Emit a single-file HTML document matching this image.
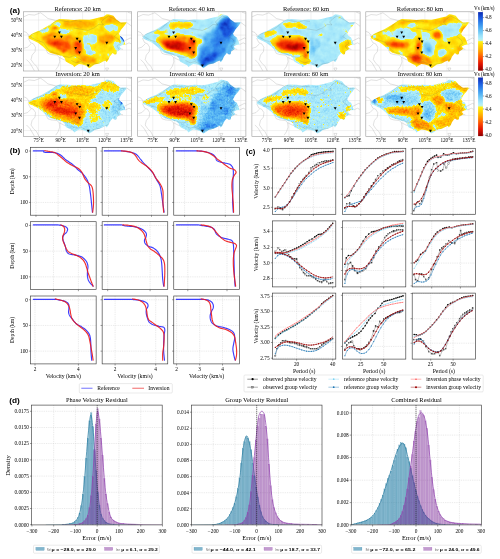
<!DOCTYPE html>
<html><head><meta charset="utf-8"><title>figure</title>
<style>html,body{margin:0;padding:0;background:#fff;}body{width:500px;height:559px;overflow:hidden;font-family:"Liberation Serif",serif;}svg{display:block;will-change:transform;transform:translateZ(0);filter:blur(0.32px)}</style>
</head><body>
<svg width="500" height="559" viewBox="0 0 500 559">
<rect width="500" height="559" fill="#fff"/>
<defs>
<clipPath id="chinaclip"><path d="M4.90,25.00 L8.50,22.00 L13.30,19.60 L18.10,17.80 L24.10,14.20 L28.90,11.20 L32.50,8.80 L36.10,7.20 L44.50,7.60 L50.50,8.20 L56.50,7.60 L65.90,8.00 L70.70,7.00 L75.50,5.80 L80.30,4.60 L83.30,2.40 L85.70,2.80 L89.90,4.00 L92.90,7.60 L97.10,10.60 L101.90,10.40 L103.30,10.80 L100.70,14.20 L97.70,17.80 L95.30,22.00 L96.50,24.00 L99.10,25.60 L100.50,28.60 L101.90,32.80 L98.90,33.10 L95.90,34.60 L97.70,37.00 L93.50,39.40 L92.90,42.40 L91.10,42.60 L89.10,41.20 L87.90,42.60 L86.10,45.00 L84.90,48.00 L83.10,50.40 L81.90,48.60 L79.50,49.80 L75.90,51.60 L71.10,52.80 L67.50,55.20 L65.70,56.40 L62.70,54.00 L59.10,52.80 L55.50,52.20 L52.50,54.00 L50.70,55.20 L49.50,53.40 L45.90,51.60 L42.30,49.80 L41.10,46.20 L38.50,44.00 L36.30,43.80 L32.50,42.60 L26.50,40.90 L22.90,38.20 L19.30,34.60 L14.50,31.00 L9.70,28.60 L5.50,26.80 Z"/></clipPath>
<clipPath id="mapclip"><rect x="0" y="0" width="108.2" height="59.2"/></clipPath>
<filter id="fm00" x="-6" y="-6" width="120.2" height="71.2" filterUnits="userSpaceOnUse" color-interpolation-filters="sRGB"><feGaussianBlur in="SourceGraphic" stdDeviation="1.25" result="h"/><feTurbulence type="fractalNoise" baseFrequency="0.13" numOctaves="3" seed="3" result="t"/><feColorMatrix in="t" type="matrix" values="1 0 0 0 0  1 0 0 0 0  1 0 0 0 0  0 0 0 0 1" result="n"/><feComposite in="h" in2="n" operator="arithmetic" k1="0" k2="1" k3="0.17" k4="-0.085" result="hn"/><feComponentTransfer in="hn"><feFuncR type="table" tableValues="0.549 0.579 0.609 0.639 0.669 0.699 0.729 0.759 0.789 0.819 0.848 0.878 0.889 0.901 0.912 0.923 0.934 0.945 0.956 0.967 0.978 0.989 1.000 1.000 1.000 1.000 1.000 1.000 1.000 1.000 1.000 1.000 1.000 1.000 1.000 1.000 1.000 1.000 1.000 1.000 1.000 1.000 1.000 1.000 1.000 1.000 1.000 1.000 1.000 1.000 0.861 0.722 0.708 0.695 0.681 0.668 0.654 0.641 0.627 0.602 0.577 0.552 0.527 0.502 0.477 0.452 0.427 0.402 0.376 0.360 0.343 0.326 0.309 0.292 0.275 0.258 0.242 0.225 0.208 0.198 0.189 0.179 0.169 0.160 0.150 0.140 0.131 0.121 0.112 0.102 0.096 0.091 0.085 0.079 0.073 0.068 0.062 0.056 0.051 0.045 0.039"/><feFuncG type="table" tableValues="0.000 0.006 0.011 0.017 0.023 0.029 0.034 0.040 0.046 0.051 0.057 0.063 0.086 0.108 0.131 0.154 0.177 0.200 0.222 0.245 0.268 0.291 0.314 0.342 0.371 0.399 0.428 0.456 0.485 0.513 0.542 0.570 0.599 0.627 0.650 0.673 0.695 0.718 0.741 0.763 0.786 0.809 0.831 0.848 0.865 0.882 0.899 0.915 0.932 0.949 0.949 0.949 0.941 0.933 0.925 0.918 0.910 0.902 0.894 0.879 0.864 0.849 0.835 0.820 0.805 0.790 0.775 0.760 0.745 0.727 0.709 0.691 0.673 0.655 0.637 0.619 0.601 0.583 0.565 0.545 0.525 0.505 0.485 0.465 0.445 0.425 0.405 0.385 0.365 0.345 0.325 0.305 0.285 0.265 0.245 0.225 0.205 0.185 0.165 0.145 0.125"/><feFuncB type="table" tableValues="0.000 0.000 0.000 0.000 0.000 0.000 0.000 0.000 0.000 0.000 0.000 0.000 0.000 0.000 0.000 0.000 0.000 0.000 0.000 0.000 0.000 0.000 0.000 0.000 0.000 0.000 0.000 0.000 0.000 0.000 0.000 0.000 0.000 0.000 0.000 0.000 0.000 0.000 0.000 0.000 0.000 0.000 0.000 0.013 0.027 0.040 0.054 0.067 0.081 0.094 0.539 0.984 0.984 0.983 0.983 0.982 0.982 0.981 0.980 0.978 0.976 0.975 0.973 0.971 0.969 0.967 0.965 0.963 0.961 0.958 0.955 0.953 0.950 0.947 0.944 0.942 0.939 0.936 0.933 0.928 0.922 0.916 0.911 0.905 0.899 0.893 0.888 0.882 0.876 0.871 0.852 0.834 0.815 0.796 0.778 0.759 0.741 0.722 0.704 0.685 0.667"/></feComponentTransfer></filter>
<filter id="fm01" x="-6" y="-6" width="120.2" height="71.2" filterUnits="userSpaceOnUse" color-interpolation-filters="sRGB"><feGaussianBlur in="SourceGraphic" stdDeviation="1.25" result="h"/><feTurbulence type="fractalNoise" baseFrequency="0.13" numOctaves="3" seed="4" result="t"/><feColorMatrix in="t" type="matrix" values="1 0 0 0 0  1 0 0 0 0  1 0 0 0 0  0 0 0 0 1" result="n"/><feComposite in="h" in2="n" operator="arithmetic" k1="0" k2="1" k3="0.17" k4="-0.085" result="hn"/><feComponentTransfer in="hn"><feFuncR type="table" tableValues="0.549 0.579 0.609 0.639 0.669 0.699 0.729 0.759 0.789 0.819 0.848 0.878 0.889 0.901 0.912 0.923 0.934 0.945 0.956 0.967 0.978 0.989 1.000 1.000 1.000 1.000 1.000 1.000 1.000 1.000 1.000 1.000 1.000 1.000 1.000 1.000 1.000 1.000 1.000 1.000 1.000 1.000 1.000 1.000 1.000 1.000 1.000 1.000 1.000 1.000 0.861 0.722 0.708 0.695 0.681 0.668 0.654 0.641 0.627 0.602 0.577 0.552 0.527 0.502 0.477 0.452 0.427 0.402 0.376 0.360 0.343 0.326 0.309 0.292 0.275 0.258 0.242 0.225 0.208 0.198 0.189 0.179 0.169 0.160 0.150 0.140 0.131 0.121 0.112 0.102 0.096 0.091 0.085 0.079 0.073 0.068 0.062 0.056 0.051 0.045 0.039"/><feFuncG type="table" tableValues="0.000 0.006 0.011 0.017 0.023 0.029 0.034 0.040 0.046 0.051 0.057 0.063 0.086 0.108 0.131 0.154 0.177 0.200 0.222 0.245 0.268 0.291 0.314 0.342 0.371 0.399 0.428 0.456 0.485 0.513 0.542 0.570 0.599 0.627 0.650 0.673 0.695 0.718 0.741 0.763 0.786 0.809 0.831 0.848 0.865 0.882 0.899 0.915 0.932 0.949 0.949 0.949 0.941 0.933 0.925 0.918 0.910 0.902 0.894 0.879 0.864 0.849 0.835 0.820 0.805 0.790 0.775 0.760 0.745 0.727 0.709 0.691 0.673 0.655 0.637 0.619 0.601 0.583 0.565 0.545 0.525 0.505 0.485 0.465 0.445 0.425 0.405 0.385 0.365 0.345 0.325 0.305 0.285 0.265 0.245 0.225 0.205 0.185 0.165 0.145 0.125"/><feFuncB type="table" tableValues="0.000 0.000 0.000 0.000 0.000 0.000 0.000 0.000 0.000 0.000 0.000 0.000 0.000 0.000 0.000 0.000 0.000 0.000 0.000 0.000 0.000 0.000 0.000 0.000 0.000 0.000 0.000 0.000 0.000 0.000 0.000 0.000 0.000 0.000 0.000 0.000 0.000 0.000 0.000 0.000 0.000 0.000 0.000 0.013 0.027 0.040 0.054 0.067 0.081 0.094 0.539 0.984 0.984 0.983 0.983 0.982 0.982 0.981 0.980 0.978 0.976 0.975 0.973 0.971 0.969 0.967 0.965 0.963 0.961 0.958 0.955 0.953 0.950 0.947 0.944 0.942 0.939 0.936 0.933 0.928 0.922 0.916 0.911 0.905 0.899 0.893 0.888 0.882 0.876 0.871 0.852 0.834 0.815 0.796 0.778 0.759 0.741 0.722 0.704 0.685 0.667"/></feComponentTransfer></filter>
<filter id="fm02" x="-6" y="-6" width="120.2" height="71.2" filterUnits="userSpaceOnUse" color-interpolation-filters="sRGB"><feGaussianBlur in="SourceGraphic" stdDeviation="1.25" result="h"/><feTurbulence type="fractalNoise" baseFrequency="0.13" numOctaves="3" seed="5" result="t"/><feColorMatrix in="t" type="matrix" values="1 0 0 0 0  1 0 0 0 0  1 0 0 0 0  0 0 0 0 1" result="n"/><feComposite in="h" in2="n" operator="arithmetic" k1="0" k2="1" k3="0.17" k4="-0.085" result="hn"/><feComponentTransfer in="hn"><feFuncR type="table" tableValues="0.549 0.579 0.609 0.639 0.669 0.699 0.729 0.759 0.789 0.819 0.848 0.878 0.889 0.901 0.912 0.923 0.934 0.945 0.956 0.967 0.978 0.989 1.000 1.000 1.000 1.000 1.000 1.000 1.000 1.000 1.000 1.000 1.000 1.000 1.000 1.000 1.000 1.000 1.000 1.000 1.000 1.000 1.000 1.000 1.000 1.000 1.000 1.000 1.000 1.000 0.861 0.722 0.708 0.695 0.681 0.668 0.654 0.641 0.627 0.602 0.577 0.552 0.527 0.502 0.477 0.452 0.427 0.402 0.376 0.360 0.343 0.326 0.309 0.292 0.275 0.258 0.242 0.225 0.208 0.198 0.189 0.179 0.169 0.160 0.150 0.140 0.131 0.121 0.112 0.102 0.096 0.091 0.085 0.079 0.073 0.068 0.062 0.056 0.051 0.045 0.039"/><feFuncG type="table" tableValues="0.000 0.006 0.011 0.017 0.023 0.029 0.034 0.040 0.046 0.051 0.057 0.063 0.086 0.108 0.131 0.154 0.177 0.200 0.222 0.245 0.268 0.291 0.314 0.342 0.371 0.399 0.428 0.456 0.485 0.513 0.542 0.570 0.599 0.627 0.650 0.673 0.695 0.718 0.741 0.763 0.786 0.809 0.831 0.848 0.865 0.882 0.899 0.915 0.932 0.949 0.949 0.949 0.941 0.933 0.925 0.918 0.910 0.902 0.894 0.879 0.864 0.849 0.835 0.820 0.805 0.790 0.775 0.760 0.745 0.727 0.709 0.691 0.673 0.655 0.637 0.619 0.601 0.583 0.565 0.545 0.525 0.505 0.485 0.465 0.445 0.425 0.405 0.385 0.365 0.345 0.325 0.305 0.285 0.265 0.245 0.225 0.205 0.185 0.165 0.145 0.125"/><feFuncB type="table" tableValues="0.000 0.000 0.000 0.000 0.000 0.000 0.000 0.000 0.000 0.000 0.000 0.000 0.000 0.000 0.000 0.000 0.000 0.000 0.000 0.000 0.000 0.000 0.000 0.000 0.000 0.000 0.000 0.000 0.000 0.000 0.000 0.000 0.000 0.000 0.000 0.000 0.000 0.000 0.000 0.000 0.000 0.000 0.000 0.013 0.027 0.040 0.054 0.067 0.081 0.094 0.539 0.984 0.984 0.983 0.983 0.982 0.982 0.981 0.980 0.978 0.976 0.975 0.973 0.971 0.969 0.967 0.965 0.963 0.961 0.958 0.955 0.953 0.950 0.947 0.944 0.942 0.939 0.936 0.933 0.928 0.922 0.916 0.911 0.905 0.899 0.893 0.888 0.882 0.876 0.871 0.852 0.834 0.815 0.796 0.778 0.759 0.741 0.722 0.704 0.685 0.667"/></feComponentTransfer></filter>
<filter id="fm03" x="-6" y="-6" width="120.2" height="71.2" filterUnits="userSpaceOnUse" color-interpolation-filters="sRGB"><feGaussianBlur in="SourceGraphic" stdDeviation="1.25" result="h"/><feTurbulence type="fractalNoise" baseFrequency="0.13" numOctaves="3" seed="6" result="t"/><feColorMatrix in="t" type="matrix" values="1 0 0 0 0  1 0 0 0 0  1 0 0 0 0  0 0 0 0 1" result="n"/><feComposite in="h" in2="n" operator="arithmetic" k1="0" k2="1" k3="0.17" k4="-0.085" result="hn"/><feComponentTransfer in="hn"><feFuncR type="table" tableValues="0.549 0.579 0.609 0.639 0.669 0.699 0.729 0.759 0.789 0.819 0.848 0.878 0.889 0.901 0.912 0.923 0.934 0.945 0.956 0.967 0.978 0.989 1.000 1.000 1.000 1.000 1.000 1.000 1.000 1.000 1.000 1.000 1.000 1.000 1.000 1.000 1.000 1.000 1.000 1.000 1.000 1.000 1.000 1.000 1.000 1.000 1.000 1.000 1.000 1.000 0.861 0.722 0.708 0.695 0.681 0.668 0.654 0.641 0.627 0.602 0.577 0.552 0.527 0.502 0.477 0.452 0.427 0.402 0.376 0.360 0.343 0.326 0.309 0.292 0.275 0.258 0.242 0.225 0.208 0.198 0.189 0.179 0.169 0.160 0.150 0.140 0.131 0.121 0.112 0.102 0.096 0.091 0.085 0.079 0.073 0.068 0.062 0.056 0.051 0.045 0.039"/><feFuncG type="table" tableValues="0.000 0.006 0.011 0.017 0.023 0.029 0.034 0.040 0.046 0.051 0.057 0.063 0.086 0.108 0.131 0.154 0.177 0.200 0.222 0.245 0.268 0.291 0.314 0.342 0.371 0.399 0.428 0.456 0.485 0.513 0.542 0.570 0.599 0.627 0.650 0.673 0.695 0.718 0.741 0.763 0.786 0.809 0.831 0.848 0.865 0.882 0.899 0.915 0.932 0.949 0.949 0.949 0.941 0.933 0.925 0.918 0.910 0.902 0.894 0.879 0.864 0.849 0.835 0.820 0.805 0.790 0.775 0.760 0.745 0.727 0.709 0.691 0.673 0.655 0.637 0.619 0.601 0.583 0.565 0.545 0.525 0.505 0.485 0.465 0.445 0.425 0.405 0.385 0.365 0.345 0.325 0.305 0.285 0.265 0.245 0.225 0.205 0.185 0.165 0.145 0.125"/><feFuncB type="table" tableValues="0.000 0.000 0.000 0.000 0.000 0.000 0.000 0.000 0.000 0.000 0.000 0.000 0.000 0.000 0.000 0.000 0.000 0.000 0.000 0.000 0.000 0.000 0.000 0.000 0.000 0.000 0.000 0.000 0.000 0.000 0.000 0.000 0.000 0.000 0.000 0.000 0.000 0.000 0.000 0.000 0.000 0.000 0.000 0.013 0.027 0.040 0.054 0.067 0.081 0.094 0.539 0.984 0.984 0.983 0.983 0.982 0.982 0.981 0.980 0.978 0.976 0.975 0.973 0.971 0.969 0.967 0.965 0.963 0.961 0.958 0.955 0.953 0.950 0.947 0.944 0.942 0.939 0.936 0.933 0.928 0.922 0.916 0.911 0.905 0.899 0.893 0.888 0.882 0.876 0.871 0.852 0.834 0.815 0.796 0.778 0.759 0.741 0.722 0.704 0.685 0.667"/></feComponentTransfer></filter>
<filter id="fm10" x="-6" y="-6" width="120.2" height="71.2" filterUnits="userSpaceOnUse" color-interpolation-filters="sRGB"><feGaussianBlur in="SourceGraphic" stdDeviation="1.0" result="h"/><feTurbulence type="fractalNoise" baseFrequency="0.55" numOctaves="3" seed="7" result="t"/><feColorMatrix in="t" type="matrix" values="1 0 0 0 0  1 0 0 0 0  1 0 0 0 0  0 0 0 0 1" result="n"/><feComposite in="h" in2="n" operator="arithmetic" k1="0" k2="1" k3="0.18" k4="-0.09" result="hn"/><feTurbulence type="fractalNoise" baseFrequency="0.14 0.224" numOctaves="2" seed="35" result="t2"/><feColorMatrix in="t2" type="matrix" values="1 0 0 0 0  1 0 0 0 0  1 0 0 0 0  0 0 0 0 1" result="n2"/><feComposite in="hn" in2="n2" operator="arithmetic" k1="0" k2="1" k3="0.11" k4="-0.055" result="hn"/><feComponentTransfer in="hn"><feFuncR type="table" tableValues="0.549 0.579 0.609 0.639 0.669 0.699 0.729 0.759 0.789 0.819 0.848 0.878 0.889 0.901 0.912 0.923 0.934 0.945 0.956 0.967 0.978 0.989 1.000 1.000 1.000 1.000 1.000 1.000 1.000 1.000 1.000 1.000 1.000 1.000 1.000 1.000 1.000 1.000 1.000 1.000 1.000 1.000 1.000 1.000 1.000 1.000 1.000 1.000 1.000 1.000 0.861 0.722 0.708 0.695 0.681 0.668 0.654 0.641 0.627 0.602 0.577 0.552 0.527 0.502 0.477 0.452 0.427 0.402 0.376 0.360 0.343 0.326 0.309 0.292 0.275 0.258 0.242 0.225 0.208 0.198 0.189 0.179 0.169 0.160 0.150 0.140 0.131 0.121 0.112 0.102 0.096 0.091 0.085 0.079 0.073 0.068 0.062 0.056 0.051 0.045 0.039"/><feFuncG type="table" tableValues="0.000 0.006 0.011 0.017 0.023 0.029 0.034 0.040 0.046 0.051 0.057 0.063 0.086 0.108 0.131 0.154 0.177 0.200 0.222 0.245 0.268 0.291 0.314 0.342 0.371 0.399 0.428 0.456 0.485 0.513 0.542 0.570 0.599 0.627 0.650 0.673 0.695 0.718 0.741 0.763 0.786 0.809 0.831 0.848 0.865 0.882 0.899 0.915 0.932 0.949 0.949 0.949 0.941 0.933 0.925 0.918 0.910 0.902 0.894 0.879 0.864 0.849 0.835 0.820 0.805 0.790 0.775 0.760 0.745 0.727 0.709 0.691 0.673 0.655 0.637 0.619 0.601 0.583 0.565 0.545 0.525 0.505 0.485 0.465 0.445 0.425 0.405 0.385 0.365 0.345 0.325 0.305 0.285 0.265 0.245 0.225 0.205 0.185 0.165 0.145 0.125"/><feFuncB type="table" tableValues="0.000 0.000 0.000 0.000 0.000 0.000 0.000 0.000 0.000 0.000 0.000 0.000 0.000 0.000 0.000 0.000 0.000 0.000 0.000 0.000 0.000 0.000 0.000 0.000 0.000 0.000 0.000 0.000 0.000 0.000 0.000 0.000 0.000 0.000 0.000 0.000 0.000 0.000 0.000 0.000 0.000 0.000 0.000 0.013 0.027 0.040 0.054 0.067 0.081 0.094 0.539 0.984 0.984 0.983 0.983 0.982 0.982 0.981 0.980 0.978 0.976 0.975 0.973 0.971 0.969 0.967 0.965 0.963 0.961 0.958 0.955 0.953 0.950 0.947 0.944 0.942 0.939 0.936 0.933 0.928 0.922 0.916 0.911 0.905 0.899 0.893 0.888 0.882 0.876 0.871 0.852 0.834 0.815 0.796 0.778 0.759 0.741 0.722 0.704 0.685 0.667"/></feComponentTransfer></filter>
<filter id="fm11" x="-6" y="-6" width="120.2" height="71.2" filterUnits="userSpaceOnUse" color-interpolation-filters="sRGB"><feGaussianBlur in="SourceGraphic" stdDeviation="1.0" result="h"/><feTurbulence type="fractalNoise" baseFrequency="0.55" numOctaves="3" seed="8" result="t"/><feColorMatrix in="t" type="matrix" values="1 0 0 0 0  1 0 0 0 0  1 0 0 0 0  0 0 0 0 1" result="n"/><feComposite in="h" in2="n" operator="arithmetic" k1="0" k2="1" k3="0.18" k4="-0.09" result="hn"/><feTurbulence type="fractalNoise" baseFrequency="0.14 0.224" numOctaves="2" seed="36" result="t2"/><feColorMatrix in="t2" type="matrix" values="1 0 0 0 0  1 0 0 0 0  1 0 0 0 0  0 0 0 0 1" result="n2"/><feComposite in="hn" in2="n2" operator="arithmetic" k1="0" k2="1" k3="0.11" k4="-0.055" result="hn"/><feComponentTransfer in="hn"><feFuncR type="table" tableValues="0.549 0.579 0.609 0.639 0.669 0.699 0.729 0.759 0.789 0.819 0.848 0.878 0.889 0.901 0.912 0.923 0.934 0.945 0.956 0.967 0.978 0.989 1.000 1.000 1.000 1.000 1.000 1.000 1.000 1.000 1.000 1.000 1.000 1.000 1.000 1.000 1.000 1.000 1.000 1.000 1.000 1.000 1.000 1.000 1.000 1.000 1.000 1.000 1.000 1.000 0.861 0.722 0.708 0.695 0.681 0.668 0.654 0.641 0.627 0.602 0.577 0.552 0.527 0.502 0.477 0.452 0.427 0.402 0.376 0.360 0.343 0.326 0.309 0.292 0.275 0.258 0.242 0.225 0.208 0.198 0.189 0.179 0.169 0.160 0.150 0.140 0.131 0.121 0.112 0.102 0.096 0.091 0.085 0.079 0.073 0.068 0.062 0.056 0.051 0.045 0.039"/><feFuncG type="table" tableValues="0.000 0.006 0.011 0.017 0.023 0.029 0.034 0.040 0.046 0.051 0.057 0.063 0.086 0.108 0.131 0.154 0.177 0.200 0.222 0.245 0.268 0.291 0.314 0.342 0.371 0.399 0.428 0.456 0.485 0.513 0.542 0.570 0.599 0.627 0.650 0.673 0.695 0.718 0.741 0.763 0.786 0.809 0.831 0.848 0.865 0.882 0.899 0.915 0.932 0.949 0.949 0.949 0.941 0.933 0.925 0.918 0.910 0.902 0.894 0.879 0.864 0.849 0.835 0.820 0.805 0.790 0.775 0.760 0.745 0.727 0.709 0.691 0.673 0.655 0.637 0.619 0.601 0.583 0.565 0.545 0.525 0.505 0.485 0.465 0.445 0.425 0.405 0.385 0.365 0.345 0.325 0.305 0.285 0.265 0.245 0.225 0.205 0.185 0.165 0.145 0.125"/><feFuncB type="table" tableValues="0.000 0.000 0.000 0.000 0.000 0.000 0.000 0.000 0.000 0.000 0.000 0.000 0.000 0.000 0.000 0.000 0.000 0.000 0.000 0.000 0.000 0.000 0.000 0.000 0.000 0.000 0.000 0.000 0.000 0.000 0.000 0.000 0.000 0.000 0.000 0.000 0.000 0.000 0.000 0.000 0.000 0.000 0.000 0.013 0.027 0.040 0.054 0.067 0.081 0.094 0.539 0.984 0.984 0.983 0.983 0.982 0.982 0.981 0.980 0.978 0.976 0.975 0.973 0.971 0.969 0.967 0.965 0.963 0.961 0.958 0.955 0.953 0.950 0.947 0.944 0.942 0.939 0.936 0.933 0.928 0.922 0.916 0.911 0.905 0.899 0.893 0.888 0.882 0.876 0.871 0.852 0.834 0.815 0.796 0.778 0.759 0.741 0.722 0.704 0.685 0.667"/></feComponentTransfer></filter>
<filter id="fm12" x="-6" y="-6" width="120.2" height="71.2" filterUnits="userSpaceOnUse" color-interpolation-filters="sRGB"><feGaussianBlur in="SourceGraphic" stdDeviation="1.0" result="h"/><feTurbulence type="fractalNoise" baseFrequency="0.55" numOctaves="3" seed="9" result="t"/><feColorMatrix in="t" type="matrix" values="1 0 0 0 0  1 0 0 0 0  1 0 0 0 0  0 0 0 0 1" result="n"/><feComposite in="h" in2="n" operator="arithmetic" k1="0" k2="1" k3="0.18" k4="-0.09" result="hn"/><feTurbulence type="fractalNoise" baseFrequency="0.14 0.224" numOctaves="2" seed="37" result="t2"/><feColorMatrix in="t2" type="matrix" values="1 0 0 0 0  1 0 0 0 0  1 0 0 0 0  0 0 0 0 1" result="n2"/><feComposite in="hn" in2="n2" operator="arithmetic" k1="0" k2="1" k3="0.11" k4="-0.055" result="hn"/><feComponentTransfer in="hn"><feFuncR type="table" tableValues="0.549 0.579 0.609 0.639 0.669 0.699 0.729 0.759 0.789 0.819 0.848 0.878 0.889 0.901 0.912 0.923 0.934 0.945 0.956 0.967 0.978 0.989 1.000 1.000 1.000 1.000 1.000 1.000 1.000 1.000 1.000 1.000 1.000 1.000 1.000 1.000 1.000 1.000 1.000 1.000 1.000 1.000 1.000 1.000 1.000 1.000 1.000 1.000 1.000 1.000 0.861 0.722 0.708 0.695 0.681 0.668 0.654 0.641 0.627 0.602 0.577 0.552 0.527 0.502 0.477 0.452 0.427 0.402 0.376 0.360 0.343 0.326 0.309 0.292 0.275 0.258 0.242 0.225 0.208 0.198 0.189 0.179 0.169 0.160 0.150 0.140 0.131 0.121 0.112 0.102 0.096 0.091 0.085 0.079 0.073 0.068 0.062 0.056 0.051 0.045 0.039"/><feFuncG type="table" tableValues="0.000 0.006 0.011 0.017 0.023 0.029 0.034 0.040 0.046 0.051 0.057 0.063 0.086 0.108 0.131 0.154 0.177 0.200 0.222 0.245 0.268 0.291 0.314 0.342 0.371 0.399 0.428 0.456 0.485 0.513 0.542 0.570 0.599 0.627 0.650 0.673 0.695 0.718 0.741 0.763 0.786 0.809 0.831 0.848 0.865 0.882 0.899 0.915 0.932 0.949 0.949 0.949 0.941 0.933 0.925 0.918 0.910 0.902 0.894 0.879 0.864 0.849 0.835 0.820 0.805 0.790 0.775 0.760 0.745 0.727 0.709 0.691 0.673 0.655 0.637 0.619 0.601 0.583 0.565 0.545 0.525 0.505 0.485 0.465 0.445 0.425 0.405 0.385 0.365 0.345 0.325 0.305 0.285 0.265 0.245 0.225 0.205 0.185 0.165 0.145 0.125"/><feFuncB type="table" tableValues="0.000 0.000 0.000 0.000 0.000 0.000 0.000 0.000 0.000 0.000 0.000 0.000 0.000 0.000 0.000 0.000 0.000 0.000 0.000 0.000 0.000 0.000 0.000 0.000 0.000 0.000 0.000 0.000 0.000 0.000 0.000 0.000 0.000 0.000 0.000 0.000 0.000 0.000 0.000 0.000 0.000 0.000 0.000 0.013 0.027 0.040 0.054 0.067 0.081 0.094 0.539 0.984 0.984 0.983 0.983 0.982 0.982 0.981 0.980 0.978 0.976 0.975 0.973 0.971 0.969 0.967 0.965 0.963 0.961 0.958 0.955 0.953 0.950 0.947 0.944 0.942 0.939 0.936 0.933 0.928 0.922 0.916 0.911 0.905 0.899 0.893 0.888 0.882 0.876 0.871 0.852 0.834 0.815 0.796 0.778 0.759 0.741 0.722 0.704 0.685 0.667"/></feComponentTransfer></filter>
<filter id="fm13" x="-6" y="-6" width="120.2" height="71.2" filterUnits="userSpaceOnUse" color-interpolation-filters="sRGB"><feGaussianBlur in="SourceGraphic" stdDeviation="1.0" result="h"/><feTurbulence type="fractalNoise" baseFrequency="0.55" numOctaves="3" seed="10" result="t"/><feColorMatrix in="t" type="matrix" values="1 0 0 0 0  1 0 0 0 0  1 0 0 0 0  0 0 0 0 1" result="n"/><feComposite in="h" in2="n" operator="arithmetic" k1="0" k2="1" k3="0.18" k4="-0.09" result="hn"/><feTurbulence type="fractalNoise" baseFrequency="0.14 0.224" numOctaves="2" seed="38" result="t2"/><feColorMatrix in="t2" type="matrix" values="1 0 0 0 0  1 0 0 0 0  1 0 0 0 0  0 0 0 0 1" result="n2"/><feComposite in="hn" in2="n2" operator="arithmetic" k1="0" k2="1" k3="0.11" k4="-0.055" result="hn"/><feComponentTransfer in="hn"><feFuncR type="table" tableValues="0.549 0.579 0.609 0.639 0.669 0.699 0.729 0.759 0.789 0.819 0.848 0.878 0.889 0.901 0.912 0.923 0.934 0.945 0.956 0.967 0.978 0.989 1.000 1.000 1.000 1.000 1.000 1.000 1.000 1.000 1.000 1.000 1.000 1.000 1.000 1.000 1.000 1.000 1.000 1.000 1.000 1.000 1.000 1.000 1.000 1.000 1.000 1.000 1.000 1.000 0.861 0.722 0.708 0.695 0.681 0.668 0.654 0.641 0.627 0.602 0.577 0.552 0.527 0.502 0.477 0.452 0.427 0.402 0.376 0.360 0.343 0.326 0.309 0.292 0.275 0.258 0.242 0.225 0.208 0.198 0.189 0.179 0.169 0.160 0.150 0.140 0.131 0.121 0.112 0.102 0.096 0.091 0.085 0.079 0.073 0.068 0.062 0.056 0.051 0.045 0.039"/><feFuncG type="table" tableValues="0.000 0.006 0.011 0.017 0.023 0.029 0.034 0.040 0.046 0.051 0.057 0.063 0.086 0.108 0.131 0.154 0.177 0.200 0.222 0.245 0.268 0.291 0.314 0.342 0.371 0.399 0.428 0.456 0.485 0.513 0.542 0.570 0.599 0.627 0.650 0.673 0.695 0.718 0.741 0.763 0.786 0.809 0.831 0.848 0.865 0.882 0.899 0.915 0.932 0.949 0.949 0.949 0.941 0.933 0.925 0.918 0.910 0.902 0.894 0.879 0.864 0.849 0.835 0.820 0.805 0.790 0.775 0.760 0.745 0.727 0.709 0.691 0.673 0.655 0.637 0.619 0.601 0.583 0.565 0.545 0.525 0.505 0.485 0.465 0.445 0.425 0.405 0.385 0.365 0.345 0.325 0.305 0.285 0.265 0.245 0.225 0.205 0.185 0.165 0.145 0.125"/><feFuncB type="table" tableValues="0.000 0.000 0.000 0.000 0.000 0.000 0.000 0.000 0.000 0.000 0.000 0.000 0.000 0.000 0.000 0.000 0.000 0.000 0.000 0.000 0.000 0.000 0.000 0.000 0.000 0.000 0.000 0.000 0.000 0.000 0.000 0.000 0.000 0.000 0.000 0.000 0.000 0.000 0.000 0.000 0.000 0.000 0.000 0.013 0.027 0.040 0.054 0.067 0.081 0.094 0.539 0.984 0.984 0.983 0.983 0.982 0.982 0.981 0.980 0.978 0.976 0.975 0.973 0.971 0.969 0.967 0.965 0.963 0.961 0.958 0.955 0.953 0.950 0.947 0.944 0.942 0.939 0.936 0.933 0.928 0.922 0.916 0.911 0.905 0.899 0.893 0.888 0.882 0.876 0.871 0.852 0.834 0.815 0.796 0.778 0.759 0.741 0.722 0.704 0.685 0.667"/></feComponentTransfer></filter>
<linearGradient id="cbar" x1="0" y1="1" x2="0" y2="0">
<stop offset="0" stop-color="#8c0000"/>
<stop offset="0.05" stop-color="#b20700"/>
<stop offset="0.11" stop-color="#df1000"/>
<stop offset="0.16" stop-color="#ed2c00"/>
<stop offset="0.22" stop-color="#fe4e00"/>
<stop offset="0.27" stop-color="#ff7100"/>
<stop offset="0.33" stop-color="#ff9c00"/>
<stop offset="0.38" stop-color="#ffba00"/>
<stop offset="0.42" stop-color="#ffd000"/>
<stop offset="0.46" stop-color="#ffe20b"/>
<stop offset="0.495" stop-color="#fff117"/>
<stop offset="0.515" stop-color="#c2f2dc"/>
<stop offset="0.55" stop-color="#adecfb"/>
<stop offset="0.6" stop-color="#99e0f9"/>
<stop offset="0.68" stop-color="#67c2f6"/>
<stop offset="0.73" stop-color="#4facf2"/>
<stop offset="0.78" stop-color="#3a95ef"/>
<stop offset="0.84" stop-color="#2978e7"/>
<stop offset="0.9" stop-color="#1b5adf"/>
<stop offset="0.95" stop-color="#1341c8"/>
<stop offset="1.0" stop-color="#0c28b1"/>
</linearGradient>
</defs>
<g transform="translate(23.5,11.8)">
<rect x="0.00" y="0.00" width="108.20" height="59.20" fill="#fff" stroke="none" stroke-width="0.5" rx="0"/>
<line x1="15.10" y1="0.00" x2="15.10" y2="59.20" stroke="#dcdcdc" stroke-width="0.4"/>
<line x1="37.10" y1="0.00" x2="37.10" y2="59.20" stroke="#dcdcdc" stroke-width="0.4"/>
<line x1="59.10" y1="0.00" x2="59.10" y2="59.20" stroke="#dcdcdc" stroke-width="0.4"/>
<line x1="81.10" y1="0.00" x2="81.10" y2="59.20" stroke="#dcdcdc" stroke-width="0.4"/>
<line x1="103.10" y1="0.00" x2="103.10" y2="59.20" stroke="#dcdcdc" stroke-width="0.4"/>
<line x1="0.00" y1="8.20" x2="108.20" y2="8.20" stroke="#dcdcdc" stroke-width="0.4"/>
<line x1="0.00" y1="23.30" x2="108.20" y2="23.30" stroke="#dcdcdc" stroke-width="0.4"/>
<line x1="0.00" y1="38.30" x2="108.20" y2="38.30" stroke="#dcdcdc" stroke-width="0.4"/>
<line x1="0.00" y1="53.40" x2="108.20" y2="53.40" stroke="#dcdcdc" stroke-width="0.4"/>
<g clip-path="url(#mapclip)" fill="none" stroke="#a8a8a8" stroke-width="0.35">
<polyline points="17.1,1.0 21.0,3.8 24.4,6.7 28.9,7.8 32.3,8.9"/>
<polyline points="0.2,19.6 3.0,20.7 5.3,23.6 4.7,25.2"/>
<polyline points="4.7,26.4 7.0,30.9 9.8,32.0 12.0,35.4 11.5,39.9 8.6,43.3 7.5,47.8 9.8,51.2 13.1,54.5 15.4,59.0"/>
<polyline points="0.2,36.5 4.1,35.4 7.5,32.0"/>
<polyline points="22.7,38.2 24.4,41.6 27.8,42.7 33.4,43.3 35.7,45.5 36.2,50.0 34.6,54.5 32.3,57.9"/>
<polyline points="35.7,45.5 40.2,47.8 43.6,48.9 47.0,51.2"/>
<polyline points="3.0,47.8 6.4,51.2 10.9,59.0"/>
<polyline points="0.2,5.0 5.3,2.7 10.9,3.3 17.1,1.0"/>
<polyline points="103.3,10.8 107.9,14.2 111.1,13.0"/>
<polyline points="97.7,31.0 101.9,28.6 106.7,26.2 111.1,28.0"/>
<polyline points="101.9,32.8 105.5,31.0 107.9,32.2"/>
<polyline points="104.3,0.4 107.9,1.6"/>
<polyline points="82.1,56.2 82.9,58.6 83.9,58.8 85.1,56.2 82.1,56.2"/>
<polyline points="93.5,39.4 97.1,37.0 99.5,37.6"/>
</g>
<g clip-path="url(#chinaclip)">
<g filter="url(#fm00)">
<rect x="-6.00" y="-6.00" width="120.20" height="71.20" fill="rgb(117,117,117)" stroke="none" stroke-width="0.5" rx="0"/>
<path d="M41.1,9.8 L45.2,9.0 L51.1,8.3 L56.7,8.1 L61.8,8.2 L66.5,8.6 L70.2,9.4 L72.5,10.6 L73.8,12.1 L73.5,13.4 L71.3,14.7 L67.6,15.8 L63.5,16.6 L58.7,16.8 L53.5,16.5 L48.9,16.1 L45.3,15.6 L42.5,14.8 L40.6,13.9 L39.6,12.6 L39.5,11.1 Z" fill="rgb(97,97,97)"/>
<path d="M75.8,7.2 L77.9,5.5 L81.3,3.9 L84.7,3.1 L87.8,3.5 L90.9,4.7 L93.7,6.0 L96.2,7.5 L98.5,9.2 L100.4,10.5 L102.0,11.2 L103.2,11.6 L103.3,12.1 L102.1,13.0 L99.8,13.9 L97.1,14.3 L93.9,13.8 L90.4,12.9 L87.0,12.1 L83.7,12.0 L80.5,12.0 L78.0,11.6 L76.4,10.4 L75.4,8.8 Z" fill="rgb(97,97,97)"/>
<path d="M74.7,24.6 L77.4,23.5 L81.3,22.7 L84.7,22.4 L87.4,23.0 L89.5,24.1 L90.8,25.5 L90.9,27.3 L90.0,29.3 L88.5,30.9 L86.1,31.8 L83.0,32.3 L80.3,32.2 L78.1,31.6 L76.4,30.4 L75.1,29.1 L74.2,27.6 L73.9,26.0 Z" fill="rgb(82,82,82)"/>
<path d="M18.2,26.2 L19.4,24.7 L21.7,23.4 L24.3,22.4 L26.7,21.5 L29.3,20.9 L32.1,20.6 L35.0,20.7 L37.9,21.1 L41.1,21.7 L44.5,22.6 L48.0,23.7 L51.1,24.6 L53.6,25.1 L55.6,25.4 L57.2,26.2 L58.3,27.7 L59.1,29.6 L59.4,31.8 L59.4,34.4 L59.1,37.2 L58.5,39.6 L57.8,41.5 L56.8,43.1 L55.6,44.1 L54.1,44.6 L52.4,44.5 L50.5,44.1 L48.3,43.2 L45.8,41.9 L43.3,40.8 L40.7,39.9 L38.0,39.3 L35.5,38.5 L33.1,37.7 L30.9,36.8 L28.7,35.8 L26.6,34.6 L24.6,33.3 L22.7,31.8 L20.7,30.0 L18.9,28.0 Z" fill="rgb(82,82,82)"/>
<path d="M24.3,29.1 L25.2,28.2 L26.9,27.4 L28.7,26.9 L30.8,26.8 L33.1,26.9 L35.5,27.3 L37.8,27.9 L40.2,28.7 L42.2,29.6 L43.8,30.4 L45.1,31.2 L46.0,32.2 L46.3,33.5 L46.1,34.9 L45.5,36.3 L44.7,37.6 L43.6,38.9 L42.2,39.6 L40.5,39.5 L38.5,38.9 L36.6,38.1 L34.7,37.2 L32.8,36.2 L31.0,35.2 L29.1,34.2 L27.3,33.2 L25.8,32.2 L24.8,31.2 L24.2,30.1 Z" fill="rgb(61,61,61)"/>
<path d="M38.6,31.8 L38.5,32.2 L38.1,32.5 L37.6,32.9 L36.8,33.1 L35.9,33.4 L34.9,33.5 L33.8,33.6 L32.6,33.6 L31.6,33.5 L30.6,33.4 L29.6,33.1 L28.9,32.9 L28.3,32.5 L28.0,32.2 L27.8,31.8 L28.0,31.4 L28.3,31.1 L28.9,30.7 L29.6,30.5 L30.6,30.2 L31.6,30.1 L32.6,30.0 L33.8,30.0 L34.9,30.1 L35.9,30.2 L36.8,30.5 L37.6,30.7 L38.1,31.1 L38.5,31.4 Z" fill="rgb(43,43,43)"/>
<path d="M34.3,31.8 L34.3,32.0 L34.1,32.2 L33.9,32.3 L33.6,32.5 L33.2,32.6 L32.8,32.7 L32.3,32.7 L31.9,32.7 L31.4,32.7 L31.0,32.6 L30.6,32.5 L30.3,32.3 L30.1,32.2 L29.9,32.0 L29.9,31.8 L29.9,31.6 L30.1,31.4 L30.3,31.3 L30.6,31.1 L31.0,31.0 L31.4,30.9 L31.9,30.9 L32.3,30.9 L32.8,30.9 L33.2,31.0 L33.6,31.1 L33.9,31.3 L34.1,31.4 L34.3,31.6 Z" fill="rgb(26,26,26)"/>
<path d="M41.5,39.6 L41.5,40.0 L41.4,40.3 L41.2,40.6 L41.0,40.8 L40.7,41.0 L40.4,41.1 L40.1,41.2 L39.8,41.2 L39.5,41.1 L39.2,41.0 L38.9,40.8 L38.7,40.6 L38.5,40.3 L38.4,40.0 L38.4,39.6 L38.4,39.3 L38.5,39.0 L38.7,38.7 L38.9,38.5 L39.2,38.3 L39.5,38.1 L39.8,38.1 L40.1,38.1 L40.4,38.1 L40.7,38.3 L41.0,38.5 L41.2,38.7 L41.4,39.0 L41.5,39.3 Z" fill="rgb(43,43,43)"/>
<path d="M51.4,29.6 L53.1,29.3 L55.5,29.9 L57.2,30.9 L57.7,32.4 L57.5,34.3 L57.2,36.3 L56.8,38.3 L56.3,40.4 L55.6,41.9 L54.6,42.7 L53.3,43.0 L52.3,42.6 L51.5,41.0 L51.0,38.7 L50.7,36.3 L50.6,33.8 L50.7,31.2 Z" fill="rgb(61,61,61)"/>
<path d="M55.4,31.8 L55.4,32.0 L55.3,32.3 L55.1,32.5 L55.0,32.6 L54.7,32.8 L54.5,32.9 L54.2,32.9 L53.9,32.9 L53.6,32.9 L53.4,32.8 L53.2,32.6 L53.0,32.5 L52.8,32.3 L52.7,32.0 L52.7,31.8 L52.7,31.6 L52.8,31.3 L53.0,31.1 L53.2,31.0 L53.4,30.8 L53.6,30.7 L53.9,30.7 L54.2,30.7 L54.5,30.7 L54.7,30.8 L55.0,31.0 L55.1,31.1 L55.3,31.3 L55.4,31.6 Z" fill="rgb(43,43,43)"/>
<path d="M54.9,38.5 L54.9,38.8 L54.8,39.1 L54.7,39.3 L54.5,39.5 L54.3,39.7 L54.0,39.8 L53.7,39.9 L53.5,39.9 L53.2,39.8 L52.9,39.7 L52.7,39.5 L52.5,39.3 L52.4,39.1 L52.3,38.8 L52.3,38.5 L52.3,38.2 L52.4,38.0 L52.5,37.7 L52.7,37.5 L52.9,37.4 L53.2,37.2 L53.5,37.2 L53.7,37.2 L54.0,37.2 L54.3,37.4 L54.5,37.5 L54.7,37.7 L54.8,38.0 L54.9,38.2 Z" fill="rgb(43,43,43)"/>
<path d="M34.3,16.1 L34.3,16.4 L34.1,16.7 L33.8,16.9 L33.5,17.1 L33.0,17.3 L32.5,17.4 L31.9,17.5 L31.4,17.5 L30.8,17.4 L30.3,17.3 L29.9,17.1 L29.5,16.9 L29.2,16.7 L29.0,16.4 L29.0,16.1 L29.0,15.8 L29.2,15.6 L29.5,15.3 L29.9,15.1 L30.3,15.0 L30.8,14.8 L31.4,14.8 L31.9,14.8 L32.5,14.8 L33.0,15.0 L33.5,15.1 L33.8,15.3 L34.1,15.6 L34.3,15.8 Z" fill="rgb(61,61,61)"/>
<path d="M16.4,19.5 L17.5,18.8 L19.2,18.0 L20.9,17.2 L22.4,16.7 L23.9,16.2 L24.9,16.1 L25.5,16.5 L25.7,17.2 L25.4,17.9 L24.2,18.6 L22.5,19.4 L20.9,19.9 L19.5,20.2 L18.1,20.2 L17.1,20.2 L16.4,20.1 L16.1,19.9 Z" fill="rgb(139,139,139)"/>
<path d="M31.7,11.6 L32.8,11.1 L34.7,10.8 L36.1,11.0 L36.9,11.8 L37.4,12.9 L37.3,13.9 L36.2,14.4 L34.6,14.7 L33.2,14.6 L32.3,13.8 L31.6,12.6 Z" fill="rgb(139,139,139)"/>
<path d="M36.1,17.9 L37.3,17.2 L39.0,16.8 L40.6,16.8 L42.1,17.0 L43.5,17.6 L44.4,18.4 L44.7,19.6 L44.5,21.1 L44.0,22.4 L43.1,23.2 L41.9,23.8 L40.6,24.0 L39.3,23.8 L38.0,23.2 L37.0,22.4 L36.3,21.0 L35.9,19.3 Z" fill="rgb(139,139,139)"/>
<path d="M59.0,25.5 L60.7,23.9 L63.2,22.9 L65.7,22.4 L68.3,22.2 L70.9,22.5 L72.9,23.3 L73.9,24.7 L74.3,26.6 L74.2,28.4 L73.4,30.0 L72.1,31.5 L70.6,32.9 L69.1,34.3 L67.3,35.7 L65.7,36.7 L64.2,37.6 L62.9,38.1 L61.7,38.1 L60.6,37.3 L59.6,35.9 L59.0,34.0 L58.5,31.3 L58.4,28.1 Z" fill="rgb(139,139,139)"/>
<path d="M62.3,39.6 L64.2,38.9 L66.8,38.5 L69.1,38.5 L70.7,39.3 L72.0,40.7 L72.4,41.9 L71.5,42.8 L69.8,43.7 L67.9,44.1 L66.2,44.1 L64.4,43.7 L63.0,43.0 L62.2,42.0 L61.9,40.7 Z" fill="rgb(139,139,139)"/>
<path d="M80.9,13.9 L82.9,12.8 L85.5,11.9 L88.1,11.6 L90.6,12.3 L92.9,13.6 L94.4,15.0 L94.4,16.5 L93.6,18.2 L92.1,19.5 L89.9,20.2 L87.2,20.6 L84.7,20.6 L82.9,20.0 L81.4,19.0 L80.5,17.9 L80.0,16.6 L80.1,15.1 Z" fill="rgb(139,139,139)"/>
<path d="M90.8,29.1 L93.0,29.2 L96.0,30.4 L98.4,31.8 L99.5,33.3 L100.0,35.1 L99.7,36.7 L98.5,38.2 L96.6,39.4 L94.8,39.9 L93.3,39.3 L92.0,38.0 L91.0,36.3 L90.4,33.8 L90.1,30.9 Z" fill="rgb(139,139,139)"/>
<path d="M78.7,43.0 L78.6,43.4 L78.5,43.7 L78.3,44.1 L78.1,44.3 L77.8,44.6 L77.5,44.7 L77.1,44.8 L76.7,44.8 L76.3,44.7 L76.0,44.6 L75.7,44.3 L75.5,44.1 L75.3,43.7 L75.2,43.4 L75.1,43.0 L75.2,42.6 L75.3,42.3 L75.5,41.9 L75.7,41.7 L76.0,41.4 L76.3,41.3 L76.7,41.2 L77.1,41.2 L77.5,41.3 L77.8,41.4 L78.1,41.7 L78.3,41.9 L78.5,42.3 L78.6,42.6 Z" fill="rgb(139,139,139)"/>
<path d="M53.8,45.7 L53.8,46.0 L53.7,46.3 L53.5,46.6 L53.3,46.8 L53.0,47.0 L52.7,47.2 L52.4,47.2 L52.1,47.2 L51.8,47.2 L51.5,47.0 L51.2,46.8 L51.0,46.6 L50.8,46.3 L50.7,46.0 L50.7,45.7 L50.7,45.4 L50.8,45.0 L51.0,44.8 L51.2,44.5 L51.5,44.3 L51.8,44.2 L52.1,44.1 L52.4,44.1 L52.7,44.2 L53.0,44.3 L53.3,44.5 L53.5,44.8 L53.7,45.0 L53.8,45.4 Z" fill="rgb(139,139,139)"/>
<path d="M57.9,44.1 L60.0,43.9 L62.9,44.3 L65.7,44.8 L68.3,45.4 L70.8,46.1 L72.4,47.0 L72.9,48.3 L72.5,49.7 L71.3,50.8 L69.1,51.4 L66.2,51.7 L63.5,51.5 L61.0,50.9 L58.7,49.8 L57.2,48.6 L56.6,47.0 L56.8,45.3 Z" fill="rgb(82,82,82)"/>
<path d="M97.1,24.6 L97.5,24.8 L98.2,25.4 L98.9,26.2 L99.6,27.3 L100.3,28.6 L100.6,29.6 L100.4,30.0 L99.9,30.2 L99.3,30.0 L98.7,29.3 L98.0,28.3 L97.5,27.3 L97.2,26.3 L97.0,25.2 Z" fill="rgb(224,224,224)"/>
<path d="M55.8,50.2 L55.8,50.4 L55.7,50.7 L55.6,51.0 L55.4,51.2 L55.2,51.3 L54.9,51.4 L54.6,51.5 L54.4,51.5 L54.1,51.4 L53.8,51.3 L53.6,51.2 L53.4,51.0 L53.3,50.7 L53.2,50.4 L53.2,50.2 L53.2,49.9 L53.3,49.6 L53.4,49.4 L53.6,49.2 L53.8,49.0 L54.1,48.9 L54.4,48.8 L54.6,48.8 L54.9,48.9 L55.2,49.0 L55.4,49.2 L55.6,49.4 L55.7,49.6 L55.8,49.9 Z" fill="rgb(61,61,61)"/>
</g>
<polyline points="97.3,24.8 98.6,26.6 100.0,28.0 100.6,29.4" fill="none" stroke="#1a44dc" stroke-width="1.3" stroke-linecap="round" stroke-linejoin="round"/>
<g fill="none" stroke="#555" stroke-width="0.3" stroke-opacity="0.55">
<polyline points="5.3,24.0 10.1,21.6 16.1,19.6 22.1,17.4 26.9,13.8 30.5,10.2 34.1,8.0 38.9,9.0 46.1,10.2 52.1,8.8 58.1,9.6"/>
<polyline points="5.3,24.0 12.5,28.2 19.7,30.6 23.9,36.6 28.1,40.2 34.1,42.0 38.9,44.4 46.1,45.6 50.9,43.8 54.5,46.2 58.1,48.6"/>
<polyline points="50.1,16.2 57.3,17.4 64.5,18.6 70.5,16.2 75.3,12.6 80.1,13.2 77.7,10.2 81.3,6.6 84.9,4.2"/>
<polyline points="84.9,4.2 90.9,7.2 98.1,11.4 102.9,10.8"/>
<polyline points="94.5,21.0 90.9,24.6 95.7,28.2 96.9,31.8 93.3,34.2 95.7,37.8 90.9,43.8 86.1,46.2 82.5,48.6 77.7,51.0 70.5,52.2 65.7,54.6"/>
<polyline points="47.7,48.6 52.5,51.0 57.3,49.8 62.1,52.2 65.7,54.6"/>
</g>
</g>
<path d="M34.45,19.65 L37.35,19.65 L35.90,22.25 Z" fill="#000"/>
<path d="M29.85,23.85 L32.75,23.85 L31.30,26.45 Z" fill="#000"/>
<path d="M36.45,23.85 L39.35,23.85 L37.90,26.45 Z" fill="#000"/>
<path d="M52.15,26.05 L55.05,26.05 L53.60,28.65 Z" fill="#000"/>
<path d="M54.85,28.75 L57.75,28.75 L56.30,31.35 Z" fill="#000"/>
<path d="M50.75,35.25 L53.65,35.25 L52.20,37.85 Z" fill="#000"/>
<path d="M54.55,39.65 L57.45,39.65 L56.00,42.25 Z" fill="#000"/>
<path d="M81.85,30.05 L84.75,30.05 L83.30,32.65 Z" fill="#000"/>
<path d="M63.25,52.65 L66.15,52.65 L64.70,55.25 Z" fill="#000"/>
<rect x="0.00" y="0.00" width="108.20" height="59.20" fill="none" stroke="#9a9a9a" stroke-width="0.6" rx="0"/>
</g>
<text x="77.60" y="10.50" font-size="6.5" text-anchor="middle" font-family="Liberation Serif" font-weight="normal" fill="#000">Reference: 20 km</text>
<text x="21.90" y="21.90" font-size="5.2" text-anchor="end" font-family="Liberation Serif" font-weight="normal" fill="#000">50°N</text>
<text x="21.90" y="37.00" font-size="5.2" text-anchor="end" font-family="Liberation Serif" font-weight="normal" fill="#000">40°N</text>
<text x="21.90" y="52.00" font-size="5.2" text-anchor="end" font-family="Liberation Serif" font-weight="normal" fill="#000">30°N</text>
<text x="21.90" y="67.10" font-size="5.2" text-anchor="end" font-family="Liberation Serif" font-weight="normal" fill="#000">20°N</text>
<g transform="translate(137.7,11.8)">
<rect x="0.00" y="0.00" width="108.20" height="59.20" fill="#fff" stroke="none" stroke-width="0.5" rx="0"/>
<line x1="15.10" y1="0.00" x2="15.10" y2="59.20" stroke="#dcdcdc" stroke-width="0.4"/>
<line x1="37.10" y1="0.00" x2="37.10" y2="59.20" stroke="#dcdcdc" stroke-width="0.4"/>
<line x1="59.10" y1="0.00" x2="59.10" y2="59.20" stroke="#dcdcdc" stroke-width="0.4"/>
<line x1="81.10" y1="0.00" x2="81.10" y2="59.20" stroke="#dcdcdc" stroke-width="0.4"/>
<line x1="103.10" y1="0.00" x2="103.10" y2="59.20" stroke="#dcdcdc" stroke-width="0.4"/>
<line x1="0.00" y1="8.20" x2="108.20" y2="8.20" stroke="#dcdcdc" stroke-width="0.4"/>
<line x1="0.00" y1="23.30" x2="108.20" y2="23.30" stroke="#dcdcdc" stroke-width="0.4"/>
<line x1="0.00" y1="38.30" x2="108.20" y2="38.30" stroke="#dcdcdc" stroke-width="0.4"/>
<line x1="0.00" y1="53.40" x2="108.20" y2="53.40" stroke="#dcdcdc" stroke-width="0.4"/>
<g clip-path="url(#mapclip)" fill="none" stroke="#a8a8a8" stroke-width="0.35">
<polyline points="17.1,1.0 21.0,3.8 24.4,6.7 28.9,7.8 32.3,8.9"/>
<polyline points="0.2,19.6 3.0,20.7 5.3,23.6 4.7,25.2"/>
<polyline points="4.7,26.4 7.0,30.9 9.8,32.0 12.0,35.4 11.5,39.9 8.6,43.3 7.5,47.8 9.8,51.2 13.1,54.5 15.4,59.0"/>
<polyline points="0.2,36.5 4.1,35.4 7.5,32.0"/>
<polyline points="22.7,38.2 24.4,41.6 27.8,42.7 33.4,43.3 35.7,45.5 36.2,50.0 34.6,54.5 32.3,57.9"/>
<polyline points="35.7,45.5 40.2,47.8 43.6,48.9 47.0,51.2"/>
<polyline points="3.0,47.8 6.4,51.2 10.9,59.0"/>
<polyline points="0.2,5.0 5.3,2.7 10.9,3.3 17.1,1.0"/>
<polyline points="103.3,10.8 107.9,14.2 111.1,13.0"/>
<polyline points="97.7,31.0 101.9,28.6 106.7,26.2 111.1,28.0"/>
<polyline points="101.9,32.8 105.5,31.0 107.9,32.2"/>
<polyline points="104.3,0.4 107.9,1.6"/>
<polyline points="82.1,56.2 82.9,58.6 83.9,58.8 85.1,56.2 82.1,56.2"/>
<polyline points="93.5,39.4 97.1,37.0 99.5,37.6"/>
</g>
<g clip-path="url(#chinaclip)">
<g filter="url(#fm01)">
<rect x="-6.00" y="-6.00" width="120.20" height="71.20" fill="rgb(139,139,139)" stroke="none" stroke-width="0.5" rx="0"/>
<path d="M58.8,25.1 L60.6,23.0 L63.0,21.6 L65.5,20.6 L67.8,20.1 L70.1,20.1 L72.2,19.5 L73.9,17.9 L75.3,15.8 L76.7,13.9 L78.2,12.1 L79.8,10.4 L81.2,9.4 L82.7,9.4 L84.1,10.1 L84.5,11.6 L83.4,14.2 L81.2,17.5 L78.9,20.6 L76.8,23.0 L74.5,25.2 L72.2,27.3 L69.9,29.6 L67.6,31.8 L65.5,34.0 L63.8,36.7 L62.3,39.3 L61.0,40.8 L59.9,40.3 L58.9,38.7 L58.3,36.3 L58.0,32.8 L58.0,28.6 Z" fill="rgb(158,158,158)"/>
<path d="M65.5,25.1 L67.3,23.3 L69.8,22.0 L72.2,20.6 L74.5,18.9 L76.9,17.0 L78.9,15.0 L80.6,12.8 L82.0,10.4 L83.4,8.3 L84.7,6.4 L86.1,4.8 L87.9,3.8 L90.6,3.6 L93.9,3.9 L96.9,4.9 L99.6,6.7 L102.2,9.0 L103.6,11.6 L103.2,14.5 L101.6,17.5 L100.2,20.6 L99.4,23.5 L98.8,26.4 L98.0,29.6 L97.1,33.3 L96.0,37.3 L94.6,40.8 L92.7,43.4 L90.4,45.6 L87.9,47.5 L85.1,49.2 L82.0,50.7 L78.9,52.0 L75.9,53.0 L72.8,53.8 L70.0,54.2 L67.5,54.2 L65.2,53.8 L63.3,53.1 L61.5,52.0 L60.0,50.5 L59.2,48.6 L59.3,46.2 L60.1,43.4 L61.0,40.8 L62.1,38.5 L63.4,36.4 L64.4,34.0 L64.7,31.1 L64.8,27.8 Z" fill="rgb(178,178,178)"/>
<path d="M82.3,8.3 L85.3,6.8 L89.0,6.0 L92.4,6.0 L95.2,7.3 L97.7,9.5 L99.1,12.1 L98.8,15.0 L97.4,18.3 L95.7,21.7 L94.1,25.1 L92.3,28.5 L90.6,31.8 L89.3,34.8 L88.1,37.7 L86.8,40.3 L85.1,42.6 L83.3,44.6 L81.2,46.4 L78.7,48.1 L76.0,49.6 L73.3,50.8 L70.6,51.8 L67.9,52.4 L65.5,52.4 L63.5,51.5 L61.8,49.9 L61.0,47.9 L61.5,45.4 L62.8,42.5 L64.4,39.6 L66.1,37.0 L68.0,34.4 L70.0,31.8 L71.9,29.2 L73.9,26.6 L75.6,24.0 L76.9,21.3 L77.9,18.7 L78.9,16.1 L79.8,13.3 L80.7,10.5 Z" fill="rgb(201,201,201)"/>
<path d="M82.3,11.6 L84.4,9.9 L87.4,8.6 L90.1,8.3 L92.5,9.4 L94.5,11.4 L95.7,13.9 L95.7,16.9 L94.8,20.2 L93.5,22.8 L91.9,24.4 L89.8,25.2 L87.9,25.1 L86.0,23.9 L84.3,21.8 L83.0,19.5 L82.1,16.9 L81.7,14.0 Z" fill="rgb(224,224,224)"/>
<path d="M63.3,50.2 L64.5,48.2 L66.6,46.1 L68.9,44.1 L71.4,42.3 L74.2,40.6 L76.7,39.6 L79.1,39.8 L81.3,40.6 L82.3,41.9 L81.3,43.5 L79.1,45.6 L76.7,47.5 L74.5,49.1 L72.1,50.7 L70.0,52.0 L68.1,53.1 L66.4,54.0 L65.1,54.2 L63.9,53.4 L63.2,51.9 Z" fill="rgb(224,224,224)"/>
<path d="M90.1,12.5 L90.1,12.9 L89.9,13.2 L89.6,13.5 L89.3,13.7 L88.8,13.9 L88.3,14.0 L87.7,14.1 L87.2,14.1 L86.6,14.0 L86.1,13.9 L85.7,13.7 L85.3,13.5 L85.0,13.2 L84.8,12.9 L84.8,12.5 L84.8,12.2 L85.0,11.9 L85.3,11.6 L85.7,11.4 L86.1,11.2 L86.6,11.0 L87.2,11.0 L87.7,11.0 L88.3,11.0 L88.8,11.2 L89.3,11.4 L89.6,11.6 L89.9,11.9 L90.1,12.2 Z" fill="rgb(247,247,247)"/>
<path d="M85.7,16.1 L85.6,16.4 L85.5,16.7 L85.3,16.9 L85.1,17.1 L84.8,17.3 L84.4,17.4 L84.1,17.5 L83.7,17.5 L83.3,17.4 L83.0,17.3 L82.7,17.1 L82.4,16.9 L82.2,16.7 L82.1,16.4 L82.1,16.1 L82.1,15.8 L82.2,15.6 L82.4,15.3 L82.7,15.1 L83.0,15.0 L83.3,14.8 L83.7,14.8 L84.1,14.8 L84.4,14.8 L84.8,15.0 L85.1,15.1 L85.3,15.3 L85.5,15.6 L85.6,15.8 Z" fill="rgb(247,247,247)"/>
<path d="M79.4,43.0 L79.3,43.3 L79.2,43.6 L79.0,43.9 L78.6,44.2 L78.3,44.4 L77.8,44.5 L77.4,44.6 L76.9,44.6 L76.5,44.5 L76.0,44.4 L75.6,44.2 L75.3,43.9 L75.1,43.6 L75.0,43.3 L74.9,43.0 L75.0,42.7 L75.1,42.4 L75.3,42.1 L75.6,41.8 L76.0,41.6 L76.5,41.5 L76.9,41.4 L77.4,41.4 L77.8,41.5 L78.3,41.6 L78.6,41.8 L79.0,42.1 L79.2,42.4 L79.3,42.7 Z" fill="rgb(247,247,247)"/>
<path d="M72.2,47.0 L72.2,47.4 L72.0,47.7 L71.8,48.0 L71.5,48.2 L71.1,48.4 L70.7,48.5 L70.2,48.6 L69.7,48.6 L69.3,48.5 L68.9,48.4 L68.5,48.2 L68.2,48.0 L67.9,47.7 L67.8,47.4 L67.7,47.0 L67.8,46.7 L67.9,46.4 L68.2,46.1 L68.5,45.9 L68.9,45.7 L69.3,45.5 L69.7,45.5 L70.2,45.5 L70.7,45.5 L71.1,45.7 L71.5,45.9 L71.8,46.1 L72.0,46.4 L72.2,46.7 Z" fill="rgb(247,247,247)"/>
<path d="M67.1,53.8 L67.0,54.0 L66.9,54.2 L66.7,54.4 L66.4,54.6 L66.1,54.7 L65.7,54.8 L65.3,54.9 L64.8,54.9 L64.4,54.8 L64.1,54.7 L63.7,54.6 L63.4,54.4 L63.2,54.2 L63.1,54.0 L63.0,53.8 L63.1,53.5 L63.2,53.3 L63.4,53.1 L63.7,52.9 L64.1,52.8 L64.4,52.7 L64.8,52.6 L65.3,52.6 L65.7,52.7 L66.1,52.8 L66.4,52.9 L66.7,53.1 L66.9,53.3 L67.0,53.5 Z" fill="rgb(247,247,247)"/>
<path d="M92.8,7.6 L92.8,7.8 L92.7,8.0 L92.6,8.1 L92.5,8.3 L92.3,8.4 L92.1,8.5 L91.8,8.5 L91.6,8.5 L91.4,8.5 L91.2,8.4 L91.0,8.3 L90.8,8.1 L90.7,8.0 L90.6,7.8 L90.6,7.6 L90.6,7.4 L90.7,7.2 L90.8,7.1 L91.0,6.9 L91.2,6.8 L91.4,6.8 L91.6,6.7 L91.8,6.7 L92.1,6.8 L92.3,6.8 L92.5,6.9 L92.6,7.1 L92.7,7.2 L92.8,7.4 Z" fill="rgb(247,247,247)"/>
<path d="M31.9,12.8 L34.0,11.8 L37.4,11.1 L40.9,10.5 L44.3,10.2 L48.0,10.2 L50.9,10.5 L53.2,11.3 L54.8,12.4 L55.4,13.4 L54.8,14.5 L53.1,15.5 L50.9,16.1 L48.2,16.2 L45.0,15.9 L42.0,15.7 L39.1,15.9 L36.3,16.2 L34.1,16.1 L32.6,15.2 L31.6,13.9 Z" fill="rgb(112,112,112)"/>
<path d="M36.4,13.0 L38.0,12.4 L40.5,11.9 L43.1,11.6 L45.7,11.6 L48.3,11.8 L50.3,12.1 L51.6,12.6 L52.3,13.3 L52.1,13.9 L50.5,14.3 L48.0,14.6 L45.3,14.8 L42.6,14.9 L39.7,14.9 L37.5,14.8 L36.3,14.3 L35.9,13.6 Z" fill="rgb(97,97,97)"/>
<path d="M14.0,20.6 L15.4,19.9 L18.0,19.2 L20.7,18.8 L23.3,18.8 L25.8,19.0 L27.4,19.5 L27.5,20.4 L26.6,21.5 L25.2,22.4 L23.2,22.8 L20.7,23.0 L18.5,22.8 L16.4,22.3 L14.6,21.4 Z" fill="rgb(112,112,112)"/>
<path d="M18.5,28.4 L19.3,27.1 L20.9,25.8 L22.9,24.6 L25.5,23.8 L28.6,23.3 L31.9,22.8 L35.6,22.5 L39.4,22.4 L43.1,22.4 L46.3,22.6 L49.2,22.9 L52.1,23.3 L54.8,23.8 L57.5,24.3 L59.9,25.1 L62.2,26.1 L64.2,27.3 L65.5,28.4 L65.7,29.6 L65.3,30.8 L64.4,31.8 L63.0,32.5 L61.2,33.1 L59.9,34.0 L59.4,35.7 L59.3,37.6 L59.2,39.6 L59.1,41.7 L59.0,43.7 L58.3,45.2 L56.9,46.1 L55.0,46.5 L53.2,46.4 L51.8,45.5 L50.4,44.2 L48.7,43.0 L46.4,42.3 L43.7,41.7 L40.9,41.2 L37.9,40.7 L34.8,40.3 L31.9,39.6 L29.4,38.7 L27.2,37.5 L25.2,36.3 L23.4,35.0 L21.9,33.6 L20.7,32.2 L19.5,31.0 L18.6,29.7 Z" fill="rgb(112,112,112)"/>
<path d="M21.8,29.1 L22.9,27.8 L25.0,26.9 L27.4,26.2 L30.2,25.7 L33.3,25.3 L36.4,25.1 L39.4,24.8 L42.4,24.7 L45.3,24.6 L48.2,24.8 L50.9,25.0 L53.2,25.5 L55.1,26.2 L56.6,27.2 L57.7,28.4 L58.2,30.0 L58.4,31.9 L58.3,34.0 L58.1,36.7 L57.7,39.6 L57.0,41.9 L55.9,43.2 L54.6,44.0 L53.2,44.1 L51.9,43.5 L50.5,42.3 L48.7,41.2 L46.4,40.6 L43.7,40.1 L40.9,39.6 L37.9,39.3 L34.7,39.0 L31.9,38.5 L29.5,37.7 L27.4,36.6 L25.6,35.2 L23.8,33.2 L22.3,31.0 Z" fill="rgb(82,82,82)"/>
<path d="M24.7,30.0 L26.1,29.0 L28.3,28.2 L30.8,27.8 L33.3,27.8 L36.0,28.1 L38.6,28.4 L41.0,28.7 L43.3,29.1 L45.3,29.6 L47.2,30.2 L48.8,30.9 L50.3,31.8 L51.5,32.8 L52.6,34.0 L53.2,35.2 L53.3,36.5 L52.9,37.9 L52.1,39.0 L50.6,39.5 L48.6,39.6 L46.5,39.6 L44.3,39.5 L42.1,39.3 L39.7,39.0 L37.1,38.6 L34.3,38.1 L31.9,37.4 L29.9,36.4 L28.3,35.3 L27.0,34.0 L25.7,32.7 L24.8,31.2 Z" fill="rgb(43,43,43)"/>
<path d="M28.5,31.8 L29.8,30.8 L31.9,30.0 L34.1,29.6 L36.7,29.6 L39.4,30.1 L42.0,30.7 L44.2,31.3 L46.1,32.0 L47.6,32.9 L48.5,34.0 L49.0,35.2 L48.7,36.3 L47.4,37.1 L45.4,37.7 L43.1,38.1 L40.6,38.1 L37.8,37.8 L35.3,37.4 L33.1,36.8 L31.1,36.0 L29.7,35.2 L28.7,34.1 L28.2,32.9 Z" fill="rgb(26,26,26)"/>
<path d="M51.6,26.2 L53.2,26.0 L55.4,26.5 L57.0,27.3 L57.7,28.6 L57.9,30.3 L57.7,31.8 L56.8,32.9 L55.6,33.8 L54.3,34.0 L53.1,33.4 L51.9,32.1 L51.2,30.7 L50.9,29.1 L51.0,27.3 Z" fill="rgb(43,43,43)"/>
<path d="M53.2,38.1 L54.3,37.9 L55.8,38.6 L57.0,39.6 L57.4,41.1 L57.4,42.8 L57.0,44.1 L56.1,44.9 L54.8,45.3 L53.9,44.8 L53.3,42.8 L53.0,40.0 Z" fill="rgb(61,61,61)"/>
<path d="M34.6,21.7 L34.5,22.0 L34.3,22.3 L34.1,22.5 L33.7,22.7 L33.2,22.9 L32.7,23.0 L32.2,23.1 L31.6,23.1 L31.1,23.0 L30.6,22.9 L30.1,22.7 L29.7,22.5 L29.5,22.3 L29.3,22.0 L29.2,21.7 L29.3,21.4 L29.5,21.2 L29.7,20.9 L30.1,20.7 L30.6,20.6 L31.1,20.4 L31.6,20.4 L32.2,20.4 L32.7,20.4 L33.2,20.6 L33.7,20.7 L34.1,20.9 L34.3,21.2 L34.5,21.4 Z" fill="rgb(139,139,139)"/>
</g>
<g fill="none" stroke="#555" stroke-width="0.3" stroke-opacity="0.55">
<polyline points="5.3,24.0 10.1,21.6 16.1,19.6 22.1,17.4 26.9,13.8 30.5,10.2 34.1,8.0 38.9,9.0 46.1,10.2 52.1,8.8 58.1,9.6"/>
<polyline points="5.3,24.0 12.5,28.2 19.7,30.6 23.9,36.6 28.1,40.2 34.1,42.0 38.9,44.4 46.1,45.6 50.9,43.8 54.5,46.2 58.1,48.6"/>
<polyline points="50.1,16.2 57.3,17.4 64.5,18.6 70.5,16.2 75.3,12.6 80.1,13.2 77.7,10.2 81.3,6.6 84.9,4.2"/>
<polyline points="84.9,4.2 90.9,7.2 98.1,11.4 102.9,10.8"/>
<polyline points="94.5,21.0 90.9,24.6 95.7,28.2 96.9,31.8 93.3,34.2 95.7,37.8 90.9,43.8 86.1,46.2 82.5,48.6 77.7,51.0 70.5,52.2 65.7,54.6"/>
<polyline points="47.7,48.6 52.5,51.0 57.3,49.8 62.1,52.2 65.7,54.6"/>
</g>
</g>
<path d="M34.45,19.65 L37.35,19.65 L35.90,22.25 Z" fill="#000"/>
<path d="M29.85,23.85 L32.75,23.85 L31.30,26.45 Z" fill="#000"/>
<path d="M36.45,23.85 L39.35,23.85 L37.90,26.45 Z" fill="#000"/>
<path d="M52.15,26.05 L55.05,26.05 L53.60,28.65 Z" fill="#000"/>
<path d="M54.85,28.75 L57.75,28.75 L56.30,31.35 Z" fill="#000"/>
<path d="M50.75,35.25 L53.65,35.25 L52.20,37.85 Z" fill="#000"/>
<path d="M54.55,39.65 L57.45,39.65 L56.00,42.25 Z" fill="#000"/>
<path d="M81.85,30.05 L84.75,30.05 L83.30,32.65 Z" fill="#000"/>
<path d="M63.25,52.65 L66.15,52.65 L64.70,55.25 Z" fill="#000"/>
<rect x="0.00" y="0.00" width="108.20" height="59.20" fill="none" stroke="#9a9a9a" stroke-width="0.6" rx="0"/>
</g>
<text x="191.80" y="10.50" font-size="6.5" text-anchor="middle" font-family="Liberation Serif" font-weight="normal" fill="#000">Reference: 40 km</text>
<g transform="translate(251.9,11.8)">
<rect x="0.00" y="0.00" width="108.20" height="59.20" fill="#fff" stroke="none" stroke-width="0.5" rx="0"/>
<line x1="15.10" y1="0.00" x2="15.10" y2="59.20" stroke="#dcdcdc" stroke-width="0.4"/>
<line x1="37.10" y1="0.00" x2="37.10" y2="59.20" stroke="#dcdcdc" stroke-width="0.4"/>
<line x1="59.10" y1="0.00" x2="59.10" y2="59.20" stroke="#dcdcdc" stroke-width="0.4"/>
<line x1="81.10" y1="0.00" x2="81.10" y2="59.20" stroke="#dcdcdc" stroke-width="0.4"/>
<line x1="103.10" y1="0.00" x2="103.10" y2="59.20" stroke="#dcdcdc" stroke-width="0.4"/>
<line x1="0.00" y1="8.20" x2="108.20" y2="8.20" stroke="#dcdcdc" stroke-width="0.4"/>
<line x1="0.00" y1="23.30" x2="108.20" y2="23.30" stroke="#dcdcdc" stroke-width="0.4"/>
<line x1="0.00" y1="38.30" x2="108.20" y2="38.30" stroke="#dcdcdc" stroke-width="0.4"/>
<line x1="0.00" y1="53.40" x2="108.20" y2="53.40" stroke="#dcdcdc" stroke-width="0.4"/>
<g clip-path="url(#mapclip)" fill="none" stroke="#a8a8a8" stroke-width="0.35">
<polyline points="17.1,1.0 21.0,3.8 24.4,6.7 28.9,7.8 32.3,8.9"/>
<polyline points="0.2,19.6 3.0,20.7 5.3,23.6 4.7,25.2"/>
<polyline points="4.7,26.4 7.0,30.9 9.8,32.0 12.0,35.4 11.5,39.9 8.6,43.3 7.5,47.8 9.8,51.2 13.1,54.5 15.4,59.0"/>
<polyline points="0.2,36.5 4.1,35.4 7.5,32.0"/>
<polyline points="22.7,38.2 24.4,41.6 27.8,42.7 33.4,43.3 35.7,45.5 36.2,50.0 34.6,54.5 32.3,57.9"/>
<polyline points="35.7,45.5 40.2,47.8 43.6,48.9 47.0,51.2"/>
<polyline points="3.0,47.8 6.4,51.2 10.9,59.0"/>
<polyline points="0.2,5.0 5.3,2.7 10.9,3.3 17.1,1.0"/>
<polyline points="103.3,10.8 107.9,14.2 111.1,13.0"/>
<polyline points="97.7,31.0 101.9,28.6 106.7,26.2 111.1,28.0"/>
<polyline points="101.9,32.8 105.5,31.0 107.9,32.2"/>
<polyline points="104.3,0.4 107.9,1.6"/>
<polyline points="82.1,56.2 82.9,58.6 83.9,58.8 85.1,56.2 82.1,56.2"/>
<polyline points="93.5,39.4 97.1,37.0 99.5,37.6"/>
</g>
<g clip-path="url(#chinaclip)">
<g filter="url(#fm02)">
<rect x="-6.00" y="-6.00" width="120.20" height="71.20" fill="rgb(142,142,142)" stroke="none" stroke-width="0.5" rx="0"/>
<path d="M57.5,25.1 L59.1,24.0 L61.1,23.6 L63.1,24.0 L64.8,25.2 L66.5,27.2 L67.5,29.6 L67.7,32.5 L67.2,35.7 L66.4,38.5 L65.2,40.6 L63.6,42.2 L61.9,43.0 L60.1,43.0 L58.2,42.3 L56.8,40.8 L56.1,38.2 L55.9,34.9 L55.9,31.8 L56.1,29.2 L56.5,26.8 Z" fill="rgb(158,158,158)"/>
<path d="M63.7,37.4 L63.7,37.8 L63.6,38.1 L63.4,38.5 L63.1,38.7 L62.8,39.0 L62.5,39.1 L62.1,39.2 L61.7,39.2 L61.4,39.1 L61.1,39.0 L60.7,38.7 L60.5,38.5 L60.3,38.1 L60.2,37.8 L60.1,37.4 L60.2,37.0 L60.3,36.7 L60.5,36.3 L60.7,36.1 L61.1,35.8 L61.4,35.7 L61.7,35.6 L62.1,35.6 L62.5,35.7 L62.8,35.8 L63.1,36.1 L63.4,36.3 L63.6,36.7 L63.7,37.0 Z" fill="rgb(178,178,178)"/>
<path d="M76.5,11.6 L79.6,10.1 L83.8,8.8 L87.7,8.3 L91.3,8.8 L94.6,10.0 L96.7,11.6 L97.1,13.8 L96.2,16.4 L94.4,18.4 L91.2,19.3 L87.0,19.6 L83.2,19.5 L80.0,19.1 L77.2,18.4 L75.4,17.2 L74.7,15.5 L75.0,13.5 Z" fill="rgb(139,139,139)"/>
<path d="M11.5,21.7 L12.8,20.7 L14.9,19.6 L17.1,18.8 L19.5,18.2 L21.9,17.9 L23.9,17.9 L25.2,18.5 L26.1,19.6 L26.1,20.6 L24.9,21.5 L22.7,22.5 L20.5,23.3 L18.2,24.0 L15.7,24.5 L13.8,24.6 L12.4,24.0 L11.5,22.8 Z" fill="rgb(112,112,112)"/>
<path d="M19.2,21.0 L19.1,21.3 L18.9,21.5 L18.6,21.7 L18.3,21.9 L17.8,22.0 L17.3,22.1 L16.8,22.2 L16.2,22.2 L15.6,22.1 L15.1,22.0 L14.7,21.9 L14.3,21.7 L14.0,21.5 L13.8,21.3 L13.8,21.0 L13.8,20.8 L14.0,20.6 L14.3,20.4 L14.7,20.2 L15.1,20.1 L15.6,20.0 L16.2,19.9 L16.8,19.9 L17.3,20.0 L17.8,20.1 L18.3,20.2 L18.6,20.4 L18.9,20.6 L19.1,20.8 Z" fill="rgb(97,97,97)"/>
<path d="M86.6,31.8 L87.9,30.5 L90.0,30.0 L92.2,29.6 L94.2,28.9 L96.2,28.4 L97.8,28.4 L99.0,29.4 L99.8,31.1 L100.0,32.9 L99.3,35.1 L98.0,37.6 L96.7,39.6 L95.6,41.2 L94.5,42.4 L93.3,43.0 L91.8,42.9 L90.2,42.2 L88.8,40.8 L87.6,38.0 L86.7,34.5 Z" fill="rgb(112,112,112)"/>
<path d="M33.9,12.1 L36.2,11.3 L39.6,10.7 L42.9,10.5 L45.7,10.8 L48.4,11.3 L50.7,12.1 L52.8,13.0 L54.5,14.0 L55.2,15.0 L54.5,15.9 L52.8,16.8 L50.7,17.2 L48.4,17.1 L45.6,16.6 L42.9,16.1 L40.0,16.0 L37.2,16.0 L35.1,15.7 L33.8,14.6 L33.3,13.2 Z" fill="rgb(112,112,112)"/>
<path d="M72.0,22.4 L72.0,22.7 L71.8,23.0 L71.6,23.3 L71.3,23.6 L70.9,23.7 L70.5,23.9 L70.0,23.9 L69.5,23.9 L69.1,23.9 L68.7,23.7 L68.3,23.6 L68.0,23.3 L67.7,23.0 L67.6,22.7 L67.5,22.4 L67.6,22.1 L67.7,21.8 L68.0,21.5 L68.3,21.2 L68.7,21.0 L69.1,20.9 L69.5,20.8 L70.0,20.8 L70.5,20.9 L70.9,21.0 L71.3,21.2 L71.6,21.5 L71.8,21.8 L72.0,22.1 Z" fill="rgb(112,112,112)"/>
<path d="M53.7,9.4 L53.6,9.6 L53.5,9.8 L53.3,9.9 L53.1,10.1 L52.7,10.2 L52.4,10.3 L52.1,10.3 L51.7,10.3 L51.3,10.3 L51.0,10.2 L50.7,10.1 L50.4,9.9 L50.2,9.8 L50.1,9.6 L50.1,9.4 L50.1,9.2 L50.2,9.0 L50.4,8.9 L50.7,8.7 L51.0,8.6 L51.3,8.5 L51.7,8.5 L52.1,8.5 L52.4,8.5 L52.7,8.6 L53.1,8.7 L53.3,8.9 L53.5,9.0 L53.6,9.2 Z" fill="rgb(112,112,112)"/>
<path d="M92.2,31.8 L93.9,30.3 L96.0,29.6 L97.8,29.6 L99.0,30.5 L99.8,32.2 L100.0,34.0 L99.3,35.9 L98.0,37.9 L96.7,39.6 L95.5,41.1 L94.4,42.4 L93.3,43.0 L92.1,42.9 L91.0,42.2 L90.4,40.8 L90.5,38.0 L91.1,34.5 Z" fill="rgb(112,112,112)"/>
<path d="M102.0,13.9 L102.0,14.1 L101.8,14.3 L101.5,14.5 L101.1,14.7 L100.7,14.8 L100.2,14.9 L99.6,15.0 L99.1,15.0 L98.5,14.9 L98.0,14.8 L97.5,14.7 L97.2,14.5 L96.9,14.3 L96.7,14.1 L96.7,13.9 L96.7,13.7 L96.9,13.4 L97.2,13.2 L97.5,13.1 L98.0,12.9 L98.5,12.8 L99.1,12.8 L99.6,12.8 L100.2,12.8 L100.7,12.9 L101.1,13.1 L101.5,13.2 L101.8,13.4 L102.0,13.7 Z" fill="rgb(112,112,112)"/>
<path d="M44.0,46.4 L45.9,45.4 L49.0,44.9 L51.9,44.8 L53.9,45.0 L55.5,45.5 L56.8,46.4 L57.7,47.7 L58.2,49.4 L58.1,50.8 L57.3,51.9 L55.8,52.7 L54.1,53.1 L51.9,53.1 L49.5,52.8 L47.4,52.0 L45.6,50.3 L44.2,48.1 Z" fill="rgb(112,112,112)"/>
<path d="M18.7,29.6 L19.5,28.2 L20.8,26.7 L22.7,25.5 L25.3,24.8 L28.4,24.3 L31.7,24.0 L35.4,23.6 L39.2,23.3 L42.9,23.3 L46.2,23.5 L49.3,24.0 L51.9,24.6 L53.9,25.4 L55.6,26.2 L56.8,27.3 L57.6,28.6 L58.0,30.1 L58.1,31.8 L57.9,33.9 L57.3,36.3 L56.8,38.5 L56.6,40.6 L56.4,42.6 L55.9,44.1 L54.8,45.1 L53.4,45.6 L51.9,45.7 L50.2,45.1 L48.4,44.0 L46.3,43.0 L43.8,42.3 L41.1,41.7 L38.4,41.2 L35.8,40.9 L33.1,40.8 L30.6,40.3 L28.1,39.3 L25.8,38.0 L23.9,36.7 L22.3,35.5 L21.0,34.2 L20.1,32.9 L19.2,31.8 L18.7,30.7 Z" fill="rgb(112,112,112)"/>
<path d="M22.3,30.7 L23.3,29.4 L25.1,28.2 L27.2,27.3 L29.6,26.8 L32.3,26.5 L35.1,26.2 L38.0,25.9 L41.1,25.6 L44.0,25.5 L46.7,25.8 L49.3,26.2 L51.4,26.9 L53.1,27.6 L54.3,28.4 L55.2,29.6 L55.8,31.2 L56.0,33.1 L55.9,35.2 L55.5,37.5 L54.9,40.0 L54.1,41.9 L53.2,42.8 L52.1,43.1 L50.7,43.0 L49.1,42.5 L47.3,41.5 L45.1,40.8 L42.7,40.3 L40.0,40.0 L37.3,39.6 L34.6,39.3 L31.9,39.1 L29.5,38.5 L27.5,37.6 L25.9,36.4 L24.5,35.2 L23.3,33.7 L22.4,32.1 Z" fill="rgb(82,82,82)"/>
<path d="M25.0,31.8 L26.3,30.8 L28.3,29.8 L30.6,29.1 L33.0,28.9 L35.7,29.0 L38.4,29.1 L41.1,29.2 L43.8,29.3 L46.3,29.6 L48.4,30.1 L50.4,30.9 L51.9,31.8 L52.9,33.0 L53.5,34.4 L53.7,35.8 L53.4,37.3 L52.6,38.7 L51.4,39.6 L49.7,39.9 L47.5,39.8 L45.1,39.6 L42.6,39.5 L39.9,39.3 L37.3,39.0 L34.9,38.5 L32.6,38.0 L30.6,37.4 L28.8,36.7 L27.3,36.0 L26.1,35.2 L25.2,34.1 L24.7,32.9 Z" fill="rgb(43,43,43)"/>
<path d="M28.3,32.9 L29.5,32.2 L31.6,31.7 L33.9,31.4 L36.4,31.2 L39.2,31.2 L41.8,31.4 L44.3,31.7 L46.6,32.2 L48.5,32.9 L49.8,33.8 L50.7,34.9 L50.7,35.8 L49.9,36.7 L48.3,37.5 L46.3,38.1 L43.9,38.3 L41.1,38.3 L38.4,38.1 L36.0,37.8 L33.6,37.4 L31.7,36.7 L30.0,35.6 L28.7,34.1 Z" fill="rgb(26,26,26)"/>
<path d="M47.4,34.5 L47.2,34.9 L46.8,35.3 L46.1,35.7 L45.2,36.0 L44.0,36.2 L42.7,36.4 L41.4,36.5 L39.9,36.5 L38.6,36.4 L37.3,36.2 L36.2,36.0 L35.2,35.7 L34.5,35.3 L34.1,34.9 L33.9,34.5 L34.1,34.1 L34.5,33.7 L35.2,33.3 L36.2,33.0 L37.3,32.7 L38.6,32.6 L39.9,32.5 L41.4,32.5 L42.7,32.6 L44.0,32.7 L45.2,33.0 L46.1,33.3 L46.8,33.7 L47.2,34.1 Z" fill="rgb(8,8,8)"/>
<path d="M51.9,40.8 L53.0,40.3 L54.6,40.5 L55.9,41.2 L56.4,42.5 L56.6,44.3 L56.3,45.7 L55.4,46.4 L54.1,46.7 L53.0,46.4 L52.2,44.7 L51.8,42.4 Z" fill="rgb(61,61,61)"/>
</g>
<g fill="none" stroke="#555" stroke-width="0.3" stroke-opacity="0.55">
<polyline points="5.3,24.0 10.1,21.6 16.1,19.6 22.1,17.4 26.9,13.8 30.5,10.2 34.1,8.0 38.9,9.0 46.1,10.2 52.1,8.8 58.1,9.6"/>
<polyline points="5.3,24.0 12.5,28.2 19.7,30.6 23.9,36.6 28.1,40.2 34.1,42.0 38.9,44.4 46.1,45.6 50.9,43.8 54.5,46.2 58.1,48.6"/>
<polyline points="50.1,16.2 57.3,17.4 64.5,18.6 70.5,16.2 75.3,12.6 80.1,13.2 77.7,10.2 81.3,6.6 84.9,4.2"/>
<polyline points="84.9,4.2 90.9,7.2 98.1,11.4 102.9,10.8"/>
<polyline points="94.5,21.0 90.9,24.6 95.7,28.2 96.9,31.8 93.3,34.2 95.7,37.8 90.9,43.8 86.1,46.2 82.5,48.6 77.7,51.0 70.5,52.2 65.7,54.6"/>
<polyline points="47.7,48.6 52.5,51.0 57.3,49.8 62.1,52.2 65.7,54.6"/>
</g>
</g>
<path d="M34.45,19.65 L37.35,19.65 L35.90,22.25 Z" fill="#000"/>
<path d="M29.85,23.85 L32.75,23.85 L31.30,26.45 Z" fill="#000"/>
<path d="M36.45,23.85 L39.35,23.85 L37.90,26.45 Z" fill="#000"/>
<path d="M52.15,26.05 L55.05,26.05 L53.60,28.65 Z" fill="#000"/>
<path d="M54.85,28.75 L57.75,28.75 L56.30,31.35 Z" fill="#000"/>
<path d="M50.75,35.25 L53.65,35.25 L52.20,37.85 Z" fill="#000"/>
<path d="M54.55,39.65 L57.45,39.65 L56.00,42.25 Z" fill="#000"/>
<path d="M81.85,30.05 L84.75,30.05 L83.30,32.65 Z" fill="#000"/>
<path d="M63.25,52.65 L66.15,52.65 L64.70,55.25 Z" fill="#000"/>
<rect x="0.00" y="0.00" width="108.20" height="59.20" fill="none" stroke="#9a9a9a" stroke-width="0.6" rx="0"/>
</g>
<text x="306.00" y="10.50" font-size="6.5" text-anchor="middle" font-family="Liberation Serif" font-weight="normal" fill="#000">Reference: 60 km</text>
<g transform="translate(365.8,11.8)">
<rect x="0.00" y="0.00" width="108.20" height="59.20" fill="#fff" stroke="none" stroke-width="0.5" rx="0"/>
<line x1="15.10" y1="0.00" x2="15.10" y2="59.20" stroke="#dcdcdc" stroke-width="0.4"/>
<line x1="37.10" y1="0.00" x2="37.10" y2="59.20" stroke="#dcdcdc" stroke-width="0.4"/>
<line x1="59.10" y1="0.00" x2="59.10" y2="59.20" stroke="#dcdcdc" stroke-width="0.4"/>
<line x1="81.10" y1="0.00" x2="81.10" y2="59.20" stroke="#dcdcdc" stroke-width="0.4"/>
<line x1="103.10" y1="0.00" x2="103.10" y2="59.20" stroke="#dcdcdc" stroke-width="0.4"/>
<line x1="0.00" y1="8.20" x2="108.20" y2="8.20" stroke="#dcdcdc" stroke-width="0.4"/>
<line x1="0.00" y1="23.30" x2="108.20" y2="23.30" stroke="#dcdcdc" stroke-width="0.4"/>
<line x1="0.00" y1="38.30" x2="108.20" y2="38.30" stroke="#dcdcdc" stroke-width="0.4"/>
<line x1="0.00" y1="53.40" x2="108.20" y2="53.40" stroke="#dcdcdc" stroke-width="0.4"/>
<g clip-path="url(#mapclip)" fill="none" stroke="#a8a8a8" stroke-width="0.35">
<polyline points="17.1,1.0 21.0,3.8 24.4,6.7 28.9,7.8 32.3,8.9"/>
<polyline points="0.2,19.6 3.0,20.7 5.3,23.6 4.7,25.2"/>
<polyline points="4.7,26.4 7.0,30.9 9.8,32.0 12.0,35.4 11.5,39.9 8.6,43.3 7.5,47.8 9.8,51.2 13.1,54.5 15.4,59.0"/>
<polyline points="0.2,36.5 4.1,35.4 7.5,32.0"/>
<polyline points="22.7,38.2 24.4,41.6 27.8,42.7 33.4,43.3 35.7,45.5 36.2,50.0 34.6,54.5 32.3,57.9"/>
<polyline points="35.7,45.5 40.2,47.8 43.6,48.9 47.0,51.2"/>
<polyline points="3.0,47.8 6.4,51.2 10.9,59.0"/>
<polyline points="0.2,5.0 5.3,2.7 10.9,3.3 17.1,1.0"/>
<polyline points="103.3,10.8 107.9,14.2 111.1,13.0"/>
<polyline points="97.7,31.0 101.9,28.6 106.7,26.2 111.1,28.0"/>
<polyline points="101.9,32.8 105.5,31.0 107.9,32.2"/>
<polyline points="104.3,0.4 107.9,1.6"/>
<polyline points="82.1,56.2 82.9,58.6 83.9,58.8 85.1,56.2 82.1,56.2"/>
<polyline points="93.5,39.4 97.1,37.0 99.5,37.6"/>
</g>
<g clip-path="url(#chinaclip)">
<g filter="url(#fm03)">
<rect x="-6.00" y="-6.00" width="120.20" height="71.20" fill="rgb(117,117,117)" stroke="none" stroke-width="0.5" rx="0"/>
<path d="M34.0,9.4 L37.3,8.6 L42.1,8.0 L47.5,7.6 L53.3,7.8 L59.6,8.2 L65.4,8.3 L70.4,7.7 L74.9,6.8 L78.8,6.0 L82.7,5.3 L86.0,4.8 L87.8,4.9 L87.6,6.4 L86.0,8.7 L83.3,10.5 L79.5,11.4 L74.7,11.9 L69.9,12.1 L65.4,12.1 L60.9,11.9 L56.4,11.6 L51.8,11.4 L47.1,11.2 L43.0,11.2 L39.7,11.7 L37.1,12.5 L35.2,12.8 L33.7,11.9 L33.1,10.6 Z" fill="rgb(97,97,97)"/>
<path d="M20.6,20.6 L22.6,19.3 L26.0,18.1 L29.6,17.2 L32.9,16.7 L36.3,16.5 L39.6,16.6 L42.9,17.0 L46.1,17.8 L48.6,18.8 L50.4,20.0 L51.5,21.5 L52.0,22.8 L51.5,24.1 L50.3,25.3 L48.6,26.2 L46.4,26.8 L43.6,27.2 L40.8,27.3 L37.8,27.1 L34.7,26.7 L31.8,26.2 L28.9,26.0 L26.2,25.7 L24.0,25.1 L22.1,23.8 L20.6,22.1 Z" fill="rgb(139,139,139)"/>
<path d="M55.3,22.8 L57.5,21.8 L60.5,21.5 L63.2,21.7 L65.4,22.7 L67.3,24.3 L68.8,26.2 L69.6,28.6 L70.0,31.3 L69.9,34.0 L69.2,36.8 L68.0,39.5 L66.5,41.9 L64.8,43.9 L62.9,45.5 L60.9,46.4 L58.9,46.3 L56.9,45.4 L55.3,44.1 L54.2,42.3 L53.5,39.9 L53.1,37.4 L53.2,34.8 L53.7,32.1 L54.2,29.6 L54.3,27.0 L54.4,24.6 Z" fill="rgb(139,139,139)"/>
<path d="M57.6,31.8 L59.5,30.6 L62.1,30.2 L64.3,30.7 L65.6,32.4 L66.4,35.0 L66.5,37.4 L65.5,39.3 L63.8,41.0 L62.0,41.9 L60.4,41.8 L58.7,41.1 L57.6,39.6 L57.0,37.2 L56.9,34.1 Z" fill="rgb(158,158,158)"/>
<path d="M64.3,37.4 L64.2,37.8 L64.1,38.1 L63.9,38.5 L63.5,38.7 L63.2,39.0 L62.7,39.1 L62.3,39.2 L61.8,39.2 L61.3,39.1 L60.9,39.0 L60.5,38.7 L60.2,38.5 L60.0,38.1 L59.9,37.8 L59.8,37.4 L59.9,37.0 L60.0,36.7 L60.2,36.3 L60.5,36.1 L60.9,35.8 L61.3,35.7 L61.8,35.6 L62.3,35.6 L62.7,35.7 L63.2,35.8 L63.5,36.1 L63.9,36.3 L64.1,36.7 L64.2,37.0 Z" fill="rgb(178,178,178)"/>
<path d="M41.9,11.6 L44.0,10.9 L47.1,10.5 L49.7,10.5 L51.5,11.3 L52.7,12.6 L53.1,13.9 L52.2,15.0 L50.5,16.0 L48.6,16.6 L46.7,16.7 L44.6,16.3 L43.0,15.7 L42.0,14.5 L41.4,12.9 Z" fill="rgb(139,139,139)"/>
<path d="M73.2,15.0 L74.8,13.5 L77.3,12.5 L80.0,11.6 L82.5,10.9 L85.1,10.5 L87.8,10.5 L90.7,11.2 L93.7,12.3 L95.6,13.9 L96.1,16.0 L95.6,18.4 L94.5,20.6 L93.0,22.4 L91.0,23.9 L88.9,25.1 L86.8,25.9 L84.5,26.4 L82.2,26.2 L79.8,25.2 L77.4,23.6 L75.5,21.7 L74.1,19.5 L73.2,17.1 Z" fill="rgb(139,139,139)"/>
<path d="M72.1,38.5 L74.0,37.3 L76.6,36.4 L78.8,36.3 L80.5,37.3 L81.8,39.0 L82.2,40.8 L81.3,42.5 L79.6,44.2 L77.7,45.2 L75.9,45.4 L74.0,45.0 L72.6,44.1 L71.8,42.5 L71.6,40.3 Z" fill="rgb(139,139,139)"/>
<path d="M67.6,20.6 L69.2,19.7 L71.4,19.3 L73.2,19.5 L74.4,20.6 L75.3,22.3 L75.5,24.0 L74.8,25.4 L73.5,26.6 L72.1,27.3 L70.7,27.2 L69.2,26.5 L68.1,25.5 L67.4,24.0 L67.2,22.1 Z" fill="rgb(61,61,61)"/>
<path d="M94.5,17.2 L96.4,15.9 L99.1,14.6 L101.2,13.9 L102.5,14.1 L103.1,14.9 L103.0,16.1 L101.7,18.0 L99.7,20.2 L97.9,21.7 L96.7,21.9 L95.7,21.4 L95.0,20.6 L94.4,19.6 L94.0,18.4 Z" fill="rgb(82,82,82)"/>
<path d="M19.5,29.6 L21.4,28.9 L24.3,28.5 L27.3,28.4 L30.3,28.6 L33.4,29.0 L36.3,29.6 L39.0,30.1 L41.4,30.8 L43.0,31.8 L43.4,33.3 L43.0,35.0 L41.9,36.3 L40.1,37.0 L37.7,37.3 L35.2,37.4 L32.6,37.2 L29.9,36.8 L27.3,36.3 L24.8,35.7 L22.4,35.0 L20.6,34.0 L19.5,32.6 L19.0,30.9 Z" fill="rgb(82,82,82)"/>
<path d="M25.1,31.8 L26.7,31.3 L29.3,30.8 L31.8,30.7 L34.3,30.8 L36.9,31.2 L38.5,31.8 L38.9,32.7 L38.4,33.7 L37.4,34.5 L35.9,34.9 L33.8,35.1 L31.8,35.2 L29.8,35.0 L27.7,34.6 L26.2,34.0 L25.2,33.3 L24.7,32.5 Z" fill="rgb(43,43,43)"/>
<path d="M50.2,27.3 L51.7,26.7 L53.8,27.3 L55.3,28.4 L56.0,30.3 L56.1,32.7 L56.0,35.2 L55.6,37.6 L55.0,40.1 L54.2,41.9 L53.2,43.0 L52.1,43.4 L51.1,43.0 L50.3,41.4 L49.6,39.0 L49.3,36.3 L49.2,33.1 L49.5,29.6 Z" fill="rgb(82,82,82)"/>
<path d="M54.0,34.0 L53.9,34.7 L53.9,35.3 L53.7,35.9 L53.5,36.4 L53.3,36.8 L53.0,37.0 L52.8,37.1 L52.5,37.1 L52.2,37.0 L52.0,36.8 L51.7,36.4 L51.5,35.9 L51.4,35.3 L51.3,34.7 L51.3,34.0 L51.3,33.4 L51.4,32.8 L51.5,32.2 L51.7,31.7 L52.0,31.3 L52.2,31.1 L52.5,30.9 L52.8,30.9 L53.0,31.1 L53.3,31.3 L53.5,31.7 L53.7,32.2 L53.9,32.8 L53.9,33.4 Z" fill="rgb(43,43,43)"/>
<path d="M43.0,41.9 L46.7,41.3 L52.0,41.3 L56.4,41.9 L59.3,43.0 L61.5,44.6 L63.2,46.4 L64.7,48.3 L65.6,50.4 L65.4,52.0 L63.2,52.7 L59.8,53.0 L56.4,53.1 L53.7,53.0 L51.0,52.7 L48.6,52.0 L46.4,50.8 L44.4,49.2 L43.0,47.5 L42.1,45.5 L41.8,43.4 Z" fill="rgb(82,82,82)"/>
<path d="M46.4,44.1 L47.9,43.4 L50.1,43.0 L52.0,43.0 L53.4,43.7 L54.6,45.0 L55.3,46.4 L55.4,48.0 L55.0,49.7 L54.2,50.8 L52.8,51.1 L50.9,50.7 L49.3,50.2 L48.0,49.4 L46.9,48.5 L46.1,47.5 L45.8,46.3 L45.8,45.1 Z" fill="rgb(43,43,43)"/>
<path d="M52.4,47.0 L52.4,47.4 L52.2,47.8 L52.0,48.1 L51.7,48.4 L51.3,48.6 L50.9,48.7 L50.4,48.8 L49.9,48.8 L49.5,48.7 L49.1,48.6 L48.7,48.4 L48.4,48.1 L48.1,47.8 L48.0,47.4 L47.9,47.0 L48.0,46.7 L48.1,46.3 L48.4,46.0 L48.7,45.7 L49.1,45.5 L49.5,45.3 L49.9,45.3 L50.4,45.3 L50.9,45.3 L51.3,45.5 L51.7,45.7 L52.0,46.0 L52.2,46.3 L52.4,46.7 Z" fill="rgb(26,26,26)"/>
<path d="M74.4,46.4 L76.6,45.2 L80.2,44.2 L83.3,43.0 L85.1,41.5 L86.5,40.0 L87.8,38.5 L89.3,37.1 L90.9,35.8 L92.3,35.2 L93.7,35.4 L95.1,36.2 L95.6,37.4 L95.1,39.0 L93.9,41.0 L92.3,43.0 L90.3,45.0 L88.0,47.0 L85.6,48.6 L82.9,49.8 L80.0,50.7 L77.7,50.8 L75.8,49.8 L74.4,48.0 Z" fill="rgb(97,97,97)"/>
<path d="M22.6,36.3 L22.6,36.5 L22.5,36.6 L22.4,36.8 L22.3,36.9 L22.2,37.1 L22.0,37.1 L21.8,37.2 L21.6,37.2 L21.4,37.1 L21.3,37.1 L21.1,36.9 L21.0,36.8 L20.9,36.6 L20.8,36.5 L20.8,36.3 L20.8,36.1 L20.9,35.9 L21.0,35.8 L21.1,35.6 L21.3,35.5 L21.4,35.4 L21.6,35.4 L21.8,35.4 L22.0,35.4 L22.2,35.5 L22.3,35.6 L22.4,35.8 L22.5,35.9 L22.6,36.1 Z" fill="rgb(224,224,224)"/>
<path d="M9.2,25.1 L9.2,25.3 L9.1,25.4 L9.0,25.6 L8.9,25.7 L8.7,25.9 L8.6,25.9 L8.4,26.0 L8.2,26.0 L8.0,25.9 L7.8,25.9 L7.7,25.7 L7.6,25.6 L7.5,25.4 L7.4,25.3 L7.4,25.1 L7.4,24.9 L7.5,24.7 L7.6,24.6 L7.7,24.4 L7.8,24.3 L8.0,24.2 L8.2,24.2 L8.4,24.2 L8.6,24.2 L8.7,24.3 L8.9,24.4 L9.0,24.6 L9.1,24.7 L9.2,24.9 Z" fill="rgb(201,201,201)"/>
</g>
<g fill="none" stroke="#555" stroke-width="0.3" stroke-opacity="0.55">
<polyline points="5.3,24.0 10.1,21.6 16.1,19.6 22.1,17.4 26.9,13.8 30.5,10.2 34.1,8.0 38.9,9.0 46.1,10.2 52.1,8.8 58.1,9.6"/>
<polyline points="5.3,24.0 12.5,28.2 19.7,30.6 23.9,36.6 28.1,40.2 34.1,42.0 38.9,44.4 46.1,45.6 50.9,43.8 54.5,46.2 58.1,48.6"/>
<polyline points="50.1,16.2 57.3,17.4 64.5,18.6 70.5,16.2 75.3,12.6 80.1,13.2 77.7,10.2 81.3,6.6 84.9,4.2"/>
<polyline points="84.9,4.2 90.9,7.2 98.1,11.4 102.9,10.8"/>
<polyline points="94.5,21.0 90.9,24.6 95.7,28.2 96.9,31.8 93.3,34.2 95.7,37.8 90.9,43.8 86.1,46.2 82.5,48.6 77.7,51.0 70.5,52.2 65.7,54.6"/>
<polyline points="47.7,48.6 52.5,51.0 57.3,49.8 62.1,52.2 65.7,54.6"/>
</g>
</g>
<path d="M34.45,19.65 L37.35,19.65 L35.90,22.25 Z" fill="#000"/>
<path d="M29.85,23.85 L32.75,23.85 L31.30,26.45 Z" fill="#000"/>
<path d="M36.45,23.85 L39.35,23.85 L37.90,26.45 Z" fill="#000"/>
<path d="M52.15,26.05 L55.05,26.05 L53.60,28.65 Z" fill="#000"/>
<path d="M54.85,28.75 L57.75,28.75 L56.30,31.35 Z" fill="#000"/>
<path d="M50.75,35.25 L53.65,35.25 L52.20,37.85 Z" fill="#000"/>
<path d="M54.55,39.65 L57.45,39.65 L56.00,42.25 Z" fill="#000"/>
<path d="M81.85,30.05 L84.75,30.05 L83.30,32.65 Z" fill="#000"/>
<path d="M63.25,52.65 L66.15,52.65 L64.70,55.25 Z" fill="#000"/>
<rect x="0.00" y="0.00" width="108.20" height="59.20" fill="none" stroke="#9a9a9a" stroke-width="0.6" rx="0"/>
</g>
<text x="419.90" y="10.50" font-size="6.5" text-anchor="middle" font-family="Liberation Serif" font-weight="normal" fill="#000">Reference: 80 km</text>
<rect x="478.10" y="12.10" width="4.80" height="58.60" fill="url(#cbar)" stroke="none" stroke-width="0.5" rx="0"/>
<line x1="482.90" y1="17.60" x2="484.20" y2="17.60" stroke="#222" stroke-width="0.4"/>
<text x="485.20" y="19.40" font-size="5.2" text-anchor="start" font-family="Liberation Serif" font-weight="normal" fill="#000">4.8</text>
<line x1="482.90" y1="30.60" x2="484.20" y2="30.60" stroke="#222" stroke-width="0.4"/>
<text x="485.20" y="32.40" font-size="5.2" text-anchor="start" font-family="Liberation Serif" font-weight="normal" fill="#000">4.6</text>
<line x1="482.90" y1="43.60" x2="484.20" y2="43.60" stroke="#222" stroke-width="0.4"/>
<text x="485.20" y="45.40" font-size="5.2" text-anchor="start" font-family="Liberation Serif" font-weight="normal" fill="#000">4.4</text>
<line x1="482.90" y1="56.60" x2="484.20" y2="56.60" stroke="#222" stroke-width="0.4"/>
<text x="485.20" y="58.40" font-size="5.2" text-anchor="start" font-family="Liberation Serif" font-weight="normal" fill="#000">4.2</text>
<line x1="482.90" y1="69.60" x2="484.20" y2="69.60" stroke="#222" stroke-width="0.4"/>
<text x="485.20" y="71.40" font-size="5.2" text-anchor="start" font-family="Liberation Serif" font-weight="normal" fill="#000">4.0</text>
<text x="484.30" y="10.10" font-size="5.2" text-anchor="middle" font-family="Liberation Serif" font-weight="normal" fill="#000">Vs (km/s)</text>
<g transform="translate(23.5,77.2)">
<rect x="0.00" y="0.00" width="108.20" height="59.20" fill="#fff" stroke="none" stroke-width="0.5" rx="0"/>
<line x1="15.10" y1="0.00" x2="15.10" y2="59.20" stroke="#dcdcdc" stroke-width="0.4"/>
<line x1="37.10" y1="0.00" x2="37.10" y2="59.20" stroke="#dcdcdc" stroke-width="0.4"/>
<line x1="59.10" y1="0.00" x2="59.10" y2="59.20" stroke="#dcdcdc" stroke-width="0.4"/>
<line x1="81.10" y1="0.00" x2="81.10" y2="59.20" stroke="#dcdcdc" stroke-width="0.4"/>
<line x1="103.10" y1="0.00" x2="103.10" y2="59.20" stroke="#dcdcdc" stroke-width="0.4"/>
<line x1="0.00" y1="8.20" x2="108.20" y2="8.20" stroke="#dcdcdc" stroke-width="0.4"/>
<line x1="0.00" y1="23.30" x2="108.20" y2="23.30" stroke="#dcdcdc" stroke-width="0.4"/>
<line x1="0.00" y1="38.30" x2="108.20" y2="38.30" stroke="#dcdcdc" stroke-width="0.4"/>
<line x1="0.00" y1="53.40" x2="108.20" y2="53.40" stroke="#dcdcdc" stroke-width="0.4"/>
<g clip-path="url(#mapclip)" fill="none" stroke="#a8a8a8" stroke-width="0.35">
<polyline points="17.1,1.0 21.0,3.8 24.4,6.7 28.9,7.8 32.3,8.9"/>
<polyline points="0.2,19.6 3.0,20.7 5.3,23.6 4.7,25.2"/>
<polyline points="4.7,26.4 7.0,30.9 9.8,32.0 12.0,35.4 11.5,39.9 8.6,43.3 7.5,47.8 9.8,51.2 13.1,54.5 15.4,59.0"/>
<polyline points="0.2,36.5 4.1,35.4 7.5,32.0"/>
<polyline points="22.7,38.2 24.4,41.6 27.8,42.7 33.4,43.3 35.7,45.5 36.2,50.0 34.6,54.5 32.3,57.9"/>
<polyline points="35.7,45.5 40.2,47.8 43.6,48.9 47.0,51.2"/>
<polyline points="3.0,47.8 6.4,51.2 10.9,59.0"/>
<polyline points="0.2,5.0 5.3,2.7 10.9,3.3 17.1,1.0"/>
<polyline points="103.3,10.8 107.9,14.2 111.1,13.0"/>
<polyline points="97.7,31.0 101.9,28.6 106.7,26.2 111.1,28.0"/>
<polyline points="101.9,32.8 105.5,31.0 107.9,32.2"/>
<polyline points="104.3,0.4 107.9,1.6"/>
<polyline points="82.1,56.2 82.9,58.6 83.9,58.8 85.1,56.2 82.1,56.2"/>
<polyline points="93.5,39.4 97.1,37.0 99.5,37.6"/>
</g>
<g clip-path="url(#chinaclip)">
<g filter="url(#fm10)">
<rect x="-6.00" y="-6.00" width="120.20" height="71.20" fill="rgb(145,145,145)" stroke="none" stroke-width="0.5" rx="0"/>
<path d="M3.0,25.8 L4.9,24.9 L7.9,23.9 L10.8,22.9 L13.4,21.9 L16.0,20.9 L18.7,19.8 L21.6,18.5 L24.7,17.1 L27.6,15.7 L30.3,14.2 L32.9,12.6 L35.5,11.2 L37.9,10.1 L40.3,9.2 L43.3,8.6 L47.4,8.1 L52.1,7.9 L56.7,7.9 L61.5,8.1 L66.2,8.5 L70.2,9.0 L73.2,9.5 L75.6,10.2 L76.9,11.2 L76.9,12.9 L75.9,15.0 L74.7,16.8 L73.3,18.1 L71.8,19.1 L70.2,20.2 L68.6,21.5 L67.0,23.0 L65.7,24.7 L64.7,26.8 L64.0,29.1 L63.5,31.4 L63.0,33.6 L62.8,35.9 L62.3,38.1 L61.7,40.4 L61.0,42.8 L60.1,44.8 L59.1,46.7 L58.0,48.3 L56.7,49.3 L55.4,49.4 L53.9,48.9 L52.3,48.2 L50.6,47.5 L48.7,46.7 L46.7,46.0 L44.2,45.2 L41.4,44.5 L38.8,43.7 L36.5,43.0 L34.3,42.3 L32.1,41.5 L29.8,40.5 L27.5,39.4 L25.4,38.1 L23.5,36.7 L21.8,35.1 L19.8,33.6 L17.3,32.2 L14.6,30.8 L11.9,29.6 L9.1,28.7 L6.2,28.0 L4.1,27.4 L2.9,26.8 L2.4,26.4 Z" fill="rgb(112,112,112)"/>
<path d="M43.3,11.2 L46.1,10.3 L50.3,9.7 L54.5,9.4 L58.5,9.6 L62.5,10.0 L65.7,10.8 L68.1,11.9 L69.8,13.3 L70.2,14.6 L68.9,15.9 L66.4,17.1 L63.5,18.0 L59.9,18.4 L55.9,18.6 L52.3,18.4 L49.1,18.0 L46.4,17.2 L44.4,16.2 L43.1,14.6 L42.5,12.7 Z" fill="rgb(97,97,97)"/>
<path d="M74.7,6.8 L76.8,5.5 L80.2,4.5 L83.6,4.1 L86.8,4.5 L89.9,5.5 L92.6,6.8 L94.7,8.2 L96.4,9.8 L97.1,11.2 L96.4,12.6 L94.7,13.9 L92.6,14.6 L89.8,14.6 L86.6,14.1 L83.6,13.5 L81.0,13.0 L78.7,12.5 L76.9,11.7 L75.4,10.2 L74.4,8.4 Z" fill="rgb(112,112,112)"/>
<path d="M64.6,26.9 L66.7,25.6 L69.7,24.8 L72.4,24.7 L74.4,25.3 L75.9,26.5 L76.9,28.0 L77.1,29.8 L76.7,31.9 L75.8,33.6 L74.2,35.1 L72.2,36.4 L70.2,37.0 L68.3,36.9 L66.6,36.1 L65.3,34.8 L64.4,32.4 L64.0,29.3 Z" fill="rgb(112,112,112)"/>
<path d="M65.7,38.1 L68.1,37.2 L71.7,36.8 L74.7,37.0 L76.5,38.1 L77.7,39.9 L78.0,41.5 L77.2,42.8 L75.5,44.1 L73.5,44.8 L71.3,45.0 L68.7,44.6 L66.8,43.7 L65.7,42.0 L65.1,39.8 Z" fill="rgb(120,120,120)"/>
<path d="M80.3,24.7 L82.1,23.5 L84.8,22.8 L87.0,22.9 L88.3,24.1 L89.1,26.1 L89.2,28.0 L88.6,29.8 L87.3,31.5 L85.9,32.5 L84.2,32.6 L82.3,32.0 L80.9,31.0 L80.1,29.0 L79.8,26.6 Z" fill="rgb(120,120,120)"/>
<path d="M16.4,25.8 L17.7,24.1 L20.3,22.7 L23.1,21.5 L26.0,20.7 L29.1,20.1 L32.1,19.8 L34.8,19.5 L37.4,19.5 L39.9,19.8 L42.6,20.3 L45.2,21.1 L47.8,22.0 L50.5,22.9 L53.3,23.9 L55.6,25.1 L57.6,26.6 L59.1,28.3 L60.1,30.3 L60.3,32.8 L59.9,35.6 L59.4,38.1 L59.0,40.3 L58.4,42.2 L57.6,43.7 L56.6,45.0 L55.4,46.0 L54.1,46.4 L52.5,46.0 L50.8,45.1 L48.9,44.2 L46.8,43.4 L44.6,42.7 L42.2,41.9 L39.6,41.2 L36.9,40.5 L34.3,39.7 L31.9,38.8 L29.5,37.9 L27.2,36.8 L24.9,35.5 L22.8,34.2 L20.9,32.5 L18.9,30.4 L17.0,27.9 Z" fill="rgb(82,82,82)"/>
<path d="M20.5,26.9 L21.9,25.6 L24.1,24.2 L26.5,23.1 L28.7,22.4 L31.0,22.1 L33.2,22.0 L35.5,22.3 L37.7,22.9 L39.9,23.8 L42.2,24.8 L44.4,26.1 L46.7,27.4 L49.2,28.5 L51.8,29.7 L53.8,31.0 L55.2,32.5 L56.0,34.3 L56.3,35.9 L56.0,37.4 L55.1,38.7 L53.8,39.7 L52.1,40.0 L50.0,39.9 L47.8,39.7 L45.6,39.3 L43.3,38.7 L41.1,38.1 L38.8,37.6 L36.6,37.0 L34.3,36.3 L32.1,35.5 L29.8,34.6 L27.6,33.6 L25.6,32.6 L23.7,31.6 L22.2,30.5 L21.1,29.4 L20.3,28.1 Z" fill="rgb(61,61,61)"/>
<path d="M23.1,26.5 L24.8,25.5 L27.4,24.4 L29.9,23.8 L32.1,23.6 L34.1,23.8 L35.5,24.2 L35.8,25.1 L35.3,26.3 L34.3,27.4 L32.8,28.1 L30.7,28.7 L28.7,29.2 L27.0,29.4 L25.5,29.4 L24.3,29.2 L23.3,28.5 L22.8,27.5 Z" fill="rgb(43,43,43)"/>
<path d="M27.6,31.4 L29.4,30.6 L32.4,29.9 L35.5,29.6 L38.1,29.8 L40.7,30.3 L43.3,31.0 L46.2,31.6 L49.0,32.3 L51.1,33.2 L52.3,34.2 L52.6,35.4 L52.3,36.3 L51.0,37.0 L48.9,37.5 L46.7,37.7 L44.2,37.4 L41.5,36.9 L38.8,36.3 L36.0,35.9 L33.3,35.4 L31.0,34.8 L29.1,33.7 L27.7,32.5 Z" fill="rgb(43,43,43)"/>
<path d="M29.9,26.5 L29.8,26.7 L29.6,27.0 L29.3,27.3 L29.0,27.5 L28.5,27.6 L28.0,27.8 L27.5,27.8 L26.9,27.8 L26.3,27.8 L25.8,27.6 L25.4,27.5 L25.0,27.3 L24.7,27.0 L24.5,26.7 L24.5,26.5 L24.5,26.2 L24.7,25.9 L25.0,25.7 L25.4,25.5 L25.8,25.3 L26.3,25.2 L26.9,25.1 L27.5,25.1 L28.0,25.2 L28.5,25.3 L29.0,25.5 L29.3,25.7 L29.6,25.9 L29.8,26.2 Z" fill="rgb(26,26,26)"/>
<path d="M37.9,31.4 L37.8,31.6 L37.6,31.9 L37.2,32.1 L36.7,32.2 L36.1,32.4 L35.4,32.5 L34.7,32.5 L34.0,32.5 L33.2,32.5 L32.6,32.4 L31.9,32.2 L31.4,32.1 L31.1,31.9 L30.8,31.6 L30.8,31.4 L30.8,31.2 L31.1,30.9 L31.4,30.7 L31.9,30.6 L32.6,30.4 L33.2,30.3 L34.0,30.3 L34.7,30.3 L35.4,30.3 L36.1,30.4 L36.7,30.6 L37.2,30.7 L37.6,30.9 L37.8,31.2 Z" fill="rgb(26,26,26)"/>
<path d="M46.4,34.1 L46.4,34.4 L46.2,34.6 L45.8,34.9 L45.4,35.1 L44.9,35.3 L44.3,35.4 L43.6,35.4 L43.0,35.4 L42.3,35.4 L41.7,35.3 L41.2,35.1 L40.8,34.9 L40.4,34.6 L40.2,34.4 L40.2,34.1 L40.2,33.8 L40.4,33.5 L40.8,33.3 L41.2,33.1 L41.7,32.9 L42.3,32.8 L43.0,32.8 L43.6,32.8 L44.3,32.8 L44.9,32.9 L45.4,33.1 L45.8,33.3 L46.2,33.5 L46.4,33.8 Z" fill="rgb(26,26,26)"/>
<path d="M51.8,34.8 L51.8,35.1 L51.7,35.4 L51.5,35.7 L51.2,35.9 L50.9,36.1 L50.6,36.3 L50.2,36.3 L49.8,36.3 L49.5,36.3 L49.1,36.1 L48.8,35.9 L48.6,35.7 L48.4,35.4 L48.3,35.1 L48.2,34.8 L48.3,34.4 L48.4,34.1 L48.6,33.8 L48.8,33.6 L49.1,33.4 L49.5,33.3 L49.8,33.2 L50.2,33.2 L50.6,33.3 L50.9,33.4 L51.2,33.6 L51.5,33.8 L51.7,34.1 L51.8,34.4 Z" fill="rgb(26,26,26)"/>
<path d="M33.9,28.0 L33.8,28.2 L33.7,28.4 L33.5,28.6 L33.3,28.7 L33.0,28.8 L32.7,28.9 L32.3,28.9 L31.9,28.9 L31.5,28.9 L31.2,28.8 L30.9,28.7 L30.7,28.6 L30.5,28.4 L30.4,28.2 L30.3,28.0 L30.4,27.9 L30.5,27.7 L30.7,27.5 L30.9,27.4 L31.2,27.3 L31.5,27.2 L31.9,27.2 L32.3,27.2 L32.7,27.2 L33.0,27.3 L33.3,27.4 L33.5,27.5 L33.7,27.7 L33.8,27.9 Z" fill="rgb(26,26,26)"/>
<path d="M33.7,16.8 L33.6,17.1 L33.4,17.4 L33.2,17.6 L32.8,17.8 L32.3,18.0 L31.8,18.1 L31.3,18.2 L30.7,18.2 L30.1,18.1 L29.6,18.0 L29.2,17.8 L28.8,17.6 L28.5,17.4 L28.4,17.1 L28.3,16.8 L28.4,16.6 L28.5,16.3 L28.8,16.1 L29.2,15.8 L29.6,15.7 L30.1,15.6 L30.7,15.5 L31.3,15.5 L31.8,15.6 L32.3,15.7 L32.8,15.8 L33.2,16.1 L33.4,16.3 L33.6,16.6 Z" fill="rgb(43,43,43)"/>
<path d="M57.4,41.5 L57.4,42.0 L57.3,42.6 L57.1,43.1 L56.8,43.5 L56.5,43.8 L56.2,44.0 L55.8,44.1 L55.4,44.1 L55.1,44.0 L54.7,43.8 L54.4,43.5 L54.2,43.1 L54.0,42.6 L53.9,42.0 L53.8,41.5 L53.9,40.9 L54.0,40.4 L54.2,39.9 L54.4,39.5 L54.7,39.2 L55.1,38.9 L55.4,38.8 L55.8,38.8 L56.2,38.9 L56.5,39.2 L56.8,39.5 L57.1,39.9 L57.3,40.4 L57.4,40.9 Z" fill="rgb(61,61,61)"/>
<path d="M88.1,29.2 L89.9,27.8 L92.5,27.0 L94.8,26.9 L96.4,27.9 L97.7,29.6 L98.2,31.4 L97.6,33.4 L96.4,35.6 L94.8,37.0 L93.0,37.3 L90.8,36.9 L89.2,35.9 L88.2,33.9 L87.7,31.3 Z" fill="rgb(158,158,158)"/>
<path d="M95.3,21.3 L95.6,21.2 L96.4,22.0 L97.1,22.9 L97.6,24.0 L98.2,25.4 L98.4,26.5 L98.2,27.1 L97.6,27.3 L97.1,26.9 L96.4,25.2 L95.6,22.9 Z" fill="rgb(224,224,224)"/>
<path d="M34.3,18.0 L35.7,17.2 L37.9,16.9 L39.9,16.8 L41.4,17.3 L42.6,18.2 L43.3,19.1 L43.4,20.1 L43.1,21.2 L42.2,22.0 L40.5,22.4 L38.4,22.4 L36.6,22.0 L35.3,20.8 L34.4,19.2 Z" fill="rgb(139,139,139)"/>
</g>
<polyline points="95.6,21.6 96.8,23.4 97.8,25.0 98.2,26.4" fill="none" stroke="#2a5ae0" stroke-width="1.1" stroke-linecap="round" stroke-linejoin="round"/>
<polyline points="100.5,30.0 102.0,31.5" fill="none" stroke="#3a78e8" stroke-width="0.9" stroke-linecap="round" stroke-linejoin="round"/>
<g fill="none" stroke="#555" stroke-width="0.3" stroke-opacity="0.55">
<polyline points="5.3,24.0 10.1,21.6 16.1,19.6 22.1,17.4 26.9,13.8 30.5,10.2 34.1,8.0 38.9,9.0 46.1,10.2 52.1,8.8 58.1,9.6"/>
<polyline points="5.3,24.0 12.5,28.2 19.7,30.6 23.9,36.6 28.1,40.2 34.1,42.0 38.9,44.4 46.1,45.6 50.9,43.8 54.5,46.2 58.1,48.6"/>
<polyline points="50.1,16.2 57.3,17.4 64.5,18.6 70.5,16.2 75.3,12.6 80.1,13.2 77.7,10.2 81.3,6.6 84.9,4.2"/>
<polyline points="84.9,4.2 90.9,7.2 98.1,11.4 102.9,10.8"/>
<polyline points="94.5,21.0 90.9,24.6 95.7,28.2 96.9,31.8 93.3,34.2 95.7,37.8 90.9,43.8 86.1,46.2 82.5,48.6 77.7,51.0 70.5,52.2 65.7,54.6"/>
<polyline points="47.7,48.6 52.5,51.0 57.3,49.8 62.1,52.2 65.7,54.6"/>
</g>
</g>
<path d="M34.45,19.65 L37.35,19.65 L35.90,22.25 Z" fill="#000"/>
<path d="M29.85,23.85 L32.75,23.85 L31.30,26.45 Z" fill="#000"/>
<path d="M36.45,23.85 L39.35,23.85 L37.90,26.45 Z" fill="#000"/>
<path d="M52.15,26.05 L55.05,26.05 L53.60,28.65 Z" fill="#000"/>
<path d="M54.85,28.75 L57.75,28.75 L56.30,31.35 Z" fill="#000"/>
<path d="M50.75,35.25 L53.65,35.25 L52.20,37.85 Z" fill="#000"/>
<path d="M54.55,39.65 L57.45,39.65 L56.00,42.25 Z" fill="#000"/>
<path d="M81.85,30.05 L84.75,30.05 L83.30,32.65 Z" fill="#000"/>
<path d="M63.25,52.65 L66.15,52.65 L64.70,55.25 Z" fill="#000"/>
<rect x="0.00" y="0.00" width="108.20" height="59.20" fill="none" stroke="#9a9a9a" stroke-width="0.6" rx="0"/>
</g>
<text x="77.60" y="75.90" font-size="6.5" text-anchor="middle" font-family="Liberation Serif" font-weight="normal" fill="#000">Inversion: 20 km</text>
<text x="21.90" y="87.30" font-size="5.2" text-anchor="end" font-family="Liberation Serif" font-weight="normal" fill="#000">50°N</text>
<text x="21.90" y="102.40" font-size="5.2" text-anchor="end" font-family="Liberation Serif" font-weight="normal" fill="#000">40°N</text>
<text x="21.90" y="117.40" font-size="5.2" text-anchor="end" font-family="Liberation Serif" font-weight="normal" fill="#000">30°N</text>
<text x="21.90" y="132.50" font-size="5.2" text-anchor="end" font-family="Liberation Serif" font-weight="normal" fill="#000">20°N</text>
<text x="38.60" y="142.00" font-size="5.2" text-anchor="middle" font-family="Liberation Serif" font-weight="normal" fill="#000">75°E</text>
<text x="60.60" y="142.00" font-size="5.2" text-anchor="middle" font-family="Liberation Serif" font-weight="normal" fill="#000">90°E</text>
<text x="82.60" y="142.00" font-size="5.2" text-anchor="middle" font-family="Liberation Serif" font-weight="normal" fill="#000">105°E</text>
<text x="104.60" y="142.00" font-size="5.2" text-anchor="middle" font-family="Liberation Serif" font-weight="normal" fill="#000">120°E</text>
<text x="126.60" y="142.00" font-size="5.2" text-anchor="middle" font-family="Liberation Serif" font-weight="normal" fill="#000">135°E</text>
<g transform="translate(137.7,77.2)">
<rect x="0.00" y="0.00" width="108.20" height="59.20" fill="#fff" stroke="none" stroke-width="0.5" rx="0"/>
<line x1="15.10" y1="0.00" x2="15.10" y2="59.20" stroke="#dcdcdc" stroke-width="0.4"/>
<line x1="37.10" y1="0.00" x2="37.10" y2="59.20" stroke="#dcdcdc" stroke-width="0.4"/>
<line x1="59.10" y1="0.00" x2="59.10" y2="59.20" stroke="#dcdcdc" stroke-width="0.4"/>
<line x1="81.10" y1="0.00" x2="81.10" y2="59.20" stroke="#dcdcdc" stroke-width="0.4"/>
<line x1="103.10" y1="0.00" x2="103.10" y2="59.20" stroke="#dcdcdc" stroke-width="0.4"/>
<line x1="0.00" y1="8.20" x2="108.20" y2="8.20" stroke="#dcdcdc" stroke-width="0.4"/>
<line x1="0.00" y1="23.30" x2="108.20" y2="23.30" stroke="#dcdcdc" stroke-width="0.4"/>
<line x1="0.00" y1="38.30" x2="108.20" y2="38.30" stroke="#dcdcdc" stroke-width="0.4"/>
<line x1="0.00" y1="53.40" x2="108.20" y2="53.40" stroke="#dcdcdc" stroke-width="0.4"/>
<g clip-path="url(#mapclip)" fill="none" stroke="#a8a8a8" stroke-width="0.35">
<polyline points="17.1,1.0 21.0,3.8 24.4,6.7 28.9,7.8 32.3,8.9"/>
<polyline points="0.2,19.6 3.0,20.7 5.3,23.6 4.7,25.2"/>
<polyline points="4.7,26.4 7.0,30.9 9.8,32.0 12.0,35.4 11.5,39.9 8.6,43.3 7.5,47.8 9.8,51.2 13.1,54.5 15.4,59.0"/>
<polyline points="0.2,36.5 4.1,35.4 7.5,32.0"/>
<polyline points="22.7,38.2 24.4,41.6 27.8,42.7 33.4,43.3 35.7,45.5 36.2,50.0 34.6,54.5 32.3,57.9"/>
<polyline points="35.7,45.5 40.2,47.8 43.6,48.9 47.0,51.2"/>
<polyline points="3.0,47.8 6.4,51.2 10.9,59.0"/>
<polyline points="0.2,5.0 5.3,2.7 10.9,3.3 17.1,1.0"/>
<polyline points="103.3,10.8 107.9,14.2 111.1,13.0"/>
<polyline points="97.7,31.0 101.9,28.6 106.7,26.2 111.1,28.0"/>
<polyline points="101.9,32.8 105.5,31.0 107.9,32.2"/>
<polyline points="104.3,0.4 107.9,1.6"/>
<polyline points="82.1,56.2 82.9,58.6 83.9,58.8 85.1,56.2 82.1,56.2"/>
<polyline points="93.5,39.4 97.1,37.0 99.5,37.6"/>
</g>
<g clip-path="url(#chinaclip)">
<g filter="url(#fm11)">
<rect x="-6.00" y="-6.00" width="120.20" height="71.20" fill="rgb(142,142,142)" stroke="none" stroke-width="0.5" rx="0"/>
<path d="M63.3,26.9 L65.0,25.0 L67.5,23.1 L70.0,21.3 L72.3,19.5 L74.5,17.7 L76.7,15.7 L78.6,13.5 L80.5,11.1 L82.3,9.0 L84.0,7.0 L85.8,5.2 L87.9,4.1 L90.7,3.9 L93.9,4.5 L96.9,5.6 L99.6,7.2 L102.2,9.2 L103.6,11.7 L103.2,14.7 L101.6,18.0 L100.2,21.3 L99.4,24.3 L98.8,27.2 L98.0,30.3 L97.1,34.0 L96.0,38.0 L94.6,41.5 L92.7,44.1 L90.4,46.3 L87.9,48.2 L85.1,49.9 L82.0,51.4 L78.9,52.7 L75.9,53.7 L72.8,54.5 L70.0,54.9 L67.5,54.9 L65.2,54.5 L63.3,53.8 L61.5,52.7 L60.0,51.2 L59.2,49.3 L59.5,47.0 L60.5,44.2 L61.5,41.5 L62.2,38.8 L62.8,36.2 L63.3,33.6 L63.1,31.3 L62.8,29.0 Z" fill="rgb(158,158,158)"/>
<path d="M74.5,22.4 L76.5,19.7 L78.9,17.1 L81.2,14.6 L83.0,12.0 L84.8,9.6 L86.8,7.9 L89.3,7.2 L92.1,7.2 L94.6,7.9 L96.9,9.2 L99.0,11.2 L100.2,13.5 L100.1,16.1 L99.1,19.2 L98.0,22.4 L97.0,26.1 L95.9,30.1 L94.6,33.6 L93.3,36.6 L91.8,39.2 L90.1,41.5 L88.1,43.6 L85.9,45.4 L83.4,47.1 L80.6,48.8 L77.5,50.4 L74.5,51.6 L71.3,52.4 L68.1,52.8 L65.5,52.7 L63.7,51.7 L62.5,50.1 L62.1,48.2 L63.1,45.9 L64.8,43.2 L66.6,40.4 L68.2,37.5 L69.7,34.4 L71.1,31.4 L72.2,28.4 L73.1,25.3 Z" fill="rgb(178,178,178)"/>
<path d="M96.4,13.5 L96.3,14.4 L96.0,15.3 L95.6,16.1 L95.1,16.8 L94.4,17.4 L93.6,17.7 L92.8,17.9 L91.9,17.9 L91.1,17.7 L90.4,17.4 L89.7,16.8 L89.1,16.1 L88.7,15.3 L88.4,14.4 L88.3,13.5 L88.4,12.6 L88.7,11.6 L89.1,10.8 L89.7,10.2 L90.4,9.6 L91.1,9.2 L91.9,9.0 L92.8,9.0 L93.6,9.2 L94.4,9.6 L95.1,10.2 L95.6,10.8 L96.0,11.6 L96.3,12.6 Z" fill="rgb(201,201,201)"/>
<path d="M78.3,29.2 L78.2,30.3 L78.0,31.4 L77.8,32.5 L77.4,33.3 L76.9,34.0 L76.4,34.5 L75.9,34.7 L75.3,34.7 L74.7,34.5 L74.2,34.0 L73.8,33.3 L73.4,32.5 L73.1,31.4 L73.0,30.3 L72.9,29.2 L73.0,28.0 L73.1,26.9 L73.4,25.9 L73.8,25.0 L74.2,24.3 L74.7,23.8 L75.3,23.6 L75.9,23.6 L76.4,23.8 L76.9,24.3 L77.4,25.0 L77.8,25.9 L78.0,26.9 L78.2,28.0 Z" fill="rgb(201,201,201)"/>
<path d="M78.9,48.2 L78.8,48.7 L78.3,49.3 L77.7,49.8 L76.7,50.2 L75.6,50.5 L74.3,50.8 L72.9,50.9 L71.5,50.9 L70.1,50.8 L68.9,50.5 L67.7,50.2 L66.8,49.8 L66.1,49.3 L65.7,48.7 L65.5,48.2 L65.7,47.7 L66.1,47.1 L66.8,46.6 L67.7,46.2 L68.9,45.9 L70.1,45.6 L71.5,45.5 L72.9,45.5 L74.3,45.6 L75.6,45.9 L76.7,46.2 L77.7,46.6 L78.3,47.1 L78.8,47.7 Z" fill="rgb(201,201,201)"/>
<path d="M90.6,33.6 L90.5,34.6 L90.3,35.5 L90.1,36.3 L89.7,37.0 L89.2,37.5 L88.7,37.9 L88.2,38.1 L87.6,38.1 L87.1,37.9 L86.6,37.5 L86.1,37.0 L85.7,36.3 L85.5,35.5 L85.3,34.6 L85.2,33.6 L85.3,32.7 L85.5,31.8 L85.7,31.0 L86.1,30.3 L86.6,29.8 L87.1,29.4 L87.6,29.2 L88.2,29.2 L88.7,29.4 L89.2,29.8 L89.7,30.3 L90.1,31.0 L90.3,31.8 L90.5,32.7 Z" fill="rgb(201,201,201)"/>
<path d="M67.7,52.7 L67.7,53.0 L67.5,53.2 L67.3,53.5 L67.0,53.7 L66.6,53.8 L66.2,54.0 L65.7,54.0 L65.3,54.0 L64.8,54.0 L64.4,53.8 L64.0,53.7 L63.7,53.5 L63.5,53.2 L63.3,53.0 L63.3,52.7 L63.3,52.4 L63.5,52.1 L63.7,51.9 L64.0,51.7 L64.4,51.5 L64.8,51.4 L65.3,51.3 L65.7,51.3 L66.2,51.4 L66.6,51.5 L67.0,51.7 L67.3,51.9 L67.5,52.1 L67.7,52.4 Z" fill="rgb(224,224,224)"/>
<path d="M96.4,11.2 L96.4,11.6 L96.3,12.0 L96.1,12.3 L95.8,12.6 L95.5,12.8 L95.2,12.9 L94.8,13.0 L94.4,13.0 L94.1,12.9 L93.7,12.8 L93.4,12.6 L93.2,12.3 L93.0,12.0 L92.9,11.6 L92.8,11.2 L92.9,10.9 L93.0,10.5 L93.2,10.2 L93.4,9.9 L93.7,9.7 L94.1,9.5 L94.4,9.5 L94.8,9.5 L95.2,9.5 L95.5,9.7 L95.8,9.9 L96.1,10.2 L96.3,10.5 L96.4,10.9 Z" fill="rgb(224,224,224)"/>
<path d="M27.4,15.3 L29.5,13.9 L33.4,12.4 L37.5,11.2 L41.5,10.6 L45.7,10.3 L49.8,10.1 L53.8,10.2 L57.7,10.4 L61.0,10.8 L64.0,11.4 L66.5,12.2 L67.7,13.0 L67.2,13.9 L65.5,14.9 L63.3,15.7 L60.7,16.3 L57.6,16.8 L54.3,17.1 L50.7,17.1 L46.8,17.0 L43.1,17.1 L39.5,17.6 L36.0,18.2 L33.0,18.4 L30.2,17.7 L28.0,16.5 Z" fill="rgb(112,112,112)"/>
<path d="M31.9,19.1 L34.7,18.7 L38.9,18.5 L43.1,18.4 L47.3,18.4 L51.6,18.6 L54.3,19.1 L54.9,20.0 L54.0,21.2 L52.1,22.0 L48.9,22.2 L44.7,22.1 L40.9,22.0 L37.7,21.9 L35.0,21.7 L33.0,21.3 L31.7,20.6 L31.1,19.8 Z" fill="rgb(120,120,120)"/>
<path d="M6.1,25.1 L7.2,24.1 L9.3,23.0 L11.7,22.0 L14.2,21.2 L17.0,20.6 L19.6,20.2 L22.2,19.9 L24.7,19.9 L26.3,20.2 L26.7,21.2 L26.3,22.5 L25.2,23.6 L23.4,24.1 L21.0,24.3 L18.5,24.7 L15.8,25.5 L13.0,26.4 L10.6,26.9 L8.5,26.7 L6.8,26.0 Z" fill="rgb(112,112,112)"/>
<path d="M17.3,23.6 L17.3,23.8 L17.0,24.0 L16.7,24.2 L16.2,24.4 L15.6,24.5 L15.0,24.6 L14.3,24.7 L13.6,24.7 L12.9,24.6 L12.3,24.5 L11.7,24.4 L11.3,24.2 L10.9,24.0 L10.7,23.8 L10.6,23.6 L10.7,23.3 L10.9,23.1 L11.3,22.9 L11.7,22.7 L12.3,22.6 L12.9,22.5 L13.6,22.4 L14.3,22.4 L15.0,22.5 L15.6,22.6 L16.2,22.7 L16.7,22.9 L17.0,23.1 L17.3,23.3 Z" fill="rgb(97,97,97)"/>
<path d="M63.3,20.2 L65.8,19.6 L69.4,19.2 L72.2,19.1 L73.5,19.6 L74.0,20.5 L73.3,21.3 L70.8,21.9 L67.2,22.4 L64.4,22.4 L63.1,21.9 L62.6,21.0 Z" fill="rgb(120,120,120)"/>
<path d="M65.5,24.2 L67.1,23.8 L69.4,23.5 L71.1,23.6 L71.9,24.1 L72.2,25.1 L71.8,25.8 L70.1,26.2 L67.7,26.5 L65.9,26.5 L65.2,25.9 L65.0,25.0 Z" fill="rgb(120,120,120)"/>
<path d="M18.0,29.2 L18.8,27.9 L20.4,26.7 L22.5,25.8 L25.2,25.1 L28.4,24.6 L31.9,24.2 L35.5,23.9 L39.4,23.6 L43.1,23.6 L46.7,23.7 L50.2,24.1 L53.2,24.7 L55.7,25.6 L57.7,26.8 L59.2,28.0 L60.1,29.4 L60.5,30.9 L60.6,32.5 L60.2,34.3 L59.4,36.1 L58.8,38.1 L58.7,40.5 L58.7,42.9 L58.3,44.8 L57.3,46.0 L55.8,46.6 L54.3,46.6 L53.0,46.0 L51.6,44.8 L49.8,43.7 L47.5,43.1 L44.8,42.6 L42.0,42.2 L39.0,41.8 L36.0,41.4 L33.0,40.8 L30.2,39.9 L27.5,38.9 L25.2,37.7 L23.2,36.4 L21.6,35.1 L20.3,33.6 L19.1,32.1 L18.2,30.6 Z" fill="rgb(112,112,112)"/>
<path d="M20.7,30.3 L21.7,28.9 L23.8,27.8 L26.3,26.9 L29.0,26.4 L32.1,26.1 L35.3,25.8 L38.6,25.5 L42.0,25.2 L45.3,25.1 L48.6,25.4 L51.7,25.8 L54.3,26.5 L56.2,27.3 L57.5,28.3 L58.3,29.6 L58.7,31.1 L58.6,32.8 L58.3,34.8 L58.0,37.4 L57.6,40.3 L57.0,42.6 L56.1,43.8 L55.1,44.3 L53.9,44.4 L52.6,43.9 L51.2,43.0 L49.4,42.2 L46.8,41.6 L43.9,41.2 L40.9,40.8 L37.8,40.4 L34.7,40.1 L31.9,39.5 L29.4,38.5 L27.2,37.3 L25.2,35.9 L23.1,34.1 L21.4,32.1 Z" fill="rgb(82,82,82)"/>
<path d="M22.9,31.4 L24.1,30.2 L26.1,29.0 L28.5,28.0 L31.3,27.5 L34.4,27.2 L37.5,26.9 L40.5,26.6 L43.6,26.4 L46.5,26.5 L49.3,26.8 L52.1,27.3 L54.3,28.0 L55.7,29.0 L56.5,30.1 L57.0,31.4 L57.0,32.8 L56.6,34.3 L56.1,35.9 L55.6,37.5 L54.9,39.2 L53.9,40.4 L52.4,40.9 L50.7,40.9 L48.7,40.8 L46.3,40.6 L43.7,40.3 L40.9,39.9 L37.9,39.4 L34.7,38.9 L31.9,38.1 L29.5,37.1 L27.4,35.9 L25.6,34.8 L24.2,33.6 L23.1,32.5 Z" fill="rgb(61,61,61)"/>
<path d="M25.2,32.1 L26.4,31.1 L28.5,30.0 L30.8,29.2 L33.2,28.6 L35.9,28.3 L38.6,28.0 L41.3,27.8 L43.9,27.7 L46.5,27.8 L48.9,28.2 L51.3,28.9 L53.2,29.6 L54.4,30.5 L55.1,31.4 L55.4,32.5 L55.3,33.7 L54.9,35.1 L54.3,36.3 L53.7,37.5 L53.0,38.6 L52.1,39.5 L50.8,39.9 L49.3,40.0 L47.6,39.9 L45.6,39.7 L43.3,39.4 L40.9,39.0 L38.0,38.6 L35.0,38.1 L32.3,37.4 L30.2,36.6 L28.4,35.7 L27.0,34.8 L25.8,33.9 L25.1,33.0 Z" fill="rgb(43,43,43)"/>
<path d="M28.5,33.2 L29.7,32.2 L31.8,31.2 L34.1,30.5 L36.6,30.1 L39.4,30.0 L42.0,30.1 L44.4,30.3 L46.8,30.8 L48.7,31.4 L50.2,32.0 L51.4,32.8 L52.1,33.6 L52.2,34.7 L51.8,35.8 L50.9,36.8 L49.6,37.4 L47.8,37.9 L45.8,38.1 L43.5,38.1 L41.1,38.0 L38.6,37.7 L36.2,37.4 L33.9,36.9 L31.9,36.3 L30.2,35.4 L28.9,34.3 Z" fill="rgb(26,26,26)"/>
<path d="M53.2,40.4 L54.2,40.1 L55.8,40.7 L57.0,41.5 L57.6,42.7 L57.8,44.2 L57.7,45.3 L56.9,46.0 L55.8,46.3 L54.7,46.0 L53.9,44.3 L53.3,42.0 Z" fill="rgb(61,61,61)"/>
</g>
<g fill="none" stroke="#555" stroke-width="0.3" stroke-opacity="0.55">
<polyline points="5.3,24.0 10.1,21.6 16.1,19.6 22.1,17.4 26.9,13.8 30.5,10.2 34.1,8.0 38.9,9.0 46.1,10.2 52.1,8.8 58.1,9.6"/>
<polyline points="5.3,24.0 12.5,28.2 19.7,30.6 23.9,36.6 28.1,40.2 34.1,42.0 38.9,44.4 46.1,45.6 50.9,43.8 54.5,46.2 58.1,48.6"/>
<polyline points="50.1,16.2 57.3,17.4 64.5,18.6 70.5,16.2 75.3,12.6 80.1,13.2 77.7,10.2 81.3,6.6 84.9,4.2"/>
<polyline points="84.9,4.2 90.9,7.2 98.1,11.4 102.9,10.8"/>
<polyline points="94.5,21.0 90.9,24.6 95.7,28.2 96.9,31.8 93.3,34.2 95.7,37.8 90.9,43.8 86.1,46.2 82.5,48.6 77.7,51.0 70.5,52.2 65.7,54.6"/>
<polyline points="47.7,48.6 52.5,51.0 57.3,49.8 62.1,52.2 65.7,54.6"/>
</g>
</g>
<path d="M34.45,19.65 L37.35,19.65 L35.90,22.25 Z" fill="#000"/>
<path d="M29.85,23.85 L32.75,23.85 L31.30,26.45 Z" fill="#000"/>
<path d="M36.45,23.85 L39.35,23.85 L37.90,26.45 Z" fill="#000"/>
<path d="M52.15,26.05 L55.05,26.05 L53.60,28.65 Z" fill="#000"/>
<path d="M54.85,28.75 L57.75,28.75 L56.30,31.35 Z" fill="#000"/>
<path d="M50.75,35.25 L53.65,35.25 L52.20,37.85 Z" fill="#000"/>
<path d="M54.55,39.65 L57.45,39.65 L56.00,42.25 Z" fill="#000"/>
<path d="M81.85,30.05 L84.75,30.05 L83.30,32.65 Z" fill="#000"/>
<path d="M63.25,52.65 L66.15,52.65 L64.70,55.25 Z" fill="#000"/>
<rect x="0.00" y="0.00" width="108.20" height="59.20" fill="none" stroke="#9a9a9a" stroke-width="0.6" rx="0"/>
</g>
<text x="191.80" y="75.90" font-size="6.5" text-anchor="middle" font-family="Liberation Serif" font-weight="normal" fill="#000">Inversion: 40 km</text>
<text x="152.80" y="142.00" font-size="5.2" text-anchor="middle" font-family="Liberation Serif" font-weight="normal" fill="#000">75°E</text>
<text x="174.80" y="142.00" font-size="5.2" text-anchor="middle" font-family="Liberation Serif" font-weight="normal" fill="#000">90°E</text>
<text x="196.80" y="142.00" font-size="5.2" text-anchor="middle" font-family="Liberation Serif" font-weight="normal" fill="#000">105°E</text>
<text x="218.80" y="142.00" font-size="5.2" text-anchor="middle" font-family="Liberation Serif" font-weight="normal" fill="#000">120°E</text>
<text x="240.80" y="142.00" font-size="5.2" text-anchor="middle" font-family="Liberation Serif" font-weight="normal" fill="#000">135°E</text>
<g transform="translate(251.9,77.2)">
<rect x="0.00" y="0.00" width="108.20" height="59.20" fill="#fff" stroke="none" stroke-width="0.5" rx="0"/>
<line x1="15.10" y1="0.00" x2="15.10" y2="59.20" stroke="#dcdcdc" stroke-width="0.4"/>
<line x1="37.10" y1="0.00" x2="37.10" y2="59.20" stroke="#dcdcdc" stroke-width="0.4"/>
<line x1="59.10" y1="0.00" x2="59.10" y2="59.20" stroke="#dcdcdc" stroke-width="0.4"/>
<line x1="81.10" y1="0.00" x2="81.10" y2="59.20" stroke="#dcdcdc" stroke-width="0.4"/>
<line x1="103.10" y1="0.00" x2="103.10" y2="59.20" stroke="#dcdcdc" stroke-width="0.4"/>
<line x1="0.00" y1="8.20" x2="108.20" y2="8.20" stroke="#dcdcdc" stroke-width="0.4"/>
<line x1="0.00" y1="23.30" x2="108.20" y2="23.30" stroke="#dcdcdc" stroke-width="0.4"/>
<line x1="0.00" y1="38.30" x2="108.20" y2="38.30" stroke="#dcdcdc" stroke-width="0.4"/>
<line x1="0.00" y1="53.40" x2="108.20" y2="53.40" stroke="#dcdcdc" stroke-width="0.4"/>
<g clip-path="url(#mapclip)" fill="none" stroke="#a8a8a8" stroke-width="0.35">
<polyline points="17.1,1.0 21.0,3.8 24.4,6.7 28.9,7.8 32.3,8.9"/>
<polyline points="0.2,19.6 3.0,20.7 5.3,23.6 4.7,25.2"/>
<polyline points="4.7,26.4 7.0,30.9 9.8,32.0 12.0,35.4 11.5,39.9 8.6,43.3 7.5,47.8 9.8,51.2 13.1,54.5 15.4,59.0"/>
<polyline points="0.2,36.5 4.1,35.4 7.5,32.0"/>
<polyline points="22.7,38.2 24.4,41.6 27.8,42.7 33.4,43.3 35.7,45.5 36.2,50.0 34.6,54.5 32.3,57.9"/>
<polyline points="35.7,45.5 40.2,47.8 43.6,48.9 47.0,51.2"/>
<polyline points="3.0,47.8 6.4,51.2 10.9,59.0"/>
<polyline points="0.2,5.0 5.3,2.7 10.9,3.3 17.1,1.0"/>
<polyline points="103.3,10.8 107.9,14.2 111.1,13.0"/>
<polyline points="97.7,31.0 101.9,28.6 106.7,26.2 111.1,28.0"/>
<polyline points="101.9,32.8 105.5,31.0 107.9,32.2"/>
<polyline points="104.3,0.4 107.9,1.6"/>
<polyline points="82.1,56.2 82.9,58.6 83.9,58.8 85.1,56.2 82.1,56.2"/>
<polyline points="93.5,39.4 97.1,37.0 99.5,37.6"/>
</g>
<g clip-path="url(#chinaclip)">
<g filter="url(#fm12)">
<rect x="-6.00" y="-6.00" width="120.20" height="71.20" fill="rgb(142,142,142)" stroke="none" stroke-width="0.5" rx="0"/>
<path d="M96.7,15.7 L96.4,16.9 L95.9,18.0 L94.9,19.0 L93.7,19.9 L92.1,20.6 L90.5,21.0 L88.7,21.3 L86.7,21.3 L84.9,21.0 L83.3,20.6 L81.7,19.9 L80.5,19.0 L79.5,18.0 L79.0,16.9 L78.7,15.7 L79.0,14.6 L79.5,13.4 L80.5,12.4 L81.7,11.6 L83.3,10.9 L84.9,10.4 L86.7,10.2 L88.7,10.2 L90.5,10.4 L92.1,10.9 L93.7,11.6 L94.9,12.4 L95.9,13.4 L96.4,14.6 Z" fill="rgb(139,139,139)"/>
<path d="M76.5,40.4 L76.3,41.3 L75.9,42.2 L75.2,43.0 L74.3,43.7 L73.1,44.2 L71.9,44.6 L70.5,44.8 L69.1,44.8 L67.7,44.6 L66.4,44.2 L65.3,43.7 L64.3,43.0 L63.7,42.2 L63.2,41.3 L63.1,40.4 L63.2,39.4 L63.7,38.5 L64.3,37.7 L65.3,37.0 L66.4,36.5 L67.7,36.1 L69.1,35.9 L70.5,35.9 L71.9,36.1 L73.1,36.5 L74.3,37.0 L75.2,37.7 L75.9,38.5 L76.3,39.4 Z" fill="rgb(139,139,139)"/>
<path d="M11.5,22.9 L12.7,21.8 L14.8,20.7 L17.1,19.8 L19.7,19.1 L22.4,18.6 L25.0,18.4 L27.3,18.7 L29.5,19.4 L30.6,20.2 L30.2,21.1 L28.9,22.1 L27.2,22.9 L25.2,23.4 L22.9,23.8 L20.5,24.2 L18.1,24.9 L15.7,25.6 L13.8,25.8 L12.4,25.2 L11.5,24.0 Z" fill="rgb(112,112,112)"/>
<path d="M20.5,22.0 L20.4,22.2 L20.2,22.4 L19.9,22.7 L19.4,22.8 L18.8,23.0 L18.2,23.1 L17.5,23.1 L16.8,23.1 L16.1,23.1 L15.5,23.0 L14.9,22.8 L14.4,22.7 L14.1,22.4 L13.9,22.2 L13.8,22.0 L13.9,21.8 L14.1,21.5 L14.4,21.3 L14.9,21.2 L15.5,21.0 L16.1,20.9 L16.8,20.9 L17.5,20.9 L18.2,20.9 L18.8,21.0 L19.4,21.2 L19.9,21.3 L20.2,21.5 L20.4,21.8 Z" fill="rgb(97,97,97)"/>
<path d="M29.5,15.3 L31.8,14.0 L35.7,12.7 L39.5,11.7 L43.0,11.2 L46.5,11.0 L49.6,11.2 L52.7,12.1 L55.4,13.3 L56.8,14.6 L56.3,15.9 L54.4,17.1 L51.9,18.0 L48.5,18.0 L44.4,17.7 L40.7,17.5 L37.6,17.9 L35.0,18.4 L32.8,18.4 L30.9,17.7 L29.4,16.5 Z" fill="rgb(112,112,112)"/>
<path d="M86.6,37.0 L87.7,35.9 L89.4,35.0 L91.1,34.8 L92.5,35.4 L93.8,36.7 L94.4,38.1 L94.2,39.7 L93.3,41.5 L92.2,42.6 L90.7,42.8 L89.0,42.3 L87.7,41.5 L86.9,40.2 L86.4,38.5 Z" fill="rgb(112,112,112)"/>
<path d="M93.3,30.3 L94.4,29.4 L96.3,29.0 L97.8,29.2 L98.6,30.3 L99.0,32.1 L98.9,33.6 L98.1,34.8 L96.7,35.8 L95.5,35.9 L94.5,34.4 L93.5,32.1 Z" fill="rgb(120,120,120)"/>
<path d="M72.7,24.2 L72.6,24.5 L72.5,24.7 L72.3,24.9 L72.1,25.1 L71.8,25.2 L71.5,25.3 L71.1,25.3 L70.7,25.3 L70.3,25.3 L70.0,25.2 L69.7,25.1 L69.5,24.9 L69.3,24.7 L69.2,24.5 L69.1,24.2 L69.2,24.0 L69.3,23.8 L69.5,23.6 L69.7,23.4 L70.0,23.3 L70.3,23.2 L70.7,23.1 L71.1,23.1 L71.5,23.2 L71.8,23.3 L72.1,23.4 L72.3,23.6 L72.5,23.8 L72.6,24.0 Z" fill="rgb(112,112,112)"/>
<path d="M18.7,29.2 L19.6,27.9 L21.2,26.7 L23.2,25.8 L25.6,25.1 L28.5,24.6 L31.7,24.2 L35.3,23.9 L39.2,23.6 L42.9,23.6 L46.2,23.7 L49.2,24.1 L51.9,24.7 L54.1,25.4 L56.0,26.2 L57.5,27.4 L58.4,28.8 L58.9,30.6 L59.0,32.5 L58.7,34.7 L58.0,37.0 L57.5,39.2 L57.3,41.3 L57.2,43.3 L56.8,44.8 L55.8,45.9 L54.5,46.5 L53.0,46.6 L51.5,46.0 L49.8,44.8 L47.8,43.7 L45.5,43.1 L42.9,42.6 L40.2,42.2 L37.4,41.8 L34.5,41.4 L31.7,40.8 L29.1,39.9 L26.6,38.9 L24.5,37.7 L22.9,36.4 L21.6,35.1 L20.5,33.6 L19.5,32.1 L18.8,30.6 Z" fill="rgb(112,112,112)"/>
<path d="M20.5,31.0 L21.5,29.6 L23.6,28.4 L26.1,27.4 L28.8,26.7 L31.9,26.2 L35.1,25.8 L38.1,25.4 L41.1,25.2 L44.0,25.1 L46.8,25.4 L49.5,25.8 L51.9,26.5 L53.8,27.3 L55.3,28.3 L56.3,29.6 L56.9,31.4 L56.9,33.6 L56.8,35.9 L56.5,38.3 L56.0,40.7 L55.2,42.6 L54.3,43.7 L53.1,44.3 L51.9,44.4 L50.6,43.9 L49.2,43.0 L47.4,42.2 L45.0,41.6 L42.3,41.2 L39.5,40.8 L36.7,40.4 L33.9,40.1 L31.3,39.5 L28.9,38.5 L26.9,37.3 L25.0,35.9 L23.0,34.3 L21.2,32.5 Z" fill="rgb(82,82,82)"/>
<path d="M23.2,31.8 L24.6,30.8 L26.9,29.6 L29.5,28.7 L32.3,28.1 L35.4,27.7 L38.4,27.4 L41.2,27.2 L43.8,27.2 L46.3,27.4 L48.8,27.9 L51.2,28.6 L53.0,29.6 L54.0,30.9 L54.5,32.5 L54.5,34.1 L54.1,35.7 L53.2,37.3 L51.9,38.6 L50.0,39.3 L47.6,39.7 L45.1,39.9 L42.6,39.9 L40.0,39.6 L37.3,39.2 L34.6,38.8 L31.8,38.3 L29.5,37.7 L27.6,36.8 L26.1,35.8 L25.0,34.8 L23.9,33.8 L23.1,32.8 Z" fill="rgb(61,61,61)"/>
<path d="M31.7,31.8 L33.4,31.1 L35.9,30.6 L38.4,30.3 L40.7,30.2 L43.1,30.2 L45.1,30.5 L47.0,31.0 L48.6,31.7 L49.6,32.5 L50.0,33.6 L49.9,34.9 L49.2,35.9 L47.9,36.5 L46.1,37.0 L44.0,37.2 L41.6,37.3 L39.0,37.1 L36.6,36.8 L34.8,36.3 L33.2,35.7 L32.1,35.0 L31.4,34.0 L31.2,32.8 Z" fill="rgb(43,43,43)"/>
<path d="M51.9,41.5 L52.9,41.2 L54.6,41.5 L55.9,42.2 L56.4,43.3 L56.6,44.8 L56.3,46.0 L55.5,46.6 L54.2,47.0 L53.2,46.6 L52.4,45.1 L51.8,43.0 Z" fill="rgb(82,82,82)"/>
</g>
<g fill="none" stroke="#555" stroke-width="0.3" stroke-opacity="0.55">
<polyline points="5.3,24.0 10.1,21.6 16.1,19.6 22.1,17.4 26.9,13.8 30.5,10.2 34.1,8.0 38.9,9.0 46.1,10.2 52.1,8.8 58.1,9.6"/>
<polyline points="5.3,24.0 12.5,28.2 19.7,30.6 23.9,36.6 28.1,40.2 34.1,42.0 38.9,44.4 46.1,45.6 50.9,43.8 54.5,46.2 58.1,48.6"/>
<polyline points="50.1,16.2 57.3,17.4 64.5,18.6 70.5,16.2 75.3,12.6 80.1,13.2 77.7,10.2 81.3,6.6 84.9,4.2"/>
<polyline points="84.9,4.2 90.9,7.2 98.1,11.4 102.9,10.8"/>
<polyline points="94.5,21.0 90.9,24.6 95.7,28.2 96.9,31.8 93.3,34.2 95.7,37.8 90.9,43.8 86.1,46.2 82.5,48.6 77.7,51.0 70.5,52.2 65.7,54.6"/>
<polyline points="47.7,48.6 52.5,51.0 57.3,49.8 62.1,52.2 65.7,54.6"/>
</g>
</g>
<path d="M34.45,19.65 L37.35,19.65 L35.90,22.25 Z" fill="#000"/>
<path d="M29.85,23.85 L32.75,23.85 L31.30,26.45 Z" fill="#000"/>
<path d="M36.45,23.85 L39.35,23.85 L37.90,26.45 Z" fill="#000"/>
<path d="M52.15,26.05 L55.05,26.05 L53.60,28.65 Z" fill="#000"/>
<path d="M54.85,28.75 L57.75,28.75 L56.30,31.35 Z" fill="#000"/>
<path d="M50.75,35.25 L53.65,35.25 L52.20,37.85 Z" fill="#000"/>
<path d="M54.55,39.65 L57.45,39.65 L56.00,42.25 Z" fill="#000"/>
<path d="M81.85,30.05 L84.75,30.05 L83.30,32.65 Z" fill="#000"/>
<path d="M63.25,52.65 L66.15,52.65 L64.70,55.25 Z" fill="#000"/>
<rect x="0.00" y="0.00" width="108.20" height="59.20" fill="none" stroke="#9a9a9a" stroke-width="0.6" rx="0"/>
</g>
<text x="306.00" y="75.90" font-size="6.5" text-anchor="middle" font-family="Liberation Serif" font-weight="normal" fill="#000">Inversion: 60 km</text>
<text x="267.00" y="142.00" font-size="5.2" text-anchor="middle" font-family="Liberation Serif" font-weight="normal" fill="#000">75°E</text>
<text x="289.00" y="142.00" font-size="5.2" text-anchor="middle" font-family="Liberation Serif" font-weight="normal" fill="#000">90°E</text>
<text x="311.00" y="142.00" font-size="5.2" text-anchor="middle" font-family="Liberation Serif" font-weight="normal" fill="#000">105°E</text>
<text x="333.00" y="142.00" font-size="5.2" text-anchor="middle" font-family="Liberation Serif" font-weight="normal" fill="#000">120°E</text>
<text x="355.00" y="142.00" font-size="5.2" text-anchor="middle" font-family="Liberation Serif" font-weight="normal" fill="#000">135°E</text>
<g transform="translate(365.8,77.2)">
<rect x="0.00" y="0.00" width="108.20" height="59.20" fill="#fff" stroke="none" stroke-width="0.5" rx="0"/>
<line x1="15.10" y1="0.00" x2="15.10" y2="59.20" stroke="#dcdcdc" stroke-width="0.4"/>
<line x1="37.10" y1="0.00" x2="37.10" y2="59.20" stroke="#dcdcdc" stroke-width="0.4"/>
<line x1="59.10" y1="0.00" x2="59.10" y2="59.20" stroke="#dcdcdc" stroke-width="0.4"/>
<line x1="81.10" y1="0.00" x2="81.10" y2="59.20" stroke="#dcdcdc" stroke-width="0.4"/>
<line x1="103.10" y1="0.00" x2="103.10" y2="59.20" stroke="#dcdcdc" stroke-width="0.4"/>
<line x1="0.00" y1="8.20" x2="108.20" y2="8.20" stroke="#dcdcdc" stroke-width="0.4"/>
<line x1="0.00" y1="23.30" x2="108.20" y2="23.30" stroke="#dcdcdc" stroke-width="0.4"/>
<line x1="0.00" y1="38.30" x2="108.20" y2="38.30" stroke="#dcdcdc" stroke-width="0.4"/>
<line x1="0.00" y1="53.40" x2="108.20" y2="53.40" stroke="#dcdcdc" stroke-width="0.4"/>
<g clip-path="url(#mapclip)" fill="none" stroke="#a8a8a8" stroke-width="0.35">
<polyline points="17.1,1.0 21.0,3.8 24.4,6.7 28.9,7.8 32.3,8.9"/>
<polyline points="0.2,19.6 3.0,20.7 5.3,23.6 4.7,25.2"/>
<polyline points="4.7,26.4 7.0,30.9 9.8,32.0 12.0,35.4 11.5,39.9 8.6,43.3 7.5,47.8 9.8,51.2 13.1,54.5 15.4,59.0"/>
<polyline points="0.2,36.5 4.1,35.4 7.5,32.0"/>
<polyline points="22.7,38.2 24.4,41.6 27.8,42.7 33.4,43.3 35.7,45.5 36.2,50.0 34.6,54.5 32.3,57.9"/>
<polyline points="35.7,45.5 40.2,47.8 43.6,48.9 47.0,51.2"/>
<polyline points="3.0,47.8 6.4,51.2 10.9,59.0"/>
<polyline points="0.2,5.0 5.3,2.7 10.9,3.3 17.1,1.0"/>
<polyline points="103.3,10.8 107.9,14.2 111.1,13.0"/>
<polyline points="97.7,31.0 101.9,28.6 106.7,26.2 111.1,28.0"/>
<polyline points="101.9,32.8 105.5,31.0 107.9,32.2"/>
<polyline points="104.3,0.4 107.9,1.6"/>
<polyline points="82.1,56.2 82.9,58.6 83.9,58.8 85.1,56.2 82.1,56.2"/>
<polyline points="93.5,39.4 97.1,37.0 99.5,37.6"/>
</g>
<g clip-path="url(#chinaclip)">
<g filter="url(#fm13)">
<rect x="-6.00" y="-6.00" width="120.20" height="71.20" fill="rgb(139,139,139)" stroke="none" stroke-width="0.5" rx="0"/>
<path d="M54.2,11.2 L57.0,10.2 L61.1,9.6 L65.4,9.0 L69.8,8.3 L74.4,7.5 L78.8,6.8 L82.8,5.8 L86.6,4.8 L90.0,4.5 L93.4,5.6 L96.5,7.3 L99.0,9.0 L101.0,10.0 L102.5,10.9 L103.0,12.4 L102.2,14.6 L100.5,17.3 L99.0,20.2 L98.0,23.2 L97.1,26.4 L96.8,29.2 L97.5,31.2 L98.7,32.9 L99.0,34.8 L97.8,37.3 L95.6,40.1 L93.4,42.6 L91.4,44.7 L89.2,46.6 L86.7,48.2 L83.6,49.5 L80.2,50.6 L76.6,51.6 L72.9,52.5 L69.0,53.3 L65.4,53.8 L62.2,53.7 L59.3,53.3 L56.4,52.7 L53.6,52.1 L50.8,51.5 L48.6,50.4 L46.9,48.7 L45.6,46.7 L45.2,44.8 L46.2,43.7 L47.9,42.8 L49.7,41.5 L51.3,39.2 L53.0,36.5 L54.2,33.6 L54.9,30.7 L55.2,27.5 L55.3,24.7 L55.1,22.3 L54.6,20.1 L54.2,18.0 L53.7,15.6 L53.3,13.1 Z" fill="rgb(112,112,112)"/>
<path d="M11.6,22.4 L13.4,20.9 L16.9,19.3 L20.6,18.0 L24.2,16.9 L28.0,16.1 L31.8,15.7 L35.7,15.8 L39.5,16.2 L43.0,16.8 L46.1,17.7 L48.8,18.8 L50.8,20.2 L52.0,22.0 L52.4,24.1 L52.0,25.8 L50.4,26.9 L47.9,27.6 L45.2,28.0 L42.4,28.2 L39.3,28.2 L36.3,28.0 L33.3,27.7 L30.3,27.3 L27.3,26.9 L24.3,27.0 L21.2,27.2 L18.4,26.9 L15.4,25.8 L12.6,24.1 Z" fill="rgb(158,158,158)"/>
<path d="M19.5,20.2 L22.1,19.4 L25.9,18.7 L29.6,18.4 L33.0,18.7 L36.3,19.4 L38.5,20.2 L39.2,21.0 L38.7,21.9 L37.4,22.4 L35.0,22.4 L31.6,22.1 L28.4,22.0 L25.5,22.3 L22.7,22.8 L20.6,22.9 L19.3,22.2 L18.8,21.2 Z" fill="rgb(178,178,178)"/>
<path d="M56.0,25.8 L58.0,24.3 L60.7,23.6 L63.2,23.6 L65.3,24.4 L67.3,26.0 L68.8,28.0 L69.7,30.8 L70.1,34.0 L69.9,37.0 L68.8,39.6 L67.2,41.9 L65.4,43.7 L63.6,45.0 L61.6,45.8 L59.8,46.0 L58.1,45.4 L56.5,44.3 L55.3,42.6 L54.6,40.4 L54.2,37.6 L54.2,34.8 L54.4,31.6 L54.9,28.3 Z" fill="rgb(158,158,158)"/>
<path d="M65.0,37.0 L64.9,37.8 L64.7,38.6 L64.4,39.4 L64.0,40.0 L63.5,40.5 L62.9,40.8 L62.4,41.0 L61.7,41.0 L61.1,40.8 L60.6,40.5 L60.1,40.0 L59.7,39.4 L59.4,38.6 L59.2,37.8 L59.1,37.0 L59.2,36.2 L59.4,35.4 L59.7,34.6 L60.1,34.0 L60.6,33.5 L61.1,33.2 L61.7,33.0 L62.4,33.0 L62.9,33.2 L63.5,33.5 L64.0,34.0 L64.4,34.6 L64.7,35.4 L64.9,36.2 Z" fill="rgb(178,178,178)"/>
<path d="M74.4,15.7 L76.4,14.2 L79.8,13.1 L83.3,12.4 L86.5,11.6 L89.6,11.1 L92.3,11.2 L94.4,12.3 L95.9,13.9 L96.8,15.7 L96.7,17.6 L95.8,19.6 L94.5,21.3 L92.7,22.8 L90.4,24.0 L87.8,24.7 L84.8,24.9 L81.6,24.6 L78.8,23.6 L76.5,21.3 L74.7,18.3 Z" fill="rgb(158,158,158)"/>
<path d="M71.0,38.1 L72.9,36.8 L76.0,35.8 L78.8,35.4 L81.2,35.9 L83.3,36.9 L84.4,38.1 L84.1,39.6 L82.9,41.3 L81.1,42.6 L78.6,43.5 L75.6,44.0 L73.2,43.7 L71.7,42.2 L70.8,40.0 Z" fill="rgb(139,139,139)"/>
<path d="M63.2,48.2 L65.7,47.1 L69.2,46.2 L72.1,46.0 L74.0,46.8 L75.3,48.3 L75.5,49.8 L73.9,51.0 L71.3,52.0 L68.8,52.7 L66.8,52.7 L64.9,52.2 L63.6,51.6 L62.8,50.6 L62.4,49.3 Z" fill="rgb(139,139,139)"/>
<path d="M32.9,11.2 L36.4,10.3 L41.8,9.5 L47.5,9.0 L53.4,8.9 L59.6,9.1 L65.4,9.0 L70.3,8.4 L74.7,7.6 L78.8,6.8 L83.2,5.9 L87.4,5.0 L90.0,5.0 L90.7,6.3 L89.9,8.3 L87.8,10.1 L84.2,11.3 L79.4,12.3 L74.4,13.0 L69.2,13.4 L63.8,13.5 L58.7,13.5 L53.9,13.5 L49.4,13.4 L45.2,13.5 L41.3,13.9 L37.8,14.5 L35.2,14.6 L33.2,13.8 L32.1,12.4 Z" fill="rgb(112,112,112)"/>
<path d="M87.8,7.9 L90.2,7.1 L93.6,6.6 L96.8,6.8 L99.2,8.0 L101.2,9.9 L102.4,11.7 L102.3,13.3 L101.4,14.9 L100.1,15.7 L98.5,15.4 L96.5,14.4 L94.5,13.5 L92.5,12.9 L90.5,12.4 L88.9,11.7 L87.8,10.5 L87.3,9.0 Z" fill="rgb(97,97,97)"/>
<path d="M67.6,20.2 L69.5,19.1 L72.0,18.5 L74.4,18.4 L76.2,19.0 L77.8,20.1 L78.8,21.3 L79.0,22.8 L78.6,24.4 L77.7,25.8 L76.1,26.9 L74.1,27.7 L72.1,28.0 L70.4,27.7 L68.8,27.0 L67.6,25.8 L67.1,24.0 L67.0,21.9 Z" fill="rgb(82,82,82)"/>
<path d="M78.8,26.9 L81.3,26.0 L84.7,25.7 L87.8,25.8 L90.2,26.5 L92.2,27.7 L93.4,29.2 L93.4,31.0 L92.5,33.1 L91.2,34.8 L89.2,35.6 L86.8,36.0 L84.4,35.9 L82.3,35.2 L80.3,34.0 L78.8,32.5 L78.1,30.7 L78.0,28.5 Z" fill="rgb(97,97,97)"/>
<path d="M20.6,31.4 L22.2,30.5 L24.6,29.7 L27.3,29.2 L30.1,28.8 L33.2,28.7 L36.3,28.7 L39.3,28.9 L42.4,29.2 L45.2,29.2 L47.7,28.5 L49.9,27.5 L52.0,26.9 L53.9,27.1 L55.7,27.7 L56.9,28.7 L57.4,30.4 L57.3,32.5 L56.9,34.8 L56.2,37.2 L55.3,39.6 L54.2,41.5 L53.1,42.4 L51.8,42.8 L50.2,42.6 L48.0,41.7 L45.6,40.4 L43.0,39.2 L40.4,38.7 L37.8,38.4 L35.2,38.1 L32.5,37.8 L29.8,37.4 L27.3,37.0 L25.1,36.6 L23.2,36.2 L21.7,35.4 L20.7,34.2 L20.2,32.7 Z" fill="rgb(112,112,112)"/>
<path d="M24.0,32.5 L25.8,31.8 L28.7,31.3 L31.8,31.0 L34.7,31.0 L37.8,31.3 L40.8,31.4 L43.5,31.1 L46.2,30.5 L48.6,30.3 L50.9,30.3 L52.9,30.6 L54.2,31.4 L54.6,33.0 L54.4,35.1 L53.8,37.0 L52.8,38.5 L51.4,39.8 L49.7,40.4 L47.8,39.9 L45.5,38.7 L43.0,37.7 L40.1,37.1 L37.0,36.7 L34.0,36.3 L31.1,36.1 L28.4,35.9 L26.2,35.4 L24.7,34.6 L23.8,33.5 Z" fill="rgb(82,82,82)"/>
<path d="M43.0,33.6 L42.9,33.9 L42.6,34.2 L42.1,34.4 L41.5,34.6 L40.7,34.8 L39.9,34.9 L39.0,35.0 L38.0,35.0 L37.1,34.9 L36.3,34.8 L35.5,34.6 L34.9,34.4 L34.4,34.2 L34.1,33.9 L34.0,33.6 L34.1,33.4 L34.4,33.1 L34.9,32.9 L35.5,32.6 L36.3,32.5 L37.1,32.4 L38.0,32.3 L39.0,32.3 L39.9,32.4 L40.7,32.5 L41.5,32.6 L42.1,32.9 L42.6,33.1 L42.9,33.4 Z" fill="rgb(61,61,61)"/>
<path d="M53.8,33.6 L53.7,34.3 L53.6,34.9 L53.5,35.5 L53.3,36.0 L53.1,36.4 L52.8,36.6 L52.6,36.7 L52.3,36.7 L52.0,36.6 L51.7,36.4 L51.5,36.0 L51.3,35.5 L51.2,34.9 L51.1,34.3 L51.1,33.6 L51.1,33.0 L51.2,32.4 L51.3,31.8 L51.5,31.3 L51.7,30.9 L52.0,30.7 L52.3,30.5 L52.6,30.5 L52.8,30.7 L53.1,30.9 L53.3,31.3 L53.5,31.8 L53.6,32.4 L53.7,33.0 Z" fill="rgb(61,61,61)"/>
<path d="M26.9,34.8 L26.8,35.0 L26.7,35.2 L26.5,35.4 L26.3,35.6 L26.0,35.7 L25.6,35.8 L25.3,35.9 L24.9,35.9 L24.5,35.8 L24.2,35.7 L23.9,35.6 L23.6,35.4 L23.4,35.2 L23.3,35.0 L23.3,34.8 L23.3,34.5 L23.4,34.3 L23.6,34.1 L23.9,33.9 L24.2,33.8 L24.5,33.7 L24.9,33.6 L25.3,33.6 L25.6,33.7 L26.0,33.8 L26.3,33.9 L26.5,34.1 L26.7,34.3 L26.8,34.5 Z" fill="rgb(61,61,61)"/>
<path d="M46.4,42.6 L48.3,41.6 L51.2,41.2 L54.2,41.5 L57.3,42.5 L60.5,44.2 L63.2,46.0 L65.4,47.9 L67.1,49.9 L67.6,51.6 L66.6,52.7 L64.5,53.5 L62.0,53.8 L59.2,53.6 L55.9,52.9 L53.1,52.0 L50.8,51.2 L48.9,50.2 L47.5,48.9 L46.4,46.8 L45.9,44.4 Z" fill="rgb(97,97,97)"/>
<path d="M46.4,43.7 L48.6,42.6 L52.7,42.2 L56.4,42.6 L59.6,44.0 L62.5,46.2 L64.3,48.2 L64.6,50.0 L63.7,51.6 L62.0,52.7 L59.1,53.0 L55.3,52.6 L52.0,51.6 L49.2,49.2 L46.9,46.1 Z" fill="rgb(82,82,82)"/>
<path d="M53.5,47.1 L53.5,47.4 L53.3,47.8 L53.1,48.1 L52.9,48.4 L52.5,48.6 L52.1,48.8 L51.7,48.9 L51.3,48.9 L50.9,48.8 L50.5,48.6 L50.2,48.4 L49.9,48.1 L49.7,47.8 L49.5,47.4 L49.5,47.1 L49.5,46.7 L49.7,46.3 L49.9,46.0 L50.2,45.8 L50.5,45.5 L50.9,45.4 L51.3,45.3 L51.7,45.3 L52.1,45.4 L52.5,45.5 L52.9,45.8 L53.1,46.0 L53.3,46.3 L53.5,46.7 Z" fill="rgb(61,61,61)"/>
<path d="M80.0,28.7 L82.0,27.7 L85.1,27.0 L87.8,26.9 L89.7,27.7 L91.2,29.1 L91.8,30.5 L91.5,31.9 L90.3,33.4 L88.7,34.3 L86.4,34.4 L83.7,34.0 L81.5,33.2 L80.2,31.8 L79.6,30.1 Z" fill="rgb(82,82,82)"/>
<path d="M69.9,42.6 L72.2,41.2 L75.6,40.2 L78.8,39.2 L81.6,38.2 L84.3,37.3 L86.7,37.0 L89.1,37.6 L91.2,38.9 L92.3,40.4 L91.7,42.1 L90.0,44.1 L87.8,46.0 L85.1,47.7 L81.9,49.4 L78.8,50.4 L75.9,50.7 L73.1,50.3 L71.0,49.3 L69.8,47.4 L69.3,44.8 Z" fill="rgb(97,97,97)"/>
<path d="M91.2,31.4 L92.7,30.2 L94.9,29.3 L96.8,29.2 L98.1,30.2 L99.1,31.9 L99.4,33.6 L98.9,35.3 L97.7,37.0 L96.3,38.1 L94.8,38.3 L93.1,37.9 L91.8,37.0 L91.1,35.3 L90.8,33.2 Z" fill="rgb(97,97,97)"/>
<path d="M4.9,24.2 L6.6,23.2 L9.1,22.2 L11.6,21.3 L14.2,20.6 L16.7,20.1 L18.4,20.2 L18.7,21.2 L18.2,22.8 L17.2,24.2 L15.7,25.3 L13.7,26.3 L11.6,26.9 L9.6,27.1 L7.6,26.9 L6.0,26.5 L5.0,25.9 L4.5,25.1 Z" fill="rgb(112,112,112)"/>
<path d="M6.0,22.9 L6.8,22.0 L8.2,21.4 L9.4,21.3 L10.3,22.1 L11.0,23.5 L11.2,24.7 L10.5,25.6 L9.4,26.3 L8.3,26.5 L7.3,25.6 L6.3,24.1 Z" fill="rgb(224,224,224)"/>
<path d="M9.4,20.2 L10.1,19.5 L11.2,18.7 L12.1,18.4 L12.6,18.7 L13.0,19.5 L13.0,20.2 L12.4,20.9 L11.5,21.7 L10.7,22.0 L10.1,21.7 L9.5,20.9 Z" fill="rgb(43,43,43)"/>
</g>
<g fill="none" stroke="#555" stroke-width="0.3" stroke-opacity="0.55">
<polyline points="5.3,24.0 10.1,21.6 16.1,19.6 22.1,17.4 26.9,13.8 30.5,10.2 34.1,8.0 38.9,9.0 46.1,10.2 52.1,8.8 58.1,9.6"/>
<polyline points="5.3,24.0 12.5,28.2 19.7,30.6 23.9,36.6 28.1,40.2 34.1,42.0 38.9,44.4 46.1,45.6 50.9,43.8 54.5,46.2 58.1,48.6"/>
<polyline points="50.1,16.2 57.3,17.4 64.5,18.6 70.5,16.2 75.3,12.6 80.1,13.2 77.7,10.2 81.3,6.6 84.9,4.2"/>
<polyline points="84.9,4.2 90.9,7.2 98.1,11.4 102.9,10.8"/>
<polyline points="94.5,21.0 90.9,24.6 95.7,28.2 96.9,31.8 93.3,34.2 95.7,37.8 90.9,43.8 86.1,46.2 82.5,48.6 77.7,51.0 70.5,52.2 65.7,54.6"/>
<polyline points="47.7,48.6 52.5,51.0 57.3,49.8 62.1,52.2 65.7,54.6"/>
</g>
</g>
<path d="M34.45,19.65 L37.35,19.65 L35.90,22.25 Z" fill="#000"/>
<path d="M29.85,23.85 L32.75,23.85 L31.30,26.45 Z" fill="#000"/>
<path d="M36.45,23.85 L39.35,23.85 L37.90,26.45 Z" fill="#000"/>
<path d="M52.15,26.05 L55.05,26.05 L53.60,28.65 Z" fill="#000"/>
<path d="M54.85,28.75 L57.75,28.75 L56.30,31.35 Z" fill="#000"/>
<path d="M50.75,35.25 L53.65,35.25 L52.20,37.85 Z" fill="#000"/>
<path d="M54.55,39.65 L57.45,39.65 L56.00,42.25 Z" fill="#000"/>
<path d="M81.85,30.05 L84.75,30.05 L83.30,32.65 Z" fill="#000"/>
<path d="M63.25,52.65 L66.15,52.65 L64.70,55.25 Z" fill="#000"/>
<rect x="0.00" y="0.00" width="108.20" height="59.20" fill="none" stroke="#9a9a9a" stroke-width="0.6" rx="0"/>
</g>
<text x="419.90" y="75.90" font-size="6.5" text-anchor="middle" font-family="Liberation Serif" font-weight="normal" fill="#000">Inversion: 80 km</text>
<text x="380.90" y="142.00" font-size="5.2" text-anchor="middle" font-family="Liberation Serif" font-weight="normal" fill="#000">75°E</text>
<text x="402.90" y="142.00" font-size="5.2" text-anchor="middle" font-family="Liberation Serif" font-weight="normal" fill="#000">90°E</text>
<text x="424.90" y="142.00" font-size="5.2" text-anchor="middle" font-family="Liberation Serif" font-weight="normal" fill="#000">105°E</text>
<text x="446.90" y="142.00" font-size="5.2" text-anchor="middle" font-family="Liberation Serif" font-weight="normal" fill="#000">120°E</text>
<text x="468.90" y="142.00" font-size="5.2" text-anchor="middle" font-family="Liberation Serif" font-weight="normal" fill="#000">135°E</text>
<rect x="478.10" y="77.50" width="4.80" height="58.60" fill="url(#cbar)" stroke="none" stroke-width="0.5" rx="0"/>
<line x1="482.90" y1="83.00" x2="484.20" y2="83.00" stroke="#222" stroke-width="0.4"/>
<text x="485.20" y="84.80" font-size="5.2" text-anchor="start" font-family="Liberation Serif" font-weight="normal" fill="#000">4.8</text>
<line x1="482.90" y1="96.00" x2="484.20" y2="96.00" stroke="#222" stroke-width="0.4"/>
<text x="485.20" y="97.80" font-size="5.2" text-anchor="start" font-family="Liberation Serif" font-weight="normal" fill="#000">4.6</text>
<line x1="482.90" y1="109.00" x2="484.20" y2="109.00" stroke="#222" stroke-width="0.4"/>
<text x="485.20" y="110.80" font-size="5.2" text-anchor="start" font-family="Liberation Serif" font-weight="normal" fill="#000">4.4</text>
<line x1="482.90" y1="122.00" x2="484.20" y2="122.00" stroke="#222" stroke-width="0.4"/>
<text x="485.20" y="123.80" font-size="5.2" text-anchor="start" font-family="Liberation Serif" font-weight="normal" fill="#000">4.2</text>
<line x1="482.90" y1="135.00" x2="484.20" y2="135.00" stroke="#222" stroke-width="0.4"/>
<text x="485.20" y="136.80" font-size="5.2" text-anchor="start" font-family="Liberation Serif" font-weight="normal" fill="#000">4.0</text>
<text x="484.30" y="75.50" font-size="5.2" text-anchor="middle" font-family="Liberation Serif" font-weight="normal" fill="#000">Vs (km/s)</text>
<text x="9.80" y="13.30" font-size="7.0" text-anchor="start" font-family="Liberation Sans" font-weight="bold" fill="#000" textLength="10.2" lengthAdjust="spacingAndGlyphs">(a)</text>
<line x1="35.98" y1="147.30" x2="35.98" y2="215.20" stroke="#c8c8c8" stroke-width="0.42" stroke-dasharray="0.9 0.9"/>
<line x1="35.98" y1="215.20" x2="35.98" y2="216.80" stroke="#222" stroke-width="0.45"/>
<line x1="58.10" y1="147.30" x2="58.10" y2="215.20" stroke="#c8c8c8" stroke-width="0.42" stroke-dasharray="0.9 0.9"/>
<line x1="58.10" y1="215.20" x2="58.10" y2="216.80" stroke="#222" stroke-width="0.45"/>
<line x1="80.50" y1="147.30" x2="80.50" y2="215.20" stroke="#c8c8c8" stroke-width="0.42" stroke-dasharray="0.9 0.9"/>
<line x1="80.50" y1="215.20" x2="80.50" y2="216.80" stroke="#222" stroke-width="0.45"/>
<line x1="30.55" y1="151.05" x2="96.15" y2="151.05" stroke="#c8c8c8" stroke-width="0.42" stroke-dasharray="0.9 0.9"/>
<line x1="28.95" y1="151.05" x2="30.55" y2="151.05" stroke="#222" stroke-width="0.45"/>
<line x1="30.55" y1="176.75" x2="96.15" y2="176.75" stroke="#c8c8c8" stroke-width="0.42" stroke-dasharray="0.9 0.9"/>
<line x1="28.95" y1="176.75" x2="30.55" y2="176.75" stroke="#222" stroke-width="0.45"/>
<line x1="30.55" y1="202.45" x2="96.15" y2="202.45" stroke="#c8c8c8" stroke-width="0.42" stroke-dasharray="0.9 0.9"/>
<line x1="28.95" y1="202.45" x2="30.55" y2="202.45" stroke="#222" stroke-width="0.45"/>
<polyline points="33.32,150.88 44.10,150.88 44.04,151.05 43.88,151.28 43.72,151.56 43.70,151.84 43.93,152.10 44.52,152.28 45.60,152.37 47.10,152.38 48.84,152.37 50.67,152.36 52.41,152.41 53.90,152.56 55.14,152.79 56.25,153.06 57.29,153.39 58.27,153.78 59.23,154.25 60.20,154.80 61.16,155.46 62.07,156.24 62.96,157.08 63.86,157.97 64.79,158.85 65.80,159.70 66.91,160.52 68.11,161.33 69.34,162.15 70.57,162.97 71.74,163.78 72.80,164.60 73.74,165.42 74.59,166.26 75.38,167.09 76.14,167.92 76.91,168.72 77.70,169.50 78.52,170.22 79.36,170.90 80.19,171.56 81.02,172.22 81.82,172.93 82.60,173.70 83.36,174.54 84.12,175.44 84.86,176.37 85.56,177.33 86.21,178.31 86.80,179.30 87.32,180.30 87.77,181.32 88.18,182.36 88.55,183.42 88.88,184.50 89.18,185.60 89.44,186.71 89.65,187.83 89.83,188.97 89.98,190.14 90.14,191.34 90.30,192.60 90.47,193.89 90.63,195.19 90.79,196.54 90.95,197.94 91.11,199.42 91.28,201.00 91.47,202.83 91.68,204.94 91.90,207.12 92.10,209.19 92.28,210.95 92.40,212.20" fill="none" stroke="#2828ff" stroke-width="1.15" stroke-linejoin="round" stroke-linecap="round" stroke-opacity="0.9"/>
<polyline points="44.80,150.60 45.24,150.69 45.84,150.81 46.55,150.95 47.34,151.11 48.17,151.27 49.00,151.44 49.87,151.59 50.81,151.73 51.80,151.87 52.79,152.04 53.73,152.26 54.60,152.56 55.38,152.94 56.10,153.38 56.79,153.88 57.45,154.41 58.12,154.96 58.80,155.50 59.50,156.05 60.20,156.63 60.90,157.22 61.60,157.81 62.30,158.41 63.00,159.00 63.68,159.59 64.35,160.18 65.01,160.77 65.70,161.35 66.42,161.93 67.20,162.50 68.05,163.06 68.96,163.61 69.91,164.15 70.88,164.69 71.85,165.21 72.80,165.72 73.76,166.20 74.74,166.65 75.73,167.09 76.69,167.53 77.59,168.00 78.40,168.52 79.11,169.06 79.75,169.61 80.33,170.19 80.86,170.82 81.38,171.51 81.90,172.30 82.40,173.23 82.86,174.29 83.30,175.42 83.74,176.56 84.20,177.64 84.70,178.60 85.24,179.43 85.81,180.18 86.41,180.88 87.01,181.53 87.61,182.16 88.20,182.80 88.81,183.39 89.44,183.91 90.08,184.42 90.69,184.95 91.24,185.56 91.70,186.30 92.07,187.13 92.36,188.01 92.59,188.97 92.78,190.03 92.95,191.23 93.10,192.60 93.24,194.22 93.36,196.07 93.45,198.07 93.51,200.09 93.53,202.04 93.52,203.80 93.44,205.46 93.30,207.12 93.13,208.70 92.94,210.13 92.79,211.32 92.68,212.20" fill="none" stroke="#ee1818" stroke-width="1.15" stroke-linejoin="round" stroke-linecap="round" stroke-opacity="0.9"/>
<rect x="30.55" y="147.30" width="65.60" height="67.90" fill="none" stroke="#3c3c3c" stroke-width="0.65" rx="0"/>
<text x="27.95" y="152.85" font-size="5.3" text-anchor="end" font-family="Liberation Serif" font-weight="normal" fill="#000">0</text>
<text x="27.95" y="178.55" font-size="5.3" text-anchor="end" font-family="Liberation Serif" font-weight="normal" fill="#000">50</text>
<text x="27.95" y="204.25" font-size="5.3" text-anchor="end" font-family="Liberation Serif" font-weight="normal" fill="#000">100</text>
<text x="14.30" y="181.25" font-size="5.6" text-anchor="middle" font-family="Liberation Serif" font-weight="normal" fill="#000" transform="rotate(-90 14.30 181.25)">Depth (km)</text>
<line x1="108.52" y1="147.30" x2="108.52" y2="215.20" stroke="#c8c8c8" stroke-width="0.42" stroke-dasharray="0.9 0.9"/>
<line x1="108.52" y1="215.20" x2="108.52" y2="216.80" stroke="#222" stroke-width="0.45"/>
<line x1="151.50" y1="147.30" x2="151.50" y2="215.20" stroke="#c8c8c8" stroke-width="0.42" stroke-dasharray="0.9 0.9"/>
<line x1="151.50" y1="215.20" x2="151.50" y2="216.80" stroke="#222" stroke-width="0.45"/>
<line x1="102.15" y1="151.05" x2="167.75" y2="151.05" stroke="#c8c8c8" stroke-width="0.42" stroke-dasharray="0.9 0.9"/>
<line x1="100.55" y1="151.05" x2="102.15" y2="151.05" stroke="#222" stroke-width="0.45"/>
<line x1="102.15" y1="176.75" x2="167.75" y2="176.75" stroke="#c8c8c8" stroke-width="0.42" stroke-dasharray="0.9 0.9"/>
<line x1="100.55" y1="176.75" x2="102.15" y2="176.75" stroke="#222" stroke-width="0.45"/>
<line x1="102.15" y1="202.45" x2="167.75" y2="202.45" stroke="#c8c8c8" stroke-width="0.42" stroke-dasharray="0.9 0.9"/>
<line x1="100.55" y1="202.45" x2="102.15" y2="202.45" stroke="#222" stroke-width="0.45"/>
<polyline points="104.32,150.88 121.40,150.88 122.01,150.95 122.85,151.05 123.85,151.16 124.93,151.29 126.00,151.43 127.00,151.58 127.95,151.73 128.92,151.89 129.89,152.05 130.84,152.24 131.75,152.45 132.60,152.70 133.39,152.97 134.13,153.25 134.83,153.56 135.50,153.91 136.16,154.32 136.80,154.80 137.42,155.38 138.02,156.04 138.59,156.77 139.16,157.52 139.72,158.28 140.30,159.00 140.88,159.70 141.44,160.40 142.01,161.10 142.58,161.80 143.18,162.50 143.80,163.20 144.45,163.88 145.12,164.55 145.81,165.21 146.52,165.90 147.25,166.62 148.00,167.40 148.79,168.24 149.63,169.14 150.49,170.07 151.34,171.03 152.16,172.01 152.90,173.00 153.56,174.01 154.17,175.05 154.74,176.11 155.29,177.17 155.83,178.24 156.40,179.30 157.01,180.34 157.64,181.37 158.28,182.41 158.89,183.45 159.44,184.51 159.90,185.60 160.25,186.69 160.52,187.78 160.73,188.88 160.91,190.03 161.09,191.26 161.30,192.60 161.53,194.07 161.77,195.66 162.00,197.33 162.23,199.03 162.47,200.73 162.70,202.40 162.95,204.15 163.22,206.03 163.49,207.91 163.74,209.66 163.95,211.13 164.10,212.20" fill="none" stroke="#2828ff" stroke-width="1.15" stroke-linejoin="round" stroke-linecap="round" stroke-opacity="0.9"/>
<polyline points="121.40,150.88 122.02,150.93 122.88,151.00 123.89,151.08 124.98,151.18 126.04,151.30 127.00,151.44 127.87,151.59 128.74,151.75 129.58,151.93 130.40,152.14 131.17,152.39 131.90,152.70 132.57,153.06 133.20,153.47 133.78,153.92 134.34,154.41 134.87,154.93 135.40,155.50 135.90,156.13 136.36,156.83 136.80,157.57 137.24,158.32 137.70,159.04 138.20,159.70 138.72,160.29 139.24,160.83 139.77,161.34 140.35,161.84 140.99,162.36 141.70,162.92 142.52,163.50 143.44,164.10 144.41,164.70 145.41,165.34 146.38,166.00 147.30,166.70 148.17,167.44 149.04,168.20 149.88,168.99 150.70,169.82 151.47,170.69 152.20,171.60 152.86,172.58 153.44,173.62 153.99,174.71 154.53,175.80 155.09,176.87 155.70,177.90 156.38,178.87 157.10,179.79 157.84,180.70 158.58,181.61 159.27,182.53 159.90,183.50 160.48,184.50 161.03,185.52 161.54,186.56 161.99,187.62 162.39,188.70 162.70,189.80 162.91,190.93 163.04,192.08 163.09,193.26 163.11,194.44 163.11,195.63 163.12,196.80 163.12,197.95 163.08,199.08 163.03,200.21 162.99,201.36 162.96,202.55 162.98,203.80 163.06,205.22 163.18,206.81 163.32,208.44 163.47,209.97 163.59,211.27 163.68,212.20" fill="none" stroke="#ee1818" stroke-width="1.15" stroke-linejoin="round" stroke-linecap="round" stroke-opacity="0.9"/>
<rect x="102.15" y="147.30" width="65.60" height="67.90" fill="none" stroke="#3c3c3c" stroke-width="0.65" rx="0"/>
<line x1="184.58" y1="147.30" x2="184.58" y2="215.20" stroke="#c8c8c8" stroke-width="0.42" stroke-dasharray="0.9 0.9"/>
<line x1="184.58" y1="215.20" x2="184.58" y2="216.80" stroke="#222" stroke-width="0.45"/>
<line x1="225.32" y1="147.30" x2="225.32" y2="215.20" stroke="#c8c8c8" stroke-width="0.42" stroke-dasharray="0.9 0.9"/>
<line x1="225.32" y1="215.20" x2="225.32" y2="216.80" stroke="#222" stroke-width="0.45"/>
<line x1="173.75" y1="151.05" x2="239.35" y2="151.05" stroke="#c8c8c8" stroke-width="0.42" stroke-dasharray="0.9 0.9"/>
<line x1="172.15" y1="151.05" x2="173.75" y2="151.05" stroke="#222" stroke-width="0.45"/>
<line x1="173.75" y1="176.75" x2="239.35" y2="176.75" stroke="#c8c8c8" stroke-width="0.42" stroke-dasharray="0.9 0.9"/>
<line x1="172.15" y1="176.75" x2="173.75" y2="176.75" stroke="#222" stroke-width="0.45"/>
<line x1="173.75" y1="202.45" x2="239.35" y2="202.45" stroke="#c8c8c8" stroke-width="0.42" stroke-dasharray="0.9 0.9"/>
<line x1="172.15" y1="202.45" x2="173.75" y2="202.45" stroke="#222" stroke-width="0.45"/>
<polyline points="176.32,150.88 196.90,150.88 197.59,150.93 198.56,151.00 199.70,151.08 200.92,151.18 202.12,151.30 203.20,151.44 204.19,151.60 205.17,151.79 206.13,151.99 207.06,152.21 207.96,152.45 208.80,152.70 209.60,152.96 210.36,153.22 211.07,153.50 211.76,153.80 212.40,154.14 213.00,154.52 213.57,154.97 214.11,155.47 214.62,156.02 215.07,156.57 215.47,157.10 215.80,157.60 216.01,158.06 216.11,158.51 216.15,158.95 216.19,159.36 216.29,159.76 216.50,160.12 216.82,160.46 217.20,160.76 217.64,161.05 218.13,161.31 218.69,161.56 219.30,161.80 219.99,162.02 220.75,162.20 221.58,162.38 222.44,162.55 223.32,162.72 224.20,162.92 225.13,163.12 226.12,163.30 227.13,163.50 228.11,163.72 229.02,163.99 229.80,164.32 230.45,164.73 231.02,165.21 231.51,165.73 231.93,166.28 232.29,166.84 232.60,167.40 232.85,167.94 233.01,168.48 233.12,169.04 233.20,169.61 233.25,170.23 233.30,170.90 233.35,171.63 233.37,172.40 233.37,173.22 233.36,174.06 233.33,174.93 233.30,175.80 233.25,176.64 233.18,177.46 233.09,178.29 233.00,179.20 232.93,180.22 232.88,181.40 232.86,182.79 232.86,184.36 232.87,186.04 232.89,187.78 232.89,189.52 232.88,191.20 232.84,192.82 232.77,194.41 232.70,196.01 232.63,197.63 232.59,199.29 232.60,201.00 232.67,202.92 232.79,205.04 232.93,207.21 233.08,209.24 233.21,210.97 233.30,212.20" fill="none" stroke="#2828ff" stroke-width="1.15" stroke-linejoin="round" stroke-linecap="round" stroke-opacity="0.9"/>
<polyline points="196.90,150.88 197.51,150.91 198.35,150.95 199.35,151.00 200.43,151.07 201.50,151.17 202.50,151.30 203.44,151.46 204.39,151.64 205.34,151.85 206.29,152.09 207.21,152.37 208.10,152.70 208.97,153.08 209.81,153.50 210.64,153.97 211.44,154.46 212.23,154.98 213.00,155.50 213.74,156.05 214.45,156.63 215.14,157.23 215.83,157.84 216.51,158.43 217.20,159.00 217.90,159.54 218.60,160.05 219.30,160.56 220.00,161.06 220.70,161.56 221.40,162.08 222.10,162.61 222.80,163.16 223.50,163.71 224.20,164.25 224.90,164.79 225.60,165.30 226.30,165.81 227.00,166.32 227.70,166.81 228.40,167.29 229.10,167.72 229.80,168.10 230.52,168.40 231.28,168.62 232.03,168.80 232.76,168.98 233.42,169.20 234.00,169.50 234.52,169.88 235.01,170.30 235.44,170.77 235.79,171.26 236.02,171.78 236.10,172.30 235.99,172.83 235.70,173.39 235.29,173.96 234.82,174.56 234.37,175.17 234.00,175.80 233.68,176.43 233.36,177.04 233.06,177.68 232.77,178.37 232.52,179.13 232.32,180.00 232.16,180.99 232.05,182.07 231.96,183.24 231.91,184.46 231.89,185.72 231.90,187.00 231.95,188.32 232.05,189.70 232.18,191.11 232.33,192.55 232.47,193.98 232.60,195.40 232.72,196.80 232.85,198.20 232.98,199.60 233.10,201.00 233.21,202.40 233.30,203.80 233.37,205.30 233.43,206.91 233.48,208.53 233.52,210.02 233.55,211.29 233.58,212.20" fill="none" stroke="#ee1818" stroke-width="1.15" stroke-linejoin="round" stroke-linecap="round" stroke-opacity="0.9"/>
<rect x="173.75" y="147.30" width="65.60" height="67.90" fill="none" stroke="#3c3c3c" stroke-width="0.65" rx="0"/>
<line x1="53.48" y1="221.70" x2="53.48" y2="289.60" stroke="#c8c8c8" stroke-width="0.42" stroke-dasharray="0.9 0.9"/>
<line x1="53.48" y1="289.60" x2="53.48" y2="291.20" stroke="#222" stroke-width="0.45"/>
<line x1="78.40" y1="221.70" x2="78.40" y2="289.60" stroke="#c8c8c8" stroke-width="0.42" stroke-dasharray="0.9 0.9"/>
<line x1="78.40" y1="289.60" x2="78.40" y2="291.20" stroke="#222" stroke-width="0.45"/>
<line x1="30.55" y1="225.45" x2="96.15" y2="225.45" stroke="#c8c8c8" stroke-width="0.42" stroke-dasharray="0.9 0.9"/>
<line x1="28.95" y1="225.45" x2="30.55" y2="225.45" stroke="#222" stroke-width="0.45"/>
<line x1="30.55" y1="251.15" x2="96.15" y2="251.15" stroke="#c8c8c8" stroke-width="0.42" stroke-dasharray="0.9 0.9"/>
<line x1="28.95" y1="251.15" x2="30.55" y2="251.15" stroke="#222" stroke-width="0.45"/>
<line x1="30.55" y1="276.85" x2="96.15" y2="276.85" stroke="#c8c8c8" stroke-width="0.42" stroke-dasharray="0.9 0.9"/>
<line x1="28.95" y1="276.85" x2="30.55" y2="276.85" stroke="#222" stroke-width="0.45"/>
<polyline points="33.32,224.88 58.10,224.88 58.65,224.96 59.42,225.07 60.33,225.19 61.29,225.35 62.21,225.52 63.00,225.72 63.69,225.95 64.36,226.20 64.99,226.48 65.56,226.78 66.07,227.09 66.50,227.40 66.85,227.72 67.13,228.04 67.35,228.38 67.50,228.73 67.59,229.10 67.62,229.50 67.58,229.93 67.47,230.38 67.30,230.86 67.08,231.34 66.81,231.83 66.50,232.30 66.11,232.76 65.62,233.21 65.09,233.66 64.56,234.11 64.08,234.59 63.70,235.10 63.40,235.63 63.15,236.19 62.95,236.76 62.80,237.36 62.72,237.97 62.72,238.60 62.82,239.26 63.01,239.95 63.27,240.66 63.57,241.37 63.86,242.09 64.12,242.80 64.36,243.50 64.60,244.20 64.85,244.90 65.08,245.60 65.31,246.30 65.52,247.00 65.69,247.72 65.81,248.45 65.92,249.19 66.05,249.90 66.24,250.58 66.50,251.20 66.82,251.77 67.17,252.30 67.57,252.79 68.04,253.24 68.61,253.65 69.30,254.00 70.15,254.27 71.14,254.47 72.23,254.61 73.37,254.75 74.51,254.90 75.60,255.12 76.67,255.38 77.78,255.64 78.88,255.92 79.96,256.25 80.97,256.63 81.90,257.08 82.75,257.61 83.54,258.21 84.28,258.86 84.95,259.55 85.56,260.27 86.10,261.00 86.57,261.76 86.97,262.56 87.30,263.39 87.57,264.23 87.77,265.07 87.92,265.90 87.97,266.71 87.93,267.51 87.82,268.31 87.69,269.11 87.57,269.94 87.50,270.80 87.46,271.70 87.42,272.64 87.39,273.60 87.38,274.56 87.41,275.50 87.50,276.40 87.62,277.26 87.76,278.09 87.94,278.89 88.17,279.69 88.49,280.49 88.90,281.30 89.49,282.17 90.25,283.11 91.09,284.06 91.91,284.93 92.61,285.67 93.10,286.20" fill="none" stroke="#2828ff" stroke-width="1.15" stroke-linejoin="round" stroke-linecap="round" stroke-opacity="0.9"/>
<polyline points="60.90,224.88 61.23,225.07 61.69,225.32 62.24,225.61 62.80,225.95 63.31,226.32 63.70,226.70 63.99,227.10 64.22,227.53 64.40,227.99 64.53,228.48 64.63,228.98 64.68,229.50 64.69,230.04 64.64,230.61 64.55,231.21 64.43,231.81 64.28,232.41 64.12,233.00 63.92,233.58 63.65,234.14 63.37,234.71 63.09,235.28 62.87,235.88 62.72,236.50 62.65,237.16 62.64,237.85 62.67,238.56 62.74,239.27 62.85,239.99 63.00,240.70 63.20,241.40 63.45,242.10 63.74,242.80 64.06,243.50 64.38,244.20 64.68,244.90 64.96,245.61 65.24,246.34 65.52,247.06 65.82,247.77 66.14,248.46 66.50,249.10 66.87,249.70 67.23,250.26 67.62,250.80 68.07,251.31 68.62,251.82 69.30,252.32 70.16,252.81 71.17,253.27 72.27,253.73 73.42,254.18 74.55,254.64 75.60,255.12 76.60,255.60 77.60,256.08 78.57,256.57 79.51,257.08 80.40,257.62 81.20,258.20 81.92,258.83 82.58,259.49 83.19,260.19 83.74,260.91 84.24,261.65 84.70,262.40 85.11,263.18 85.45,263.98 85.74,264.81 86.01,265.64 86.26,266.48 86.52,267.30 86.77,268.11 87.00,268.91 87.21,269.71 87.43,270.51 87.66,271.34 87.92,272.20 88.22,273.10 88.54,274.04 88.87,275.00 89.22,275.96 89.55,276.90 89.88,277.80 90.20,278.67 90.51,279.54 90.82,280.38 91.13,281.20 91.42,281.97 91.70,282.70 91.97,283.40 92.25,284.10 92.51,284.76 92.75,285.34 92.95,285.84 93.10,286.20" fill="none" stroke="#ee1818" stroke-width="1.15" stroke-linejoin="round" stroke-linecap="round" stroke-opacity="0.9"/>
<rect x="30.55" y="221.70" width="65.60" height="67.90" fill="none" stroke="#3c3c3c" stroke-width="0.65" rx="0"/>
<text x="27.95" y="227.25" font-size="5.3" text-anchor="end" font-family="Liberation Serif" font-weight="normal" fill="#000">0</text>
<text x="27.95" y="252.95" font-size="5.3" text-anchor="end" font-family="Liberation Serif" font-weight="normal" fill="#000">50</text>
<text x="27.95" y="278.65" font-size="5.3" text-anchor="end" font-family="Liberation Serif" font-weight="normal" fill="#000">100</text>
<text x="14.30" y="255.65" font-size="5.6" text-anchor="middle" font-family="Liberation Serif" font-weight="normal" fill="#000" transform="rotate(-90 14.30 255.65)">Depth (km)</text>
<line x1="107.68" y1="221.70" x2="107.68" y2="289.60" stroke="#c8c8c8" stroke-width="0.42" stroke-dasharray="0.9 0.9"/>
<line x1="107.68" y1="289.60" x2="107.68" y2="291.20" stroke="#222" stroke-width="0.45"/>
<line x1="150.10" y1="221.70" x2="150.10" y2="289.60" stroke="#c8c8c8" stroke-width="0.42" stroke-dasharray="0.9 0.9"/>
<line x1="150.10" y1="289.60" x2="150.10" y2="291.20" stroke="#222" stroke-width="0.45"/>
<line x1="102.15" y1="225.45" x2="167.75" y2="225.45" stroke="#c8c8c8" stroke-width="0.42" stroke-dasharray="0.9 0.9"/>
<line x1="100.55" y1="225.45" x2="102.15" y2="225.45" stroke="#222" stroke-width="0.45"/>
<line x1="102.15" y1="251.15" x2="167.75" y2="251.15" stroke="#c8c8c8" stroke-width="0.42" stroke-dasharray="0.9 0.9"/>
<line x1="100.55" y1="251.15" x2="102.15" y2="251.15" stroke="#222" stroke-width="0.45"/>
<line x1="102.15" y1="276.85" x2="167.75" y2="276.85" stroke="#c8c8c8" stroke-width="0.42" stroke-dasharray="0.9 0.9"/>
<line x1="100.55" y1="276.85" x2="102.15" y2="276.85" stroke="#222" stroke-width="0.45"/>
<polyline points="104.32,224.88 121.40,224.88 121.90,225.01 122.57,225.19 123.37,225.40 124.28,225.62 125.26,225.82 126.30,226.00 127.45,226.13 128.74,226.24 130.11,226.33 131.49,226.43 132.81,226.55 134.00,226.70 135.07,226.88 136.07,227.08 137.02,227.29 137.91,227.53 138.77,227.80 139.60,228.10 140.40,228.43 141.17,228.79 141.89,229.18 142.58,229.59 143.21,230.02 143.80,230.48 144.35,230.96 144.87,231.48 145.35,232.02 145.76,232.57 146.09,233.14 146.32,233.70 146.43,234.28 146.43,234.87 146.36,235.48 146.22,236.07 146.06,236.65 145.90,237.20 145.70,237.70 145.43,238.16 145.13,238.60 144.85,239.04 144.62,239.50 144.50,240.00 144.46,240.55 144.47,241.14 144.54,241.75 144.68,242.36 144.90,242.95 145.20,243.50 145.61,244.02 146.11,244.52 146.69,245.00 147.33,245.47 148.00,245.90 148.70,246.30 149.44,246.64 150.26,246.91 151.11,247.15 151.97,247.40 152.81,247.71 153.60,248.12 154.36,248.62 155.10,249.17 155.83,249.77 156.53,250.43 157.19,251.14 157.80,251.90 158.37,252.72 158.90,253.61 159.39,254.54 159.84,255.51 160.25,256.51 160.60,257.50 160.89,258.49 161.12,259.47 161.30,260.48 161.45,261.52 161.59,262.62 161.72,263.80 161.85,265.09 161.95,266.50 162.04,267.96 162.12,269.43 162.20,270.86 162.28,272.20 162.35,273.45 162.41,274.64 162.46,275.79 162.52,276.92 162.60,278.05 162.70,279.20 162.84,280.45 163.02,281.79 163.22,283.14 163.41,284.39 163.57,285.44 163.68,286.20" fill="none" stroke="#2828ff" stroke-width="1.15" stroke-linejoin="round" stroke-linecap="round" stroke-opacity="0.9"/>
<polyline points="122.80,224.88 123.39,224.91 124.20,224.95 125.16,225.00 126.22,225.07 127.32,225.17 128.40,225.30 129.51,225.46 130.71,225.64 131.94,225.85 133.17,226.09 134.34,226.37 135.40,226.70 136.36,227.08 137.25,227.50 138.09,227.97 138.87,228.46 139.60,228.98 140.30,229.50 140.95,230.03 141.55,230.59 142.11,231.16 142.62,231.76 143.09,232.37 143.52,233.00 143.90,233.66 144.21,234.35 144.49,235.06 144.74,235.77 144.97,236.49 145.20,237.20 145.42,237.90 145.60,238.60 145.78,239.30 145.95,240.00 146.12,240.70 146.32,241.40 146.53,242.11 146.73,242.84 146.94,243.57 147.17,244.28 147.43,244.96 147.72,245.60 148.03,246.18 148.35,246.70 148.69,247.20 149.08,247.68 149.55,248.17 150.10,248.68 150.78,249.21 151.57,249.73 152.44,250.26 153.33,250.80 154.19,251.35 155.00,251.90 155.75,252.47 156.48,253.05 157.19,253.63 157.88,254.22 158.55,254.81 159.20,255.40 159.84,255.97 160.48,256.51 161.10,257.06 161.68,257.63 162.22,258.24 162.70,258.90 163.12,259.60 163.49,260.30 163.81,261.04 164.09,261.86 164.33,262.76 164.52,263.80 164.66,265.01 164.75,266.39 164.79,267.87 164.81,269.37 164.80,270.84 164.80,272.20 164.79,273.45 164.75,274.64 164.70,275.79 164.64,276.92 164.58,278.05 164.52,279.20 164.45,280.45 164.37,281.79 164.29,283.14 164.21,284.39 164.15,285.44 164.10,286.20" fill="none" stroke="#ee1818" stroke-width="1.15" stroke-linejoin="round" stroke-linecap="round" stroke-opacity="0.9"/>
<rect x="102.15" y="221.70" width="65.60" height="67.90" fill="none" stroke="#3c3c3c" stroke-width="0.65" rx="0"/>
<line x1="187.80" y1="221.70" x2="187.80" y2="289.60" stroke="#c8c8c8" stroke-width="0.42" stroke-dasharray="0.9 0.9"/>
<line x1="187.80" y1="289.60" x2="187.80" y2="291.20" stroke="#222" stroke-width="0.45"/>
<line x1="227.00" y1="221.70" x2="227.00" y2="289.60" stroke="#c8c8c8" stroke-width="0.42" stroke-dasharray="0.9 0.9"/>
<line x1="227.00" y1="289.60" x2="227.00" y2="291.20" stroke="#222" stroke-width="0.45"/>
<line x1="173.75" y1="225.45" x2="239.35" y2="225.45" stroke="#c8c8c8" stroke-width="0.42" stroke-dasharray="0.9 0.9"/>
<line x1="172.15" y1="225.45" x2="173.75" y2="225.45" stroke="#222" stroke-width="0.45"/>
<line x1="173.75" y1="251.15" x2="239.35" y2="251.15" stroke="#c8c8c8" stroke-width="0.42" stroke-dasharray="0.9 0.9"/>
<line x1="172.15" y1="251.15" x2="173.75" y2="251.15" stroke="#222" stroke-width="0.45"/>
<line x1="173.75" y1="276.85" x2="239.35" y2="276.85" stroke="#c8c8c8" stroke-width="0.42" stroke-dasharray="0.9 0.9"/>
<line x1="172.15" y1="276.85" x2="173.75" y2="276.85" stroke="#222" stroke-width="0.45"/>
<polyline points="176.32,224.88 198.30,224.88 198.99,225.00 199.93,225.17 201.06,225.37 202.27,225.59 203.48,225.80 204.60,226.00 205.68,226.17 206.80,226.33 207.92,226.48 209.01,226.65 210.01,226.86 210.90,227.12 211.67,227.43 212.35,227.78 212.96,228.16 213.49,228.58 213.97,229.02 214.40,229.50 214.74,230.03 214.97,230.61 215.14,231.22 215.31,231.84 215.51,232.44 215.80,233.00 216.17,233.52 216.58,234.01 217.03,234.49 217.51,234.94 218.04,235.38 218.60,235.80 219.20,236.20 219.84,236.58 220.53,236.94 221.24,237.28 222.00,237.60 222.80,237.90 223.68,238.17 224.64,238.42 225.64,238.64 226.64,238.86 227.57,239.07 228.40,239.30 229.13,239.51 229.80,239.69 230.41,239.87 230.97,240.08 231.46,240.35 231.90,240.70 232.27,241.12 232.56,241.58 232.79,242.10 232.98,242.70 233.15,243.39 233.30,244.20 233.43,245.13 233.52,246.17 233.58,247.31 233.63,248.53 233.67,249.83 233.72,251.20 233.77,252.66 233.82,254.21 233.87,255.84 233.91,257.53 233.95,259.25 234.00,261.00 234.05,262.82 234.09,264.73 234.13,266.69 234.18,268.62 234.23,270.48 234.28,272.20 234.34,273.79 234.41,275.31 234.48,276.75 234.55,278.11 234.63,279.39 234.70,280.60 234.77,281.76 234.86,282.88 234.94,283.93 235.01,284.85 235.07,285.62 235.12,286.20" fill="none" stroke="#2828ff" stroke-width="1.15" stroke-linejoin="round" stroke-linecap="round" stroke-opacity="0.9"/>
<polyline points="201.10,224.88 201.72,224.96 202.58,225.07 203.59,225.19 204.68,225.35 205.74,225.52 206.70,225.72 207.57,225.93 208.44,226.15 209.28,226.39 210.10,226.67 210.87,227.00 211.60,227.40 212.26,227.87 212.87,228.41 213.44,228.99 213.99,229.61 214.53,230.26 215.10,230.90 215.68,231.57 216.27,232.27 216.85,233.00 217.43,233.73 218.02,234.43 218.60,235.10 219.18,235.74 219.74,236.35 220.31,236.95 220.88,237.53 221.48,238.08 222.10,238.60 222.75,239.09 223.42,239.55 224.11,239.99 224.82,240.40 225.55,240.78 226.30,241.12 227.09,241.42 227.93,241.69 228.79,241.92 229.64,242.13 230.46,242.32 231.20,242.52 231.88,242.69 232.53,242.84 233.14,242.97 233.71,243.11 234.23,243.28 234.70,243.50 235.13,243.77 235.54,244.07 235.90,244.39 236.19,244.75 236.41,245.16 236.52,245.60 236.51,246.09 236.37,246.64 236.16,247.22 235.90,247.83 235.64,248.46 235.40,249.10 235.17,249.72 234.93,250.32 234.67,250.94 234.43,251.61 234.20,252.39 234.00,253.30 233.83,254.36 233.67,255.53 233.54,256.80 233.42,258.15 233.34,259.55 233.30,261.00 233.30,262.53 233.34,264.16 233.41,265.86 233.50,267.56 233.60,269.22 233.72,270.80 233.85,272.30 234.01,273.76 234.18,275.18 234.35,276.56 234.53,277.90 234.70,279.20 234.87,280.53 235.06,281.90 235.25,283.22 235.43,284.44 235.57,285.45 235.68,286.20" fill="none" stroke="#ee1818" stroke-width="1.15" stroke-linejoin="round" stroke-linecap="round" stroke-opacity="0.9"/>
<rect x="173.75" y="221.70" width="65.60" height="67.90" fill="none" stroke="#3c3c3c" stroke-width="0.65" rx="0"/>
<line x1="35.00" y1="296.00" x2="35.00" y2="363.90" stroke="#c8c8c8" stroke-width="0.42" stroke-dasharray="0.9 0.9"/>
<line x1="35.00" y1="363.90" x2="35.00" y2="365.50" stroke="#222" stroke-width="0.45"/>
<line x1="78.40" y1="296.00" x2="78.40" y2="363.90" stroke="#c8c8c8" stroke-width="0.42" stroke-dasharray="0.9 0.9"/>
<line x1="78.40" y1="363.90" x2="78.40" y2="365.50" stroke="#222" stroke-width="0.45"/>
<line x1="30.55" y1="299.75" x2="96.15" y2="299.75" stroke="#c8c8c8" stroke-width="0.42" stroke-dasharray="0.9 0.9"/>
<line x1="28.95" y1="299.75" x2="30.55" y2="299.75" stroke="#222" stroke-width="0.45"/>
<line x1="30.55" y1="325.45" x2="96.15" y2="325.45" stroke="#c8c8c8" stroke-width="0.42" stroke-dasharray="0.9 0.9"/>
<line x1="28.95" y1="325.45" x2="30.55" y2="325.45" stroke="#222" stroke-width="0.45"/>
<line x1="30.55" y1="351.15" x2="96.15" y2="351.15" stroke="#c8c8c8" stroke-width="0.42" stroke-dasharray="0.9 0.9"/>
<line x1="28.95" y1="351.15" x2="30.55" y2="351.15" stroke="#222" stroke-width="0.45"/>
<polyline points="33.32,299.30 55.30,299.30 55.92,299.40 56.78,299.54 57.79,299.70 58.88,299.89 59.94,300.08 60.90,300.28 61.78,300.48 62.66,300.67 63.52,300.88 64.35,301.11 65.11,301.38 65.80,301.68 66.42,302.02 66.98,302.37 67.49,302.77 67.93,303.19 68.30,303.67 68.60,304.20 68.80,304.80 68.90,305.48 68.93,306.19 68.92,306.94 68.89,307.68 68.88,308.40 68.85,309.11 68.77,309.83 68.67,310.54 68.59,311.25 68.56,311.94 68.60,312.60 68.72,313.22 68.89,313.82 69.11,314.39 69.37,314.96 69.67,315.52 70.00,316.10 70.38,316.68 70.80,317.24 71.27,317.81 71.76,318.38 72.28,318.98 72.80,319.60 73.33,320.28 73.86,321.00 74.42,321.74 75.00,322.48 75.63,323.17 76.30,323.80 77.04,324.34 77.83,324.81 78.66,325.24 79.51,325.67 80.37,326.11 81.20,326.60 82.03,327.13 82.89,327.66 83.74,328.22 84.57,328.80 85.36,329.43 86.10,330.10 86.79,330.81 87.46,331.55 88.09,332.33 88.66,333.16 89.17,334.05 89.60,335.00 89.93,336.01 90.18,337.07 90.36,338.19 90.50,339.38 90.61,340.65 90.72,342.00 90.81,343.49 90.86,345.11 90.89,346.81 90.91,348.53 90.94,350.22 91.00,351.80 91.10,353.38 91.23,355.01 91.37,356.61 91.50,358.07 91.62,359.30 91.70,360.20" fill="none" stroke="#2828ff" stroke-width="1.15" stroke-linejoin="round" stroke-linecap="round" stroke-opacity="0.9"/>
<polyline points="55.30,298.88 55.92,299.03 56.79,299.23 57.81,299.47 58.90,299.73 59.96,300.01 60.90,300.28 61.74,300.54 62.57,300.79 63.37,301.06 64.13,301.35 64.85,301.69 65.52,302.10 66.14,302.58 66.72,303.12 67.26,303.70 67.75,304.32 68.20,304.96 68.60,305.60 68.94,306.26 69.22,306.95 69.45,307.66 69.65,308.37 69.83,309.09 70.00,309.80 70.15,310.49 70.26,311.17 70.35,311.86 70.44,312.55 70.55,313.26 70.70,314.00 70.87,314.78 71.04,315.61 71.22,316.45 71.45,317.29 71.74,318.12 72.10,318.90 72.55,319.65 73.09,320.38 73.67,321.09 74.30,321.78 74.95,322.45 75.60,323.10 76.25,323.72 76.92,324.30 77.61,324.87 78.32,325.43 79.05,326.00 79.80,326.60 80.59,327.22 81.43,327.85 82.29,328.50 83.14,329.16 83.96,329.83 84.70,330.52 85.39,331.21 86.04,331.90 86.65,332.61 87.22,333.35 87.74,334.14 88.20,335.00 88.59,335.93 88.91,336.91 89.17,337.95 89.41,339.03 89.64,340.15 89.88,341.30 90.13,342.52 90.38,343.81 90.62,345.15 90.84,346.49 91.07,347.78 91.28,349.00 91.49,350.15 91.69,351.26 91.88,352.32 92.07,353.36 92.24,354.35 92.40,355.30 92.55,356.25 92.69,357.22 92.82,358.14 92.93,358.98 93.03,359.68 93.10,360.20" fill="none" stroke="#ee1818" stroke-width="1.15" stroke-linejoin="round" stroke-linecap="round" stroke-opacity="0.9"/>
<rect x="30.55" y="296.00" width="65.60" height="67.90" fill="none" stroke="#3c3c3c" stroke-width="0.65" rx="0"/>
<text x="27.95" y="301.55" font-size="5.3" text-anchor="end" font-family="Liberation Serif" font-weight="normal" fill="#000">0</text>
<text x="27.95" y="327.25" font-size="5.3" text-anchor="end" font-family="Liberation Serif" font-weight="normal" fill="#000">50</text>
<text x="27.95" y="352.95" font-size="5.3" text-anchor="end" font-family="Liberation Serif" font-weight="normal" fill="#000">100</text>
<text x="14.30" y="329.95" font-size="5.6" text-anchor="middle" font-family="Liberation Serif" font-weight="normal" fill="#000" transform="rotate(-90 14.30 329.95)">Depth (km)</text>
<text x="63.35" y="378.20" font-size="5.7" text-anchor="middle" font-family="Liberation Serif" font-weight="normal" fill="#000">Velocity (km/s)</text>
<line x1="115.10" y1="296.00" x2="115.10" y2="363.90" stroke="#c8c8c8" stroke-width="0.42" stroke-dasharray="0.9 0.9"/>
<line x1="115.10" y1="363.90" x2="115.10" y2="365.50" stroke="#222" stroke-width="0.45"/>
<line x1="155.70" y1="296.00" x2="155.70" y2="363.90" stroke="#c8c8c8" stroke-width="0.42" stroke-dasharray="0.9 0.9"/>
<line x1="155.70" y1="363.90" x2="155.70" y2="365.50" stroke="#222" stroke-width="0.45"/>
<line x1="102.15" y1="299.75" x2="167.75" y2="299.75" stroke="#c8c8c8" stroke-width="0.42" stroke-dasharray="0.9 0.9"/>
<line x1="100.55" y1="299.75" x2="102.15" y2="299.75" stroke="#222" stroke-width="0.45"/>
<line x1="102.15" y1="325.45" x2="167.75" y2="325.45" stroke="#c8c8c8" stroke-width="0.42" stroke-dasharray="0.9 0.9"/>
<line x1="100.55" y1="325.45" x2="102.15" y2="325.45" stroke="#222" stroke-width="0.45"/>
<line x1="102.15" y1="351.15" x2="167.75" y2="351.15" stroke="#c8c8c8" stroke-width="0.42" stroke-dasharray="0.9 0.9"/>
<line x1="100.55" y1="351.15" x2="102.15" y2="351.15" stroke="#222" stroke-width="0.45"/>
<polyline points="104.32,299.30 130.50,299.30 131.27,299.37 132.34,299.46 133.61,299.56 134.96,299.69 136.29,299.83 137.50,300.00 138.62,300.18 139.76,300.39 140.87,300.61 141.93,300.86 142.92,301.12 143.80,301.40 144.58,301.70 145.28,302.02 145.90,302.36 146.44,302.72 146.91,303.10 147.30,303.50 147.61,303.92 147.83,304.36 147.97,304.81 148.05,305.29 148.05,305.78 148.00,306.30 147.84,306.83 147.55,307.39 147.20,307.96 146.84,308.56 146.53,309.17 146.32,309.80 146.21,310.45 146.14,311.12 146.13,311.81 146.15,312.52 146.22,313.25 146.32,314.00 146.47,314.79 146.67,315.63 146.91,316.49 147.18,317.34 147.45,318.16 147.72,318.90 147.95,319.58 148.17,320.21 148.38,320.80 148.64,321.36 148.97,321.89 149.40,322.40 149.94,322.89 150.56,323.35 151.25,323.79 152.00,324.20 152.79,324.58 153.60,324.92 154.47,325.22 155.40,325.49 156.38,325.72 157.36,325.93 158.32,326.12 159.20,326.32 160.05,326.49 160.90,326.61 161.72,326.72 162.48,326.85 163.14,327.04 163.68,327.30 164.08,327.64 164.37,328.02 164.56,328.45 164.69,328.94 164.76,329.49 164.80,330.10 164.79,330.75 164.69,331.45 164.55,332.20 164.38,333.03 164.22,333.96 164.10,335.00 164.01,336.20 163.92,337.54 163.85,338.98 163.78,340.47 163.72,341.96 163.68,343.40 163.65,344.80 163.62,346.20 163.60,347.60 163.60,349.00 163.63,350.40 163.68,351.80 163.78,353.30 163.93,354.91 164.10,356.53 164.27,358.02 164.42,359.29 164.52,360.20" fill="none" stroke="#2828ff" stroke-width="1.15" stroke-linejoin="round" stroke-linecap="round" stroke-opacity="0.9"/>
<polyline points="132.60,298.88 133.23,298.99 134.10,299.13 135.14,299.31 136.23,299.51 137.28,299.74 138.20,300.00 139.00,300.28 139.76,300.58 140.47,300.90 141.16,301.26 141.80,301.66 142.40,302.10 142.96,302.59 143.49,303.11 143.97,303.68 144.42,304.28 144.83,304.92 145.20,305.60 145.52,306.34 145.80,307.13 146.03,307.96 146.24,308.81 146.42,309.67 146.60,310.50 146.75,311.32 146.86,312.16 146.95,312.99 147.04,313.82 147.15,314.62 147.30,315.40 147.47,316.16 147.64,316.90 147.83,317.63 148.05,318.33 148.34,318.99 148.70,319.60 149.15,320.14 149.69,320.63 150.27,321.07 150.90,321.50 151.55,321.93 152.20,322.40 152.86,322.90 153.55,323.40 154.26,323.91 154.97,324.43 155.69,324.96 156.40,325.48 157.12,326.01 157.85,326.53 158.59,327.06 159.30,327.60 159.98,328.15 160.60,328.70 161.17,329.24 161.71,329.77 162.22,330.30 162.67,330.87 163.07,331.49 163.40,332.20 163.65,332.98 163.83,333.81 163.95,334.69 164.03,335.65 164.07,336.68 164.10,337.80 164.10,339.05 164.06,340.44 164.00,341.91 163.90,343.40 163.80,344.85 163.68,346.20 163.54,347.45 163.36,348.64 163.16,349.79 162.97,350.92 162.81,352.05 162.70,353.20 162.64,354.45 162.63,355.79 162.64,357.14 162.66,358.39 162.69,359.44 162.70,360.20" fill="none" stroke="#ee1818" stroke-width="1.15" stroke-linejoin="round" stroke-linecap="round" stroke-opacity="0.9"/>
<rect x="102.15" y="296.00" width="65.60" height="67.90" fill="none" stroke="#3c3c3c" stroke-width="0.65" rx="0"/>
<text x="134.95" y="378.20" font-size="5.7" text-anchor="middle" font-family="Liberation Serif" font-weight="normal" fill="#000">Velocity (km/s)</text>
<line x1="176.60" y1="296.00" x2="176.60" y2="363.90" stroke="#c8c8c8" stroke-width="0.42" stroke-dasharray="0.9 0.9"/>
<line x1="176.60" y1="363.90" x2="176.60" y2="365.50" stroke="#222" stroke-width="0.45"/>
<line x1="199.70" y1="296.00" x2="199.70" y2="363.90" stroke="#c8c8c8" stroke-width="0.42" stroke-dasharray="0.9 0.9"/>
<line x1="199.70" y1="363.90" x2="199.70" y2="365.50" stroke="#222" stroke-width="0.45"/>
<line x1="222.52" y1="296.00" x2="222.52" y2="363.90" stroke="#c8c8c8" stroke-width="0.42" stroke-dasharray="0.9 0.9"/>
<line x1="222.52" y1="363.90" x2="222.52" y2="365.50" stroke="#222" stroke-width="0.45"/>
<line x1="173.75" y1="299.75" x2="239.35" y2="299.75" stroke="#c8c8c8" stroke-width="0.42" stroke-dasharray="0.9 0.9"/>
<line x1="172.15" y1="299.75" x2="173.75" y2="299.75" stroke="#222" stroke-width="0.45"/>
<line x1="173.75" y1="325.45" x2="239.35" y2="325.45" stroke="#c8c8c8" stroke-width="0.42" stroke-dasharray="0.9 0.9"/>
<line x1="172.15" y1="325.45" x2="173.75" y2="325.45" stroke="#222" stroke-width="0.45"/>
<line x1="173.75" y1="351.15" x2="239.35" y2="351.15" stroke="#c8c8c8" stroke-width="0.42" stroke-dasharray="0.9 0.9"/>
<line x1="172.15" y1="351.15" x2="173.75" y2="351.15" stroke="#222" stroke-width="0.45"/>
<polyline points="176.32,299.30 201.10,299.30 201.73,299.33 202.60,299.36 203.64,299.41 204.73,299.47 205.78,299.57 206.70,299.72 207.51,299.91 208.28,300.15 209.02,300.41 209.71,300.71 210.34,301.04 210.90,301.40 211.39,301.79 211.82,302.22 212.20,302.69 212.51,303.17 212.78,303.68 213.00,304.20 213.17,304.74 213.30,305.31 213.38,305.91 213.40,306.51 213.37,307.11 213.28,307.70 213.11,308.28 212.85,308.84 212.55,309.41 212.21,309.98 211.89,310.58 211.60,311.20 211.33,311.86 211.05,312.55 210.78,313.26 210.53,313.97 210.33,314.69 210.20,315.40 210.13,316.11 210.11,316.83 210.14,317.54 210.21,318.25 210.32,318.94 210.48,319.60 210.67,320.23 210.88,320.84 211.15,321.44 211.46,322.01 211.84,322.57 212.30,323.10 212.84,323.62 213.45,324.14 214.12,324.63 214.86,325.10 215.65,325.52 216.50,325.90 217.42,326.20 218.42,326.43 219.47,326.63 220.57,326.81 221.69,327.03 222.80,327.30 223.96,327.63 225.20,327.99 226.45,328.38 227.67,328.79 228.80,329.22 229.80,329.68 230.67,330.15 231.44,330.63 232.14,331.13 232.75,331.67 233.27,332.26 233.72,332.90 234.08,333.61 234.34,334.38 234.52,335.20 234.63,336.05 234.68,336.92 234.70,337.80 234.65,338.69 234.51,339.61 234.32,340.56 234.11,341.51 233.90,342.46 233.72,343.40 233.55,344.33 233.37,345.27 233.19,346.20 233.03,347.13 232.92,348.07 232.88,349.00 232.92,349.93 233.01,350.87 233.16,351.80 233.34,352.73 233.53,353.67 233.72,354.60 233.94,355.60 234.20,356.67 234.47,357.75 234.74,358.75 234.96,359.59 235.12,360.20" fill="none" stroke="#2828ff" stroke-width="1.15" stroke-linejoin="round" stroke-linecap="round" stroke-opacity="0.9"/>
<polyline points="201.10,298.88 201.65,298.99 202.44,299.13 203.36,299.31 204.32,299.51 205.23,299.74 206.00,300.00 206.64,300.28 207.22,300.58 207.76,300.90 208.25,301.26 208.68,301.66 209.08,302.10 209.42,302.59 209.71,303.11 209.95,303.68 210.15,304.28 210.32,304.92 210.48,305.60 210.60,306.34 210.68,307.13 210.73,307.96 210.78,308.81 210.83,309.67 210.90,310.50 211.00,311.32 211.11,312.13 211.23,312.95 211.36,313.77 211.48,314.58 211.60,315.40 211.70,316.22 211.78,317.06 211.86,317.89 211.96,318.72 212.10,319.52 212.30,320.30 212.54,321.05 212.79,321.79 213.09,322.51 213.44,323.20 213.87,323.86 214.40,324.50 215.03,325.11 215.75,325.69 216.54,326.25 217.41,326.78 218.33,327.27 219.30,327.72 220.36,328.11 221.53,328.42 222.76,328.70 223.99,328.98 225.19,329.30 226.30,329.68 227.35,330.13 228.37,330.62 229.36,331.15 230.29,331.71 231.14,332.29 231.90,332.90 232.55,333.53 233.11,334.18 233.59,334.85 234.01,335.56 234.37,336.31 234.70,337.10 234.97,337.94 235.17,338.84 235.31,339.77 235.43,340.73 235.55,341.71 235.68,342.70 235.84,343.71 236.00,344.75 236.16,345.81 236.31,346.87 236.43,347.94 236.52,349.00 236.58,350.07 236.62,351.15 236.64,352.24 236.63,353.30 236.59,354.33 236.52,355.30 236.39,356.25 236.19,357.22 235.96,358.14 235.73,358.98 235.53,359.68 235.40,360.20" fill="none" stroke="#ee1818" stroke-width="1.15" stroke-linejoin="round" stroke-linecap="round" stroke-opacity="0.9"/>
<rect x="173.75" y="296.00" width="65.60" height="67.90" fill="none" stroke="#3c3c3c" stroke-width="0.65" rx="0"/>
<text x="206.55" y="378.20" font-size="5.7" text-anchor="middle" font-family="Liberation Serif" font-weight="normal" fill="#000">Velocity (km/s)</text>
<text x="35.00" y="370.90" font-size="5.3" text-anchor="middle" font-family="Liberation Serif" font-weight="normal" fill="#000">2</text>
<text x="78.40" y="370.90" font-size="5.3" text-anchor="middle" font-family="Liberation Serif" font-weight="normal" fill="#000">4</text>
<text x="115.10" y="370.90" font-size="5.3" text-anchor="middle" font-family="Liberation Serif" font-weight="normal" fill="#000">2</text>
<text x="155.70" y="370.90" font-size="5.3" text-anchor="middle" font-family="Liberation Serif" font-weight="normal" fill="#000">4</text>
<text x="176.60" y="370.90" font-size="5.3" text-anchor="middle" font-family="Liberation Serif" font-weight="normal" fill="#000">2</text>
<text x="199.70" y="370.90" font-size="5.3" text-anchor="middle" font-family="Liberation Serif" font-weight="normal" fill="#000">3</text>
<text x="222.50" y="370.90" font-size="5.3" text-anchor="middle" font-family="Liberation Serif" font-weight="normal" fill="#000">4</text>
<text x="9.80" y="153.30" font-size="7.0" text-anchor="start" font-family="Liberation Sans" font-weight="bold" fill="#000" textLength="10.6" lengthAdjust="spacingAndGlyphs">(b)</text>
<rect x="79.30" y="383.60" width="93.00" height="9.40" fill="#fff" stroke="#d4d4d4" stroke-width="0.5" rx="1"/>
<line x1="81.30" y1="388.30" x2="92.50" y2="388.30" stroke="#2828ff" stroke-width="1.3" stroke-opacity="0.5"/>
<text x="97.20" y="390.10" font-size="5.6" text-anchor="start" font-family="Liberation Serif" font-weight="normal" fill="#000">Reference</text>
<line x1="132.30" y1="388.30" x2="144.00" y2="388.30" stroke="#ee1818" stroke-width="1.3" stroke-opacity="0.5"/>
<text x="148.30" y="390.10" font-size="5.6" text-anchor="start" font-family="Liberation Serif" font-weight="normal" fill="#000">Inversion</text>
<line x1="289.60" y1="148.30" x2="289.60" y2="214.30" stroke="#c8c8c8" stroke-width="0.42" stroke-dasharray="0.9 0.9"/>
<line x1="289.60" y1="214.30" x2="289.60" y2="215.90" stroke="#222" stroke-width="0.45"/>
<line x1="313.40" y1="148.30" x2="313.40" y2="214.30" stroke="#c8c8c8" stroke-width="0.42" stroke-dasharray="0.9 0.9"/>
<line x1="313.40" y1="214.30" x2="313.40" y2="215.90" stroke="#222" stroke-width="0.45"/>
<line x1="272.50" y1="149.08" x2="335.80" y2="149.08" stroke="#c8c8c8" stroke-width="0.42" stroke-dasharray="0.9 0.9"/>
<line x1="270.90" y1="149.08" x2="272.50" y2="149.08" stroke="#222" stroke-width="0.45"/>
<line x1="272.50" y1="168.12" x2="335.80" y2="168.12" stroke="#c8c8c8" stroke-width="0.42" stroke-dasharray="0.9 0.9"/>
<line x1="270.90" y1="168.12" x2="272.50" y2="168.12" stroke="#222" stroke-width="0.45"/>
<line x1="272.50" y1="188.00" x2="335.80" y2="188.00" stroke="#c8c8c8" stroke-width="0.42" stroke-dasharray="0.9 0.9"/>
<line x1="270.90" y1="188.00" x2="272.50" y2="188.00" stroke="#222" stroke-width="0.45"/>
<line x1="272.50" y1="207.32" x2="335.80" y2="207.32" stroke="#c8c8c8" stroke-width="0.42" stroke-dasharray="0.9 0.9"/>
<line x1="270.90" y1="207.32" x2="272.50" y2="207.32" stroke="#222" stroke-width="0.45"/>
<polyline points="275.32,197.10 278.40,192.20 282.60,185.90 286.80,179.60 291.00,173.30 295.20,168.40 299.40,164.20 303.60,160.70 307.80,158.32 311.30,154.68 314.80,153.70 318.30,152.72 321.80,152.30 325.30,151.88 328.80,151.60 333.00,151.32" fill="none" stroke="#000000" stroke-width="0.45" stroke-linejoin="miter" stroke-linecap="round" stroke-opacity="0.9"/>
<circle cx="275.32" cy="197.10" r="0.78" fill="#000000"/>
<circle cx="278.40" cy="192.20" r="0.78" fill="#000000"/>
<circle cx="280.50" cy="189.05" r="0.78" fill="#000000"/>
<circle cx="282.60" cy="185.90" r="0.78" fill="#000000"/>
<circle cx="284.70" cy="182.75" r="0.78" fill="#000000"/>
<circle cx="286.80" cy="179.60" r="0.78" fill="#000000"/>
<circle cx="288.90" cy="176.45" r="0.78" fill="#000000"/>
<circle cx="291.00" cy="173.30" r="0.78" fill="#000000"/>
<circle cx="293.10" cy="170.85" r="0.78" fill="#000000"/>
<circle cx="295.20" cy="168.40" r="0.78" fill="#000000"/>
<circle cx="297.30" cy="166.30" r="0.78" fill="#000000"/>
<circle cx="299.40" cy="164.20" r="0.78" fill="#000000"/>
<circle cx="301.50" cy="162.45" r="0.78" fill="#000000"/>
<circle cx="303.60" cy="160.70" r="0.78" fill="#000000"/>
<circle cx="305.70" cy="159.51" r="0.78" fill="#000000"/>
<circle cx="307.80" cy="158.32" r="0.78" fill="#000000"/>
<circle cx="309.55" cy="156.50" r="0.78" fill="#000000"/>
<circle cx="311.30" cy="154.68" r="0.78" fill="#000000"/>
<circle cx="313.05" cy="154.19" r="0.78" fill="#000000"/>
<circle cx="314.80" cy="153.70" r="0.78" fill="#000000"/>
<circle cx="316.55" cy="153.21" r="0.78" fill="#000000"/>
<circle cx="318.30" cy="152.72" r="0.78" fill="#000000"/>
<circle cx="320.05" cy="152.51" r="0.78" fill="#000000"/>
<circle cx="321.80" cy="152.30" r="0.78" fill="#000000"/>
<circle cx="323.55" cy="152.09" r="0.78" fill="#000000"/>
<circle cx="325.30" cy="151.88" r="0.78" fill="#000000"/>
<circle cx="327.05" cy="151.74" r="0.78" fill="#000000"/>
<circle cx="328.80" cy="151.60" r="0.78" fill="#000000"/>
<circle cx="330.90" cy="151.46" r="0.78" fill="#000000"/>
<circle cx="333.00" cy="151.32" r="0.78" fill="#000000"/>
<polyline points="275.32,208.72 278.40,207.32 280.50,208.30 282.60,209.70 284.70,207.60 286.80,205.50 289.60,202.00 292.40,197.10 295.90,190.80 299.40,184.50 302.90,179.60 306.40,175.68 309.20,172.60 311.30,168.40 314.80,165.60 318.30,163.50 321.80,162.10 325.30,161.40 328.80,161.12 333.00,160.00" fill="none" stroke="#3a3a3a" stroke-width="0.4" stroke-linejoin="miter" stroke-linecap="round" stroke-opacity="0.8"/>
<rect x="274.67" y="208.07" width="1.3" height="1.3" fill="#e8e8e8" stroke="#3a3a3a" stroke-width="0.3"/>
<rect x="277.75" y="206.67" width="1.3" height="1.3" fill="#e8e8e8" stroke="#3a3a3a" stroke-width="0.3"/>
<rect x="279.85" y="207.65" width="1.3" height="1.3" fill="#e8e8e8" stroke="#3a3a3a" stroke-width="0.3"/>
<rect x="281.95" y="209.05" width="1.3" height="1.3" fill="#e8e8e8" stroke="#3a3a3a" stroke-width="0.3"/>
<rect x="284.05" y="206.95" width="1.3" height="1.3" fill="#e8e8e8" stroke="#3a3a3a" stroke-width="0.3"/>
<rect x="286.15" y="204.85" width="1.3" height="1.3" fill="#e8e8e8" stroke="#3a3a3a" stroke-width="0.3"/>
<rect x="288.95" y="201.35" width="1.3" height="1.3" fill="#e8e8e8" stroke="#3a3a3a" stroke-width="0.3"/>
<rect x="291.75" y="196.45" width="1.3" height="1.3" fill="#e8e8e8" stroke="#3a3a3a" stroke-width="0.3"/>
<rect x="293.50" y="193.30" width="1.3" height="1.3" fill="#e8e8e8" stroke="#3a3a3a" stroke-width="0.3"/>
<rect x="295.25" y="190.15" width="1.3" height="1.3" fill="#e8e8e8" stroke="#3a3a3a" stroke-width="0.3"/>
<rect x="297.00" y="187.00" width="1.3" height="1.3" fill="#e8e8e8" stroke="#3a3a3a" stroke-width="0.3"/>
<rect x="298.75" y="183.85" width="1.3" height="1.3" fill="#e8e8e8" stroke="#3a3a3a" stroke-width="0.3"/>
<rect x="300.50" y="181.40" width="1.3" height="1.3" fill="#e8e8e8" stroke="#3a3a3a" stroke-width="0.3"/>
<rect x="302.25" y="178.95" width="1.3" height="1.3" fill="#e8e8e8" stroke="#3a3a3a" stroke-width="0.3"/>
<rect x="304.00" y="176.99" width="1.3" height="1.3" fill="#e8e8e8" stroke="#3a3a3a" stroke-width="0.3"/>
<rect x="305.75" y="175.03" width="1.3" height="1.3" fill="#e8e8e8" stroke="#3a3a3a" stroke-width="0.3"/>
<rect x="308.55" y="171.95" width="1.3" height="1.3" fill="#e8e8e8" stroke="#3a3a3a" stroke-width="0.3"/>
<rect x="310.65" y="167.75" width="1.3" height="1.3" fill="#e8e8e8" stroke="#3a3a3a" stroke-width="0.3"/>
<rect x="312.40" y="166.35" width="1.3" height="1.3" fill="#e8e8e8" stroke="#3a3a3a" stroke-width="0.3"/>
<rect x="314.15" y="164.95" width="1.3" height="1.3" fill="#e8e8e8" stroke="#3a3a3a" stroke-width="0.3"/>
<rect x="315.90" y="163.90" width="1.3" height="1.3" fill="#e8e8e8" stroke="#3a3a3a" stroke-width="0.3"/>
<rect x="317.65" y="162.85" width="1.3" height="1.3" fill="#e8e8e8" stroke="#3a3a3a" stroke-width="0.3"/>
<rect x="319.40" y="162.15" width="1.3" height="1.3" fill="#e8e8e8" stroke="#3a3a3a" stroke-width="0.3"/>
<rect x="321.15" y="161.45" width="1.3" height="1.3" fill="#e8e8e8" stroke="#3a3a3a" stroke-width="0.3"/>
<rect x="322.90" y="161.10" width="1.3" height="1.3" fill="#e8e8e8" stroke="#3a3a3a" stroke-width="0.3"/>
<rect x="324.65" y="160.75" width="1.3" height="1.3" fill="#e8e8e8" stroke="#3a3a3a" stroke-width="0.3"/>
<rect x="326.40" y="160.61" width="1.3" height="1.3" fill="#e8e8e8" stroke="#3a3a3a" stroke-width="0.3"/>
<rect x="328.15" y="160.47" width="1.3" height="1.3" fill="#e8e8e8" stroke="#3a3a3a" stroke-width="0.3"/>
<rect x="330.25" y="159.91" width="1.3" height="1.3" fill="#e8e8e8" stroke="#3a3a3a" stroke-width="0.3"/>
<rect x="332.35" y="159.35" width="1.3" height="1.3" fill="#e8e8e8" stroke="#3a3a3a" stroke-width="0.3"/>
<polyline points="275.32,197.52 275.85,196.67 276.60,195.46 277.48,194.06 278.40,192.62 279.37,191.14 280.43,189.56 281.52,187.93 282.60,186.32 283.65,184.75 284.70,183.17 285.75,181.59 286.80,180.02 287.85,178.41 288.90,176.78 289.95,175.20 291.00,173.72 292.05,172.38 293.10,171.14 294.15,169.96 295.20,168.82 296.25,167.70 297.30,166.63 298.35,165.60 299.40,164.62 300.45,163.67 301.50,162.76 302.55,161.90 303.60,161.12 304.65,160.44 305.70,159.84 306.75,159.29 307.80,158.74 308.85,158.18 309.90,157.63 310.95,157.11 312.00,156.64 313.05,156.23 314.10,155.87 315.15,155.54 316.20,155.24 317.25,154.96 318.30,154.71 319.35,154.48 320.40,154.26 321.45,154.06 322.50,153.88 323.55,153.71 324.60,153.56 325.65,153.44 326.70,153.33 327.75,153.24 328.80,153.14 329.95,153.03 331.16,152.90 332.25,152.80 333.00,152.72" fill="none" stroke="#7fd4f2" stroke-width="0.5" stroke-linejoin="round" stroke-linecap="round" stroke-opacity="0.95"/>
<circle cx="275.32" cy="197.52" r="0.5" fill="#7fd4f2"/>
<circle cx="277.72" cy="193.68" r="0.5" fill="#7fd4f2"/>
<circle cx="280.12" cy="190.02" r="0.5" fill="#7fd4f2"/>
<circle cx="282.52" cy="186.44" r="0.5" fill="#7fd4f2"/>
<circle cx="284.92" cy="182.84" r="0.5" fill="#7fd4f2"/>
<circle cx="287.32" cy="179.23" r="0.5" fill="#7fd4f2"/>
<circle cx="289.72" cy="175.54" r="0.5" fill="#7fd4f2"/>
<circle cx="292.12" cy="172.30" r="0.5" fill="#7fd4f2"/>
<circle cx="294.52" cy="169.56" r="0.5" fill="#7fd4f2"/>
<circle cx="296.92" cy="167.02" r="0.5" fill="#7fd4f2"/>
<circle cx="299.32" cy="164.69" r="0.5" fill="#7fd4f2"/>
<circle cx="301.72" cy="162.57" r="0.5" fill="#7fd4f2"/>
<circle cx="304.12" cy="160.77" r="0.5" fill="#7fd4f2"/>
<circle cx="306.52" cy="159.41" r="0.5" fill="#7fd4f2"/>
<circle cx="308.92" cy="158.14" r="0.5" fill="#7fd4f2"/>
<circle cx="311.32" cy="156.94" r="0.5" fill="#7fd4f2"/>
<circle cx="313.72" cy="156.00" r="0.5" fill="#7fd4f2"/>
<circle cx="316.12" cy="155.26" r="0.5" fill="#7fd4f2"/>
<circle cx="318.52" cy="154.66" r="0.5" fill="#7fd4f2"/>
<circle cx="320.92" cy="154.16" r="0.5" fill="#7fd4f2"/>
<circle cx="323.32" cy="153.74" r="0.5" fill="#7fd4f2"/>
<circle cx="325.72" cy="153.43" r="0.5" fill="#7fd4f2"/>
<circle cx="328.12" cy="153.20" r="0.5" fill="#7fd4f2"/>
<circle cx="330.52" cy="152.97" r="0.5" fill="#7fd4f2"/>
<circle cx="332.92" cy="152.73" r="0.5" fill="#7fd4f2"/>
<polyline points="275.32,211.52 275.74,211.04 276.33,210.35 277.02,209.61 277.70,209.00 278.37,208.55 279.07,208.19 279.79,207.87 280.50,207.60 281.20,207.39 281.90,207.25 282.60,207.11 283.30,206.90 283.98,206.65 284.66,206.38 285.35,206.01 286.10,205.50 286.93,204.81 287.81,203.97 288.71,203.02 289.60,202.00 290.48,200.89 291.35,199.68 292.23,198.41 293.10,197.10 293.98,195.73 294.85,194.30 295.73,192.87 296.60,191.50 297.48,190.23 298.35,189.01 299.23,187.81 300.10,186.60 300.98,185.35 301.85,184.08 302.73,182.85 303.60,181.70 304.48,180.66 305.35,179.70 306.23,178.80 307.10,177.92 307.96,177.08 308.81,176.29 309.68,175.51 310.60,174.70 311.60,173.83 312.66,172.92 313.73,172.03 314.80,171.20 315.85,170.43 316.90,169.71 317.95,169.03 319.00,168.40 320.05,167.82 321.10,167.28 322.15,166.78 323.20,166.30 324.22,165.86 325.21,165.46 326.25,165.06 327.40,164.62 328.83,164.08 330.46,163.47 331.96,162.91 333.00,162.52" fill="none" stroke="#1f77b4" stroke-width="0.5" stroke-linejoin="round" stroke-linecap="round" stroke-opacity="0.95"/>
<circle cx="275.32" cy="211.52" r="0.55" fill="#1f77b4"/>
<circle cx="277.72" cy="208.99" r="0.55" fill="#1f77b4"/>
<circle cx="280.12" cy="207.74" r="0.55" fill="#1f77b4"/>
<circle cx="282.52" cy="207.12" r="0.55" fill="#1f77b4"/>
<circle cx="284.92" cy="206.25" r="0.55" fill="#1f77b4"/>
<circle cx="287.32" cy="204.44" r="0.55" fill="#1f77b4"/>
<circle cx="289.72" cy="201.85" r="0.55" fill="#1f77b4"/>
<circle cx="292.12" cy="198.56" r="0.55" fill="#1f77b4"/>
<circle cx="294.52" cy="194.84" r="0.55" fill="#1f77b4"/>
<circle cx="296.92" cy="191.03" r="0.55" fill="#1f77b4"/>
<circle cx="299.32" cy="187.68" r="0.55" fill="#1f77b4"/>
<circle cx="301.72" cy="184.27" r="0.55" fill="#1f77b4"/>
<circle cx="304.12" cy="181.07" r="0.55" fill="#1f77b4"/>
<circle cx="306.52" cy="178.50" r="0.55" fill="#1f77b4"/>
<circle cx="308.92" cy="176.19" r="0.55" fill="#1f77b4"/>
<circle cx="311.32" cy="174.07" r="0.55" fill="#1f77b4"/>
<circle cx="313.72" cy="172.04" r="0.55" fill="#1f77b4"/>
<circle cx="316.12" cy="170.25" r="0.55" fill="#1f77b4"/>
<circle cx="318.52" cy="168.69" r="0.55" fill="#1f77b4"/>
<circle cx="320.92" cy="167.37" r="0.55" fill="#1f77b4"/>
<circle cx="323.32" cy="166.25" r="0.55" fill="#1f77b4"/>
<circle cx="325.72" cy="165.26" r="0.55" fill="#1f77b4"/>
<circle cx="328.12" cy="164.34" r="0.55" fill="#1f77b4"/>
<circle cx="330.52" cy="163.44" r="0.55" fill="#1f77b4"/>
<circle cx="332.92" cy="162.55" r="0.55" fill="#1f77b4"/>
<polyline points="275.32,197.10 275.85,196.25 276.60,195.04 277.48,193.64 278.40,192.20 279.37,190.72 280.43,189.14 281.52,187.51 282.60,185.90 283.65,184.33 284.70,182.75 285.75,181.18 286.80,179.60 287.85,177.99 288.90,176.36 289.95,174.78 291.00,173.30 292.05,171.96 293.10,170.72 294.15,169.54 295.20,168.40 296.25,167.28 297.30,166.21 298.35,165.18 299.40,164.20 300.45,163.25 301.50,162.34 302.55,161.48 303.60,160.70 304.65,160.02 305.70,159.43 306.75,158.88 307.80,158.32 308.85,157.73 309.90,157.14 310.95,156.58 312.00,156.08 313.05,155.66 314.10,155.30 315.15,154.98 316.20,154.68 317.25,154.40 318.30,154.15 319.35,153.92 320.40,153.70 321.45,153.50 322.50,153.31 323.55,153.15 324.60,153.00 325.65,152.88 326.70,152.77 327.75,152.68 328.80,152.58 329.95,152.47 331.16,152.34 332.25,152.24 333.00,152.16" fill="none" stroke="#ff5555" stroke-width="0.6" stroke-linejoin="round" stroke-linecap="round" stroke-opacity="0.95"/>
<circle cx="275.32" cy="197.10" r="0.45" fill="#ff5555"/>
<circle cx="277.72" cy="193.26" r="0.45" fill="#ff5555"/>
<circle cx="280.12" cy="189.60" r="0.45" fill="#ff5555"/>
<circle cx="282.52" cy="186.02" r="0.45" fill="#ff5555"/>
<circle cx="284.92" cy="182.42" r="0.45" fill="#ff5555"/>
<circle cx="287.32" cy="178.81" r="0.45" fill="#ff5555"/>
<circle cx="289.72" cy="175.12" r="0.45" fill="#ff5555"/>
<circle cx="292.12" cy="171.88" r="0.45" fill="#ff5555"/>
<circle cx="294.52" cy="169.14" r="0.45" fill="#ff5555"/>
<circle cx="296.92" cy="166.60" r="0.45" fill="#ff5555"/>
<circle cx="299.32" cy="164.27" r="0.45" fill="#ff5555"/>
<circle cx="301.72" cy="162.15" r="0.45" fill="#ff5555"/>
<circle cx="304.12" cy="160.35" r="0.45" fill="#ff5555"/>
<circle cx="306.52" cy="159.00" r="0.45" fill="#ff5555"/>
<circle cx="308.92" cy="157.69" r="0.45" fill="#ff5555"/>
<circle cx="311.32" cy="156.40" r="0.45" fill="#ff5555"/>
<circle cx="313.72" cy="155.43" r="0.45" fill="#ff5555"/>
<circle cx="316.12" cy="154.70" r="0.45" fill="#ff5555"/>
<circle cx="318.52" cy="154.10" r="0.45" fill="#ff5555"/>
<circle cx="320.92" cy="153.60" r="0.45" fill="#ff5555"/>
<circle cx="323.32" cy="153.18" r="0.45" fill="#ff5555"/>
<circle cx="325.72" cy="152.87" r="0.45" fill="#ff5555"/>
<circle cx="328.12" cy="152.64" r="0.45" fill="#ff5555"/>
<circle cx="330.52" cy="152.41" r="0.45" fill="#ff5555"/>
<circle cx="332.92" cy="152.17" r="0.45" fill="#ff5555"/>
<polyline points="275.32,208.30 275.88,208.29 276.69,208.27 277.58,208.27 278.40,208.30 279.12,208.41 279.82,208.58 280.51,208.71 281.20,208.72 281.90,208.57 282.60,208.32 283.30,207.98 284.00,207.60 284.70,207.18 285.40,206.70 286.10,206.15 286.80,205.50 287.50,204.76 288.20,203.93 288.90,203.01 289.60,202.00 290.28,200.91 290.96,199.72 291.65,198.46 292.40,197.10 293.23,195.61 294.11,193.99 295.01,192.36 295.90,190.80 296.77,189.33 297.65,187.91 298.52,186.53 299.40,185.20 300.27,183.91 301.15,182.66 302.02,181.46 302.90,180.30 303.77,179.18 304.65,178.11 305.52,177.08 306.40,176.10 307.27,175.18 308.15,174.31 309.02,173.46 309.90,172.60 310.76,171.71 311.61,170.81 312.48,169.93 313.40,169.10 314.40,168.34 315.46,167.63 316.53,166.95 317.60,166.30 318.65,165.65 319.70,165.02 320.75,164.44 321.80,163.92 322.87,163.49 323.94,163.14 325.00,162.83 326.00,162.52 326.92,162.22 327.79,161.94 328.64,161.67 329.50,161.40 330.46,161.09 331.47,160.77 332.37,160.48 333.00,160.28" fill="none" stroke="#9a0000" stroke-width="0.6" stroke-linejoin="round" stroke-linecap="round" stroke-opacity="0.95"/>
<circle cx="275.32" cy="208.30" r="0.64" fill="#9a0000"/>
<circle cx="277.72" cy="208.27" r="0.64" fill="#9a0000"/>
<circle cx="280.12" cy="208.65" r="0.64" fill="#9a0000"/>
<circle cx="282.52" cy="208.35" r="0.64" fill="#9a0000"/>
<circle cx="284.92" cy="207.03" r="0.64" fill="#9a0000"/>
<circle cx="287.32" cy="204.95" r="0.64" fill="#9a0000"/>
<circle cx="289.72" cy="201.81" r="0.64" fill="#9a0000"/>
<circle cx="292.12" cy="197.60" r="0.64" fill="#9a0000"/>
<circle cx="294.52" cy="193.24" r="0.64" fill="#9a0000"/>
<circle cx="296.92" cy="189.10" r="0.64" fill="#9a0000"/>
<circle cx="299.32" cy="185.32" r="0.64" fill="#9a0000"/>
<circle cx="301.72" cy="181.87" r="0.64" fill="#9a0000"/>
<circle cx="304.12" cy="178.76" r="0.64" fill="#9a0000"/>
<circle cx="306.52" cy="175.97" r="0.64" fill="#9a0000"/>
<circle cx="308.92" cy="173.56" r="0.64" fill="#9a0000"/>
<circle cx="311.32" cy="171.11" r="0.64" fill="#9a0000"/>
<circle cx="313.72" cy="168.85" r="0.64" fill="#9a0000"/>
<circle cx="316.12" cy="167.21" r="0.64" fill="#9a0000"/>
<circle cx="318.52" cy="165.73" r="0.64" fill="#9a0000"/>
<circle cx="320.92" cy="164.35" r="0.64" fill="#9a0000"/>
<circle cx="323.32" cy="163.34" r="0.64" fill="#9a0000"/>
<circle cx="325.72" cy="162.61" r="0.64" fill="#9a0000"/>
<circle cx="328.12" cy="161.84" r="0.64" fill="#9a0000"/>
<circle cx="330.52" cy="161.07" r="0.64" fill="#9a0000"/>
<circle cx="332.92" cy="160.31" r="0.64" fill="#9a0000"/>
<rect x="272.50" y="148.30" width="63.30" height="66.00" fill="none" stroke="#3c3c3c" stroke-width="0.65" rx="0"/>
<text x="258.30" y="181.30" font-size="5.6" text-anchor="middle" font-family="Liberation Serif" font-weight="normal" fill="#000" transform="rotate(-90 258.30 181.30)">Velocity (km/s)</text>
<line x1="360.72" y1="148.30" x2="360.72" y2="214.30" stroke="#c8c8c8" stroke-width="0.42" stroke-dasharray="0.9 0.9"/>
<line x1="360.72" y1="214.30" x2="360.72" y2="215.90" stroke="#222" stroke-width="0.45"/>
<line x1="383.68" y1="148.30" x2="383.68" y2="214.30" stroke="#c8c8c8" stroke-width="0.42" stroke-dasharray="0.9 0.9"/>
<line x1="383.68" y1="214.30" x2="383.68" y2="215.90" stroke="#222" stroke-width="0.45"/>
<line x1="342.50" y1="149.08" x2="405.80" y2="149.08" stroke="#c8c8c8" stroke-width="0.42" stroke-dasharray="0.9 0.9"/>
<line x1="340.90" y1="149.08" x2="342.50" y2="149.08" stroke="#222" stroke-width="0.45"/>
<line x1="342.50" y1="171.90" x2="405.80" y2="171.90" stroke="#c8c8c8" stroke-width="0.42" stroke-dasharray="0.9 0.9"/>
<line x1="340.90" y1="171.90" x2="342.50" y2="171.90" stroke="#222" stroke-width="0.45"/>
<line x1="342.50" y1="194.30" x2="405.80" y2="194.30" stroke="#c8c8c8" stroke-width="0.42" stroke-dasharray="0.9 0.9"/>
<line x1="340.90" y1="194.30" x2="342.50" y2="194.30" stroke="#222" stroke-width="0.45"/>
<polyline points="344.90,197.52 347.00,196.12 349.10,195.70 351.20,190.80 354.00,185.90 356.80,181.00 361.00,175.40 365.20,169.80 369.40,165.60 373.60,161.68 377.80,158.04 382.00,155.80 386.20,154.12 390.40,152.72 394.60,151.60 398.80,151.60 403.00,151.32" fill="none" stroke="#000000" stroke-width="0.45" stroke-linejoin="miter" stroke-linecap="round" stroke-opacity="0.9"/>
<circle cx="344.90" cy="197.52" r="0.78" fill="#000000"/>
<circle cx="347.00" cy="196.12" r="0.78" fill="#000000"/>
<circle cx="349.10" cy="195.70" r="0.78" fill="#000000"/>
<circle cx="351.20" cy="190.80" r="0.78" fill="#000000"/>
<circle cx="354.00" cy="185.90" r="0.78" fill="#000000"/>
<circle cx="356.80" cy="181.00" r="0.78" fill="#000000"/>
<circle cx="358.90" cy="178.20" r="0.78" fill="#000000"/>
<circle cx="361.00" cy="175.40" r="0.78" fill="#000000"/>
<circle cx="363.10" cy="172.60" r="0.78" fill="#000000"/>
<circle cx="365.20" cy="169.80" r="0.78" fill="#000000"/>
<circle cx="367.30" cy="167.70" r="0.78" fill="#000000"/>
<circle cx="369.40" cy="165.60" r="0.78" fill="#000000"/>
<circle cx="371.50" cy="163.64" r="0.78" fill="#000000"/>
<circle cx="373.60" cy="161.68" r="0.78" fill="#000000"/>
<circle cx="375.70" cy="159.86" r="0.78" fill="#000000"/>
<circle cx="377.80" cy="158.04" r="0.78" fill="#000000"/>
<circle cx="379.90" cy="156.92" r="0.78" fill="#000000"/>
<circle cx="382.00" cy="155.80" r="0.78" fill="#000000"/>
<circle cx="384.10" cy="154.96" r="0.78" fill="#000000"/>
<circle cx="386.20" cy="154.12" r="0.78" fill="#000000"/>
<circle cx="388.30" cy="153.42" r="0.78" fill="#000000"/>
<circle cx="390.40" cy="152.72" r="0.78" fill="#000000"/>
<circle cx="392.50" cy="152.16" r="0.78" fill="#000000"/>
<circle cx="394.60" cy="151.60" r="0.78" fill="#000000"/>
<circle cx="396.70" cy="151.60" r="0.78" fill="#000000"/>
<circle cx="398.80" cy="151.60" r="0.78" fill="#000000"/>
<circle cx="400.90" cy="151.46" r="0.78" fill="#000000"/>
<circle cx="403.00" cy="151.32" r="0.78" fill="#000000"/>
<polyline points="344.90,208.30 347.00,204.10 349.80,203.40 351.90,205.50 355.40,206.90 358.90,204.10 362.40,199.90 365.90,194.30 369.40,189.40 373.60,183.10 377.80,176.10 380.60,174.00 383.40,171.20 387.60,168.40 391.80,164.90 396.00,163.50 399.50,161.40 403.00,159.72" fill="none" stroke="#3a3a3a" stroke-width="0.4" stroke-linejoin="miter" stroke-linecap="round" stroke-opacity="0.8"/>
<rect x="344.25" y="207.65" width="1.3" height="1.3" fill="#e8e8e8" stroke="#3a3a3a" stroke-width="0.3"/>
<rect x="346.35" y="203.45" width="1.3" height="1.3" fill="#e8e8e8" stroke="#3a3a3a" stroke-width="0.3"/>
<rect x="349.15" y="202.75" width="1.3" height="1.3" fill="#e8e8e8" stroke="#3a3a3a" stroke-width="0.3"/>
<rect x="351.25" y="204.85" width="1.3" height="1.3" fill="#e8e8e8" stroke="#3a3a3a" stroke-width="0.3"/>
<rect x="353.00" y="205.55" width="1.3" height="1.3" fill="#e8e8e8" stroke="#3a3a3a" stroke-width="0.3"/>
<rect x="354.75" y="206.25" width="1.3" height="1.3" fill="#e8e8e8" stroke="#3a3a3a" stroke-width="0.3"/>
<rect x="356.50" y="204.85" width="1.3" height="1.3" fill="#e8e8e8" stroke="#3a3a3a" stroke-width="0.3"/>
<rect x="358.25" y="203.45" width="1.3" height="1.3" fill="#e8e8e8" stroke="#3a3a3a" stroke-width="0.3"/>
<rect x="360.00" y="201.35" width="1.3" height="1.3" fill="#e8e8e8" stroke="#3a3a3a" stroke-width="0.3"/>
<rect x="361.75" y="199.25" width="1.3" height="1.3" fill="#e8e8e8" stroke="#3a3a3a" stroke-width="0.3"/>
<rect x="363.50" y="196.45" width="1.3" height="1.3" fill="#e8e8e8" stroke="#3a3a3a" stroke-width="0.3"/>
<rect x="365.25" y="193.65" width="1.3" height="1.3" fill="#e8e8e8" stroke="#3a3a3a" stroke-width="0.3"/>
<rect x="367.00" y="191.20" width="1.3" height="1.3" fill="#e8e8e8" stroke="#3a3a3a" stroke-width="0.3"/>
<rect x="368.75" y="188.75" width="1.3" height="1.3" fill="#e8e8e8" stroke="#3a3a3a" stroke-width="0.3"/>
<rect x="370.85" y="185.60" width="1.3" height="1.3" fill="#e8e8e8" stroke="#3a3a3a" stroke-width="0.3"/>
<rect x="372.95" y="182.45" width="1.3" height="1.3" fill="#e8e8e8" stroke="#3a3a3a" stroke-width="0.3"/>
<rect x="375.05" y="178.95" width="1.3" height="1.3" fill="#e8e8e8" stroke="#3a3a3a" stroke-width="0.3"/>
<rect x="377.15" y="175.45" width="1.3" height="1.3" fill="#e8e8e8" stroke="#3a3a3a" stroke-width="0.3"/>
<rect x="379.95" y="173.35" width="1.3" height="1.3" fill="#e8e8e8" stroke="#3a3a3a" stroke-width="0.3"/>
<rect x="382.75" y="170.55" width="1.3" height="1.3" fill="#e8e8e8" stroke="#3a3a3a" stroke-width="0.3"/>
<rect x="384.85" y="169.15" width="1.3" height="1.3" fill="#e8e8e8" stroke="#3a3a3a" stroke-width="0.3"/>
<rect x="386.95" y="167.75" width="1.3" height="1.3" fill="#e8e8e8" stroke="#3a3a3a" stroke-width="0.3"/>
<rect x="389.05" y="166.00" width="1.3" height="1.3" fill="#e8e8e8" stroke="#3a3a3a" stroke-width="0.3"/>
<rect x="391.15" y="164.25" width="1.3" height="1.3" fill="#e8e8e8" stroke="#3a3a3a" stroke-width="0.3"/>
<rect x="393.25" y="163.55" width="1.3" height="1.3" fill="#e8e8e8" stroke="#3a3a3a" stroke-width="0.3"/>
<rect x="395.35" y="162.85" width="1.3" height="1.3" fill="#e8e8e8" stroke="#3a3a3a" stroke-width="0.3"/>
<rect x="397.10" y="161.80" width="1.3" height="1.3" fill="#e8e8e8" stroke="#3a3a3a" stroke-width="0.3"/>
<rect x="398.85" y="160.75" width="1.3" height="1.3" fill="#e8e8e8" stroke="#3a3a3a" stroke-width="0.3"/>
<rect x="400.60" y="159.91" width="1.3" height="1.3" fill="#e8e8e8" stroke="#3a3a3a" stroke-width="0.3"/>
<rect x="402.35" y="159.07" width="1.3" height="1.3" fill="#e8e8e8" stroke="#3a3a3a" stroke-width="0.3"/>
<polyline points="344.90,198.36 345.51,197.65 346.39,196.65 347.39,195.46 348.40,194.16 349.40,192.73 350.46,191.14 351.53,189.48 352.60,187.86 353.65,186.27 354.70,184.67 355.75,183.09 356.80,181.56 357.85,180.11 358.90,178.72 359.95,177.34 361.00,175.96 362.05,174.53 363.10,173.07 364.15,171.66 365.20,170.36 366.25,169.21 367.30,168.16 368.35,167.16 369.40,166.16 370.45,165.14 371.50,164.13 372.55,163.15 373.60,162.24 374.65,161.40 375.70,160.61 376.75,159.87 377.80,159.16 378.85,158.47 379.90,157.81 380.95,157.20 382.00,156.64 383.05,156.15 384.10,155.73 385.15,155.34 386.20,154.96 387.25,154.58 388.30,154.21 389.35,153.86 390.40,153.56 391.45,153.30 392.50,153.08 393.55,152.89 394.60,152.72 395.65,152.58 396.70,152.47 397.75,152.39 398.80,152.30 399.95,152.21 401.16,152.13 402.25,152.07 403.00,152.02" fill="none" stroke="#7fd4f2" stroke-width="0.5" stroke-linejoin="round" stroke-linecap="round" stroke-opacity="0.95"/>
<circle cx="344.90" cy="198.36" r="0.5" fill="#7fd4f2"/>
<circle cx="347.30" cy="195.57" r="0.5" fill="#7fd4f2"/>
<circle cx="349.70" cy="192.29" r="0.5" fill="#7fd4f2"/>
<circle cx="352.10" cy="188.62" r="0.5" fill="#7fd4f2"/>
<circle cx="354.50" cy="184.97" r="0.5" fill="#7fd4f2"/>
<circle cx="356.90" cy="181.42" r="0.5" fill="#7fd4f2"/>
<circle cx="359.30" cy="178.19" r="0.5" fill="#7fd4f2"/>
<circle cx="361.70" cy="175.01" r="0.5" fill="#7fd4f2"/>
<circle cx="364.10" cy="171.73" r="0.5" fill="#7fd4f2"/>
<circle cx="366.50" cy="168.95" r="0.5" fill="#7fd4f2"/>
<circle cx="368.90" cy="166.64" r="0.5" fill="#7fd4f2"/>
<circle cx="371.30" cy="164.32" r="0.5" fill="#7fd4f2"/>
<circle cx="373.70" cy="162.16" r="0.5" fill="#7fd4f2"/>
<circle cx="376.10" cy="160.33" r="0.5" fill="#7fd4f2"/>
<circle cx="378.50" cy="158.70" r="0.5" fill="#7fd4f2"/>
<circle cx="380.90" cy="157.23" r="0.5" fill="#7fd4f2"/>
<circle cx="383.30" cy="156.05" r="0.5" fill="#7fd4f2"/>
<circle cx="385.70" cy="155.14" r="0.5" fill="#7fd4f2"/>
<circle cx="388.10" cy="154.28" r="0.5" fill="#7fd4f2"/>
<circle cx="390.50" cy="153.53" r="0.5" fill="#7fd4f2"/>
<circle cx="392.90" cy="153.00" r="0.5" fill="#7fd4f2"/>
<circle cx="395.30" cy="152.63" r="0.5" fill="#7fd4f2"/>
<circle cx="397.70" cy="152.39" r="0.5" fill="#7fd4f2"/>
<circle cx="400.10" cy="152.20" r="0.5" fill="#7fd4f2"/>
<circle cx="402.50" cy="152.05" r="0.5" fill="#7fd4f2"/>
<polyline points="344.90,211.52 345.26,210.79 345.77,209.73 346.38,208.59 347.00,207.60 347.62,206.79 348.27,206.04 348.99,205.38 349.80,204.80 350.75,204.35 351.81,204.01 352.92,203.72 354.00,203.40 355.05,203.07 356.10,202.74 357.15,202.40 358.20,202.00 359.27,201.57 360.34,201.12 361.40,200.59 362.40,199.90 363.31,199.01 364.15,197.97 364.99,196.85 365.90,195.70 366.90,194.52 367.96,193.29 369.03,192.04 370.10,190.80 371.15,189.58 372.20,188.35 373.25,187.13 374.30,185.90 375.35,184.66 376.40,183.41 377.45,182.18 378.50,181.00 379.55,179.89 380.60,178.84 381.65,177.81 382.70,176.80 383.75,175.79 384.80,174.79 385.85,173.81 386.90,172.88 387.95,171.98 389.00,171.11 390.05,170.29 391.10,169.52 392.17,168.82 393.24,168.18 394.30,167.58 395.30,167.00 396.21,166.44 397.05,165.91 397.89,165.40 398.80,164.90 399.90,164.38 401.12,163.86 402.23,163.40 403.00,163.08" fill="none" stroke="#1f77b4" stroke-width="0.5" stroke-linejoin="round" stroke-linecap="round" stroke-opacity="0.95"/>
<circle cx="344.90" cy="211.52" r="0.55" fill="#1f77b4"/>
<circle cx="347.30" cy="207.20" r="0.55" fill="#1f77b4"/>
<circle cx="349.70" cy="204.87" r="0.55" fill="#1f77b4"/>
<circle cx="352.10" cy="203.93" r="0.55" fill="#1f77b4"/>
<circle cx="354.50" cy="203.24" r="0.55" fill="#1f77b4"/>
<circle cx="356.90" cy="202.48" r="0.55" fill="#1f77b4"/>
<circle cx="359.30" cy="201.56" r="0.55" fill="#1f77b4"/>
<circle cx="361.70" cy="200.40" r="0.55" fill="#1f77b4"/>
<circle cx="364.10" cy="198.04" r="0.55" fill="#1f77b4"/>
<circle cx="366.50" cy="194.99" r="0.55" fill="#1f77b4"/>
<circle cx="368.90" cy="192.20" r="0.55" fill="#1f77b4"/>
<circle cx="371.30" cy="189.40" r="0.55" fill="#1f77b4"/>
<circle cx="373.70" cy="186.60" r="0.55" fill="#1f77b4"/>
<circle cx="376.10" cy="183.76" r="0.55" fill="#1f77b4"/>
<circle cx="378.50" cy="181.00" r="0.55" fill="#1f77b4"/>
<circle cx="380.90" cy="178.54" r="0.55" fill="#1f77b4"/>
<circle cx="383.30" cy="176.22" r="0.55" fill="#1f77b4"/>
<circle cx="385.70" cy="173.95" r="0.55" fill="#1f77b4"/>
<circle cx="388.10" cy="171.86" r="0.55" fill="#1f77b4"/>
<circle cx="390.50" cy="169.95" r="0.55" fill="#1f77b4"/>
<circle cx="392.90" cy="168.38" r="0.55" fill="#1f77b4"/>
<circle cx="395.30" cy="167.00" r="0.55" fill="#1f77b4"/>
<circle cx="397.70" cy="165.51" r="0.55" fill="#1f77b4"/>
<circle cx="400.10" cy="164.30" r="0.55" fill="#1f77b4"/>
<circle cx="402.50" cy="163.29" r="0.55" fill="#1f77b4"/>
<polyline points="344.90,197.80 345.51,197.09 346.39,196.09 347.39,194.90 348.40,193.60 349.40,192.17 350.46,190.58 351.53,188.92 352.60,187.30 353.65,185.71 354.70,184.11 355.75,182.53 356.80,181.00 357.85,179.55 358.90,178.16 359.95,176.78 361.00,175.40 362.05,173.97 363.10,172.51 364.15,171.10 365.20,169.80 366.25,168.65 367.30,167.60 368.35,166.60 369.40,165.60 370.45,164.58 371.50,163.57 372.55,162.59 373.60,161.68 374.65,160.84 375.70,160.05 376.75,159.31 377.80,158.60 378.85,157.91 379.90,157.25 380.95,156.64 382.00,156.08 383.05,155.59 384.10,155.17 385.15,154.78 386.20,154.40 387.25,154.02 388.30,153.65 389.35,153.30 390.40,153.00 391.45,152.74 392.50,152.51 393.55,152.32 394.60,152.16 395.65,152.05 396.70,151.99 397.75,151.94 398.80,151.88 399.95,151.80 401.16,151.72 402.25,151.65 403.00,151.60" fill="none" stroke="#ff5555" stroke-width="0.6" stroke-linejoin="round" stroke-linecap="round" stroke-opacity="0.95"/>
<circle cx="344.90" cy="197.80" r="0.45" fill="#ff5555"/>
<circle cx="347.30" cy="195.01" r="0.45" fill="#ff5555"/>
<circle cx="349.70" cy="191.73" r="0.45" fill="#ff5555"/>
<circle cx="352.10" cy="188.06" r="0.45" fill="#ff5555"/>
<circle cx="354.50" cy="184.41" r="0.45" fill="#ff5555"/>
<circle cx="356.90" cy="180.86" r="0.45" fill="#ff5555"/>
<circle cx="359.30" cy="177.63" r="0.45" fill="#ff5555"/>
<circle cx="361.70" cy="174.45" r="0.45" fill="#ff5555"/>
<circle cx="364.10" cy="171.17" r="0.45" fill="#ff5555"/>
<circle cx="366.50" cy="168.39" r="0.45" fill="#ff5555"/>
<circle cx="368.90" cy="166.08" r="0.45" fill="#ff5555"/>
<circle cx="371.30" cy="163.76" r="0.45" fill="#ff5555"/>
<circle cx="373.70" cy="161.60" r="0.45" fill="#ff5555"/>
<circle cx="376.10" cy="159.77" r="0.45" fill="#ff5555"/>
<circle cx="378.50" cy="158.14" r="0.45" fill="#ff5555"/>
<circle cx="380.90" cy="156.67" r="0.45" fill="#ff5555"/>
<circle cx="383.30" cy="155.49" r="0.45" fill="#ff5555"/>
<circle cx="385.70" cy="154.58" r="0.45" fill="#ff5555"/>
<circle cx="388.10" cy="153.72" r="0.45" fill="#ff5555"/>
<circle cx="390.50" cy="152.97" r="0.45" fill="#ff5555"/>
<circle cx="392.90" cy="152.43" r="0.45" fill="#ff5555"/>
<circle cx="395.30" cy="152.08" r="0.45" fill="#ff5555"/>
<circle cx="397.70" cy="151.94" r="0.45" fill="#ff5555"/>
<circle cx="400.10" cy="151.79" r="0.45" fill="#ff5555"/>
<circle cx="402.50" cy="151.63" r="0.45" fill="#ff5555"/>
<polyline points="344.90,207.60 345.39,207.37 346.08,207.04 346.89,206.71 347.70,206.48 348.51,206.40 349.36,206.41 350.26,206.45 351.20,206.48 352.22,206.54 353.30,206.63 354.38,206.65 355.40,206.48 356.32,206.10 357.19,205.55 358.04,204.88 358.90,204.10 359.77,203.21 360.65,202.20 361.52,201.09 362.40,199.90 363.27,198.58 364.15,197.14 365.02,195.68 365.90,194.30 366.76,193.04 367.61,191.85 368.48,190.66 369.40,189.40 370.40,188.03 371.46,186.60 372.53,185.17 373.60,183.80 374.65,182.53 375.70,181.31 376.75,180.11 377.80,178.90 378.85,177.66 379.90,176.41 380.95,175.18 382.00,174.00 383.05,172.87 384.10,171.79 385.15,170.75 386.20,169.80 387.25,168.94 388.30,168.16 389.35,167.42 390.40,166.72 391.45,166.04 392.50,165.40 393.55,164.79 394.60,164.20 395.65,163.63 396.70,163.08 397.75,162.57 398.80,162.10 399.95,161.67 401.16,161.27 402.25,160.94 403.00,160.70" fill="none" stroke="#9a0000" stroke-width="0.6" stroke-linejoin="round" stroke-linecap="round" stroke-opacity="0.95"/>
<circle cx="344.90" cy="207.60" r="0.64" fill="#9a0000"/>
<circle cx="347.30" cy="206.57" r="0.64" fill="#9a0000"/>
<circle cx="349.70" cy="206.43" r="0.64" fill="#9a0000"/>
<circle cx="352.10" cy="206.53" r="0.64" fill="#9a0000"/>
<circle cx="354.50" cy="206.64" r="0.64" fill="#9a0000"/>
<circle cx="356.90" cy="205.75" r="0.64" fill="#9a0000"/>
<circle cx="359.30" cy="203.71" r="0.64" fill="#9a0000"/>
<circle cx="361.70" cy="200.86" r="0.64" fill="#9a0000"/>
<circle cx="364.10" cy="197.23" r="0.64" fill="#9a0000"/>
<circle cx="366.50" cy="193.42" r="0.64" fill="#9a0000"/>
<circle cx="368.90" cy="190.08" r="0.64" fill="#9a0000"/>
<circle cx="371.30" cy="186.81" r="0.64" fill="#9a0000"/>
<circle cx="373.70" cy="183.68" r="0.64" fill="#9a0000"/>
<circle cx="376.10" cy="180.85" r="0.64" fill="#9a0000"/>
<circle cx="378.50" cy="178.07" r="0.64" fill="#9a0000"/>
<circle cx="380.90" cy="175.23" r="0.64" fill="#9a0000"/>
<circle cx="383.30" cy="172.61" r="0.64" fill="#9a0000"/>
<circle cx="385.70" cy="170.24" r="0.64" fill="#9a0000"/>
<circle cx="388.10" cy="168.30" r="0.64" fill="#9a0000"/>
<circle cx="390.50" cy="166.65" r="0.64" fill="#9a0000"/>
<circle cx="392.90" cy="165.16" r="0.64" fill="#9a0000"/>
<circle cx="395.30" cy="163.82" r="0.64" fill="#9a0000"/>
<circle cx="397.70" cy="162.59" r="0.64" fill="#9a0000"/>
<circle cx="400.10" cy="161.62" r="0.64" fill="#9a0000"/>
<circle cx="402.50" cy="160.86" r="0.64" fill="#9a0000"/>
<rect x="342.50" y="148.30" width="63.30" height="66.00" fill="none" stroke="#3c3c3c" stroke-width="0.65" rx="0"/>
<line x1="430.30" y1="148.30" x2="430.30" y2="214.30" stroke="#c8c8c8" stroke-width="0.42" stroke-dasharray="0.9 0.9"/>
<line x1="430.30" y1="214.30" x2="430.30" y2="215.90" stroke="#222" stroke-width="0.45"/>
<line x1="453.12" y1="148.30" x2="453.12" y2="214.30" stroke="#c8c8c8" stroke-width="0.42" stroke-dasharray="0.9 0.9"/>
<line x1="453.12" y1="214.30" x2="453.12" y2="215.90" stroke="#222" stroke-width="0.45"/>
<line x1="412.20" y1="149.08" x2="475.50" y2="149.08" stroke="#c8c8c8" stroke-width="0.42" stroke-dasharray="0.9 0.9"/>
<line x1="410.60" y1="149.08" x2="412.20" y2="149.08" stroke="#222" stroke-width="0.45"/>
<line x1="412.20" y1="170.08" x2="475.50" y2="170.08" stroke="#c8c8c8" stroke-width="0.42" stroke-dasharray="0.9 0.9"/>
<line x1="410.60" y1="170.08" x2="412.20" y2="170.08" stroke="#222" stroke-width="0.45"/>
<line x1="412.20" y1="192.20" x2="475.50" y2="192.20" stroke="#c8c8c8" stroke-width="0.42" stroke-dasharray="0.9 0.9"/>
<line x1="410.60" y1="192.20" x2="412.20" y2="192.20" stroke="#222" stroke-width="0.45"/>
<line x1="412.20" y1="213.90" x2="475.50" y2="213.90" stroke="#c8c8c8" stroke-width="0.42" stroke-dasharray="0.9 0.9"/>
<line x1="410.60" y1="213.90" x2="412.20" y2="213.90" stroke="#222" stroke-width="0.45"/>
<polyline points="414.20,190.80 417.00,184.08 420.50,176.10 424.00,167.70 427.50,161.40 431.00,158.32 434.50,156.08 436.60,155.10 438.00,157.48 440.80,156.92 443.60,153.70 445.70,155.10 449.20,154.68 453.40,152.72 456.20,153.70 460.40,153.28 464.60,153.00 468.80,152.44 472.72,151.32" fill="none" stroke="#000000" stroke-width="0.45" stroke-linejoin="miter" stroke-linecap="round" stroke-opacity="0.9"/>
<circle cx="414.20" cy="190.80" r="0.78" fill="#000000"/>
<circle cx="417.00" cy="184.08" r="0.78" fill="#000000"/>
<circle cx="418.75" cy="180.09" r="0.78" fill="#000000"/>
<circle cx="420.50" cy="176.10" r="0.78" fill="#000000"/>
<circle cx="422.25" cy="171.90" r="0.78" fill="#000000"/>
<circle cx="424.00" cy="167.70" r="0.78" fill="#000000"/>
<circle cx="425.75" cy="164.55" r="0.78" fill="#000000"/>
<circle cx="427.50" cy="161.40" r="0.78" fill="#000000"/>
<circle cx="429.25" cy="159.86" r="0.78" fill="#000000"/>
<circle cx="431.00" cy="158.32" r="0.78" fill="#000000"/>
<circle cx="432.75" cy="157.20" r="0.78" fill="#000000"/>
<circle cx="434.50" cy="156.08" r="0.78" fill="#000000"/>
<circle cx="436.60" cy="155.10" r="0.78" fill="#000000"/>
<circle cx="438.00" cy="157.48" r="0.78" fill="#000000"/>
<circle cx="440.80" cy="156.92" r="0.78" fill="#000000"/>
<circle cx="443.60" cy="153.70" r="0.78" fill="#000000"/>
<circle cx="445.70" cy="155.10" r="0.78" fill="#000000"/>
<circle cx="447.45" cy="154.89" r="0.78" fill="#000000"/>
<circle cx="449.20" cy="154.68" r="0.78" fill="#000000"/>
<circle cx="451.30" cy="153.70" r="0.78" fill="#000000"/>
<circle cx="453.40" cy="152.72" r="0.78" fill="#000000"/>
<circle cx="456.20" cy="153.70" r="0.78" fill="#000000"/>
<circle cx="458.30" cy="153.49" r="0.78" fill="#000000"/>
<circle cx="460.40" cy="153.28" r="0.78" fill="#000000"/>
<circle cx="462.50" cy="153.14" r="0.78" fill="#000000"/>
<circle cx="464.60" cy="153.00" r="0.78" fill="#000000"/>
<circle cx="466.70" cy="152.72" r="0.78" fill="#000000"/>
<circle cx="468.80" cy="152.44" r="0.78" fill="#000000"/>
<circle cx="470.76" cy="151.88" r="0.78" fill="#000000"/>
<circle cx="472.72" cy="151.32" r="0.78" fill="#000000"/>
<polyline points="414.20,211.10 415.60,204.80 417.70,202.00 419.80,204.10 421.90,201.30 424.00,195.00 426.80,186.60 429.60,177.50 431.70,169.80 433.80,164.20 436.60,162.80 438.00,170.50 440.80,171.20 442.90,169.80 444.30,164.20 446.40,167.70 448.50,163.50 450.60,160.70 453.40,159.30 457.60,158.60 463.20,157.90 468.80,157.20 472.72,156.92" fill="none" stroke="#3a3a3a" stroke-width="0.4" stroke-linejoin="miter" stroke-linecap="round" stroke-opacity="0.8"/>
<rect x="413.55" y="210.45" width="1.3" height="1.3" fill="#e8e8e8" stroke="#3a3a3a" stroke-width="0.3"/>
<rect x="414.95" y="204.15" width="1.3" height="1.3" fill="#e8e8e8" stroke="#3a3a3a" stroke-width="0.3"/>
<rect x="417.05" y="201.35" width="1.3" height="1.3" fill="#e8e8e8" stroke="#3a3a3a" stroke-width="0.3"/>
<rect x="419.15" y="203.45" width="1.3" height="1.3" fill="#e8e8e8" stroke="#3a3a3a" stroke-width="0.3"/>
<rect x="421.25" y="200.65" width="1.3" height="1.3" fill="#e8e8e8" stroke="#3a3a3a" stroke-width="0.3"/>
<rect x="423.35" y="194.35" width="1.3" height="1.3" fill="#e8e8e8" stroke="#3a3a3a" stroke-width="0.3"/>
<rect x="426.15" y="185.95" width="1.3" height="1.3" fill="#e8e8e8" stroke="#3a3a3a" stroke-width="0.3"/>
<rect x="428.95" y="176.85" width="1.3" height="1.3" fill="#e8e8e8" stroke="#3a3a3a" stroke-width="0.3"/>
<rect x="431.05" y="169.15" width="1.3" height="1.3" fill="#e8e8e8" stroke="#3a3a3a" stroke-width="0.3"/>
<rect x="433.15" y="163.55" width="1.3" height="1.3" fill="#e8e8e8" stroke="#3a3a3a" stroke-width="0.3"/>
<rect x="435.95" y="162.15" width="1.3" height="1.3" fill="#e8e8e8" stroke="#3a3a3a" stroke-width="0.3"/>
<rect x="437.35" y="169.85" width="1.3" height="1.3" fill="#e8e8e8" stroke="#3a3a3a" stroke-width="0.3"/>
<rect x="440.15" y="170.55" width="1.3" height="1.3" fill="#e8e8e8" stroke="#3a3a3a" stroke-width="0.3"/>
<rect x="442.25" y="169.15" width="1.3" height="1.3" fill="#e8e8e8" stroke="#3a3a3a" stroke-width="0.3"/>
<rect x="443.65" y="163.55" width="1.3" height="1.3" fill="#e8e8e8" stroke="#3a3a3a" stroke-width="0.3"/>
<rect x="445.75" y="167.05" width="1.3" height="1.3" fill="#e8e8e8" stroke="#3a3a3a" stroke-width="0.3"/>
<rect x="447.85" y="162.85" width="1.3" height="1.3" fill="#e8e8e8" stroke="#3a3a3a" stroke-width="0.3"/>
<rect x="449.95" y="160.05" width="1.3" height="1.3" fill="#e8e8e8" stroke="#3a3a3a" stroke-width="0.3"/>
<rect x="452.75" y="158.65" width="1.3" height="1.3" fill="#e8e8e8" stroke="#3a3a3a" stroke-width="0.3"/>
<rect x="454.85" y="158.30" width="1.3" height="1.3" fill="#e8e8e8" stroke="#3a3a3a" stroke-width="0.3"/>
<rect x="456.95" y="157.95" width="1.3" height="1.3" fill="#e8e8e8" stroke="#3a3a3a" stroke-width="0.3"/>
<rect x="459.75" y="157.60" width="1.3" height="1.3" fill="#e8e8e8" stroke="#3a3a3a" stroke-width="0.3"/>
<rect x="462.55" y="157.25" width="1.3" height="1.3" fill="#e8e8e8" stroke="#3a3a3a" stroke-width="0.3"/>
<rect x="465.35" y="156.90" width="1.3" height="1.3" fill="#e8e8e8" stroke="#3a3a3a" stroke-width="0.3"/>
<rect x="468.15" y="156.55" width="1.3" height="1.3" fill="#e8e8e8" stroke="#3a3a3a" stroke-width="0.3"/>
<rect x="470.11" y="156.41" width="1.3" height="1.3" fill="#e8e8e8" stroke="#3a3a3a" stroke-width="0.3"/>
<rect x="472.07" y="156.27" width="1.3" height="1.3" fill="#e8e8e8" stroke="#3a3a3a" stroke-width="0.3"/>
<polyline points="414.20,192.20 414.69,190.91 415.38,189.07 416.19,186.97 417.00,184.92 417.83,182.94 418.71,180.90 419.61,178.83 420.50,176.80 421.38,174.77 422.25,172.73 423.12,170.77 424.00,168.96 424.88,167.32 425.75,165.82 426.62,164.45 427.50,163.22 428.38,162.15 429.25,161.22 430.12,160.42 431.00,159.72 431.88,159.13 432.75,158.65 433.62,158.26 434.50,157.90 435.36,157.60 436.21,157.36 437.08,157.15 438.00,156.92 439.00,156.67 440.06,156.42 441.13,156.18 442.20,155.94 443.22,155.72 444.21,155.52 445.25,155.32 446.40,155.10 447.70,154.85 449.11,154.58 450.57,154.33 452.00,154.12 453.40,153.98 454.80,153.88 456.20,153.79 457.60,153.70 459.00,153.60 460.40,153.50 461.80,153.39 463.20,153.28 464.64,153.15 466.11,153.02 467.52,152.87 468.80,152.72 469.99,152.54 471.11,152.34 472.06,152.15 472.72,152.02" fill="none" stroke="#7fd4f2" stroke-width="0.5" stroke-linejoin="round" stroke-linecap="round" stroke-opacity="0.95"/>
<circle cx="414.20" cy="192.20" r="0.5" fill="#7fd4f2"/>
<circle cx="416.60" cy="185.91" r="0.5" fill="#7fd4f2"/>
<circle cx="419.00" cy="180.22" r="0.5" fill="#7fd4f2"/>
<circle cx="421.40" cy="174.71" r="0.5" fill="#7fd4f2"/>
<circle cx="423.80" cy="169.36" r="0.5" fill="#7fd4f2"/>
<circle cx="426.20" cy="165.10" r="0.5" fill="#7fd4f2"/>
<circle cx="428.60" cy="161.90" r="0.5" fill="#7fd4f2"/>
<circle cx="431.00" cy="159.72" r="0.5" fill="#7fd4f2"/>
<circle cx="433.40" cy="158.35" r="0.5" fill="#7fd4f2"/>
<circle cx="435.80" cy="157.47" r="0.5" fill="#7fd4f2"/>
<circle cx="438.20" cy="156.87" r="0.5" fill="#7fd4f2"/>
<circle cx="440.60" cy="156.30" r="0.5" fill="#7fd4f2"/>
<circle cx="443.00" cy="155.77" r="0.5" fill="#7fd4f2"/>
<circle cx="445.40" cy="155.29" r="0.5" fill="#7fd4f2"/>
<circle cx="447.80" cy="154.83" r="0.5" fill="#7fd4f2"/>
<circle cx="450.20" cy="154.39" r="0.5" fill="#7fd4f2"/>
<circle cx="452.60" cy="154.05" r="0.5" fill="#7fd4f2"/>
<circle cx="455.00" cy="153.86" r="0.5" fill="#7fd4f2"/>
<circle cx="457.40" cy="153.71" r="0.5" fill="#7fd4f2"/>
<circle cx="459.80" cy="153.54" r="0.5" fill="#7fd4f2"/>
<circle cx="462.20" cy="153.36" r="0.5" fill="#7fd4f2"/>
<circle cx="464.60" cy="153.16" r="0.5" fill="#7fd4f2"/>
<circle cx="467.00" cy="152.93" r="0.5" fill="#7fd4f2"/>
<circle cx="469.40" cy="152.63" r="0.5" fill="#7fd4f2"/>
<circle cx="471.80" cy="152.20" r="0.5" fill="#7fd4f2"/>
<polyline points="414.20,209.00 414.56,208.59 415.07,207.99 415.68,207.38 416.30,206.90 416.95,206.68 417.66,206.59 418.38,206.49 419.10,206.20 419.82,205.71 420.54,205.11 421.25,204.35 421.90,203.40 422.46,202.30 422.95,201.04 423.44,199.56 424.00,197.80 424.65,195.63 425.36,193.12 426.08,190.50 426.80,188.00 427.50,185.60 428.20,183.21 428.90,180.93 429.60,178.90 430.28,177.16 430.96,175.65 431.65,174.30 432.40,173.02 433.23,171.83 434.11,170.75 435.01,169.75 435.90,168.82 436.76,167.96 437.61,167.19 438.48,166.46 439.40,165.74 440.40,165.00 441.46,164.26 442.53,163.56 443.60,162.94 444.65,162.40 445.70,161.92 446.75,161.49 447.80,161.12 448.82,160.81 449.81,160.57 450.85,160.36 452.00,160.14 453.30,159.92 454.71,159.71 456.17,159.51 457.60,159.30 459.00,159.08 460.40,158.86 461.80,158.65 463.20,158.46 464.64,158.29 466.11,158.15 467.52,158.01 468.80,157.90 469.99,157.80 471.11,157.72 472.06,157.66 472.72,157.62" fill="none" stroke="#1f77b4" stroke-width="0.5" stroke-linejoin="round" stroke-linecap="round" stroke-opacity="0.95"/>
<circle cx="414.20" cy="209.00" r="0.55" fill="#1f77b4"/>
<circle cx="416.60" cy="206.77" r="0.55" fill="#1f77b4"/>
<circle cx="419.00" cy="206.25" r="0.55" fill="#1f77b4"/>
<circle cx="421.40" cy="204.14" r="0.55" fill="#1f77b4"/>
<circle cx="423.80" cy="198.43" r="0.55" fill="#1f77b4"/>
<circle cx="426.20" cy="190.09" r="0.55" fill="#1f77b4"/>
<circle cx="428.60" cy="181.89" r="0.55" fill="#1f77b4"/>
<circle cx="431.00" cy="175.57" r="0.55" fill="#1f77b4"/>
<circle cx="433.40" cy="171.60" r="0.55" fill="#1f77b4"/>
<circle cx="435.80" cy="168.92" r="0.55" fill="#1f77b4"/>
<circle cx="438.20" cy="166.69" r="0.55" fill="#1f77b4"/>
<circle cx="440.60" cy="164.86" r="0.55" fill="#1f77b4"/>
<circle cx="443.00" cy="163.28" r="0.55" fill="#1f77b4"/>
<circle cx="445.40" cy="162.05" r="0.55" fill="#1f77b4"/>
<circle cx="447.80" cy="161.12" r="0.55" fill="#1f77b4"/>
<circle cx="450.20" cy="160.49" r="0.55" fill="#1f77b4"/>
<circle cx="452.60" cy="160.03" r="0.55" fill="#1f77b4"/>
<circle cx="455.00" cy="159.67" r="0.55" fill="#1f77b4"/>
<circle cx="457.40" cy="159.33" r="0.55" fill="#1f77b4"/>
<circle cx="459.80" cy="158.96" r="0.55" fill="#1f77b4"/>
<circle cx="462.20" cy="158.59" r="0.55" fill="#1f77b4"/>
<circle cx="464.60" cy="158.30" r="0.55" fill="#1f77b4"/>
<circle cx="467.00" cy="158.06" r="0.55" fill="#1f77b4"/>
<circle cx="469.40" cy="157.85" r="0.55" fill="#1f77b4"/>
<circle cx="471.80" cy="157.68" r="0.55" fill="#1f77b4"/>
<polyline points="414.20,190.10 414.69,189.00 415.38,187.43 416.19,185.62 417.00,183.80 417.83,181.97 418.71,180.04 419.61,178.06 420.50,176.10 421.38,174.13 422.25,172.12 423.12,170.18 424.00,168.40 424.88,166.80 425.75,165.34 426.62,164.00 427.50,162.80 428.38,161.74 429.25,160.81 430.12,160.01 431.00,159.30 431.88,158.71 432.75,158.23 433.62,157.84 434.50,157.48 435.36,157.18 436.21,156.94 437.08,156.73 438.00,156.50 439.00,156.25 440.06,156.00 441.13,155.76 442.20,155.52 443.22,155.30 444.21,155.10 445.25,154.90 446.40,154.68 447.70,154.43 449.11,154.16 450.57,153.91 452.00,153.70 453.40,153.55 454.80,153.45 456.20,153.36 457.60,153.28 459.00,153.21 460.40,153.15 461.80,153.09 463.20,153.00 464.64,152.89 466.11,152.75 467.52,152.61 468.80,152.44 469.99,152.23 471.11,151.98 472.06,151.76 472.72,151.60" fill="none" stroke="#ff5555" stroke-width="0.6" stroke-linejoin="round" stroke-linecap="round" stroke-opacity="0.95"/>
<circle cx="414.20" cy="190.10" r="0.45" fill="#ff5555"/>
<circle cx="416.60" cy="184.69" r="0.45" fill="#ff5555"/>
<circle cx="419.00" cy="179.39" r="0.45" fill="#ff5555"/>
<circle cx="421.40" cy="174.07" r="0.45" fill="#ff5555"/>
<circle cx="423.80" cy="168.79" r="0.45" fill="#ff5555"/>
<circle cx="426.20" cy="164.64" r="0.45" fill="#ff5555"/>
<circle cx="428.60" cy="161.49" r="0.45" fill="#ff5555"/>
<circle cx="431.00" cy="159.30" r="0.45" fill="#ff5555"/>
<circle cx="433.40" cy="157.93" r="0.45" fill="#ff5555"/>
<circle cx="435.80" cy="157.05" r="0.45" fill="#ff5555"/>
<circle cx="438.20" cy="156.45" r="0.45" fill="#ff5555"/>
<circle cx="440.60" cy="155.88" r="0.45" fill="#ff5555"/>
<circle cx="443.00" cy="155.35" r="0.45" fill="#ff5555"/>
<circle cx="445.40" cy="154.87" r="0.45" fill="#ff5555"/>
<circle cx="447.80" cy="154.41" r="0.45" fill="#ff5555"/>
<circle cx="450.20" cy="153.97" r="0.45" fill="#ff5555"/>
<circle cx="452.60" cy="153.63" r="0.45" fill="#ff5555"/>
<circle cx="455.00" cy="153.43" r="0.45" fill="#ff5555"/>
<circle cx="457.40" cy="153.29" r="0.45" fill="#ff5555"/>
<circle cx="459.80" cy="153.17" r="0.45" fill="#ff5555"/>
<circle cx="462.20" cy="153.06" r="0.45" fill="#ff5555"/>
<circle cx="464.60" cy="152.89" r="0.45" fill="#ff5555"/>
<circle cx="467.00" cy="152.66" r="0.45" fill="#ff5555"/>
<circle cx="469.40" cy="152.34" r="0.45" fill="#ff5555"/>
<circle cx="471.80" cy="151.82" r="0.45" fill="#ff5555"/>
<polyline points="414.20,204.10 414.69,203.88 415.38,203.57 416.19,203.18 417.00,202.70 417.83,202.18 418.71,201.61 419.61,200.88 420.50,199.90 421.39,198.60 422.29,197.06 423.17,195.36 424.00,193.60 424.75,191.77 425.44,189.84 426.12,187.86 426.80,185.90 427.50,183.93 428.20,181.92 428.90,179.98 429.60,178.20 430.28,176.62 430.96,175.18 431.65,173.85 432.40,172.60 433.23,171.43 434.11,170.34 435.01,169.34 435.90,168.40 436.76,167.54 437.61,166.77 438.48,166.04 439.40,165.32 440.40,164.58 441.46,163.84 442.53,163.14 443.60,162.52 444.65,161.98 445.70,161.50 446.75,161.07 447.80,160.70 448.82,160.39 449.81,160.15 450.85,159.94 452.00,159.72 453.30,159.50 454.71,159.29 456.17,159.09 457.60,158.88 459.00,158.66 460.40,158.44 461.80,158.23 463.20,158.04 464.64,157.87 466.11,157.72 467.52,157.59 468.80,157.48 469.99,157.38 471.11,157.30 472.06,157.24 472.72,157.20" fill="none" stroke="#9a0000" stroke-width="0.6" stroke-linejoin="round" stroke-linecap="round" stroke-opacity="0.95"/>
<circle cx="414.20" cy="204.10" r="0.64" fill="#9a0000"/>
<circle cx="416.60" cy="202.95" r="0.64" fill="#9a0000"/>
<circle cx="419.00" cy="201.39" r="0.64" fill="#9a0000"/>
<circle cx="421.40" cy="198.59" r="0.64" fill="#9a0000"/>
<circle cx="423.80" cy="194.03" r="0.64" fill="#9a0000"/>
<circle cx="426.20" cy="187.61" r="0.64" fill="#9a0000"/>
<circle cx="428.60" cy="180.80" r="0.64" fill="#9a0000"/>
<circle cx="431.00" cy="175.09" r="0.64" fill="#9a0000"/>
<circle cx="433.40" cy="171.20" r="0.64" fill="#9a0000"/>
<circle cx="435.80" cy="168.50" r="0.64" fill="#9a0000"/>
<circle cx="438.20" cy="166.27" r="0.64" fill="#9a0000"/>
<circle cx="440.60" cy="164.44" r="0.64" fill="#9a0000"/>
<circle cx="443.00" cy="162.86" r="0.64" fill="#9a0000"/>
<circle cx="445.40" cy="161.63" r="0.64" fill="#9a0000"/>
<circle cx="447.80" cy="160.70" r="0.64" fill="#9a0000"/>
<circle cx="450.20" cy="160.07" r="0.64" fill="#9a0000"/>
<circle cx="452.60" cy="159.61" r="0.64" fill="#9a0000"/>
<circle cx="455.00" cy="159.25" r="0.64" fill="#9a0000"/>
<circle cx="457.40" cy="158.91" r="0.64" fill="#9a0000"/>
<circle cx="459.80" cy="158.54" r="0.64" fill="#9a0000"/>
<circle cx="462.20" cy="158.17" r="0.64" fill="#9a0000"/>
<circle cx="464.60" cy="157.88" r="0.64" fill="#9a0000"/>
<circle cx="467.00" cy="157.64" r="0.64" fill="#9a0000"/>
<circle cx="469.40" cy="157.43" r="0.64" fill="#9a0000"/>
<circle cx="471.80" cy="157.26" r="0.64" fill="#9a0000"/>
<rect x="412.20" y="148.30" width="63.30" height="66.00" fill="none" stroke="#3c3c3c" stroke-width="0.65" rx="0"/>
<line x1="296.60" y1="220.90" x2="296.60" y2="286.90" stroke="#c8c8c8" stroke-width="0.42" stroke-dasharray="0.9 0.9"/>
<line x1="296.60" y1="286.90" x2="296.60" y2="288.50" stroke="#222" stroke-width="0.45"/>
<line x1="332.72" y1="220.90" x2="332.72" y2="286.90" stroke="#c8c8c8" stroke-width="0.42" stroke-dasharray="0.9 0.9"/>
<line x1="332.72" y1="286.90" x2="332.72" y2="288.50" stroke="#222" stroke-width="0.45"/>
<line x1="272.50" y1="231.30" x2="335.80" y2="231.30" stroke="#c8c8c8" stroke-width="0.42" stroke-dasharray="0.9 0.9"/>
<line x1="270.90" y1="231.30" x2="272.50" y2="231.30" stroke="#222" stroke-width="0.45"/>
<line x1="272.50" y1="247.40" x2="335.80" y2="247.40" stroke="#c8c8c8" stroke-width="0.42" stroke-dasharray="0.9 0.9"/>
<line x1="270.90" y1="247.40" x2="272.50" y2="247.40" stroke="#222" stroke-width="0.45"/>
<line x1="272.50" y1="262.80" x2="335.80" y2="262.80" stroke="#c8c8c8" stroke-width="0.42" stroke-dasharray="0.9 0.9"/>
<line x1="270.90" y1="262.80" x2="272.50" y2="262.80" stroke="#222" stroke-width="0.45"/>
<line x1="272.50" y1="278.48" x2="335.80" y2="278.48" stroke="#c8c8c8" stroke-width="0.42" stroke-dasharray="0.9 0.9"/>
<line x1="270.90" y1="278.48" x2="272.50" y2="278.48" stroke="#222" stroke-width="0.45"/>
<polyline points="275.32,253.00 279.80,253.00 284.00,253.00 288.20,251.60 292.40,249.92 296.60,248.10 300.80,245.72 305.00,243.20 309.20,240.40 312.00,239.00 314.80,236.90 318.30,234.52 321.80,234.10 326.00,230.88 329.50,227.10 332.72,223.32" fill="none" stroke="#000000" stroke-width="0.45" stroke-linejoin="miter" stroke-linecap="round" stroke-opacity="0.9"/>
<circle cx="275.32" cy="253.00" r="0.78" fill="#000000"/>
<circle cx="277.56" cy="253.00" r="0.78" fill="#000000"/>
<circle cx="279.80" cy="253.00" r="0.78" fill="#000000"/>
<circle cx="281.90" cy="253.00" r="0.78" fill="#000000"/>
<circle cx="284.00" cy="253.00" r="0.78" fill="#000000"/>
<circle cx="286.10" cy="252.30" r="0.78" fill="#000000"/>
<circle cx="288.20" cy="251.60" r="0.78" fill="#000000"/>
<circle cx="290.30" cy="250.76" r="0.78" fill="#000000"/>
<circle cx="292.40" cy="249.92" r="0.78" fill="#000000"/>
<circle cx="294.50" cy="249.01" r="0.78" fill="#000000"/>
<circle cx="296.60" cy="248.10" r="0.78" fill="#000000"/>
<circle cx="298.70" cy="246.91" r="0.78" fill="#000000"/>
<circle cx="300.80" cy="245.72" r="0.78" fill="#000000"/>
<circle cx="302.90" cy="244.46" r="0.78" fill="#000000"/>
<circle cx="305.00" cy="243.20" r="0.78" fill="#000000"/>
<circle cx="307.10" cy="241.80" r="0.78" fill="#000000"/>
<circle cx="309.20" cy="240.40" r="0.78" fill="#000000"/>
<circle cx="312.00" cy="239.00" r="0.78" fill="#000000"/>
<circle cx="314.80" cy="236.90" r="0.78" fill="#000000"/>
<circle cx="316.55" cy="235.71" r="0.78" fill="#000000"/>
<circle cx="318.30" cy="234.52" r="0.78" fill="#000000"/>
<circle cx="320.05" cy="234.31" r="0.78" fill="#000000"/>
<circle cx="321.80" cy="234.10" r="0.78" fill="#000000"/>
<circle cx="323.90" cy="232.49" r="0.78" fill="#000000"/>
<circle cx="326.00" cy="230.88" r="0.78" fill="#000000"/>
<circle cx="327.75" cy="228.99" r="0.78" fill="#000000"/>
<circle cx="329.50" cy="227.10" r="0.78" fill="#000000"/>
<circle cx="331.11" cy="225.21" r="0.78" fill="#000000"/>
<circle cx="332.72" cy="223.32" r="0.78" fill="#000000"/>
<polyline points="275.32,251.60 278.40,248.10 281.90,251.60 285.40,249.92 288.90,255.10 292.40,258.60 296.60,259.30 300.10,267.70 303.60,272.60 307.10,276.10 310.60,276.10 314.10,277.50 317.60,281.00 321.80,282.40 325.30,279.60 328.80,283.52 332.72,283.10" fill="none" stroke="#3a3a3a" stroke-width="0.4" stroke-linejoin="miter" stroke-linecap="round" stroke-opacity="0.8"/>
<rect x="274.67" y="250.95" width="1.3" height="1.3" fill="#e8e8e8" stroke="#3a3a3a" stroke-width="0.3"/>
<rect x="277.75" y="247.45" width="1.3" height="1.3" fill="#e8e8e8" stroke="#3a3a3a" stroke-width="0.3"/>
<rect x="279.50" y="249.20" width="1.3" height="1.3" fill="#e8e8e8" stroke="#3a3a3a" stroke-width="0.3"/>
<rect x="281.25" y="250.95" width="1.3" height="1.3" fill="#e8e8e8" stroke="#3a3a3a" stroke-width="0.3"/>
<rect x="283.00" y="250.11" width="1.3" height="1.3" fill="#e8e8e8" stroke="#3a3a3a" stroke-width="0.3"/>
<rect x="284.75" y="249.27" width="1.3" height="1.3" fill="#e8e8e8" stroke="#3a3a3a" stroke-width="0.3"/>
<rect x="286.50" y="251.86" width="1.3" height="1.3" fill="#e8e8e8" stroke="#3a3a3a" stroke-width="0.3"/>
<rect x="288.25" y="254.45" width="1.3" height="1.3" fill="#e8e8e8" stroke="#3a3a3a" stroke-width="0.3"/>
<rect x="290.00" y="256.20" width="1.3" height="1.3" fill="#e8e8e8" stroke="#3a3a3a" stroke-width="0.3"/>
<rect x="291.75" y="257.95" width="1.3" height="1.3" fill="#e8e8e8" stroke="#3a3a3a" stroke-width="0.3"/>
<rect x="293.85" y="258.30" width="1.3" height="1.3" fill="#e8e8e8" stroke="#3a3a3a" stroke-width="0.3"/>
<rect x="295.95" y="258.65" width="1.3" height="1.3" fill="#e8e8e8" stroke="#3a3a3a" stroke-width="0.3"/>
<rect x="297.70" y="262.85" width="1.3" height="1.3" fill="#e8e8e8" stroke="#3a3a3a" stroke-width="0.3"/>
<rect x="299.45" y="267.05" width="1.3" height="1.3" fill="#e8e8e8" stroke="#3a3a3a" stroke-width="0.3"/>
<rect x="301.20" y="269.50" width="1.3" height="1.3" fill="#e8e8e8" stroke="#3a3a3a" stroke-width="0.3"/>
<rect x="302.95" y="271.95" width="1.3" height="1.3" fill="#e8e8e8" stroke="#3a3a3a" stroke-width="0.3"/>
<rect x="304.70" y="273.70" width="1.3" height="1.3" fill="#e8e8e8" stroke="#3a3a3a" stroke-width="0.3"/>
<rect x="306.45" y="275.45" width="1.3" height="1.3" fill="#e8e8e8" stroke="#3a3a3a" stroke-width="0.3"/>
<rect x="308.20" y="275.45" width="1.3" height="1.3" fill="#e8e8e8" stroke="#3a3a3a" stroke-width="0.3"/>
<rect x="309.95" y="275.45" width="1.3" height="1.3" fill="#e8e8e8" stroke="#3a3a3a" stroke-width="0.3"/>
<rect x="311.70" y="276.15" width="1.3" height="1.3" fill="#e8e8e8" stroke="#3a3a3a" stroke-width="0.3"/>
<rect x="313.45" y="276.85" width="1.3" height="1.3" fill="#e8e8e8" stroke="#3a3a3a" stroke-width="0.3"/>
<rect x="315.20" y="278.60" width="1.3" height="1.3" fill="#e8e8e8" stroke="#3a3a3a" stroke-width="0.3"/>
<rect x="316.95" y="280.35" width="1.3" height="1.3" fill="#e8e8e8" stroke="#3a3a3a" stroke-width="0.3"/>
<rect x="319.05" y="281.05" width="1.3" height="1.3" fill="#e8e8e8" stroke="#3a3a3a" stroke-width="0.3"/>
<rect x="321.15" y="281.75" width="1.3" height="1.3" fill="#e8e8e8" stroke="#3a3a3a" stroke-width="0.3"/>
<rect x="322.90" y="280.35" width="1.3" height="1.3" fill="#e8e8e8" stroke="#3a3a3a" stroke-width="0.3"/>
<rect x="324.65" y="278.95" width="1.3" height="1.3" fill="#e8e8e8" stroke="#3a3a3a" stroke-width="0.3"/>
<rect x="326.40" y="280.91" width="1.3" height="1.3" fill="#e8e8e8" stroke="#3a3a3a" stroke-width="0.3"/>
<rect x="328.15" y="282.87" width="1.3" height="1.3" fill="#e8e8e8" stroke="#3a3a3a" stroke-width="0.3"/>
<rect x="330.11" y="282.66" width="1.3" height="1.3" fill="#e8e8e8" stroke="#3a3a3a" stroke-width="0.3"/>
<rect x="332.07" y="282.45" width="1.3" height="1.3" fill="#e8e8e8" stroke="#3a3a3a" stroke-width="0.3"/>
<polyline points="275.32,253.70 276.13,253.70 277.30,253.70 278.59,253.70 279.80,253.70 280.87,253.72 281.92,253.75 282.96,253.76 284.00,253.70 285.05,253.56 286.10,253.36 287.15,253.12 288.20,252.86 289.25,252.58 290.30,252.26 291.35,251.93 292.40,251.60 293.45,251.27 294.50,250.93 295.55,250.57 296.60,250.20 297.65,249.81 298.70,249.41 299.75,248.99 300.80,248.52 301.85,248.00 302.90,247.44 303.95,246.86 305.00,246.28 306.05,245.70 307.10,245.11 308.15,244.51 309.20,243.90 310.25,243.28 311.30,242.66 312.35,242.02 313.40,241.38 314.45,240.73 315.50,240.08 316.55,239.41 317.60,238.72 318.65,238.02 319.70,237.30 320.75,236.56 321.80,235.78 322.87,234.94 323.94,234.06 325.00,233.16 326.00,232.28 326.93,231.44 327.81,230.63 328.66,229.80 329.50,228.92 330.40,227.89 331.33,226.75 332.15,225.72 332.72,225.00" fill="none" stroke="#7fd4f2" stroke-width="0.5" stroke-linejoin="round" stroke-linecap="round" stroke-opacity="0.95"/>
<circle cx="275.32" cy="253.70" r="0.5" fill="#7fd4f2"/>
<circle cx="277.72" cy="253.70" r="0.5" fill="#7fd4f2"/>
<circle cx="280.12" cy="253.70" r="0.5" fill="#7fd4f2"/>
<circle cx="282.52" cy="253.76" r="0.5" fill="#7fd4f2"/>
<circle cx="284.92" cy="253.58" r="0.5" fill="#7fd4f2"/>
<circle cx="287.32" cy="253.08" r="0.5" fill="#7fd4f2"/>
<circle cx="289.72" cy="252.44" r="0.5" fill="#7fd4f2"/>
<circle cx="292.12" cy="251.69" r="0.5" fill="#7fd4f2"/>
<circle cx="294.52" cy="250.92" r="0.5" fill="#7fd4f2"/>
<circle cx="296.92" cy="250.08" r="0.5" fill="#7fd4f2"/>
<circle cx="299.32" cy="249.16" r="0.5" fill="#7fd4f2"/>
<circle cx="301.72" cy="248.07" r="0.5" fill="#7fd4f2"/>
<circle cx="304.12" cy="246.77" r="0.5" fill="#7fd4f2"/>
<circle cx="306.52" cy="245.43" r="0.5" fill="#7fd4f2"/>
<circle cx="308.92" cy="244.06" r="0.5" fill="#7fd4f2"/>
<circle cx="311.32" cy="242.65" r="0.5" fill="#7fd4f2"/>
<circle cx="313.72" cy="241.18" r="0.5" fill="#7fd4f2"/>
<circle cx="316.12" cy="239.68" r="0.5" fill="#7fd4f2"/>
<circle cx="318.52" cy="238.10" r="0.5" fill="#7fd4f2"/>
<circle cx="320.92" cy="236.44" r="0.5" fill="#7fd4f2"/>
<circle cx="323.32" cy="234.57" r="0.5" fill="#7fd4f2"/>
<circle cx="325.72" cy="232.53" r="0.5" fill="#7fd4f2"/>
<circle cx="328.12" cy="230.33" r="0.5" fill="#7fd4f2"/>
<circle cx="330.52" cy="227.74" r="0.5" fill="#7fd4f2"/>
<polyline points="275.32,258.32 275.86,257.69 276.64,256.77 277.53,255.82 278.40,255.10 279.25,254.65 280.12,254.35 281.02,254.17 281.90,254.12 282.77,254.21 283.65,254.44 284.52,254.75 285.40,255.10 286.27,255.48 287.15,255.92 288.02,256.41 288.90,256.92 289.76,257.44 290.61,257.99 291.48,258.59 292.40,259.30 293.40,260.14 294.46,261.09 295.53,262.09 296.60,263.08 297.65,264.05 298.70,265.03 299.75,266.02 300.80,267.00 301.85,268.00 302.90,269.01 303.95,270.00 305.00,270.92 306.05,271.76 307.10,272.53 308.15,273.27 309.20,274.00 310.25,274.75 311.30,275.49 312.35,276.19 313.40,276.80 314.45,277.31 315.50,277.75 316.55,278.13 317.60,278.48 318.65,278.83 319.70,279.14 320.75,279.41 321.80,279.60 322.87,279.69 323.94,279.69 325.00,279.65 326.00,279.60 326.93,279.57 327.81,279.53 328.66,279.46 329.50,279.32 330.40,279.07 331.33,278.74 332.15,278.42 332.72,278.20" fill="none" stroke="#1f77b4" stroke-width="0.5" stroke-linejoin="round" stroke-linecap="round" stroke-opacity="0.95"/>
<circle cx="275.32" cy="258.32" r="0.55" fill="#1f77b4"/>
<circle cx="277.72" cy="255.65" r="0.55" fill="#1f77b4"/>
<circle cx="280.12" cy="254.35" r="0.55" fill="#1f77b4"/>
<circle cx="282.52" cy="254.17" r="0.55" fill="#1f77b4"/>
<circle cx="284.92" cy="254.91" r="0.55" fill="#1f77b4"/>
<circle cx="287.32" cy="256.01" r="0.55" fill="#1f77b4"/>
<circle cx="289.72" cy="257.42" r="0.55" fill="#1f77b4"/>
<circle cx="292.12" cy="259.08" r="0.55" fill="#1f77b4"/>
<circle cx="294.52" cy="261.15" r="0.55" fill="#1f77b4"/>
<circle cx="296.92" cy="263.37" r="0.55" fill="#1f77b4"/>
<circle cx="299.32" cy="265.61" r="0.55" fill="#1f77b4"/>
<circle cx="301.72" cy="267.87" r="0.55" fill="#1f77b4"/>
<circle cx="304.12" cy="270.15" r="0.55" fill="#1f77b4"/>
<circle cx="306.52" cy="272.11" r="0.55" fill="#1f77b4"/>
<circle cx="308.92" cy="273.80" r="0.55" fill="#1f77b4"/>
<circle cx="311.32" cy="275.50" r="0.55" fill="#1f77b4"/>
<circle cx="313.72" cy="276.96" r="0.55" fill="#1f77b4"/>
<circle cx="316.12" cy="277.97" r="0.55" fill="#1f77b4"/>
<circle cx="318.52" cy="278.78" r="0.55" fill="#1f77b4"/>
<circle cx="320.92" cy="279.45" r="0.55" fill="#1f77b4"/>
<circle cx="323.32" cy="279.69" r="0.55" fill="#1f77b4"/>
<circle cx="325.72" cy="279.61" r="0.55" fill="#1f77b4"/>
<circle cx="328.12" cy="279.51" r="0.55" fill="#1f77b4"/>
<circle cx="330.52" cy="279.03" r="0.55" fill="#1f77b4"/>
<polyline points="275.32,252.30 276.13,252.29 277.30,252.27 278.59,252.27 279.80,252.30 280.87,252.40 281.92,252.55 282.96,252.68 284.00,252.72 285.05,252.64 286.10,252.49 287.15,252.28 288.20,252.02 289.25,251.69 290.30,251.29 291.35,250.87 292.40,250.48 293.45,250.13 294.50,249.81 295.55,249.47 296.60,249.08 297.65,248.64 298.70,248.15 299.75,247.64 300.80,247.12 301.85,246.58 302.90,246.03 303.95,245.46 305.00,244.88 306.05,244.30 307.10,243.71 308.15,243.11 309.20,242.50 310.25,241.88 311.30,241.26 312.35,240.62 313.40,239.98 314.45,239.33 315.50,238.67 316.55,238.00 317.60,237.32 318.65,236.64 319.70,235.95 320.75,235.25 321.80,234.52 322.87,233.75 323.94,232.95 325.00,232.13 326.00,231.30 326.93,230.45 327.81,229.59 328.66,228.71 329.50,227.80 330.40,226.76 331.33,225.62 332.15,224.59 332.72,223.88" fill="none" stroke="#ff5555" stroke-width="0.6" stroke-linejoin="round" stroke-linecap="round" stroke-opacity="0.95"/>
<circle cx="275.32" cy="252.30" r="0.45" fill="#ff5555"/>
<circle cx="277.72" cy="252.27" r="0.45" fill="#ff5555"/>
<circle cx="280.12" cy="252.32" r="0.45" fill="#ff5555"/>
<circle cx="282.52" cy="252.64" r="0.45" fill="#ff5555"/>
<circle cx="284.92" cy="252.66" r="0.45" fill="#ff5555"/>
<circle cx="287.32" cy="252.24" r="0.45" fill="#ff5555"/>
<circle cx="289.72" cy="251.52" r="0.45" fill="#ff5555"/>
<circle cx="292.12" cy="250.58" r="0.45" fill="#ff5555"/>
<circle cx="294.52" cy="249.80" r="0.45" fill="#ff5555"/>
<circle cx="296.92" cy="248.95" r="0.45" fill="#ff5555"/>
<circle cx="299.32" cy="247.85" r="0.45" fill="#ff5555"/>
<circle cx="301.72" cy="246.65" r="0.45" fill="#ff5555"/>
<circle cx="304.12" cy="245.36" r="0.45" fill="#ff5555"/>
<circle cx="306.52" cy="244.03" r="0.45" fill="#ff5555"/>
<circle cx="308.92" cy="242.66" r="0.45" fill="#ff5555"/>
<circle cx="311.32" cy="241.25" r="0.45" fill="#ff5555"/>
<circle cx="313.72" cy="239.78" r="0.45" fill="#ff5555"/>
<circle cx="316.12" cy="238.27" r="0.45" fill="#ff5555"/>
<circle cx="318.52" cy="236.72" r="0.45" fill="#ff5555"/>
<circle cx="320.92" cy="235.14" r="0.45" fill="#ff5555"/>
<circle cx="323.32" cy="233.42" r="0.45" fill="#ff5555"/>
<circle cx="325.72" cy="231.54" r="0.45" fill="#ff5555"/>
<circle cx="328.12" cy="229.28" r="0.45" fill="#ff5555"/>
<circle cx="330.52" cy="226.61" r="0.45" fill="#ff5555"/>
<polyline points="275.32,253.00 276.13,252.97 277.30,252.93 278.59,252.92 279.80,253.00 280.87,253.19 281.92,253.46 282.96,253.77 284.00,254.12 285.05,254.47 286.10,254.85 287.15,255.29 288.20,255.80 289.25,256.40 290.30,257.09 291.35,257.82 292.40,258.60 293.45,259.43 294.50,260.31 295.55,261.21 296.60,262.10 297.65,262.98 298.70,263.85 299.75,264.73 300.80,265.60 301.85,266.49 302.90,267.39 303.95,268.27 305.00,269.10 306.05,269.85 307.10,270.54 308.15,271.22 309.20,271.90 310.25,272.62 311.30,273.36 312.35,274.07 313.40,274.70 314.45,275.24 315.50,275.72 316.55,276.15 317.60,276.52 318.65,276.84 319.70,277.10 320.75,277.31 321.80,277.50 322.87,277.66 323.94,277.80 325.00,277.89 326.00,277.92 326.93,277.88 327.81,277.78 328.66,277.64 329.50,277.50 330.40,277.33 331.33,277.12 332.15,276.93 332.72,276.80" fill="none" stroke="#9a0000" stroke-width="0.6" stroke-linejoin="round" stroke-linecap="round" stroke-opacity="0.95"/>
<circle cx="275.32" cy="253.00" r="0.64" fill="#9a0000"/>
<circle cx="277.72" cy="252.92" r="0.64" fill="#9a0000"/>
<circle cx="280.12" cy="253.05" r="0.64" fill="#9a0000"/>
<circle cx="282.52" cy="253.64" r="0.64" fill="#9a0000"/>
<circle cx="284.92" cy="254.43" r="0.64" fill="#9a0000"/>
<circle cx="287.32" cy="255.37" r="0.64" fill="#9a0000"/>
<circle cx="289.72" cy="256.70" r="0.64" fill="#9a0000"/>
<circle cx="292.12" cy="258.39" r="0.64" fill="#9a0000"/>
<circle cx="294.52" cy="260.32" r="0.64" fill="#9a0000"/>
<circle cx="296.92" cy="262.37" r="0.64" fill="#9a0000"/>
<circle cx="299.32" cy="264.37" r="0.64" fill="#9a0000"/>
<circle cx="301.72" cy="266.38" r="0.64" fill="#9a0000"/>
<circle cx="304.12" cy="268.41" r="0.64" fill="#9a0000"/>
<circle cx="306.52" cy="270.16" r="0.64" fill="#9a0000"/>
<circle cx="308.92" cy="271.72" r="0.64" fill="#9a0000"/>
<circle cx="311.32" cy="273.37" r="0.64" fill="#9a0000"/>
<circle cx="313.72" cy="274.87" r="0.64" fill="#9a0000"/>
<circle cx="316.12" cy="275.98" r="0.64" fill="#9a0000"/>
<circle cx="318.52" cy="276.80" r="0.64" fill="#9a0000"/>
<circle cx="320.92" cy="277.35" r="0.64" fill="#9a0000"/>
<circle cx="323.32" cy="277.72" r="0.64" fill="#9a0000"/>
<circle cx="325.72" cy="277.92" r="0.64" fill="#9a0000"/>
<circle cx="328.12" cy="277.73" r="0.64" fill="#9a0000"/>
<circle cx="330.52" cy="277.30" r="0.64" fill="#9a0000"/>
<rect x="272.50" y="220.90" width="63.30" height="66.00" fill="none" stroke="#3c3c3c" stroke-width="0.65" rx="0"/>
<text x="258.30" y="253.90" font-size="5.6" text-anchor="middle" font-family="Liberation Serif" font-weight="normal" fill="#000" transform="rotate(-90 258.30 253.90)">Velocity (km/s)</text>
<line x1="360.72" y1="220.90" x2="360.72" y2="286.90" stroke="#c8c8c8" stroke-width="0.42" stroke-dasharray="0.9 0.9"/>
<line x1="360.72" y1="286.90" x2="360.72" y2="288.50" stroke="#222" stroke-width="0.45"/>
<line x1="383.68" y1="220.90" x2="383.68" y2="286.90" stroke="#c8c8c8" stroke-width="0.42" stroke-dasharray="0.9 0.9"/>
<line x1="383.68" y1="286.90" x2="383.68" y2="288.50" stroke="#222" stroke-width="0.45"/>
<line x1="342.50" y1="227.52" x2="405.80" y2="227.52" stroke="#c8c8c8" stroke-width="0.42" stroke-dasharray="0.9 0.9"/>
<line x1="340.90" y1="227.52" x2="342.50" y2="227.52" stroke="#222" stroke-width="0.45"/>
<line x1="342.50" y1="249.08" x2="405.80" y2="249.08" stroke="#c8c8c8" stroke-width="0.42" stroke-dasharray="0.9 0.9"/>
<line x1="340.90" y1="249.08" x2="342.50" y2="249.08" stroke="#222" stroke-width="0.45"/>
<line x1="342.50" y1="270.50" x2="405.80" y2="270.50" stroke="#c8c8c8" stroke-width="0.42" stroke-dasharray="0.9 0.9"/>
<line x1="340.90" y1="270.50" x2="342.50" y2="270.50" stroke="#222" stroke-width="0.45"/>
<polyline points="344.90,264.20 346.30,257.90 348.40,255.52 351.20,255.52 355.40,252.30 359.60,247.40 363.10,241.10 365.90,236.90 368.70,234.10 371.50,232.00 375.00,231.30 379.20,229.90 383.40,228.08 387.60,227.10 391.80,226.40 396.00,226.12 399.50,225.70 403.00,226.12" fill="none" stroke="#000000" stroke-width="0.45" stroke-linejoin="miter" stroke-linecap="round" stroke-opacity="0.9"/>
<circle cx="344.90" cy="264.20" r="0.78" fill="#000000"/>
<circle cx="346.30" cy="257.90" r="0.78" fill="#000000"/>
<circle cx="348.40" cy="255.52" r="0.78" fill="#000000"/>
<circle cx="351.20" cy="255.52" r="0.78" fill="#000000"/>
<circle cx="353.30" cy="253.91" r="0.78" fill="#000000"/>
<circle cx="355.40" cy="252.30" r="0.78" fill="#000000"/>
<circle cx="357.50" cy="249.85" r="0.78" fill="#000000"/>
<circle cx="359.60" cy="247.40" r="0.78" fill="#000000"/>
<circle cx="361.35" cy="244.25" r="0.78" fill="#000000"/>
<circle cx="363.10" cy="241.10" r="0.78" fill="#000000"/>
<circle cx="365.90" cy="236.90" r="0.78" fill="#000000"/>
<circle cx="368.70" cy="234.10" r="0.78" fill="#000000"/>
<circle cx="371.50" cy="232.00" r="0.78" fill="#000000"/>
<circle cx="373.25" cy="231.65" r="0.78" fill="#000000"/>
<circle cx="375.00" cy="231.30" r="0.78" fill="#000000"/>
<circle cx="377.10" cy="230.60" r="0.78" fill="#000000"/>
<circle cx="379.20" cy="229.90" r="0.78" fill="#000000"/>
<circle cx="381.30" cy="228.99" r="0.78" fill="#000000"/>
<circle cx="383.40" cy="228.08" r="0.78" fill="#000000"/>
<circle cx="385.50" cy="227.59" r="0.78" fill="#000000"/>
<circle cx="387.60" cy="227.10" r="0.78" fill="#000000"/>
<circle cx="389.70" cy="226.75" r="0.78" fill="#000000"/>
<circle cx="391.80" cy="226.40" r="0.78" fill="#000000"/>
<circle cx="393.90" cy="226.26" r="0.78" fill="#000000"/>
<circle cx="396.00" cy="226.12" r="0.78" fill="#000000"/>
<circle cx="397.75" cy="225.91" r="0.78" fill="#000000"/>
<circle cx="399.50" cy="225.70" r="0.78" fill="#000000"/>
<circle cx="401.25" cy="225.91" r="0.78" fill="#000000"/>
<circle cx="403.00" cy="226.12" r="0.78" fill="#000000"/>
<polyline points="344.90,279.60 346.30,271.20 348.40,264.20 350.50,262.52 352.60,266.30 354.70,270.50 357.50,273.30 360.30,271.90 363.10,271.20 365.90,269.10 368.70,264.20 371.50,262.80 373.60,257.90 376.40,250.90 379.20,247.40 382.00,242.50 384.80,237.60 388.30,234.10 391.80,232.00 395.30,230.88 398.80,229.90 403.00,230.32" fill="none" stroke="#3a3a3a" stroke-width="0.4" stroke-linejoin="miter" stroke-linecap="round" stroke-opacity="0.8"/>
<rect x="344.25" y="278.95" width="1.3" height="1.3" fill="#e8e8e8" stroke="#3a3a3a" stroke-width="0.3"/>
<rect x="345.65" y="270.55" width="1.3" height="1.3" fill="#e8e8e8" stroke="#3a3a3a" stroke-width="0.3"/>
<rect x="347.75" y="263.55" width="1.3" height="1.3" fill="#e8e8e8" stroke="#3a3a3a" stroke-width="0.3"/>
<rect x="349.85" y="261.87" width="1.3" height="1.3" fill="#e8e8e8" stroke="#3a3a3a" stroke-width="0.3"/>
<rect x="351.95" y="265.65" width="1.3" height="1.3" fill="#e8e8e8" stroke="#3a3a3a" stroke-width="0.3"/>
<rect x="354.05" y="269.85" width="1.3" height="1.3" fill="#e8e8e8" stroke="#3a3a3a" stroke-width="0.3"/>
<rect x="356.85" y="272.65" width="1.3" height="1.3" fill="#e8e8e8" stroke="#3a3a3a" stroke-width="0.3"/>
<rect x="359.65" y="271.25" width="1.3" height="1.3" fill="#e8e8e8" stroke="#3a3a3a" stroke-width="0.3"/>
<rect x="362.45" y="270.55" width="1.3" height="1.3" fill="#e8e8e8" stroke="#3a3a3a" stroke-width="0.3"/>
<rect x="365.25" y="268.45" width="1.3" height="1.3" fill="#e8e8e8" stroke="#3a3a3a" stroke-width="0.3"/>
<rect x="368.05" y="263.55" width="1.3" height="1.3" fill="#e8e8e8" stroke="#3a3a3a" stroke-width="0.3"/>
<rect x="370.85" y="262.15" width="1.3" height="1.3" fill="#e8e8e8" stroke="#3a3a3a" stroke-width="0.3"/>
<rect x="372.95" y="257.25" width="1.3" height="1.3" fill="#e8e8e8" stroke="#3a3a3a" stroke-width="0.3"/>
<rect x="375.75" y="250.25" width="1.3" height="1.3" fill="#e8e8e8" stroke="#3a3a3a" stroke-width="0.3"/>
<rect x="378.55" y="246.75" width="1.3" height="1.3" fill="#e8e8e8" stroke="#3a3a3a" stroke-width="0.3"/>
<rect x="381.35" y="241.85" width="1.3" height="1.3" fill="#e8e8e8" stroke="#3a3a3a" stroke-width="0.3"/>
<rect x="384.15" y="236.95" width="1.3" height="1.3" fill="#e8e8e8" stroke="#3a3a3a" stroke-width="0.3"/>
<rect x="385.90" y="235.20" width="1.3" height="1.3" fill="#e8e8e8" stroke="#3a3a3a" stroke-width="0.3"/>
<rect x="387.65" y="233.45" width="1.3" height="1.3" fill="#e8e8e8" stroke="#3a3a3a" stroke-width="0.3"/>
<rect x="389.40" y="232.40" width="1.3" height="1.3" fill="#e8e8e8" stroke="#3a3a3a" stroke-width="0.3"/>
<rect x="391.15" y="231.35" width="1.3" height="1.3" fill="#e8e8e8" stroke="#3a3a3a" stroke-width="0.3"/>
<rect x="392.90" y="230.79" width="1.3" height="1.3" fill="#e8e8e8" stroke="#3a3a3a" stroke-width="0.3"/>
<rect x="394.65" y="230.23" width="1.3" height="1.3" fill="#e8e8e8" stroke="#3a3a3a" stroke-width="0.3"/>
<rect x="396.40" y="229.74" width="1.3" height="1.3" fill="#e8e8e8" stroke="#3a3a3a" stroke-width="0.3"/>
<rect x="398.15" y="229.25" width="1.3" height="1.3" fill="#e8e8e8" stroke="#3a3a3a" stroke-width="0.3"/>
<rect x="400.25" y="229.46" width="1.3" height="1.3" fill="#e8e8e8" stroke="#3a3a3a" stroke-width="0.3"/>
<rect x="402.35" y="229.67" width="1.3" height="1.3" fill="#e8e8e8" stroke="#3a3a3a" stroke-width="0.3"/>
<polyline points="344.90,267.00 345.51,265.84 346.39,264.16 347.39,262.32 348.40,260.70 349.40,259.36 350.46,258.12 351.53,256.94 352.60,255.80 353.65,254.72 354.70,253.70 355.75,252.68 356.80,251.60 357.85,250.42 358.90,249.19 359.95,247.94 361.00,246.70 362.05,245.46 363.10,244.21 364.15,242.98 365.20,241.80 366.25,240.67 367.30,239.59 368.35,238.55 369.40,237.60 370.45,236.74 371.50,235.96 372.55,235.22 373.60,234.52 374.65,233.84 375.70,233.20 376.75,232.59 377.80,232.00 378.85,231.43 379.90,230.88 380.95,230.37 382.00,229.90 383.05,229.50 384.10,229.16 385.15,228.83 386.20,228.50 387.25,228.14 388.30,227.77 389.35,227.42 390.40,227.10 391.45,226.82 392.50,226.57 393.55,226.35 394.60,226.12 395.65,225.89 396.70,225.67 397.75,225.47 398.80,225.28 399.95,225.11 401.16,224.95 402.25,224.81 403.00,224.72" fill="none" stroke="#7fd4f2" stroke-width="0.5" stroke-linejoin="round" stroke-linecap="round" stroke-opacity="0.95"/>
<circle cx="344.90" cy="267.00" r="0.5" fill="#7fd4f2"/>
<circle cx="347.30" cy="262.49" r="0.5" fill="#7fd4f2"/>
<circle cx="349.70" cy="259.00" r="0.5" fill="#7fd4f2"/>
<circle cx="352.10" cy="256.34" r="0.5" fill="#7fd4f2"/>
<circle cx="354.50" cy="253.89" r="0.5" fill="#7fd4f2"/>
<circle cx="356.90" cy="251.49" r="0.5" fill="#7fd4f2"/>
<circle cx="359.30" cy="248.72" r="0.5" fill="#7fd4f2"/>
<circle cx="361.70" cy="245.87" r="0.5" fill="#7fd4f2"/>
<circle cx="364.10" cy="243.03" r="0.5" fill="#7fd4f2"/>
<circle cx="366.50" cy="240.41" r="0.5" fill="#7fd4f2"/>
<circle cx="368.90" cy="238.04" r="0.5" fill="#7fd4f2"/>
<circle cx="371.30" cy="236.10" r="0.5" fill="#7fd4f2"/>
<circle cx="373.70" cy="234.45" r="0.5" fill="#7fd4f2"/>
<circle cx="376.10" cy="232.96" r="0.5" fill="#7fd4f2"/>
<circle cx="378.50" cy="231.62" r="0.5" fill="#7fd4f2"/>
<circle cx="380.90" cy="230.39" r="0.5" fill="#7fd4f2"/>
<circle cx="383.30" cy="229.42" r="0.5" fill="#7fd4f2"/>
<circle cx="385.70" cy="228.66" r="0.5" fill="#7fd4f2"/>
<circle cx="388.10" cy="227.84" r="0.5" fill="#7fd4f2"/>
<circle cx="390.50" cy="227.07" r="0.5" fill="#7fd4f2"/>
<circle cx="392.90" cy="226.49" r="0.5" fill="#7fd4f2"/>
<circle cx="395.30" cy="225.97" r="0.5" fill="#7fd4f2"/>
<circle cx="397.70" cy="225.48" r="0.5" fill="#7fd4f2"/>
<circle cx="400.10" cy="225.09" r="0.5" fill="#7fd4f2"/>
<circle cx="402.50" cy="224.78" r="0.5" fill="#7fd4f2"/>
<polyline points="344.90,283.52 345.14,282.27 345.47,280.47 345.87,278.51 346.30,276.80 346.76,275.39 347.26,274.08 347.81,272.91 348.40,271.90 349.05,271.07 349.76,270.39 350.48,269.87 351.20,269.52 351.88,269.38 352.56,269.42 353.25,269.59 354.00,269.80 354.83,270.11 355.71,270.54 356.61,270.94 357.50,271.20 358.36,271.31 359.21,271.32 360.08,271.21 361.00,270.92 362.02,270.42 363.10,269.75 364.18,268.96 365.20,268.12 366.12,267.24 366.99,266.29 367.84,265.28 368.70,264.20 369.57,263.05 370.45,261.83 371.32,260.57 372.20,259.30 373.07,258.01 373.95,256.69 374.82,255.38 375.70,254.12 376.57,252.91 377.45,251.72 378.32,250.58 379.20,249.50 380.07,248.48 380.95,247.52 381.82,246.61 382.70,245.72 383.56,244.87 384.41,244.05 385.28,243.26 386.20,242.50 387.20,241.75 388.26,241.03 389.33,240.34 390.40,239.70 391.45,239.12 392.50,238.58 393.55,238.08 394.60,237.60 395.65,237.14 396.70,236.72 397.75,236.31 398.80,235.92 399.95,235.52 401.16,235.11 402.25,234.77 403.00,234.52" fill="none" stroke="#1f77b4" stroke-width="0.5" stroke-linejoin="round" stroke-linecap="round" stroke-opacity="0.95"/>
<circle cx="344.90" cy="283.52" r="0.55" fill="#1f77b4"/>
<circle cx="347.30" cy="273.99" r="0.55" fill="#1f77b4"/>
<circle cx="349.70" cy="270.44" r="0.55" fill="#1f77b4"/>
<circle cx="352.10" cy="269.38" r="0.55" fill="#1f77b4"/>
<circle cx="354.50" cy="269.97" r="0.55" fill="#1f77b4"/>
<circle cx="356.90" cy="271.04" r="0.55" fill="#1f77b4"/>
<circle cx="359.30" cy="271.31" r="0.55" fill="#1f77b4"/>
<circle cx="361.70" cy="270.59" r="0.55" fill="#1f77b4"/>
<circle cx="364.10" cy="269.02" r="0.55" fill="#1f77b4"/>
<circle cx="366.50" cy="266.84" r="0.55" fill="#1f77b4"/>
<circle cx="368.90" cy="263.94" r="0.55" fill="#1f77b4"/>
<circle cx="371.30" cy="260.60" r="0.55" fill="#1f77b4"/>
<circle cx="373.70" cy="257.07" r="0.55" fill="#1f77b4"/>
<circle cx="376.10" cy="253.56" r="0.55" fill="#1f77b4"/>
<circle cx="378.50" cy="250.36" r="0.55" fill="#1f77b4"/>
<circle cx="380.90" cy="247.58" r="0.55" fill="#1f77b4"/>
<circle cx="383.30" cy="245.12" r="0.55" fill="#1f77b4"/>
<circle cx="385.70" cy="242.90" r="0.55" fill="#1f77b4"/>
<circle cx="388.10" cy="241.14" r="0.55" fill="#1f77b4"/>
<circle cx="390.50" cy="239.64" r="0.55" fill="#1f77b4"/>
<circle cx="392.90" cy="238.39" r="0.55" fill="#1f77b4"/>
<circle cx="395.30" cy="237.29" r="0.55" fill="#1f77b4"/>
<circle cx="397.70" cy="236.33" r="0.55" fill="#1f77b4"/>
<circle cx="400.10" cy="235.47" r="0.55" fill="#1f77b4"/>
<circle cx="402.50" cy="234.68" r="0.55" fill="#1f77b4"/>
<polyline points="344.90,263.50 345.39,262.73 346.08,261.62 346.89,260.40 347.70,259.30 348.51,258.38 349.36,257.51 350.26,256.66 351.20,255.80 352.20,254.96 353.26,254.14 354.33,253.27 355.40,252.30 356.45,251.19 357.50,249.98 358.55,248.71 359.60,247.40 360.65,246.02 361.70,244.57 362.75,243.14 363.80,241.80 364.85,240.57 365.90,239.41 366.95,238.33 368.00,237.32 369.05,236.42 370.10,235.61 371.15,234.85 372.20,234.10 373.25,233.35 374.30,232.63 375.35,231.94 376.40,231.30 377.45,230.72 378.50,230.18 379.55,229.68 380.60,229.20 381.65,228.74 382.70,228.32 383.75,227.91 384.80,227.52 385.85,227.14 386.90,226.78 387.95,226.44 389.00,226.12 390.03,225.81 391.06,225.53 392.10,225.25 393.20,225.00 394.38,224.77 395.61,224.56 396.86,224.36 398.10,224.16 399.44,223.93 400.86,223.69 402.12,223.47 403.00,223.32" fill="none" stroke="#ff5555" stroke-width="0.6" stroke-linejoin="round" stroke-linecap="round" stroke-opacity="0.95"/>
<circle cx="344.90" cy="263.50" r="0.45" fill="#ff5555"/>
<circle cx="347.30" cy="259.82" r="0.45" fill="#ff5555"/>
<circle cx="349.70" cy="257.18" r="0.45" fill="#ff5555"/>
<circle cx="352.10" cy="255.04" r="0.45" fill="#ff5555"/>
<circle cx="354.50" cy="253.13" r="0.45" fill="#ff5555"/>
<circle cx="356.90" cy="250.68" r="0.45" fill="#ff5555"/>
<circle cx="359.30" cy="247.77" r="0.45" fill="#ff5555"/>
<circle cx="361.70" cy="244.57" r="0.45" fill="#ff5555"/>
<circle cx="364.10" cy="241.44" r="0.45" fill="#ff5555"/>
<circle cx="366.50" cy="238.78" r="0.45" fill="#ff5555"/>
<circle cx="368.90" cy="236.54" r="0.45" fill="#ff5555"/>
<circle cx="371.30" cy="234.74" r="0.45" fill="#ff5555"/>
<circle cx="373.70" cy="233.04" r="0.45" fill="#ff5555"/>
<circle cx="376.10" cy="231.48" r="0.45" fill="#ff5555"/>
<circle cx="378.50" cy="230.18" r="0.45" fill="#ff5555"/>
<circle cx="380.90" cy="229.07" r="0.45" fill="#ff5555"/>
<circle cx="383.30" cy="228.08" r="0.45" fill="#ff5555"/>
<circle cx="385.70" cy="227.20" r="0.45" fill="#ff5555"/>
<circle cx="388.10" cy="226.40" r="0.45" fill="#ff5555"/>
<circle cx="390.50" cy="225.68" r="0.45" fill="#ff5555"/>
<circle cx="392.90" cy="225.07" r="0.45" fill="#ff5555"/>
<circle cx="395.30" cy="224.61" r="0.45" fill="#ff5555"/>
<circle cx="397.70" cy="224.23" r="0.45" fill="#ff5555"/>
<circle cx="400.10" cy="223.82" r="0.45" fill="#ff5555"/>
<circle cx="402.50" cy="223.41" r="0.45" fill="#ff5555"/>
<polyline points="344.90,274.00 345.26,273.33 345.77,272.36 346.38,271.34 347.00,270.50 347.63,269.90 348.31,269.41 349.03,269.01 349.80,268.68 350.63,268.43 351.51,268.25 352.41,268.15 353.30,268.12 354.16,268.19 355.01,268.37 355.88,268.55 356.80,268.68 357.80,268.76 358.86,268.82 359.93,268.81 361.00,268.68 362.07,268.42 363.14,268.06 364.20,267.59 365.20,267.00 366.12,266.30 366.99,265.50 367.84,264.57 368.70,263.50 369.57,262.25 370.45,260.83 371.32,259.35 372.20,257.90 373.07,256.48 373.95,255.04 374.82,253.63 375.70,252.30 376.57,251.07 377.45,249.90 378.32,248.78 379.20,247.68 380.07,246.59 380.95,245.53 381.82,244.49 382.70,243.48 383.56,242.48 384.41,241.50 385.28,240.57 386.20,239.70 387.20,238.92 388.26,238.21 389.33,237.55 390.40,236.90 391.45,236.26 392.50,235.65 393.55,235.07 394.60,234.52 395.65,234.02 396.70,233.55 397.75,233.11 398.80,232.70 399.95,232.29 401.16,231.89 402.25,231.54 403.00,231.30" fill="none" stroke="#9a0000" stroke-width="0.6" stroke-linejoin="round" stroke-linecap="round" stroke-opacity="0.95"/>
<circle cx="344.90" cy="274.00" r="0.64" fill="#9a0000"/>
<circle cx="347.30" cy="270.20" r="0.64" fill="#9a0000"/>
<circle cx="349.70" cy="268.72" r="0.64" fill="#9a0000"/>
<circle cx="352.10" cy="268.18" r="0.64" fill="#9a0000"/>
<circle cx="354.50" cy="268.26" r="0.64" fill="#9a0000"/>
<circle cx="356.90" cy="268.69" r="0.64" fill="#9a0000"/>
<circle cx="359.30" cy="268.83" r="0.64" fill="#9a0000"/>
<circle cx="361.70" cy="268.52" r="0.64" fill="#9a0000"/>
<circle cx="364.10" cy="267.63" r="0.64" fill="#9a0000"/>
<circle cx="366.50" cy="265.97" r="0.64" fill="#9a0000"/>
<circle cx="368.90" cy="263.23" r="0.64" fill="#9a0000"/>
<circle cx="371.30" cy="259.39" r="0.64" fill="#9a0000"/>
<circle cx="373.70" cy="255.45" r="0.64" fill="#9a0000"/>
<circle cx="376.10" cy="251.73" r="0.64" fill="#9a0000"/>
<circle cx="378.50" cy="248.56" r="0.64" fill="#9a0000"/>
<circle cx="380.90" cy="245.59" r="0.64" fill="#9a0000"/>
<circle cx="383.30" cy="242.79" r="0.64" fill="#9a0000"/>
<circle cx="385.70" cy="240.15" r="0.64" fill="#9a0000"/>
<circle cx="388.10" cy="238.31" r="0.64" fill="#9a0000"/>
<circle cx="390.50" cy="236.84" r="0.64" fill="#9a0000"/>
<circle cx="392.90" cy="235.42" r="0.64" fill="#9a0000"/>
<circle cx="395.30" cy="234.18" r="0.64" fill="#9a0000"/>
<circle cx="397.70" cy="233.13" r="0.64" fill="#9a0000"/>
<circle cx="400.10" cy="232.24" r="0.64" fill="#9a0000"/>
<circle cx="402.50" cy="231.46" r="0.64" fill="#9a0000"/>
<rect x="342.50" y="220.90" width="63.30" height="66.00" fill="none" stroke="#3c3c3c" stroke-width="0.65" rx="0"/>
<line x1="431.70" y1="220.90" x2="431.70" y2="286.90" stroke="#c8c8c8" stroke-width="0.42" stroke-dasharray="0.9 0.9"/>
<line x1="431.70" y1="286.90" x2="431.70" y2="288.50" stroke="#222" stroke-width="0.45"/>
<line x1="460.40" y1="220.90" x2="460.40" y2="286.90" stroke="#c8c8c8" stroke-width="0.42" stroke-dasharray="0.9 0.9"/>
<line x1="460.40" y1="286.90" x2="460.40" y2="288.50" stroke="#222" stroke-width="0.45"/>
<line x1="412.20" y1="240.12" x2="475.50" y2="240.12" stroke="#c8c8c8" stroke-width="0.42" stroke-dasharray="0.9 0.9"/>
<line x1="410.60" y1="240.12" x2="412.20" y2="240.12" stroke="#222" stroke-width="0.45"/>
<line x1="412.20" y1="263.08" x2="475.50" y2="263.08" stroke="#c8c8c8" stroke-width="0.42" stroke-dasharray="0.9 0.9"/>
<line x1="410.60" y1="263.08" x2="412.20" y2="263.08" stroke="#222" stroke-width="0.45"/>
<line x1="412.20" y1="285.90" x2="475.50" y2="285.90" stroke="#c8c8c8" stroke-width="0.42" stroke-dasharray="0.9 0.9"/>
<line x1="410.60" y1="285.90" x2="412.20" y2="285.90" stroke="#222" stroke-width="0.45"/>
<polyline points="414.20,262.80 417.70,260.00 420.50,254.40 425.40,250.90 429.60,242.92 433.80,236.20 437.30,232.00 440.10,230.32 442.90,228.50 446.40,227.52 449.20,227.10 452.00,227.80 454.80,226.68 459.00,225.70 463.20,225.00 468.10,224.44 472.72,223.88" fill="none" stroke="#000000" stroke-width="0.45" stroke-linejoin="miter" stroke-linecap="round" stroke-opacity="0.9"/>
<circle cx="414.20" cy="262.80" r="0.78" fill="#000000"/>
<circle cx="415.95" cy="261.40" r="0.78" fill="#000000"/>
<circle cx="417.70" cy="260.00" r="0.78" fill="#000000"/>
<circle cx="420.50" cy="254.40" r="0.78" fill="#000000"/>
<circle cx="422.95" cy="252.65" r="0.78" fill="#000000"/>
<circle cx="425.40" cy="250.90" r="0.78" fill="#000000"/>
<circle cx="427.50" cy="246.91" r="0.78" fill="#000000"/>
<circle cx="429.60" cy="242.92" r="0.78" fill="#000000"/>
<circle cx="431.70" cy="239.56" r="0.78" fill="#000000"/>
<circle cx="433.80" cy="236.20" r="0.78" fill="#000000"/>
<circle cx="435.55" cy="234.10" r="0.78" fill="#000000"/>
<circle cx="437.30" cy="232.00" r="0.78" fill="#000000"/>
<circle cx="440.10" cy="230.32" r="0.78" fill="#000000"/>
<circle cx="442.90" cy="228.50" r="0.78" fill="#000000"/>
<circle cx="444.65" cy="228.01" r="0.78" fill="#000000"/>
<circle cx="446.40" cy="227.52" r="0.78" fill="#000000"/>
<circle cx="449.20" cy="227.10" r="0.78" fill="#000000"/>
<circle cx="452.00" cy="227.80" r="0.78" fill="#000000"/>
<circle cx="454.80" cy="226.68" r="0.78" fill="#000000"/>
<circle cx="456.90" cy="226.19" r="0.78" fill="#000000"/>
<circle cx="459.00" cy="225.70" r="0.78" fill="#000000"/>
<circle cx="461.10" cy="225.35" r="0.78" fill="#000000"/>
<circle cx="463.20" cy="225.00" r="0.78" fill="#000000"/>
<circle cx="465.65" cy="224.72" r="0.78" fill="#000000"/>
<circle cx="468.10" cy="224.44" r="0.78" fill="#000000"/>
<circle cx="470.41" cy="224.16" r="0.78" fill="#000000"/>
<circle cx="472.72" cy="223.88" r="0.78" fill="#000000"/>
<polyline points="414.20,274.70 415.60,279.60 417.70,281.00 419.80,274.00 421.90,274.28 424.00,276.80 426.10,279.60 428.90,278.20 431.70,269.80 434.50,264.20 437.30,257.20 440.10,250.20 443.60,246.70 446.40,243.90 449.20,241.10 452.00,243.20 454.80,243.48 457.60,239.00 459.70,234.80 460.68,230.60 461.80,234.52 465.30,233.12 468.80,232.00 472.72,231.72" fill="none" stroke="#3a3a3a" stroke-width="0.4" stroke-linejoin="miter" stroke-linecap="round" stroke-opacity="0.8"/>
<rect x="413.55" y="274.05" width="1.3" height="1.3" fill="#e8e8e8" stroke="#3a3a3a" stroke-width="0.3"/>
<rect x="414.95" y="278.95" width="1.3" height="1.3" fill="#e8e8e8" stroke="#3a3a3a" stroke-width="0.3"/>
<rect x="417.05" y="280.35" width="1.3" height="1.3" fill="#e8e8e8" stroke="#3a3a3a" stroke-width="0.3"/>
<rect x="419.15" y="273.35" width="1.3" height="1.3" fill="#e8e8e8" stroke="#3a3a3a" stroke-width="0.3"/>
<rect x="421.25" y="273.63" width="1.3" height="1.3" fill="#e8e8e8" stroke="#3a3a3a" stroke-width="0.3"/>
<rect x="423.35" y="276.15" width="1.3" height="1.3" fill="#e8e8e8" stroke="#3a3a3a" stroke-width="0.3"/>
<rect x="425.45" y="278.95" width="1.3" height="1.3" fill="#e8e8e8" stroke="#3a3a3a" stroke-width="0.3"/>
<rect x="428.25" y="277.55" width="1.3" height="1.3" fill="#e8e8e8" stroke="#3a3a3a" stroke-width="0.3"/>
<rect x="431.05" y="269.15" width="1.3" height="1.3" fill="#e8e8e8" stroke="#3a3a3a" stroke-width="0.3"/>
<rect x="433.85" y="263.55" width="1.3" height="1.3" fill="#e8e8e8" stroke="#3a3a3a" stroke-width="0.3"/>
<rect x="436.65" y="256.55" width="1.3" height="1.3" fill="#e8e8e8" stroke="#3a3a3a" stroke-width="0.3"/>
<rect x="439.45" y="249.55" width="1.3" height="1.3" fill="#e8e8e8" stroke="#3a3a3a" stroke-width="0.3"/>
<rect x="441.20" y="247.80" width="1.3" height="1.3" fill="#e8e8e8" stroke="#3a3a3a" stroke-width="0.3"/>
<rect x="442.95" y="246.05" width="1.3" height="1.3" fill="#e8e8e8" stroke="#3a3a3a" stroke-width="0.3"/>
<rect x="445.75" y="243.25" width="1.3" height="1.3" fill="#e8e8e8" stroke="#3a3a3a" stroke-width="0.3"/>
<rect x="448.55" y="240.45" width="1.3" height="1.3" fill="#e8e8e8" stroke="#3a3a3a" stroke-width="0.3"/>
<rect x="451.35" y="242.55" width="1.3" height="1.3" fill="#e8e8e8" stroke="#3a3a3a" stroke-width="0.3"/>
<rect x="454.15" y="242.83" width="1.3" height="1.3" fill="#e8e8e8" stroke="#3a3a3a" stroke-width="0.3"/>
<rect x="456.95" y="238.35" width="1.3" height="1.3" fill="#e8e8e8" stroke="#3a3a3a" stroke-width="0.3"/>
<rect x="459.05" y="234.15" width="1.3" height="1.3" fill="#e8e8e8" stroke="#3a3a3a" stroke-width="0.3"/>
<rect x="460.03" y="229.95" width="1.3" height="1.3" fill="#e8e8e8" stroke="#3a3a3a" stroke-width="0.3"/>
<rect x="461.15" y="233.87" width="1.3" height="1.3" fill="#e8e8e8" stroke="#3a3a3a" stroke-width="0.3"/>
<rect x="462.90" y="233.17" width="1.3" height="1.3" fill="#e8e8e8" stroke="#3a3a3a" stroke-width="0.3"/>
<rect x="464.65" y="232.47" width="1.3" height="1.3" fill="#e8e8e8" stroke="#3a3a3a" stroke-width="0.3"/>
<rect x="466.40" y="231.91" width="1.3" height="1.3" fill="#e8e8e8" stroke="#3a3a3a" stroke-width="0.3"/>
<rect x="468.15" y="231.35" width="1.3" height="1.3" fill="#e8e8e8" stroke="#3a3a3a" stroke-width="0.3"/>
<rect x="470.11" y="231.21" width="1.3" height="1.3" fill="#e8e8e8" stroke="#3a3a3a" stroke-width="0.3"/>
<rect x="472.07" y="231.07" width="1.3" height="1.3" fill="#e8e8e8" stroke="#3a3a3a" stroke-width="0.3"/>
<polyline points="414.20,268.40 414.83,267.39 415.73,265.95 416.74,264.33 417.70,262.80 418.56,261.40 419.41,260.00 420.28,258.60 421.20,257.20 422.20,255.83 423.26,254.47 424.33,253.08 425.40,251.60 426.45,250.00 427.50,248.30 428.55,246.58 429.60,244.88 430.65,243.18 431.70,241.46 432.75,239.80 433.80,238.30 434.85,236.97 435.90,235.77 436.95,234.68 438.00,233.68 439.05,232.78 440.10,231.97 441.15,231.26 442.20,230.60 443.25,230.00 444.30,229.47 445.35,229.02 446.40,228.64 447.45,228.38 448.50,228.22 449.55,228.10 450.60,227.94 451.65,227.74 452.70,227.54 453.75,227.32 454.80,227.10 455.85,226.86 456.90,226.60 457.95,226.35 459.00,226.12 460.03,225.92 461.06,225.74 462.10,225.58 463.20,225.42 464.38,225.27 465.62,225.13 466.88,225.00 468.10,224.86 469.38,224.71 470.72,224.54 471.90,224.40 472.72,224.30" fill="none" stroke="#7fd4f2" stroke-width="0.5" stroke-linejoin="round" stroke-linecap="round" stroke-opacity="0.95"/>
<circle cx="414.20" cy="268.40" r="0.5" fill="#7fd4f2"/>
<circle cx="416.60" cy="264.56" r="0.5" fill="#7fd4f2"/>
<circle cx="419.00" cy="260.67" r="0.5" fill="#7fd4f2"/>
<circle cx="421.40" cy="256.92" r="0.5" fill="#7fd4f2"/>
<circle cx="423.80" cy="253.77" r="0.5" fill="#7fd4f2"/>
<circle cx="426.20" cy="250.38" r="0.5" fill="#7fd4f2"/>
<circle cx="428.60" cy="246.49" r="0.5" fill="#7fd4f2"/>
<circle cx="431.00" cy="242.60" r="0.5" fill="#7fd4f2"/>
<circle cx="433.40" cy="238.85" r="0.5" fill="#7fd4f2"/>
<circle cx="435.80" cy="235.88" r="0.5" fill="#7fd4f2"/>
<circle cx="438.20" cy="233.50" r="0.5" fill="#7fd4f2"/>
<circle cx="440.60" cy="231.62" r="0.5" fill="#7fd4f2"/>
<circle cx="443.00" cy="230.14" r="0.5" fill="#7fd4f2"/>
<circle cx="445.40" cy="229.00" r="0.5" fill="#7fd4f2"/>
<circle cx="447.80" cy="228.32" r="0.5" fill="#7fd4f2"/>
<circle cx="450.20" cy="228.01" r="0.5" fill="#7fd4f2"/>
<circle cx="452.60" cy="227.56" r="0.5" fill="#7fd4f2"/>
<circle cx="455.00" cy="227.06" r="0.5" fill="#7fd4f2"/>
<circle cx="457.40" cy="226.48" r="0.5" fill="#7fd4f2"/>
<circle cx="459.80" cy="225.97" r="0.5" fill="#7fd4f2"/>
<circle cx="462.20" cy="225.56" r="0.5" fill="#7fd4f2"/>
<circle cx="464.60" cy="225.25" r="0.5" fill="#7fd4f2"/>
<circle cx="467.00" cy="224.98" r="0.5" fill="#7fd4f2"/>
<circle cx="469.40" cy="224.70" r="0.5" fill="#7fd4f2"/>
<circle cx="471.80" cy="224.41" r="0.5" fill="#7fd4f2"/>
<polyline points="414.20,283.52 414.70,283.15 415.42,282.61 416.23,282.07 417.00,281.70 417.70,281.56 418.40,281.56 419.10,281.63 419.80,281.70 420.48,281.81 421.16,281.98 421.85,282.11 422.60,282.12 423.44,281.97 424.35,281.72 425.26,281.39 426.10,281.00 426.85,280.63 427.54,280.23 428.22,279.69 428.90,278.90 429.60,277.76 430.30,276.36 431.00,274.83 431.70,273.30 432.40,271.76 433.10,270.15 433.80,268.54 434.50,267.00 435.20,265.55 435.90,264.16 436.60,262.78 437.30,261.40 437.98,259.98 438.66,258.56 439.35,257.15 440.10,255.80 440.93,254.49 441.81,253.22 442.71,252.01 443.60,250.90 444.48,249.92 445.35,249.04 446.23,248.21 447.10,247.40 447.96,246.60 448.81,245.84 449.68,245.09 450.60,244.32 451.60,243.51 452.66,242.67 453.73,241.85 454.80,241.10 455.85,240.44 456.90,239.85 457.95,239.29 459.00,238.72 460.03,238.14 461.06,237.57 462.10,237.02 463.20,236.48 464.38,235.96 465.62,235.45 466.88,234.96 468.10,234.52 469.38,234.10 470.72,233.70 471.90,233.36 472.72,233.12" fill="none" stroke="#1f77b4" stroke-width="0.5" stroke-linejoin="round" stroke-linecap="round" stroke-opacity="0.95"/>
<circle cx="414.20" cy="283.52" r="0.55" fill="#1f77b4"/>
<circle cx="416.60" cy="281.87" r="0.55" fill="#1f77b4"/>
<circle cx="419.00" cy="281.62" r="0.55" fill="#1f77b4"/>
<circle cx="421.40" cy="282.03" r="0.55" fill="#1f77b4"/>
<circle cx="423.80" cy="281.88" r="0.55" fill="#1f77b4"/>
<circle cx="426.20" cy="280.95" r="0.55" fill="#1f77b4"/>
<circle cx="428.60" cy="279.28" r="0.55" fill="#1f77b4"/>
<circle cx="431.00" cy="274.83" r="0.55" fill="#1f77b4"/>
<circle cx="433.40" cy="269.46" r="0.55" fill="#1f77b4"/>
<circle cx="435.80" cy="264.35" r="0.55" fill="#1f77b4"/>
<circle cx="438.20" cy="259.52" r="0.55" fill="#1f77b4"/>
<circle cx="440.60" cy="255.00" r="0.55" fill="#1f77b4"/>
<circle cx="443.00" cy="251.64" r="0.55" fill="#1f77b4"/>
<circle cx="445.40" cy="248.99" r="0.55" fill="#1f77b4"/>
<circle cx="447.80" cy="246.75" r="0.55" fill="#1f77b4"/>
<circle cx="450.20" cy="244.65" r="0.55" fill="#1f77b4"/>
<circle cx="452.60" cy="242.71" r="0.55" fill="#1f77b4"/>
<circle cx="455.00" cy="240.97" r="0.55" fill="#1f77b4"/>
<circle cx="457.40" cy="239.58" r="0.55" fill="#1f77b4"/>
<circle cx="459.80" cy="238.27" r="0.55" fill="#1f77b4"/>
<circle cx="462.20" cy="236.97" r="0.55" fill="#1f77b4"/>
<circle cx="464.60" cy="235.87" r="0.55" fill="#1f77b4"/>
<circle cx="467.00" cy="234.92" r="0.55" fill="#1f77b4"/>
<circle cx="469.40" cy="234.09" r="0.55" fill="#1f77b4"/>
<circle cx="471.80" cy="233.39" r="0.55" fill="#1f77b4"/>
<polyline points="414.20,262.80 414.83,262.05 415.73,260.96 416.74,259.75 417.70,258.60 418.56,257.55 419.41,256.50 420.28,255.45 421.20,254.40 422.20,253.42 423.26,252.48 424.33,251.45 425.40,250.20 426.45,248.63 427.50,246.83 428.55,244.97 429.60,243.20 430.65,241.53 431.70,239.88 432.75,238.31 433.80,236.90 434.85,235.67 435.90,234.58 436.95,233.60 438.00,232.70 439.05,231.88 440.10,231.15 441.15,230.50 442.20,229.90 443.25,229.35 444.30,228.85 445.35,228.42 446.40,228.08 447.45,227.86 448.50,227.74 449.55,227.65 450.60,227.52 451.65,227.33 452.70,227.13 453.75,226.91 454.80,226.68 455.85,226.44 456.90,226.18 457.95,225.93 459.00,225.70 460.03,225.50 461.06,225.32 462.10,225.16 463.20,225.00 464.38,224.85 465.62,224.71 466.88,224.58 468.10,224.44 469.38,224.29 470.72,224.12 471.90,223.98 472.72,223.88" fill="none" stroke="#ff5555" stroke-width="0.6" stroke-linejoin="round" stroke-linecap="round" stroke-opacity="0.95"/>
<circle cx="414.20" cy="262.80" r="0.45" fill="#ff5555"/>
<circle cx="416.60" cy="259.92" r="0.45" fill="#ff5555"/>
<circle cx="419.00" cy="257.00" r="0.45" fill="#ff5555"/>
<circle cx="421.40" cy="254.19" r="0.45" fill="#ff5555"/>
<circle cx="423.80" cy="251.97" r="0.45" fill="#ff5555"/>
<circle cx="426.20" cy="249.02" r="0.45" fill="#ff5555"/>
<circle cx="428.60" cy="244.88" r="0.45" fill="#ff5555"/>
<circle cx="431.00" cy="240.97" r="0.45" fill="#ff5555"/>
<circle cx="433.40" cy="237.42" r="0.45" fill="#ff5555"/>
<circle cx="435.80" cy="234.68" r="0.45" fill="#ff5555"/>
<circle cx="438.20" cy="232.54" r="0.45" fill="#ff5555"/>
<circle cx="440.60" cy="230.83" r="0.45" fill="#ff5555"/>
<circle cx="443.00" cy="229.48" r="0.45" fill="#ff5555"/>
<circle cx="445.40" cy="228.41" r="0.45" fill="#ff5555"/>
<circle cx="447.80" cy="227.81" r="0.45" fill="#ff5555"/>
<circle cx="450.20" cy="227.58" r="0.45" fill="#ff5555"/>
<circle cx="452.60" cy="227.15" r="0.45" fill="#ff5555"/>
<circle cx="455.00" cy="226.64" r="0.45" fill="#ff5555"/>
<circle cx="457.40" cy="226.06" r="0.45" fill="#ff5555"/>
<circle cx="459.80" cy="225.55" r="0.45" fill="#ff5555"/>
<circle cx="462.20" cy="225.14" r="0.45" fill="#ff5555"/>
<circle cx="464.60" cy="224.83" r="0.45" fill="#ff5555"/>
<circle cx="467.00" cy="224.56" r="0.45" fill="#ff5555"/>
<circle cx="469.40" cy="224.28" r="0.45" fill="#ff5555"/>
<circle cx="471.80" cy="223.99" r="0.45" fill="#ff5555"/>
<polyline points="414.20,274.00 414.70,273.93 415.42,273.82 416.23,273.74 417.00,273.72 417.70,273.80 418.40,273.96 419.10,274.13 419.80,274.28 420.48,274.41 421.16,274.55 421.85,274.66 422.60,274.70 423.44,274.70 424.35,274.66 425.26,274.54 426.10,274.28 426.85,273.87 427.54,273.33 428.22,272.67 428.90,271.90 429.60,270.99 430.30,269.96 431.00,268.84 431.70,267.70 432.40,266.52 433.10,265.29 433.80,264.04 434.50,262.80 435.20,261.57 435.90,260.35 436.60,259.12 437.30,257.90 437.98,256.67 438.66,255.45 439.35,254.22 440.10,253.00 440.93,251.74 441.81,250.46 442.71,249.23 443.60,248.10 444.48,247.11 445.35,246.22 446.23,245.39 447.10,244.60 447.96,243.86 448.81,243.17 449.68,242.50 450.60,241.80 451.60,241.04 452.66,240.24 453.73,239.46 454.80,238.72 455.85,238.03 456.90,237.37 457.95,236.76 459.00,236.20 460.03,235.72 461.06,235.32 462.10,234.93 463.20,234.52 464.38,234.06 465.62,233.57 466.88,233.10 468.10,232.70 469.38,232.37 470.72,232.10 471.90,231.88 472.72,231.72" fill="none" stroke="#9a0000" stroke-width="0.6" stroke-linejoin="round" stroke-linecap="round" stroke-opacity="0.95"/>
<circle cx="414.20" cy="274.00" r="0.64" fill="#9a0000"/>
<circle cx="416.60" cy="273.72" r="0.64" fill="#9a0000"/>
<circle cx="419.00" cy="274.11" r="0.64" fill="#9a0000"/>
<circle cx="421.40" cy="274.59" r="0.64" fill="#9a0000"/>
<circle cx="423.80" cy="274.69" r="0.64" fill="#9a0000"/>
<circle cx="426.20" cy="274.23" r="0.64" fill="#9a0000"/>
<circle cx="428.60" cy="272.25" r="0.64" fill="#9a0000"/>
<circle cx="431.00" cy="268.84" r="0.64" fill="#9a0000"/>
<circle cx="433.40" cy="264.76" r="0.64" fill="#9a0000"/>
<circle cx="435.80" cy="260.53" r="0.64" fill="#9a0000"/>
<circle cx="438.20" cy="256.28" r="0.64" fill="#9a0000"/>
<circle cx="440.60" cy="252.23" r="0.64" fill="#9a0000"/>
<circle cx="443.00" cy="248.85" r="0.64" fill="#9a0000"/>
<circle cx="445.40" cy="246.17" r="0.64" fill="#9a0000"/>
<circle cx="447.80" cy="243.99" r="0.64" fill="#9a0000"/>
<circle cx="450.20" cy="242.10" r="0.64" fill="#9a0000"/>
<circle cx="452.60" cy="240.28" r="0.64" fill="#9a0000"/>
<circle cx="455.00" cy="238.59" r="0.64" fill="#9a0000"/>
<circle cx="457.40" cy="237.07" r="0.64" fill="#9a0000"/>
<circle cx="459.80" cy="235.83" r="0.64" fill="#9a0000"/>
<circle cx="462.20" cy="234.89" r="0.64" fill="#9a0000"/>
<circle cx="464.60" cy="233.97" r="0.64" fill="#9a0000"/>
<circle cx="467.00" cy="233.06" r="0.64" fill="#9a0000"/>
<circle cx="469.40" cy="232.37" r="0.64" fill="#9a0000"/>
<circle cx="471.80" cy="231.89" r="0.64" fill="#9a0000"/>
<rect x="412.20" y="220.90" width="63.30" height="66.00" fill="none" stroke="#3c3c3c" stroke-width="0.65" rx="0"/>
<line x1="296.60" y1="293.10" x2="296.60" y2="359.10" stroke="#c8c8c8" stroke-width="0.42" stroke-dasharray="0.9 0.9"/>
<line x1="296.60" y1="359.10" x2="296.60" y2="360.70" stroke="#222" stroke-width="0.45"/>
<line x1="332.72" y1="293.10" x2="332.72" y2="359.10" stroke="#c8c8c8" stroke-width="0.42" stroke-dasharray="0.9 0.9"/>
<line x1="332.72" y1="359.10" x2="332.72" y2="360.70" stroke="#222" stroke-width="0.45"/>
<line x1="272.50" y1="296.30" x2="335.80" y2="296.30" stroke="#c8c8c8" stroke-width="0.42" stroke-dasharray="0.9 0.9"/>
<line x1="270.90" y1="296.30" x2="272.50" y2="296.30" stroke="#222" stroke-width="0.45"/>
<line x1="272.50" y1="311.28" x2="335.80" y2="311.28" stroke="#c8c8c8" stroke-width="0.42" stroke-dasharray="0.9 0.9"/>
<line x1="270.90" y1="311.28" x2="272.50" y2="311.28" stroke="#222" stroke-width="0.45"/>
<line x1="272.50" y1="327.10" x2="335.80" y2="327.10" stroke="#c8c8c8" stroke-width="0.42" stroke-dasharray="0.9 0.9"/>
<line x1="270.90" y1="327.10" x2="272.50" y2="327.10" stroke="#222" stroke-width="0.45"/>
<line x1="272.50" y1="342.50" x2="335.80" y2="342.50" stroke="#c8c8c8" stroke-width="0.42" stroke-dasharray="0.9 0.9"/>
<line x1="270.90" y1="342.50" x2="272.50" y2="342.50" stroke="#222" stroke-width="0.45"/>
<line x1="272.50" y1="358.18" x2="335.80" y2="358.18" stroke="#c8c8c8" stroke-width="0.42" stroke-dasharray="0.9 0.9"/>
<line x1="270.90" y1="358.18" x2="272.50" y2="358.18" stroke="#222" stroke-width="0.45"/>
<polyline points="275.32,338.30 278.40,335.08 282.60,332.00 286.80,329.90 291.00,327.52 295.20,325.28 299.40,322.48 303.60,319.68 307.80,316.60 312.00,313.10 316.20,309.60 319.00,307.50 321.80,303.72 325.30,300.92 328.80,298.40 332.72,295.60" fill="none" stroke="#000000" stroke-width="0.45" stroke-linejoin="miter" stroke-linecap="round" stroke-opacity="0.9"/>
<circle cx="275.32" cy="338.30" r="0.78" fill="#000000"/>
<circle cx="278.40" cy="335.08" r="0.78" fill="#000000"/>
<circle cx="280.50" cy="333.54" r="0.78" fill="#000000"/>
<circle cx="282.60" cy="332.00" r="0.78" fill="#000000"/>
<circle cx="284.70" cy="330.95" r="0.78" fill="#000000"/>
<circle cx="286.80" cy="329.90" r="0.78" fill="#000000"/>
<circle cx="288.90" cy="328.71" r="0.78" fill="#000000"/>
<circle cx="291.00" cy="327.52" r="0.78" fill="#000000"/>
<circle cx="293.10" cy="326.40" r="0.78" fill="#000000"/>
<circle cx="295.20" cy="325.28" r="0.78" fill="#000000"/>
<circle cx="297.30" cy="323.88" r="0.78" fill="#000000"/>
<circle cx="299.40" cy="322.48" r="0.78" fill="#000000"/>
<circle cx="301.50" cy="321.08" r="0.78" fill="#000000"/>
<circle cx="303.60" cy="319.68" r="0.78" fill="#000000"/>
<circle cx="305.70" cy="318.14" r="0.78" fill="#000000"/>
<circle cx="307.80" cy="316.60" r="0.78" fill="#000000"/>
<circle cx="309.90" cy="314.85" r="0.78" fill="#000000"/>
<circle cx="312.00" cy="313.10" r="0.78" fill="#000000"/>
<circle cx="314.10" cy="311.35" r="0.78" fill="#000000"/>
<circle cx="316.20" cy="309.60" r="0.78" fill="#000000"/>
<circle cx="319.00" cy="307.50" r="0.78" fill="#000000"/>
<circle cx="321.80" cy="303.72" r="0.78" fill="#000000"/>
<circle cx="323.55" cy="302.32" r="0.78" fill="#000000"/>
<circle cx="325.30" cy="300.92" r="0.78" fill="#000000"/>
<circle cx="327.05" cy="299.66" r="0.78" fill="#000000"/>
<circle cx="328.80" cy="298.40" r="0.78" fill="#000000"/>
<circle cx="330.76" cy="297.00" r="0.78" fill="#000000"/>
<circle cx="332.72" cy="295.60" r="0.78" fill="#000000"/>
<polyline points="275.32,356.08 277.00,348.80 279.10,345.30 282.60,341.10 286.10,340.68 289.60,342.50 293.10,342.92 296.60,343.90 300.10,345.30 303.60,346.28 307.10,347.40 310.60,348.80 314.80,349.08 318.30,348.52 321.80,345.30 325.30,342.92 328.80,340.68 332.72,338.72" fill="none" stroke="#3a3a3a" stroke-width="0.4" stroke-linejoin="miter" stroke-linecap="round" stroke-opacity="0.8"/>
<rect x="274.67" y="355.43" width="1.3" height="1.3" fill="#e8e8e8" stroke="#3a3a3a" stroke-width="0.3"/>
<rect x="276.35" y="348.15" width="1.3" height="1.3" fill="#e8e8e8" stroke="#3a3a3a" stroke-width="0.3"/>
<rect x="278.45" y="344.65" width="1.3" height="1.3" fill="#e8e8e8" stroke="#3a3a3a" stroke-width="0.3"/>
<rect x="280.20" y="342.55" width="1.3" height="1.3" fill="#e8e8e8" stroke="#3a3a3a" stroke-width="0.3"/>
<rect x="281.95" y="340.45" width="1.3" height="1.3" fill="#e8e8e8" stroke="#3a3a3a" stroke-width="0.3"/>
<rect x="283.70" y="340.24" width="1.3" height="1.3" fill="#e8e8e8" stroke="#3a3a3a" stroke-width="0.3"/>
<rect x="285.45" y="340.03" width="1.3" height="1.3" fill="#e8e8e8" stroke="#3a3a3a" stroke-width="0.3"/>
<rect x="287.20" y="340.94" width="1.3" height="1.3" fill="#e8e8e8" stroke="#3a3a3a" stroke-width="0.3"/>
<rect x="288.95" y="341.85" width="1.3" height="1.3" fill="#e8e8e8" stroke="#3a3a3a" stroke-width="0.3"/>
<rect x="290.70" y="342.06" width="1.3" height="1.3" fill="#e8e8e8" stroke="#3a3a3a" stroke-width="0.3"/>
<rect x="292.45" y="342.27" width="1.3" height="1.3" fill="#e8e8e8" stroke="#3a3a3a" stroke-width="0.3"/>
<rect x="294.20" y="342.76" width="1.3" height="1.3" fill="#e8e8e8" stroke="#3a3a3a" stroke-width="0.3"/>
<rect x="295.95" y="343.25" width="1.3" height="1.3" fill="#e8e8e8" stroke="#3a3a3a" stroke-width="0.3"/>
<rect x="297.70" y="343.95" width="1.3" height="1.3" fill="#e8e8e8" stroke="#3a3a3a" stroke-width="0.3"/>
<rect x="299.45" y="344.65" width="1.3" height="1.3" fill="#e8e8e8" stroke="#3a3a3a" stroke-width="0.3"/>
<rect x="301.20" y="345.14" width="1.3" height="1.3" fill="#e8e8e8" stroke="#3a3a3a" stroke-width="0.3"/>
<rect x="302.95" y="345.63" width="1.3" height="1.3" fill="#e8e8e8" stroke="#3a3a3a" stroke-width="0.3"/>
<rect x="304.70" y="346.19" width="1.3" height="1.3" fill="#e8e8e8" stroke="#3a3a3a" stroke-width="0.3"/>
<rect x="306.45" y="346.75" width="1.3" height="1.3" fill="#e8e8e8" stroke="#3a3a3a" stroke-width="0.3"/>
<rect x="308.20" y="347.45" width="1.3" height="1.3" fill="#e8e8e8" stroke="#3a3a3a" stroke-width="0.3"/>
<rect x="309.95" y="348.15" width="1.3" height="1.3" fill="#e8e8e8" stroke="#3a3a3a" stroke-width="0.3"/>
<rect x="312.05" y="348.29" width="1.3" height="1.3" fill="#e8e8e8" stroke="#3a3a3a" stroke-width="0.3"/>
<rect x="314.15" y="348.43" width="1.3" height="1.3" fill="#e8e8e8" stroke="#3a3a3a" stroke-width="0.3"/>
<rect x="315.90" y="348.15" width="1.3" height="1.3" fill="#e8e8e8" stroke="#3a3a3a" stroke-width="0.3"/>
<rect x="317.65" y="347.87" width="1.3" height="1.3" fill="#e8e8e8" stroke="#3a3a3a" stroke-width="0.3"/>
<rect x="319.40" y="346.26" width="1.3" height="1.3" fill="#e8e8e8" stroke="#3a3a3a" stroke-width="0.3"/>
<rect x="321.15" y="344.65" width="1.3" height="1.3" fill="#e8e8e8" stroke="#3a3a3a" stroke-width="0.3"/>
<rect x="322.90" y="343.46" width="1.3" height="1.3" fill="#e8e8e8" stroke="#3a3a3a" stroke-width="0.3"/>
<rect x="324.65" y="342.27" width="1.3" height="1.3" fill="#e8e8e8" stroke="#3a3a3a" stroke-width="0.3"/>
<rect x="326.40" y="341.15" width="1.3" height="1.3" fill="#e8e8e8" stroke="#3a3a3a" stroke-width="0.3"/>
<rect x="328.15" y="340.03" width="1.3" height="1.3" fill="#e8e8e8" stroke="#3a3a3a" stroke-width="0.3"/>
<rect x="330.11" y="339.05" width="1.3" height="1.3" fill="#e8e8e8" stroke="#3a3a3a" stroke-width="0.3"/>
<rect x="332.07" y="338.07" width="1.3" height="1.3" fill="#e8e8e8" stroke="#3a3a3a" stroke-width="0.3"/>
<polyline points="275.32,339.00 275.85,338.45 276.60,337.66 277.48,336.77 278.40,335.92 279.37,335.11 280.43,334.27 281.52,333.45 282.60,332.70 283.65,332.05 284.70,331.47 285.75,330.91 286.80,330.32 287.85,329.70 288.90,329.06 289.95,328.42 291.00,327.80 292.05,327.20 293.10,326.61 294.15,326.02 295.20,325.42 296.25,324.82 297.30,324.21 298.35,323.58 299.40,322.90 300.45,322.14 301.50,321.32 302.55,320.49 303.60,319.68 304.65,318.91 305.70,318.15 306.75,317.39 307.80,316.60 308.85,315.78 309.90,314.94 310.95,314.09 312.00,313.24 313.05,312.40 314.10,311.56 315.15,310.72 316.20,309.88 317.25,309.05 318.30,308.22 319.35,307.38 320.40,306.52 321.45,305.62 322.50,304.70 323.55,303.78 324.60,302.88 325.66,302.01 326.72,301.15 327.77,300.31 328.80,299.52 329.89,298.71 331.02,297.91 332.02,297.21 332.72,296.72" fill="none" stroke="#7fd4f2" stroke-width="0.5" stroke-linejoin="round" stroke-linecap="round" stroke-opacity="0.95"/>
<circle cx="275.32" cy="339.00" r="0.5" fill="#7fd4f2"/>
<circle cx="277.72" cy="336.54" r="0.5" fill="#7fd4f2"/>
<circle cx="280.12" cy="334.51" r="0.5" fill="#7fd4f2"/>
<circle cx="282.52" cy="332.75" r="0.5" fill="#7fd4f2"/>
<circle cx="284.92" cy="331.35" r="0.5" fill="#7fd4f2"/>
<circle cx="287.32" cy="330.01" r="0.5" fill="#7fd4f2"/>
<circle cx="289.72" cy="328.56" r="0.5" fill="#7fd4f2"/>
<circle cx="292.12" cy="327.16" r="0.5" fill="#7fd4f2"/>
<circle cx="294.52" cy="325.81" r="0.5" fill="#7fd4f2"/>
<circle cx="296.92" cy="324.43" r="0.5" fill="#7fd4f2"/>
<circle cx="299.32" cy="322.95" r="0.5" fill="#7fd4f2"/>
<circle cx="301.72" cy="321.15" r="0.5" fill="#7fd4f2"/>
<circle cx="304.12" cy="319.29" r="0.5" fill="#7fd4f2"/>
<circle cx="306.52" cy="317.55" r="0.5" fill="#7fd4f2"/>
<circle cx="308.92" cy="315.72" r="0.5" fill="#7fd4f2"/>
<circle cx="311.32" cy="313.79" r="0.5" fill="#7fd4f2"/>
<circle cx="313.72" cy="311.86" r="0.5" fill="#7fd4f2"/>
<circle cx="316.12" cy="309.94" r="0.5" fill="#7fd4f2"/>
<circle cx="318.52" cy="308.04" r="0.5" fill="#7fd4f2"/>
<circle cx="320.92" cy="306.08" r="0.5" fill="#7fd4f2"/>
<circle cx="323.32" cy="303.98" r="0.5" fill="#7fd4f2"/>
<circle cx="325.72" cy="301.96" r="0.5" fill="#7fd4f2"/>
<circle cx="328.12" cy="300.04" r="0.5" fill="#7fd4f2"/>
<circle cx="330.52" cy="298.27" r="0.5" fill="#7fd4f2"/>
<polyline points="275.32,353.70 275.61,352.91 276.03,351.77 276.51,350.55 277.00,349.50 277.46,348.67 277.94,347.93 278.47,347.27 279.10,346.70 279.86,346.22 280.72,345.82 281.64,345.52 282.60,345.30 283.60,345.18 284.66,345.15 285.73,345.20 286.80,345.30 287.85,345.47 288.90,345.70 289.95,345.98 291.00,346.28 292.05,346.60 293.10,346.95 294.15,347.32 295.20,347.68 296.25,348.03 297.30,348.38 298.35,348.73 299.40,349.08 300.45,349.44 301.50,349.81 302.55,350.17 303.60,350.48 304.65,350.75 305.70,350.99 306.75,351.18 307.80,351.32 308.85,351.40 309.90,351.42 310.95,351.40 312.00,351.32 313.08,351.18 314.19,350.99 315.25,350.75 316.20,350.48 316.98,350.19 317.64,349.88 318.28,349.51 319.00,349.08 319.83,348.55 320.71,347.95 321.61,347.32 322.50,346.70 323.38,346.11 324.25,345.54 325.12,344.94 326.00,344.32 326.88,343.64 327.77,342.93 328.64,342.21 329.50,341.52 330.40,340.81 331.33,340.08 332.15,339.45 332.72,339.00" fill="none" stroke="#1f77b4" stroke-width="0.5" stroke-linejoin="round" stroke-linecap="round" stroke-opacity="0.95"/>
<circle cx="275.32" cy="353.70" r="0.55" fill="#1f77b4"/>
<circle cx="277.72" cy="348.25" r="0.55" fill="#1f77b4"/>
<circle cx="280.12" cy="346.09" r="0.55" fill="#1f77b4"/>
<circle cx="282.52" cy="345.32" r="0.55" fill="#1f77b4"/>
<circle cx="284.92" cy="345.16" r="0.55" fill="#1f77b4"/>
<circle cx="287.32" cy="345.37" r="0.55" fill="#1f77b4"/>
<circle cx="289.72" cy="345.92" r="0.55" fill="#1f77b4"/>
<circle cx="292.12" cy="346.62" r="0.55" fill="#1f77b4"/>
<circle cx="294.52" cy="347.45" r="0.55" fill="#1f77b4"/>
<circle cx="296.92" cy="348.25" r="0.55" fill="#1f77b4"/>
<circle cx="299.32" cy="349.05" r="0.55" fill="#1f77b4"/>
<circle cx="301.72" cy="349.89" r="0.55" fill="#1f77b4"/>
<circle cx="304.12" cy="350.62" r="0.55" fill="#1f77b4"/>
<circle cx="306.52" cy="351.14" r="0.55" fill="#1f77b4"/>
<circle cx="308.92" cy="351.40" r="0.55" fill="#1f77b4"/>
<circle cx="311.32" cy="351.38" r="0.55" fill="#1f77b4"/>
<circle cx="313.72" cy="351.08" r="0.55" fill="#1f77b4"/>
<circle cx="316.12" cy="350.50" r="0.55" fill="#1f77b4"/>
<circle cx="318.52" cy="349.37" r="0.55" fill="#1f77b4"/>
<circle cx="320.92" cy="347.80" r="0.55" fill="#1f77b4"/>
<circle cx="323.32" cy="346.15" r="0.55" fill="#1f77b4"/>
<circle cx="325.72" cy="344.52" r="0.55" fill="#1f77b4"/>
<circle cx="328.12" cy="342.64" r="0.55" fill="#1f77b4"/>
<circle cx="330.52" cy="340.72" r="0.55" fill="#1f77b4"/>
<polyline points="275.32,336.20 275.85,335.70 276.60,334.97 277.48,334.17 278.40,333.40 279.37,332.69 280.43,331.98 281.52,331.28 282.60,330.60 283.65,329.95 284.70,329.31 285.75,328.69 286.80,328.08 287.85,327.48 288.90,326.88 289.95,326.29 291.00,325.70 292.05,325.11 293.10,324.52 294.15,323.92 295.20,323.32 296.25,322.71 297.30,322.09 298.35,321.45 299.40,320.80 300.45,320.12 301.50,319.42 302.55,318.71 303.60,318.00 304.65,317.31 305.70,316.62 306.75,315.92 307.80,315.20 308.85,314.45 309.90,313.69 310.95,312.91 312.00,312.12 313.05,311.33 314.10,310.54 315.15,309.73 316.20,308.90 317.25,308.04 318.30,307.17 319.35,306.28 320.40,305.40 321.45,304.52 322.50,303.63 323.55,302.76 324.60,301.90 325.66,301.07 326.72,300.25 327.77,299.45 328.80,298.68 329.89,297.88 331.02,297.08 332.02,296.37 332.72,295.88" fill="none" stroke="#ff5555" stroke-width="0.6" stroke-linejoin="round" stroke-linecap="round" stroke-opacity="0.95"/>
<circle cx="275.32" cy="336.20" r="0.45" fill="#ff5555"/>
<circle cx="277.72" cy="333.96" r="0.45" fill="#ff5555"/>
<circle cx="280.12" cy="332.19" r="0.45" fill="#ff5555"/>
<circle cx="282.52" cy="330.65" r="0.45" fill="#ff5555"/>
<circle cx="284.92" cy="329.18" r="0.45" fill="#ff5555"/>
<circle cx="287.32" cy="327.78" r="0.45" fill="#ff5555"/>
<circle cx="289.72" cy="326.42" r="0.45" fill="#ff5555"/>
<circle cx="292.12" cy="325.07" r="0.45" fill="#ff5555"/>
<circle cx="294.52" cy="323.71" r="0.45" fill="#ff5555"/>
<circle cx="296.92" cy="322.31" r="0.45" fill="#ff5555"/>
<circle cx="299.32" cy="320.85" r="0.45" fill="#ff5555"/>
<circle cx="301.72" cy="319.27" r="0.45" fill="#ff5555"/>
<circle cx="304.12" cy="317.66" r="0.45" fill="#ff5555"/>
<circle cx="306.52" cy="316.07" r="0.45" fill="#ff5555"/>
<circle cx="308.92" cy="314.40" r="0.45" fill="#ff5555"/>
<circle cx="311.32" cy="312.63" r="0.45" fill="#ff5555"/>
<circle cx="313.72" cy="310.82" r="0.45" fill="#ff5555"/>
<circle cx="316.12" cy="308.96" r="0.45" fill="#ff5555"/>
<circle cx="318.52" cy="306.98" r="0.45" fill="#ff5555"/>
<circle cx="320.92" cy="304.96" r="0.45" fill="#ff5555"/>
<circle cx="323.32" cy="302.95" r="0.45" fill="#ff5555"/>
<circle cx="325.72" cy="301.02" r="0.45" fill="#ff5555"/>
<circle cx="328.12" cy="299.19" r="0.45" fill="#ff5555"/>
<circle cx="330.52" cy="297.44" r="0.45" fill="#ff5555"/>
<polyline points="275.32,347.40 275.85,347.03 276.60,346.50 277.48,345.89 278.40,345.30 279.37,344.70 280.43,344.05 281.52,343.43 282.60,342.92 283.65,342.53 284.70,342.21 285.75,341.97 286.80,341.80 287.85,341.71 288.90,341.70 289.95,341.74 291.00,341.80 292.05,341.86 293.10,341.95 294.15,342.07 295.20,342.22 296.25,342.42 297.30,342.67 298.35,342.93 299.40,343.20 300.45,343.48 301.50,343.78 302.55,344.07 303.60,344.32 304.65,344.54 305.70,344.74 306.75,344.90 307.80,345.02 308.85,345.09 309.90,345.11 310.95,345.09 312.00,345.02 313.05,344.90 314.10,344.74 315.15,344.54 316.20,344.32 317.25,344.08 318.30,343.80 319.35,343.51 320.40,343.20 321.45,342.89 322.50,342.56 323.55,342.21 324.60,341.80 325.66,341.34 326.72,340.84 327.77,340.29 328.80,339.70 329.89,338.98 331.02,338.17 332.02,337.42 332.72,336.90" fill="none" stroke="#9a0000" stroke-width="0.6" stroke-linejoin="round" stroke-linecap="round" stroke-opacity="0.95"/>
<circle cx="275.32" cy="347.40" r="0.64" fill="#9a0000"/>
<circle cx="277.72" cy="345.74" r="0.64" fill="#9a0000"/>
<circle cx="280.12" cy="344.24" r="0.64" fill="#9a0000"/>
<circle cx="282.52" cy="342.96" r="0.64" fill="#9a0000"/>
<circle cx="284.92" cy="342.16" r="0.64" fill="#9a0000"/>
<circle cx="287.32" cy="341.74" r="0.64" fill="#9a0000"/>
<circle cx="289.72" cy="341.73" r="0.64" fill="#9a0000"/>
<circle cx="292.12" cy="341.87" r="0.64" fill="#9a0000"/>
<circle cx="294.52" cy="342.12" r="0.64" fill="#9a0000"/>
<circle cx="296.92" cy="342.58" r="0.64" fill="#9a0000"/>
<circle cx="299.32" cy="343.18" r="0.64" fill="#9a0000"/>
<circle cx="301.72" cy="343.84" r="0.64" fill="#9a0000"/>
<circle cx="304.12" cy="344.43" r="0.64" fill="#9a0000"/>
<circle cx="306.52" cy="344.87" r="0.64" fill="#9a0000"/>
<circle cx="308.92" cy="345.09" r="0.64" fill="#9a0000"/>
<circle cx="311.32" cy="345.07" r="0.64" fill="#9a0000"/>
<circle cx="313.72" cy="344.80" r="0.64" fill="#9a0000"/>
<circle cx="316.12" cy="344.34" r="0.64" fill="#9a0000"/>
<circle cx="318.52" cy="343.74" r="0.64" fill="#9a0000"/>
<circle cx="320.92" cy="343.04" r="0.64" fill="#9a0000"/>
<circle cx="323.32" cy="342.29" r="0.64" fill="#9a0000"/>
<circle cx="325.72" cy="341.31" r="0.64" fill="#9a0000"/>
<circle cx="328.12" cy="340.09" r="0.64" fill="#9a0000"/>
<circle cx="330.52" cy="338.54" r="0.64" fill="#9a0000"/>
<rect x="272.50" y="293.10" width="63.30" height="66.00" fill="none" stroke="#3c3c3c" stroke-width="0.65" rx="0"/>
<text x="258.30" y="326.10" font-size="5.6" text-anchor="middle" font-family="Liberation Serif" font-weight="normal" fill="#000" transform="rotate(-90 258.30 326.10)">Velocity (km/s)</text>
<text x="304.15" y="373.20" font-size="5.7" text-anchor="middle" font-family="Liberation Serif" font-weight="normal" fill="#000">Period (s)</text>
<line x1="360.72" y1="293.10" x2="360.72" y2="359.10" stroke="#c8c8c8" stroke-width="0.42" stroke-dasharray="0.9 0.9"/>
<line x1="360.72" y1="359.10" x2="360.72" y2="360.70" stroke="#222" stroke-width="0.45"/>
<line x1="383.68" y1="293.10" x2="383.68" y2="359.10" stroke="#c8c8c8" stroke-width="0.42" stroke-dasharray="0.9 0.9"/>
<line x1="383.68" y1="359.10" x2="383.68" y2="360.70" stroke="#222" stroke-width="0.45"/>
<line x1="342.50" y1="295.32" x2="405.80" y2="295.32" stroke="#c8c8c8" stroke-width="0.42" stroke-dasharray="0.9 0.9"/>
<line x1="340.90" y1="295.32" x2="342.50" y2="295.32" stroke="#222" stroke-width="0.45"/>
<line x1="342.50" y1="321.08" x2="405.80" y2="321.08" stroke="#c8c8c8" stroke-width="0.42" stroke-dasharray="0.9 0.9"/>
<line x1="340.90" y1="321.08" x2="342.50" y2="321.08" stroke="#222" stroke-width="0.45"/>
<line x1="342.50" y1="346.42" x2="405.80" y2="346.42" stroke="#c8c8c8" stroke-width="0.42" stroke-dasharray="0.9 0.9"/>
<line x1="340.90" y1="346.42" x2="342.50" y2="346.42" stroke="#222" stroke-width="0.45"/>
<polyline points="344.90,342.92 348.40,339.00 352.60,336.90 356.80,334.80 361.00,331.30 365.20,325.70 368.70,320.10 372.20,315.90 375.00,313.52 377.80,308.20 380.60,305.68 382.00,303.30 384.10,301.48 387.60,300.50 391.80,299.52 396.00,298.12 399.50,297.00 403.00,295.88" fill="none" stroke="#000000" stroke-width="0.45" stroke-linejoin="miter" stroke-linecap="round" stroke-opacity="0.9"/>
<circle cx="344.90" cy="342.92" r="0.78" fill="#000000"/>
<circle cx="346.65" cy="340.96" r="0.78" fill="#000000"/>
<circle cx="348.40" cy="339.00" r="0.78" fill="#000000"/>
<circle cx="350.50" cy="337.95" r="0.78" fill="#000000"/>
<circle cx="352.60" cy="336.90" r="0.78" fill="#000000"/>
<circle cx="354.70" cy="335.85" r="0.78" fill="#000000"/>
<circle cx="356.80" cy="334.80" r="0.78" fill="#000000"/>
<circle cx="358.90" cy="333.05" r="0.78" fill="#000000"/>
<circle cx="361.00" cy="331.30" r="0.78" fill="#000000"/>
<circle cx="363.10" cy="328.50" r="0.78" fill="#000000"/>
<circle cx="365.20" cy="325.70" r="0.78" fill="#000000"/>
<circle cx="366.95" cy="322.90" r="0.78" fill="#000000"/>
<circle cx="368.70" cy="320.10" r="0.78" fill="#000000"/>
<circle cx="370.45" cy="318.00" r="0.78" fill="#000000"/>
<circle cx="372.20" cy="315.90" r="0.78" fill="#000000"/>
<circle cx="375.00" cy="313.52" r="0.78" fill="#000000"/>
<circle cx="377.80" cy="308.20" r="0.78" fill="#000000"/>
<circle cx="380.60" cy="305.68" r="0.78" fill="#000000"/>
<circle cx="382.00" cy="303.30" r="0.78" fill="#000000"/>
<circle cx="384.10" cy="301.48" r="0.78" fill="#000000"/>
<circle cx="385.85" cy="300.99" r="0.78" fill="#000000"/>
<circle cx="387.60" cy="300.50" r="0.78" fill="#000000"/>
<circle cx="389.70" cy="300.01" r="0.78" fill="#000000"/>
<circle cx="391.80" cy="299.52" r="0.78" fill="#000000"/>
<circle cx="393.90" cy="298.82" r="0.78" fill="#000000"/>
<circle cx="396.00" cy="298.12" r="0.78" fill="#000000"/>
<circle cx="397.75" cy="297.56" r="0.78" fill="#000000"/>
<circle cx="399.50" cy="297.00" r="0.78" fill="#000000"/>
<circle cx="401.25" cy="296.44" r="0.78" fill="#000000"/>
<circle cx="403.00" cy="295.88" r="0.78" fill="#000000"/>
<polyline points="344.90,349.50 347.00,345.30 349.10,342.92 352.32,341.52 354.00,346.00 356.80,348.80 360.30,349.50 363.80,348.10 367.30,345.30 370.80,339.70 373.60,331.30 375.70,326.40 377.80,327.10 379.90,321.50 382.00,322.90 384.10,319.40 387.60,317.30 391.80,314.92 396.00,312.68 399.50,312.40 403.00,310.72" fill="none" stroke="#3a3a3a" stroke-width="0.4" stroke-linejoin="miter" stroke-linecap="round" stroke-opacity="0.8"/>
<rect x="344.25" y="348.85" width="1.3" height="1.3" fill="#e8e8e8" stroke="#3a3a3a" stroke-width="0.3"/>
<rect x="346.35" y="344.65" width="1.3" height="1.3" fill="#e8e8e8" stroke="#3a3a3a" stroke-width="0.3"/>
<rect x="348.45" y="342.27" width="1.3" height="1.3" fill="#e8e8e8" stroke="#3a3a3a" stroke-width="0.3"/>
<rect x="350.06" y="341.57" width="1.3" height="1.3" fill="#e8e8e8" stroke="#3a3a3a" stroke-width="0.3"/>
<rect x="351.67" y="340.87" width="1.3" height="1.3" fill="#e8e8e8" stroke="#3a3a3a" stroke-width="0.3"/>
<rect x="353.35" y="345.35" width="1.3" height="1.3" fill="#e8e8e8" stroke="#3a3a3a" stroke-width="0.3"/>
<rect x="356.15" y="348.15" width="1.3" height="1.3" fill="#e8e8e8" stroke="#3a3a3a" stroke-width="0.3"/>
<rect x="357.90" y="348.50" width="1.3" height="1.3" fill="#e8e8e8" stroke="#3a3a3a" stroke-width="0.3"/>
<rect x="359.65" y="348.85" width="1.3" height="1.3" fill="#e8e8e8" stroke="#3a3a3a" stroke-width="0.3"/>
<rect x="361.40" y="348.15" width="1.3" height="1.3" fill="#e8e8e8" stroke="#3a3a3a" stroke-width="0.3"/>
<rect x="363.15" y="347.45" width="1.3" height="1.3" fill="#e8e8e8" stroke="#3a3a3a" stroke-width="0.3"/>
<rect x="364.90" y="346.05" width="1.3" height="1.3" fill="#e8e8e8" stroke="#3a3a3a" stroke-width="0.3"/>
<rect x="366.65" y="344.65" width="1.3" height="1.3" fill="#e8e8e8" stroke="#3a3a3a" stroke-width="0.3"/>
<rect x="368.40" y="341.85" width="1.3" height="1.3" fill="#e8e8e8" stroke="#3a3a3a" stroke-width="0.3"/>
<rect x="370.15" y="339.05" width="1.3" height="1.3" fill="#e8e8e8" stroke="#3a3a3a" stroke-width="0.3"/>
<rect x="372.95" y="330.65" width="1.3" height="1.3" fill="#e8e8e8" stroke="#3a3a3a" stroke-width="0.3"/>
<rect x="375.05" y="325.75" width="1.3" height="1.3" fill="#e8e8e8" stroke="#3a3a3a" stroke-width="0.3"/>
<rect x="377.15" y="326.45" width="1.3" height="1.3" fill="#e8e8e8" stroke="#3a3a3a" stroke-width="0.3"/>
<rect x="379.25" y="320.85" width="1.3" height="1.3" fill="#e8e8e8" stroke="#3a3a3a" stroke-width="0.3"/>
<rect x="381.35" y="322.25" width="1.3" height="1.3" fill="#e8e8e8" stroke="#3a3a3a" stroke-width="0.3"/>
<rect x="383.45" y="318.75" width="1.3" height="1.3" fill="#e8e8e8" stroke="#3a3a3a" stroke-width="0.3"/>
<rect x="385.20" y="317.70" width="1.3" height="1.3" fill="#e8e8e8" stroke="#3a3a3a" stroke-width="0.3"/>
<rect x="386.95" y="316.65" width="1.3" height="1.3" fill="#e8e8e8" stroke="#3a3a3a" stroke-width="0.3"/>
<rect x="389.05" y="315.46" width="1.3" height="1.3" fill="#e8e8e8" stroke="#3a3a3a" stroke-width="0.3"/>
<rect x="391.15" y="314.27" width="1.3" height="1.3" fill="#e8e8e8" stroke="#3a3a3a" stroke-width="0.3"/>
<rect x="393.25" y="313.15" width="1.3" height="1.3" fill="#e8e8e8" stroke="#3a3a3a" stroke-width="0.3"/>
<rect x="395.35" y="312.03" width="1.3" height="1.3" fill="#e8e8e8" stroke="#3a3a3a" stroke-width="0.3"/>
<rect x="397.10" y="311.89" width="1.3" height="1.3" fill="#e8e8e8" stroke="#3a3a3a" stroke-width="0.3"/>
<rect x="398.85" y="311.75" width="1.3" height="1.3" fill="#e8e8e8" stroke="#3a3a3a" stroke-width="0.3"/>
<rect x="400.60" y="310.91" width="1.3" height="1.3" fill="#e8e8e8" stroke="#3a3a3a" stroke-width="0.3"/>
<rect x="402.35" y="310.07" width="1.3" height="1.3" fill="#e8e8e8" stroke="#3a3a3a" stroke-width="0.3"/>
<polyline points="344.90,342.92 345.51,342.15 346.39,341.05 347.39,339.83 348.40,338.72 349.40,337.77 350.46,336.87 351.53,335.99 352.60,335.08 353.65,334.15 354.70,333.23 355.75,332.28 356.80,331.30 357.85,330.30 358.90,329.29 359.95,328.23 361.00,327.10 362.05,325.88 363.10,324.58 364.15,323.25 365.20,321.92 366.25,320.58 367.30,319.22 368.35,317.87 369.40,316.60 370.45,315.40 371.50,314.26 372.55,313.16 373.60,312.12 374.65,311.13 375.70,310.20 376.75,309.31 377.80,308.48 378.85,307.69 379.90,306.96 380.95,306.28 382.00,305.68 383.05,305.17 384.10,304.75 385.15,304.37 386.20,304.00 387.25,303.62 388.30,303.27 389.35,302.92 390.40,302.60 391.45,302.30 392.50,302.02 393.55,301.75 394.60,301.48 395.65,301.19 396.70,300.90 397.75,300.62 398.80,300.36 399.95,300.11 401.16,299.87 402.25,299.66 403.00,299.52" fill="none" stroke="#7fd4f2" stroke-width="0.5" stroke-linejoin="round" stroke-linecap="round" stroke-opacity="0.95"/>
<circle cx="344.90" cy="342.92" r="0.5" fill="#7fd4f2"/>
<circle cx="347.30" cy="339.94" r="0.5" fill="#7fd4f2"/>
<circle cx="349.70" cy="337.51" r="0.5" fill="#7fd4f2"/>
<circle cx="352.10" cy="335.51" r="0.5" fill="#7fd4f2"/>
<circle cx="354.50" cy="333.40" r="0.5" fill="#7fd4f2"/>
<circle cx="356.90" cy="331.21" r="0.5" fill="#7fd4f2"/>
<circle cx="359.30" cy="328.89" r="0.5" fill="#7fd4f2"/>
<circle cx="361.70" cy="326.29" r="0.5" fill="#7fd4f2"/>
<circle cx="364.10" cy="323.31" r="0.5" fill="#7fd4f2"/>
<circle cx="366.50" cy="320.26" r="0.5" fill="#7fd4f2"/>
<circle cx="368.90" cy="317.20" r="0.5" fill="#7fd4f2"/>
<circle cx="371.30" cy="314.47" r="0.5" fill="#7fd4f2"/>
<circle cx="373.70" cy="312.02" r="0.5" fill="#7fd4f2"/>
<circle cx="376.10" cy="309.85" r="0.5" fill="#7fd4f2"/>
<circle cx="378.50" cy="307.95" r="0.5" fill="#7fd4f2"/>
<circle cx="380.90" cy="306.31" r="0.5" fill="#7fd4f2"/>
<circle cx="383.30" cy="305.07" r="0.5" fill="#7fd4f2"/>
<circle cx="385.70" cy="304.18" r="0.5" fill="#7fd4f2"/>
<circle cx="388.10" cy="303.33" r="0.5" fill="#7fd4f2"/>
<circle cx="390.50" cy="302.57" r="0.5" fill="#7fd4f2"/>
<circle cx="392.90" cy="301.92" r="0.5" fill="#7fd4f2"/>
<circle cx="395.30" cy="301.29" r="0.5" fill="#7fd4f2"/>
<circle cx="397.70" cy="300.63" r="0.5" fill="#7fd4f2"/>
<circle cx="400.10" cy="300.08" r="0.5" fill="#7fd4f2"/>
<circle cx="402.50" cy="299.62" r="0.5" fill="#7fd4f2"/>
<polyline points="344.90,355.80 345.26,354.87 345.77,353.52 346.38,352.09 347.00,350.90 347.63,349.99 348.31,349.19 349.03,348.55 349.80,348.10 350.63,347.84 351.51,347.75 352.41,347.84 353.30,348.10 354.18,348.61 355.05,349.35 355.93,350.16 356.80,350.90 357.68,351.58 358.55,352.26 359.43,352.86 360.30,353.28 361.18,353.49 362.05,353.55 362.93,353.47 363.80,353.28 364.68,352.99 365.55,352.59 366.43,352.04 367.30,351.32 368.18,350.39 369.05,349.28 369.93,348.04 370.80,346.70 371.68,345.26 372.55,343.70 373.43,342.06 374.30,340.40 375.18,338.68 376.05,336.90 376.93,335.12 377.80,333.40 378.68,331.75 379.55,330.14 380.43,328.58 381.30,327.10 382.18,325.70 383.05,324.36 383.93,323.10 384.80,321.92 385.68,320.82 386.55,319.79 387.43,318.85 388.30,318.00 389.16,317.27 390.01,316.64 390.88,316.07 391.80,315.48 392.82,314.85 393.90,314.22 394.98,313.62 396.00,313.10 396.92,312.67 397.79,312.31 398.64,312.00 399.50,311.70 400.46,311.40 401.47,311.12 402.37,310.89 403.00,310.72" fill="none" stroke="#1f77b4" stroke-width="0.5" stroke-linejoin="round" stroke-linecap="round" stroke-opacity="0.95"/>
<circle cx="344.90" cy="355.80" r="0.55" fill="#1f77b4"/>
<circle cx="347.30" cy="350.45" r="0.55" fill="#1f77b4"/>
<circle cx="349.70" cy="348.15" r="0.55" fill="#1f77b4"/>
<circle cx="352.10" cy="347.79" r="0.55" fill="#1f77b4"/>
<circle cx="354.50" cy="348.87" r="0.55" fill="#1f77b4"/>
<circle cx="356.90" cy="350.98" r="0.55" fill="#1f77b4"/>
<circle cx="359.30" cy="352.78" r="0.55" fill="#1f77b4"/>
<circle cx="361.70" cy="353.54" r="0.55" fill="#1f77b4"/>
<circle cx="364.10" cy="353.19" r="0.55" fill="#1f77b4"/>
<circle cx="366.50" cy="351.99" r="0.55" fill="#1f77b4"/>
<circle cx="368.90" cy="349.48" r="0.55" fill="#1f77b4"/>
<circle cx="371.30" cy="345.89" r="0.55" fill="#1f77b4"/>
<circle cx="373.70" cy="341.54" r="0.55" fill="#1f77b4"/>
<circle cx="376.10" cy="336.80" r="0.55" fill="#1f77b4"/>
<circle cx="378.50" cy="332.08" r="0.55" fill="#1f77b4"/>
<circle cx="380.90" cy="327.77" r="0.55" fill="#1f77b4"/>
<circle cx="383.30" cy="324.00" r="0.55" fill="#1f77b4"/>
<circle cx="385.70" cy="320.79" r="0.55" fill="#1f77b4"/>
<circle cx="388.10" cy="318.19" r="0.55" fill="#1f77b4"/>
<circle cx="390.50" cy="316.31" r="0.55" fill="#1f77b4"/>
<circle cx="392.90" cy="314.80" r="0.55" fill="#1f77b4"/>
<circle cx="395.30" cy="313.46" r="0.55" fill="#1f77b4"/>
<circle cx="397.70" cy="312.35" r="0.55" fill="#1f77b4"/>
<circle cx="400.10" cy="311.51" r="0.55" fill="#1f77b4"/>
<circle cx="402.50" cy="310.85" r="0.55" fill="#1f77b4"/>
<polyline points="344.90,341.80 345.51,341.06 346.39,340.01 347.39,338.80 348.40,337.60 349.40,336.42 350.46,335.19 351.53,333.94 352.60,332.70 353.65,331.46 354.70,330.21 355.75,328.98 356.80,327.80 357.85,326.70 358.90,325.66 359.95,324.63 361.00,323.60 362.05,322.55 363.10,321.50 364.15,320.45 365.20,319.40 366.25,318.33 367.30,317.26 368.35,316.20 369.40,315.20 370.45,314.26 371.50,313.36 372.55,312.51 373.60,311.70 374.65,310.93 375.70,310.19 376.75,309.51 377.80,308.90 378.85,308.37 379.90,307.90 380.95,307.48 382.00,307.08 383.05,306.69 384.10,306.34 385.15,306.00 386.20,305.68 387.25,305.37 388.30,305.08 389.35,304.81 390.40,304.56 391.45,304.33 392.50,304.12 393.55,303.92 394.60,303.72 395.65,303.50 396.70,303.28 397.75,303.07 398.80,302.88 399.95,302.71 401.16,302.55 402.25,302.41 403.00,302.32" fill="none" stroke="#ff5555" stroke-width="0.6" stroke-linejoin="round" stroke-linecap="round" stroke-opacity="0.95"/>
<circle cx="344.90" cy="341.80" r="0.45" fill="#ff5555"/>
<circle cx="347.30" cy="338.91" r="0.45" fill="#ff5555"/>
<circle cx="349.70" cy="336.07" r="0.45" fill="#ff5555"/>
<circle cx="352.10" cy="333.28" r="0.45" fill="#ff5555"/>
<circle cx="354.50" cy="330.44" r="0.45" fill="#ff5555"/>
<circle cx="356.90" cy="327.69" r="0.45" fill="#ff5555"/>
<circle cx="359.30" cy="325.27" r="0.45" fill="#ff5555"/>
<circle cx="361.70" cy="322.90" r="0.45" fill="#ff5555"/>
<circle cx="364.10" cy="320.50" r="0.45" fill="#ff5555"/>
<circle cx="366.50" cy="318.08" r="0.45" fill="#ff5555"/>
<circle cx="368.90" cy="315.67" r="0.45" fill="#ff5555"/>
<circle cx="371.30" cy="313.53" r="0.45" fill="#ff5555"/>
<circle cx="373.70" cy="311.63" r="0.45" fill="#ff5555"/>
<circle cx="376.10" cy="309.93" r="0.45" fill="#ff5555"/>
<circle cx="378.50" cy="308.54" r="0.45" fill="#ff5555"/>
<circle cx="380.90" cy="307.50" r="0.45" fill="#ff5555"/>
<circle cx="383.30" cy="306.61" r="0.45" fill="#ff5555"/>
<circle cx="385.70" cy="305.83" r="0.45" fill="#ff5555"/>
<circle cx="388.10" cy="305.14" r="0.45" fill="#ff5555"/>
<circle cx="390.50" cy="304.54" r="0.45" fill="#ff5555"/>
<circle cx="392.90" cy="304.05" r="0.45" fill="#ff5555"/>
<circle cx="395.30" cy="303.58" r="0.45" fill="#ff5555"/>
<circle cx="397.70" cy="303.08" r="0.45" fill="#ff5555"/>
<circle cx="400.10" cy="302.69" r="0.45" fill="#ff5555"/>
<circle cx="402.50" cy="302.38" r="0.45" fill="#ff5555"/>
<polyline points="344.90,350.20 345.39,349.65 346.08,348.84 346.89,348.02 347.70,347.40 348.53,347.04 349.41,346.81 350.31,346.71 351.20,346.70 352.07,346.82 352.95,347.06 353.82,347.37 354.70,347.68 355.57,348.03 356.45,348.44 357.32,348.82 358.20,349.08 359.07,349.22 359.95,349.27 360.82,349.23 361.70,349.08 362.57,348.82 363.45,348.46 364.32,347.99 365.20,347.40 366.07,346.70 366.95,345.89 367.82,344.97 368.70,343.90 369.57,342.66 370.45,341.27 371.32,339.80 372.20,338.30 373.07,336.76 373.95,335.17 374.82,333.56 375.70,332.00 376.57,330.47 377.45,328.95 378.32,327.49 379.20,326.12 380.07,324.85 380.95,323.66 381.82,322.55 382.70,321.50 383.56,320.53 384.41,319.64 385.28,318.80 386.20,318.00 387.20,317.23 388.26,316.51 389.33,315.83 390.40,315.20 391.45,314.62 392.50,314.09 393.55,313.59 394.60,313.10 395.65,312.62 396.70,312.15 397.75,311.70 398.80,311.28 399.95,310.87 401.16,310.47 402.25,310.12 403.00,309.88" fill="none" stroke="#9a0000" stroke-width="0.6" stroke-linejoin="round" stroke-linecap="round" stroke-opacity="0.95"/>
<circle cx="344.90" cy="350.20" r="0.64" fill="#9a0000"/>
<circle cx="347.30" cy="347.67" r="0.64" fill="#9a0000"/>
<circle cx="349.70" cy="346.77" r="0.64" fill="#9a0000"/>
<circle cx="352.10" cy="346.82" r="0.64" fill="#9a0000"/>
<circle cx="354.50" cy="347.61" r="0.64" fill="#9a0000"/>
<circle cx="356.90" cy="348.64" r="0.64" fill="#9a0000"/>
<circle cx="359.30" cy="349.24" r="0.64" fill="#9a0000"/>
<circle cx="361.70" cy="349.08" r="0.64" fill="#9a0000"/>
<circle cx="364.10" cy="348.12" r="0.64" fill="#9a0000"/>
<circle cx="366.50" cy="346.32" r="0.64" fill="#9a0000"/>
<circle cx="368.90" cy="343.63" r="0.64" fill="#9a0000"/>
<circle cx="371.30" cy="339.84" r="0.64" fill="#9a0000"/>
<circle cx="373.70" cy="335.63" r="0.64" fill="#9a0000"/>
<circle cx="376.10" cy="331.30" r="0.64" fill="#9a0000"/>
<circle cx="378.50" cy="327.21" r="0.64" fill="#9a0000"/>
<circle cx="380.90" cy="323.73" r="0.64" fill="#9a0000"/>
<circle cx="383.30" cy="320.82" r="0.64" fill="#9a0000"/>
<circle cx="385.70" cy="318.42" r="0.64" fill="#9a0000"/>
<circle cx="388.10" cy="316.62" r="0.64" fill="#9a0000"/>
<circle cx="390.50" cy="315.14" r="0.64" fill="#9a0000"/>
<circle cx="392.90" cy="313.90" r="0.64" fill="#9a0000"/>
<circle cx="395.30" cy="312.78" r="0.64" fill="#9a0000"/>
<circle cx="397.70" cy="311.72" r="0.64" fill="#9a0000"/>
<circle cx="400.10" cy="310.82" r="0.64" fill="#9a0000"/>
<circle cx="402.50" cy="310.04" r="0.64" fill="#9a0000"/>
<rect x="342.50" y="293.10" width="63.30" height="66.00" fill="none" stroke="#3c3c3c" stroke-width="0.65" rx="0"/>
<text x="374.15" y="373.20" font-size="5.7" text-anchor="middle" font-family="Liberation Serif" font-weight="normal" fill="#000">Period (s)</text>
<line x1="430.72" y1="293.10" x2="430.72" y2="359.10" stroke="#c8c8c8" stroke-width="0.42" stroke-dasharray="0.9 0.9"/>
<line x1="430.72" y1="359.10" x2="430.72" y2="360.70" stroke="#222" stroke-width="0.45"/>
<line x1="453.12" y1="293.10" x2="453.12" y2="359.10" stroke="#c8c8c8" stroke-width="0.42" stroke-dasharray="0.9 0.9"/>
<line x1="453.12" y1="359.10" x2="453.12" y2="360.70" stroke="#222" stroke-width="0.45"/>
<line x1="412.20" y1="293.50" x2="475.50" y2="293.50" stroke="#c8c8c8" stroke-width="0.42" stroke-dasharray="0.9 0.9"/>
<line x1="410.60" y1="293.50" x2="412.20" y2="293.50" stroke="#222" stroke-width="0.45"/>
<line x1="412.20" y1="318.70" x2="475.50" y2="318.70" stroke="#c8c8c8" stroke-width="0.42" stroke-dasharray="0.9 0.9"/>
<line x1="410.60" y1="318.70" x2="412.20" y2="318.70" stroke="#222" stroke-width="0.45"/>
<line x1="412.20" y1="343.20" x2="475.50" y2="343.20" stroke="#c8c8c8" stroke-width="0.42" stroke-dasharray="0.9 0.9"/>
<line x1="410.60" y1="343.20" x2="412.20" y2="343.20" stroke="#222" stroke-width="0.45"/>
<polyline points="414.20,334.52 416.30,334.80 418.40,335.50 421.90,334.10 426.10,331.30 430.30,327.10 434.50,322.48 438.70,317.30 442.90,311.28 445.70,307.50 447.80,304.70 450.60,303.30 454.80,301.48 459.70,298.68 463.90,297.00 468.10,296.30 472.72,295.60" fill="none" stroke="#000000" stroke-width="0.45" stroke-linejoin="miter" stroke-linecap="round" stroke-opacity="0.9"/>
<circle cx="414.20" cy="334.52" r="0.78" fill="#000000"/>
<circle cx="416.30" cy="334.80" r="0.78" fill="#000000"/>
<circle cx="418.40" cy="335.50" r="0.78" fill="#000000"/>
<circle cx="420.15" cy="334.80" r="0.78" fill="#000000"/>
<circle cx="421.90" cy="334.10" r="0.78" fill="#000000"/>
<circle cx="424.00" cy="332.70" r="0.78" fill="#000000"/>
<circle cx="426.10" cy="331.30" r="0.78" fill="#000000"/>
<circle cx="428.20" cy="329.20" r="0.78" fill="#000000"/>
<circle cx="430.30" cy="327.10" r="0.78" fill="#000000"/>
<circle cx="432.40" cy="324.79" r="0.78" fill="#000000"/>
<circle cx="434.50" cy="322.48" r="0.78" fill="#000000"/>
<circle cx="436.60" cy="319.89" r="0.78" fill="#000000"/>
<circle cx="438.70" cy="317.30" r="0.78" fill="#000000"/>
<circle cx="440.80" cy="314.29" r="0.78" fill="#000000"/>
<circle cx="442.90" cy="311.28" r="0.78" fill="#000000"/>
<circle cx="445.70" cy="307.50" r="0.78" fill="#000000"/>
<circle cx="447.80" cy="304.70" r="0.78" fill="#000000"/>
<circle cx="450.60" cy="303.30" r="0.78" fill="#000000"/>
<circle cx="452.70" cy="302.39" r="0.78" fill="#000000"/>
<circle cx="454.80" cy="301.48" r="0.78" fill="#000000"/>
<circle cx="457.25" cy="300.08" r="0.78" fill="#000000"/>
<circle cx="459.70" cy="298.68" r="0.78" fill="#000000"/>
<circle cx="461.80" cy="297.84" r="0.78" fill="#000000"/>
<circle cx="463.90" cy="297.00" r="0.78" fill="#000000"/>
<circle cx="466.00" cy="296.65" r="0.78" fill="#000000"/>
<circle cx="468.10" cy="296.30" r="0.78" fill="#000000"/>
<circle cx="470.41" cy="295.95" r="0.78" fill="#000000"/>
<circle cx="472.72" cy="295.60" r="0.78" fill="#000000"/>
<polyline points="414.20,339.70 417.00,339.70 420.50,339.28 423.30,341.10 426.10,346.70 428.90,351.60 431.70,353.70 435.20,353.70 438.00,352.30 440.10,355.80 442.20,350.90 445.70,348.80 447.80,341.10 451.30,332.00 454.80,325.70 456.90,322.90 459.70,318.70 463.20,314.50 466.70,312.40 470.20,310.30 472.72,308.48" fill="none" stroke="#3a3a3a" stroke-width="0.4" stroke-linejoin="miter" stroke-linecap="round" stroke-opacity="0.8"/>
<rect x="413.55" y="339.05" width="1.3" height="1.3" fill="#e8e8e8" stroke="#3a3a3a" stroke-width="0.3"/>
<rect x="416.35" y="339.05" width="1.3" height="1.3" fill="#e8e8e8" stroke="#3a3a3a" stroke-width="0.3"/>
<rect x="418.10" y="338.84" width="1.3" height="1.3" fill="#e8e8e8" stroke="#3a3a3a" stroke-width="0.3"/>
<rect x="419.85" y="338.63" width="1.3" height="1.3" fill="#e8e8e8" stroke="#3a3a3a" stroke-width="0.3"/>
<rect x="422.65" y="340.45" width="1.3" height="1.3" fill="#e8e8e8" stroke="#3a3a3a" stroke-width="0.3"/>
<rect x="425.45" y="346.05" width="1.3" height="1.3" fill="#e8e8e8" stroke="#3a3a3a" stroke-width="0.3"/>
<rect x="428.25" y="350.95" width="1.3" height="1.3" fill="#e8e8e8" stroke="#3a3a3a" stroke-width="0.3"/>
<rect x="431.05" y="353.05" width="1.3" height="1.3" fill="#e8e8e8" stroke="#3a3a3a" stroke-width="0.3"/>
<rect x="432.80" y="353.05" width="1.3" height="1.3" fill="#e8e8e8" stroke="#3a3a3a" stroke-width="0.3"/>
<rect x="434.55" y="353.05" width="1.3" height="1.3" fill="#e8e8e8" stroke="#3a3a3a" stroke-width="0.3"/>
<rect x="437.35" y="351.65" width="1.3" height="1.3" fill="#e8e8e8" stroke="#3a3a3a" stroke-width="0.3"/>
<rect x="439.45" y="355.15" width="1.3" height="1.3" fill="#e8e8e8" stroke="#3a3a3a" stroke-width="0.3"/>
<rect x="441.55" y="350.25" width="1.3" height="1.3" fill="#e8e8e8" stroke="#3a3a3a" stroke-width="0.3"/>
<rect x="443.30" y="349.20" width="1.3" height="1.3" fill="#e8e8e8" stroke="#3a3a3a" stroke-width="0.3"/>
<rect x="445.05" y="348.15" width="1.3" height="1.3" fill="#e8e8e8" stroke="#3a3a3a" stroke-width="0.3"/>
<rect x="447.15" y="340.45" width="1.3" height="1.3" fill="#e8e8e8" stroke="#3a3a3a" stroke-width="0.3"/>
<rect x="448.90" y="335.90" width="1.3" height="1.3" fill="#e8e8e8" stroke="#3a3a3a" stroke-width="0.3"/>
<rect x="450.65" y="331.35" width="1.3" height="1.3" fill="#e8e8e8" stroke="#3a3a3a" stroke-width="0.3"/>
<rect x="452.40" y="328.20" width="1.3" height="1.3" fill="#e8e8e8" stroke="#3a3a3a" stroke-width="0.3"/>
<rect x="454.15" y="325.05" width="1.3" height="1.3" fill="#e8e8e8" stroke="#3a3a3a" stroke-width="0.3"/>
<rect x="456.25" y="322.25" width="1.3" height="1.3" fill="#e8e8e8" stroke="#3a3a3a" stroke-width="0.3"/>
<rect x="459.05" y="318.05" width="1.3" height="1.3" fill="#e8e8e8" stroke="#3a3a3a" stroke-width="0.3"/>
<rect x="460.80" y="315.95" width="1.3" height="1.3" fill="#e8e8e8" stroke="#3a3a3a" stroke-width="0.3"/>
<rect x="462.55" y="313.85" width="1.3" height="1.3" fill="#e8e8e8" stroke="#3a3a3a" stroke-width="0.3"/>
<rect x="464.30" y="312.80" width="1.3" height="1.3" fill="#e8e8e8" stroke="#3a3a3a" stroke-width="0.3"/>
<rect x="466.05" y="311.75" width="1.3" height="1.3" fill="#e8e8e8" stroke="#3a3a3a" stroke-width="0.3"/>
<rect x="467.80" y="310.70" width="1.3" height="1.3" fill="#e8e8e8" stroke="#3a3a3a" stroke-width="0.3"/>
<rect x="469.55" y="309.65" width="1.3" height="1.3" fill="#e8e8e8" stroke="#3a3a3a" stroke-width="0.3"/>
<rect x="472.07" y="307.83" width="1.3" height="1.3" fill="#e8e8e8" stroke="#3a3a3a" stroke-width="0.3"/>
<polyline points="414.20,336.20 414.81,336.19 415.69,336.17 416.69,336.10 417.70,335.92 418.70,335.59 419.76,335.14 420.83,334.63 421.90,334.10 422.95,333.59 424.00,333.06 425.05,332.46 426.10,331.72 427.15,330.81 428.20,329.76 429.25,328.64 430.30,327.52 431.35,326.41 432.40,325.27 433.45,324.10 434.50,322.90 435.55,321.65 436.60,320.37 437.65,319.06 438.70,317.72 439.75,316.33 440.80,314.88 441.85,313.46 442.90,312.12 443.95,310.87 445.00,309.67 446.05,308.54 447.10,307.50 448.15,306.55 449.20,305.69 450.25,304.89 451.30,304.14 452.35,303.44 453.40,302.80 454.45,302.20 455.50,301.62 456.55,301.05 457.60,300.50 458.65,299.99 459.70,299.52 460.75,299.11 461.80,298.74 462.85,298.41 463.90,298.12 464.94,297.86 465.97,297.65 467.02,297.46 468.10,297.28 469.33,297.11 470.67,296.95 471.88,296.81 472.72,296.72" fill="none" stroke="#7fd4f2" stroke-width="0.5" stroke-linejoin="round" stroke-linecap="round" stroke-opacity="0.95"/>
<circle cx="414.20" cy="336.20" r="0.5" fill="#7fd4f2"/>
<circle cx="416.60" cy="336.11" r="0.5" fill="#7fd4f2"/>
<circle cx="419.00" cy="335.47" r="0.5" fill="#7fd4f2"/>
<circle cx="421.40" cy="334.35" r="0.5" fill="#7fd4f2"/>
<circle cx="423.80" cy="333.16" r="0.5" fill="#7fd4f2"/>
<circle cx="426.20" cy="331.64" r="0.5" fill="#7fd4f2"/>
<circle cx="428.60" cy="329.34" r="0.5" fill="#7fd4f2"/>
<circle cx="431.00" cy="326.78" r="0.5" fill="#7fd4f2"/>
<circle cx="433.40" cy="324.16" r="0.5" fill="#7fd4f2"/>
<circle cx="435.80" cy="321.35" r="0.5" fill="#7fd4f2"/>
<circle cx="438.20" cy="318.36" r="0.5" fill="#7fd4f2"/>
<circle cx="440.60" cy="315.16" r="0.5" fill="#7fd4f2"/>
<circle cx="443.00" cy="312.00" r="0.5" fill="#7fd4f2"/>
<circle cx="445.40" cy="309.23" r="0.5" fill="#7fd4f2"/>
<circle cx="447.80" cy="306.86" r="0.5" fill="#7fd4f2"/>
<circle cx="450.20" cy="304.93" r="0.5" fill="#7fd4f2"/>
<circle cx="452.60" cy="303.29" r="0.5" fill="#7fd4f2"/>
<circle cx="455.00" cy="301.90" r="0.5" fill="#7fd4f2"/>
<circle cx="457.40" cy="300.60" r="0.5" fill="#7fd4f2"/>
<circle cx="459.80" cy="299.48" r="0.5" fill="#7fd4f2"/>
<circle cx="462.20" cy="298.61" r="0.5" fill="#7fd4f2"/>
<circle cx="464.60" cy="297.94" r="0.5" fill="#7fd4f2"/>
<circle cx="467.00" cy="297.46" r="0.5" fill="#7fd4f2"/>
<circle cx="469.40" cy="297.10" r="0.5" fill="#7fd4f2"/>
<circle cx="471.80" cy="296.82" r="0.5" fill="#7fd4f2"/>
<polyline points="414.20,343.90 414.69,343.06 415.38,341.84 416.19,340.60 417.00,339.70 417.83,339.18 418.71,338.87 419.61,338.80 420.50,339.00 421.38,339.55 422.25,340.42 423.12,341.45 424.00,342.50 424.88,343.62 425.75,344.85 426.62,346.07 427.50,347.12 428.38,347.98 429.25,348.71 430.12,349.35 431.00,349.92 431.88,350.42 432.75,350.84 433.62,351.18 434.50,351.46 435.38,351.70 436.25,351.90 437.12,351.98 438.00,351.88 438.88,351.60 439.75,351.16 440.62,350.56 441.50,349.78 442.38,348.78 443.25,347.59 444.12,346.27 445.00,344.88 445.88,343.40 446.75,341.82 447.62,340.19 448.50,338.58 449.38,336.99 450.25,335.39 451.12,333.81 452.00,332.28 452.88,330.81 453.75,329.39 454.62,328.01 455.50,326.68 456.38,325.39 457.25,324.14 458.12,322.94 459.00,321.78 459.88,320.65 460.75,319.57 461.62,318.53 462.50,317.58 463.38,316.72 464.25,315.94 465.12,315.20 466.00,314.50 466.88,313.82 467.77,313.17 468.64,312.56 469.50,311.98 470.40,311.40 471.33,310.84 472.15,310.36 472.72,310.02" fill="none" stroke="#1f77b4" stroke-width="0.5" stroke-linejoin="round" stroke-linecap="round" stroke-opacity="0.95"/>
<circle cx="414.20" cy="343.90" r="0.55" fill="#1f77b4"/>
<circle cx="416.60" cy="340.08" r="0.55" fill="#1f77b4"/>
<circle cx="419.00" cy="338.82" r="0.55" fill="#1f77b4"/>
<circle cx="421.40" cy="339.58" r="0.55" fill="#1f77b4"/>
<circle cx="423.80" cy="342.26" r="0.55" fill="#1f77b4"/>
<circle cx="426.20" cy="345.49" r="0.55" fill="#1f77b4"/>
<circle cx="428.60" cy="348.17" r="0.55" fill="#1f77b4"/>
<circle cx="431.00" cy="349.92" r="0.55" fill="#1f77b4"/>
<circle cx="433.40" cy="351.10" r="0.55" fill="#1f77b4"/>
<circle cx="435.80" cy="351.81" r="0.55" fill="#1f77b4"/>
<circle cx="438.20" cy="351.82" r="0.55" fill="#1f77b4"/>
<circle cx="440.60" cy="350.58" r="0.55" fill="#1f77b4"/>
<circle cx="443.00" cy="347.94" r="0.55" fill="#1f77b4"/>
<circle cx="445.40" cy="344.22" r="0.55" fill="#1f77b4"/>
<circle cx="447.80" cy="339.86" r="0.55" fill="#1f77b4"/>
<circle cx="450.20" cy="335.48" r="0.55" fill="#1f77b4"/>
<circle cx="452.60" cy="331.27" r="0.55" fill="#1f77b4"/>
<circle cx="455.00" cy="327.44" r="0.55" fill="#1f77b4"/>
<circle cx="457.40" cy="323.93" r="0.55" fill="#1f77b4"/>
<circle cx="459.80" cy="320.75" r="0.55" fill="#1f77b4"/>
<circle cx="462.20" cy="317.90" r="0.55" fill="#1f77b4"/>
<circle cx="464.60" cy="315.64" r="0.55" fill="#1f77b4"/>
<circle cx="467.00" cy="313.73" r="0.55" fill="#1f77b4"/>
<circle cx="469.40" cy="312.05" r="0.55" fill="#1f77b4"/>
<circle cx="471.80" cy="310.56" r="0.55" fill="#1f77b4"/>
<polyline points="414.20,337.60 414.81,337.22 415.69,336.66 416.69,336.05 417.70,335.50 418.70,335.04 419.76,334.61 420.83,334.17 421.90,333.68 422.95,333.17 424.00,332.64 425.05,332.04 426.10,331.30 427.15,330.39 428.20,329.34 429.25,328.22 430.30,327.10 431.35,325.99 432.40,324.85 433.45,323.68 434.50,322.48 435.55,321.23 436.60,319.95 437.65,318.64 438.70,317.30 439.75,315.91 440.80,314.47 441.85,313.04 442.90,311.70 443.95,310.45 445.00,309.25 446.05,308.12 447.10,307.08 448.15,306.13 449.20,305.27 450.25,304.47 451.30,303.72 452.35,303.02 453.40,302.38 454.45,301.78 455.50,301.20 456.55,300.63 457.60,300.08 458.65,299.57 459.70,299.10 460.75,298.69 461.80,298.33 462.85,298.00 463.90,297.70 464.94,297.42 465.97,297.18 467.02,296.95 468.10,296.72 469.33,296.48 470.67,296.24 471.88,296.03 472.72,295.88" fill="none" stroke="#ff5555" stroke-width="0.6" stroke-linejoin="round" stroke-linecap="round" stroke-opacity="0.95"/>
<circle cx="414.20" cy="337.60" r="0.45" fill="#ff5555"/>
<circle cx="416.60" cy="336.11" r="0.45" fill="#ff5555"/>
<circle cx="419.00" cy="334.91" r="0.45" fill="#ff5555"/>
<circle cx="421.40" cy="333.92" r="0.45" fill="#ff5555"/>
<circle cx="423.80" cy="332.74" r="0.45" fill="#ff5555"/>
<circle cx="426.20" cy="331.22" r="0.45" fill="#ff5555"/>
<circle cx="428.60" cy="328.92" r="0.45" fill="#ff5555"/>
<circle cx="431.00" cy="326.36" r="0.45" fill="#ff5555"/>
<circle cx="433.40" cy="323.74" r="0.45" fill="#ff5555"/>
<circle cx="435.80" cy="320.93" r="0.45" fill="#ff5555"/>
<circle cx="438.20" cy="317.94" r="0.45" fill="#ff5555"/>
<circle cx="440.60" cy="314.74" r="0.45" fill="#ff5555"/>
<circle cx="443.00" cy="311.58" r="0.45" fill="#ff5555"/>
<circle cx="445.40" cy="308.81" r="0.45" fill="#ff5555"/>
<circle cx="447.80" cy="306.44" r="0.45" fill="#ff5555"/>
<circle cx="450.20" cy="304.51" r="0.45" fill="#ff5555"/>
<circle cx="452.60" cy="302.87" r="0.45" fill="#ff5555"/>
<circle cx="455.00" cy="301.48" r="0.45" fill="#ff5555"/>
<circle cx="457.40" cy="300.18" r="0.45" fill="#ff5555"/>
<circle cx="459.80" cy="299.06" r="0.45" fill="#ff5555"/>
<circle cx="462.20" cy="298.20" r="0.45" fill="#ff5555"/>
<circle cx="464.60" cy="297.51" r="0.45" fill="#ff5555"/>
<circle cx="467.00" cy="296.95" r="0.45" fill="#ff5555"/>
<circle cx="469.40" cy="296.47" r="0.45" fill="#ff5555"/>
<circle cx="471.80" cy="296.04" r="0.45" fill="#ff5555"/>
<polyline points="414.20,342.50 414.69,342.21 415.38,341.77 416.19,341.35 417.00,341.10 417.83,341.03 418.71,341.07 419.61,341.23 420.50,341.52 421.38,341.95 422.25,342.52 423.12,343.18 424.00,343.90 424.88,344.71 425.75,345.62 426.62,346.55 427.50,347.40 428.38,348.18 429.25,348.91 430.12,349.60 431.00,350.20 431.88,350.73 432.75,351.19 433.62,351.57 434.50,351.88 435.38,352.13 436.25,352.33 437.12,352.40 438.00,352.30 438.88,352.02 439.75,351.58 440.62,350.98 441.50,350.20 442.38,349.20 443.25,348.01 444.12,346.69 445.00,345.30 445.88,343.82 446.75,342.24 447.62,340.61 448.50,339.00 449.38,337.41 450.25,335.81 451.12,334.23 452.00,332.70 452.88,331.23 453.75,329.81 454.62,328.43 455.50,327.10 456.38,325.81 457.25,324.56 458.12,323.36 459.00,322.20 459.88,321.07 460.75,319.99 461.62,318.95 462.50,318.00 463.38,317.14 464.25,316.35 465.12,315.62 466.00,314.92 466.88,314.24 467.77,313.60 468.64,312.99 469.50,312.40 470.40,311.80 471.33,311.19 472.15,310.67 472.72,310.30" fill="none" stroke="#9a0000" stroke-width="0.6" stroke-linejoin="round" stroke-linecap="round" stroke-opacity="0.95"/>
<circle cx="414.20" cy="342.50" r="0.64" fill="#9a0000"/>
<circle cx="416.60" cy="341.20" r="0.64" fill="#9a0000"/>
<circle cx="419.00" cy="341.12" r="0.64" fill="#9a0000"/>
<circle cx="421.40" cy="341.97" r="0.64" fill="#9a0000"/>
<circle cx="423.80" cy="343.73" r="0.64" fill="#9a0000"/>
<circle cx="426.20" cy="346.10" r="0.64" fill="#9a0000"/>
<circle cx="428.60" cy="348.37" r="0.64" fill="#9a0000"/>
<circle cx="431.00" cy="350.20" r="0.64" fill="#9a0000"/>
<circle cx="433.40" cy="351.48" r="0.64" fill="#9a0000"/>
<circle cx="435.80" cy="352.24" r="0.64" fill="#9a0000"/>
<circle cx="438.20" cy="352.24" r="0.64" fill="#9a0000"/>
<circle cx="440.60" cy="351.00" r="0.64" fill="#9a0000"/>
<circle cx="443.00" cy="348.36" r="0.64" fill="#9a0000"/>
<circle cx="445.40" cy="344.64" r="0.64" fill="#9a0000"/>
<circle cx="447.80" cy="340.28" r="0.64" fill="#9a0000"/>
<circle cx="450.20" cy="335.90" r="0.64" fill="#9a0000"/>
<circle cx="452.60" cy="331.69" r="0.64" fill="#9a0000"/>
<circle cx="455.00" cy="327.86" r="0.64" fill="#9a0000"/>
<circle cx="457.40" cy="324.35" r="0.64" fill="#9a0000"/>
<circle cx="459.80" cy="321.17" r="0.64" fill="#9a0000"/>
<circle cx="462.20" cy="318.32" r="0.64" fill="#9a0000"/>
<circle cx="464.60" cy="316.06" r="0.64" fill="#9a0000"/>
<circle cx="467.00" cy="314.15" r="0.64" fill="#9a0000"/>
<circle cx="469.40" cy="312.47" r="0.64" fill="#9a0000"/>
<circle cx="471.80" cy="310.89" r="0.64" fill="#9a0000"/>
<rect x="412.20" y="293.10" width="63.30" height="66.00" fill="none" stroke="#3c3c3c" stroke-width="0.65" rx="0"/>
<text x="443.85" y="373.20" font-size="5.7" text-anchor="middle" font-family="Liberation Serif" font-weight="normal" fill="#000">Period (s)</text>
<text x="269.60" y="151.50" font-size="5.3" text-anchor="end" font-family="Liberation Serif" font-weight="normal" fill="#000">4.0</text>
<text x="269.60" y="170.30" font-size="5.3" text-anchor="end" font-family="Liberation Serif" font-weight="normal" fill="#000">3.5</text>
<text x="269.60" y="189.80" font-size="5.3" text-anchor="end" font-family="Liberation Serif" font-weight="normal" fill="#000">3.0</text>
<text x="269.60" y="209.10" font-size="5.3" text-anchor="end" font-family="Liberation Serif" font-weight="normal" fill="#000">2.5</text>
<text x="269.60" y="233.10" font-size="5.3" text-anchor="end" font-family="Liberation Serif" font-weight="normal" fill="#000">3.4</text>
<text x="269.60" y="249.20" font-size="5.3" text-anchor="end" font-family="Liberation Serif" font-weight="normal" fill="#000">3.2</text>
<text x="269.60" y="264.60" font-size="5.3" text-anchor="end" font-family="Liberation Serif" font-weight="normal" fill="#000">3.0</text>
<text x="269.60" y="280.30" font-size="5.3" text-anchor="end" font-family="Liberation Serif" font-weight="normal" fill="#000">2.8</text>
<text x="269.60" y="298.10" font-size="5.3" text-anchor="end" font-family="Liberation Serif" font-weight="normal" fill="#000">3.75</text>
<text x="269.60" y="313.10" font-size="5.3" text-anchor="end" font-family="Liberation Serif" font-weight="normal" fill="#000">3.50</text>
<text x="269.60" y="328.90" font-size="5.3" text-anchor="end" font-family="Liberation Serif" font-weight="normal" fill="#000">3.25</text>
<text x="269.60" y="344.30" font-size="5.3" text-anchor="end" font-family="Liberation Serif" font-weight="normal" fill="#000">3.00</text>
<text x="269.60" y="360.00" font-size="5.3" text-anchor="end" font-family="Liberation Serif" font-weight="normal" fill="#000">2.75</text>
<text x="296.60" y="366.30" font-size="5.3" text-anchor="middle" font-family="Liberation Serif" font-weight="normal" fill="#000">20</text>
<text x="332.70" y="366.30" font-size="5.3" text-anchor="middle" font-family="Liberation Serif" font-weight="normal" fill="#000">40</text>
<text x="360.70" y="366.30" font-size="5.3" text-anchor="middle" font-family="Liberation Serif" font-weight="normal" fill="#000">25</text>
<text x="383.70" y="366.30" font-size="5.3" text-anchor="middle" font-family="Liberation Serif" font-weight="normal" fill="#000">50</text>
<text x="430.50" y="366.30" font-size="5.3" text-anchor="middle" font-family="Liberation Serif" font-weight="normal" fill="#000">25</text>
<text x="453.10" y="366.30" font-size="5.3" text-anchor="middle" font-family="Liberation Serif" font-weight="normal" fill="#000">50</text>
<text x="245.80" y="153.60" font-size="7.0" text-anchor="start" font-family="Liberation Sans" font-weight="bold" fill="#000" textLength="9.6" lengthAdjust="spacingAndGlyphs">(c)</text>
<rect x="244.00" y="375.00" width="239.20" height="16.90" fill="#fff" stroke="#d4d4d4" stroke-width="0.5" rx="1"/>
<line x1="247.30" y1="379.20" x2="257.90" y2="379.20" stroke="#000000" stroke-width="0.55" stroke-opacity="0.75"/>
<circle cx="252.60" cy="379.20" r="1.13" fill="#000000"/>
<text x="262.90" y="381.00" font-size="5.6" text-anchor="start" font-family="Liberation Serif" font-weight="normal" fill="#000">observed phase velocity</text>
<line x1="247.30" y1="387.20" x2="257.90" y2="387.20" stroke="#3a3a3a" stroke-width="0.55" stroke-opacity="0.75"/>
<rect x="251.70" y="386.30" width="1.8" height="1.8" fill="#999" stroke="#3a3a3a" stroke-width="0.3"/>
<text x="262.90" y="389.00" font-size="5.6" text-anchor="start" font-family="Liberation Serif" font-weight="normal" fill="#000">observed group velocity</text>
<line x1="328.40" y1="379.20" x2="339.00" y2="379.20" stroke="#7fd4f2" stroke-width="0.55" stroke-opacity="0.75"/>
<circle cx="333.70" cy="379.20" r="0.85" fill="#7fd4f2"/>
<text x="344.00" y="381.00" font-size="5.6" text-anchor="start" font-family="Liberation Serif" font-weight="normal" fill="#000">reference phase velocity</text>
<line x1="328.40" y1="387.20" x2="339.00" y2="387.20" stroke="#1f77b4" stroke-width="0.55" stroke-opacity="0.75"/>
<circle cx="333.70" cy="387.20" r="0.9" fill="#1f77b4"/>
<text x="344.00" y="389.00" font-size="5.6" text-anchor="start" font-family="Liberation Serif" font-weight="normal" fill="#000">reference group velocity</text>
<line x1="410.70" y1="379.20" x2="421.30" y2="379.20" stroke="#ff5555" stroke-width="0.6" stroke-opacity="0.75"/>
<circle cx="416.00" cy="379.20" r="0.8" fill="#ff5555"/>
<text x="426.30" y="381.00" font-size="5.6" text-anchor="start" font-family="Liberation Serif" font-weight="normal" fill="#000">inversion phase velocity</text>
<line x1="410.70" y1="387.20" x2="421.30" y2="387.20" stroke="#9a0000" stroke-width="0.6" stroke-opacity="0.75"/>
<circle cx="416.00" cy="387.20" r="0.99" fill="#9a0000"/>
<text x="426.30" y="389.00" font-size="5.6" text-anchor="start" font-family="Liberation Serif" font-weight="normal" fill="#000">inversion group velocity</text>
<line x1="53.67" y1="405.10" x2="53.67" y2="524.90" stroke="#c8c8c8" stroke-width="0.42" stroke-dasharray="0.9 0.9"/>
<line x1="75.43" y1="405.10" x2="75.43" y2="524.90" stroke="#c8c8c8" stroke-width="0.42" stroke-dasharray="0.9 0.9"/>
<line x1="118.97" y1="405.10" x2="118.97" y2="524.90" stroke="#c8c8c8" stroke-width="0.42" stroke-dasharray="0.9 0.9"/>
<line x1="140.73" y1="405.10" x2="140.73" y2="524.90" stroke="#c8c8c8" stroke-width="0.42" stroke-dasharray="0.9 0.9"/>
<line x1="31.60" y1="411.30" x2="162.20" y2="411.30" stroke="#c8c8c8" stroke-width="0.42" stroke-dasharray="0.9 0.9"/>
<line x1="30.00" y1="411.30" x2="31.60" y2="411.30" stroke="#222" stroke-width="0.45"/>
<text x="29.00" y="413.10" font-size="5.3" text-anchor="end" font-family="Liberation Serif" font-weight="normal" fill="#000">0.0175</text>
<line x1="31.60" y1="427.50" x2="162.20" y2="427.50" stroke="#c8c8c8" stroke-width="0.42" stroke-dasharray="0.9 0.9"/>
<line x1="30.00" y1="427.50" x2="31.60" y2="427.50" stroke="#222" stroke-width="0.45"/>
<text x="29.00" y="429.30" font-size="5.3" text-anchor="end" font-family="Liberation Serif" font-weight="normal" fill="#000">0.0150</text>
<line x1="31.60" y1="443.50" x2="162.20" y2="443.50" stroke="#c8c8c8" stroke-width="0.42" stroke-dasharray="0.9 0.9"/>
<line x1="30.00" y1="443.50" x2="31.60" y2="443.50" stroke="#222" stroke-width="0.45"/>
<text x="29.00" y="445.30" font-size="5.3" text-anchor="end" font-family="Liberation Serif" font-weight="normal" fill="#000">0.0125</text>
<line x1="31.60" y1="459.90" x2="162.20" y2="459.90" stroke="#c8c8c8" stroke-width="0.42" stroke-dasharray="0.9 0.9"/>
<line x1="30.00" y1="459.90" x2="31.60" y2="459.90" stroke="#222" stroke-width="0.45"/>
<text x="29.00" y="461.70" font-size="5.3" text-anchor="end" font-family="Liberation Serif" font-weight="normal" fill="#000">0.0100</text>
<line x1="31.60" y1="476.10" x2="162.20" y2="476.10" stroke="#c8c8c8" stroke-width="0.42" stroke-dasharray="0.9 0.9"/>
<line x1="30.00" y1="476.10" x2="31.60" y2="476.10" stroke="#222" stroke-width="0.45"/>
<text x="29.00" y="477.90" font-size="5.3" text-anchor="end" font-family="Liberation Serif" font-weight="normal" fill="#000">0.0075</text>
<line x1="31.60" y1="492.30" x2="162.20" y2="492.30" stroke="#c8c8c8" stroke-width="0.42" stroke-dasharray="0.9 0.9"/>
<line x1="30.00" y1="492.30" x2="31.60" y2="492.30" stroke="#222" stroke-width="0.45"/>
<text x="29.00" y="494.10" font-size="5.3" text-anchor="end" font-family="Liberation Serif" font-weight="normal" fill="#000">0.0050</text>
<line x1="31.60" y1="508.50" x2="162.20" y2="508.50" stroke="#c8c8c8" stroke-width="0.42" stroke-dasharray="0.9 0.9"/>
<line x1="30.00" y1="508.50" x2="31.60" y2="508.50" stroke="#222" stroke-width="0.45"/>
<text x="29.00" y="510.30" font-size="5.3" text-anchor="end" font-family="Liberation Serif" font-weight="normal" fill="#000">0.0025</text>
<line x1="30.00" y1="524.70" x2="31.60" y2="524.70" stroke="#222" stroke-width="0.45"/>
<text x="29.00" y="526.50" font-size="5.3" text-anchor="end" font-family="Liberation Serif" font-weight="normal" fill="#000">0.0000</text>
<line x1="31.90" y1="524.90" x2="31.90" y2="526.50" stroke="#222" stroke-width="0.45"/>
<text x="31.90" y="532.60" font-size="5.3" text-anchor="middle" font-family="Liberation Serif" font-weight="normal" fill="#000">−300</text>
<line x1="53.67" y1="524.90" x2="53.67" y2="526.50" stroke="#222" stroke-width="0.45"/>
<text x="53.67" y="532.60" font-size="5.3" text-anchor="middle" font-family="Liberation Serif" font-weight="normal" fill="#000">−200</text>
<line x1="75.43" y1="524.90" x2="75.43" y2="526.50" stroke="#222" stroke-width="0.45"/>
<text x="75.43" y="532.60" font-size="5.3" text-anchor="middle" font-family="Liberation Serif" font-weight="normal" fill="#000">−100</text>
<line x1="97.20" y1="524.90" x2="97.20" y2="526.50" stroke="#222" stroke-width="0.45"/>
<text x="97.20" y="532.60" font-size="5.3" text-anchor="middle" font-family="Liberation Serif" font-weight="normal" fill="#000">0</text>
<line x1="118.97" y1="524.90" x2="118.97" y2="526.50" stroke="#222" stroke-width="0.45"/>
<text x="118.97" y="532.60" font-size="5.3" text-anchor="middle" font-family="Liberation Serif" font-weight="normal" fill="#000">100</text>
<line x1="140.73" y1="524.90" x2="140.73" y2="526.50" stroke="#222" stroke-width="0.45"/>
<text x="140.73" y="532.60" font-size="5.3" text-anchor="middle" font-family="Liberation Serif" font-weight="normal" fill="#000">200</text>
<line x1="162.50" y1="524.90" x2="162.50" y2="526.50" stroke="#222" stroke-width="0.45"/>
<text x="162.50" y="532.60" font-size="5.3" text-anchor="middle" font-family="Liberation Serif" font-weight="normal" fill="#000">300</text>
<clipPath id="dclip0"><rect x="31.6" y="405.1" width="130.6" height="119.34999999999995"/></clipPath>
<g clip-path="url(#dclip0)">
<rect x="62.62" y="524.62" width="1.63" height="0.28" fill="#2e86ab" fill-opacity="0.6" stroke="#2e7fa3" stroke-width="0.2" stroke-opacity="0.55"/>
<rect x="64.25" y="524.48" width="1.63" height="0.42" fill="#2e86ab" fill-opacity="0.6" stroke="#2e7fa3" stroke-width="0.2" stroke-opacity="0.55"/>
<rect x="65.88" y="524.28" width="1.63" height="0.62" fill="#2e86ab" fill-opacity="0.6" stroke="#2e7fa3" stroke-width="0.2" stroke-opacity="0.55"/>
<rect x="67.52" y="524.08" width="1.63" height="0.82" fill="#2e86ab" fill-opacity="0.6" stroke="#2e7fa3" stroke-width="0.2" stroke-opacity="0.55"/>
<rect x="69.15" y="523.79" width="1.63" height="1.11" fill="#2e86ab" fill-opacity="0.6" stroke="#2e7fa3" stroke-width="0.2" stroke-opacity="0.55"/>
<rect x="70.78" y="523.42" width="1.63" height="1.48" fill="#2e86ab" fill-opacity="0.6" stroke="#2e7fa3" stroke-width="0.2" stroke-opacity="0.55"/>
<rect x="72.41" y="522.89" width="1.63" height="2.01" fill="#2e86ab" fill-opacity="0.6" stroke="#2e7fa3" stroke-width="0.2" stroke-opacity="0.55"/>
<rect x="74.04" y="521.78" width="1.63" height="3.12" fill="#2e86ab" fill-opacity="0.6" stroke="#2e7fa3" stroke-width="0.2" stroke-opacity="0.55"/>
<rect x="75.68" y="520.09" width="1.63" height="4.81" fill="#2e86ab" fill-opacity="0.6" stroke="#2e7fa3" stroke-width="0.2" stroke-opacity="0.55"/>
<rect x="77.31" y="517.30" width="1.63" height="7.60" fill="#2e86ab" fill-opacity="0.6" stroke="#2e7fa3" stroke-width="0.2" stroke-opacity="0.55"/>
<rect x="78.94" y="513.07" width="1.63" height="11.83" fill="#2e86ab" fill-opacity="0.6" stroke="#2e7fa3" stroke-width="0.2" stroke-opacity="0.55"/>
<rect x="80.57" y="505.68" width="1.63" height="19.22" fill="#2e86ab" fill-opacity="0.6" stroke="#2e7fa3" stroke-width="0.2" stroke-opacity="0.55"/>
<rect x="82.21" y="494.29" width="1.63" height="30.61" fill="#2e86ab" fill-opacity="0.6" stroke="#2e7fa3" stroke-width="0.2" stroke-opacity="0.55"/>
<rect x="83.84" y="476.41" width="1.63" height="48.49" fill="#2e86ab" fill-opacity="0.6" stroke="#2e7fa3" stroke-width="0.2" stroke-opacity="0.55"/>
<rect x="85.47" y="458.04" width="1.63" height="66.86" fill="#2e86ab" fill-opacity="0.6" stroke="#2e7fa3" stroke-width="0.2" stroke-opacity="0.55"/>
<rect x="87.10" y="438.40" width="1.63" height="86.50" fill="#2e86ab" fill-opacity="0.6" stroke="#2e7fa3" stroke-width="0.2" stroke-opacity="0.55"/>
<rect x="88.74" y="420.92" width="1.63" height="103.98" fill="#2e86ab" fill-opacity="0.6" stroke="#2e7fa3" stroke-width="0.2" stroke-opacity="0.55"/>
<rect x="90.37" y="412.59" width="1.63" height="112.31" fill="#2e86ab" fill-opacity="0.6" stroke="#2e7fa3" stroke-width="0.2" stroke-opacity="0.55"/>
<rect x="92.00" y="426.70" width="1.63" height="98.20" fill="#2e86ab" fill-opacity="0.6" stroke="#2e7fa3" stroke-width="0.2" stroke-opacity="0.55"/>
<rect x="93.63" y="449.06" width="1.63" height="75.84" fill="#2e86ab" fill-opacity="0.6" stroke="#2e7fa3" stroke-width="0.2" stroke-opacity="0.55"/>
<rect x="95.27" y="470.49" width="1.63" height="54.41" fill="#2e86ab" fill-opacity="0.6" stroke="#2e7fa3" stroke-width="0.2" stroke-opacity="0.55"/>
<rect x="96.90" y="492.23" width="1.63" height="32.67" fill="#2e86ab" fill-opacity="0.6" stroke="#2e7fa3" stroke-width="0.2" stroke-opacity="0.55"/>
<rect x="98.53" y="505.08" width="1.63" height="19.82" fill="#2e86ab" fill-opacity="0.6" stroke="#2e7fa3" stroke-width="0.2" stroke-opacity="0.55"/>
<rect x="100.16" y="514.14" width="1.63" height="10.76" fill="#2e86ab" fill-opacity="0.6" stroke="#2e7fa3" stroke-width="0.2" stroke-opacity="0.55"/>
<rect x="101.80" y="518.39" width="1.63" height="6.51" fill="#2e86ab" fill-opacity="0.6" stroke="#2e7fa3" stroke-width="0.2" stroke-opacity="0.55"/>
<rect x="103.43" y="520.73" width="1.63" height="4.17" fill="#2e86ab" fill-opacity="0.6" stroke="#2e7fa3" stroke-width="0.2" stroke-opacity="0.55"/>
<rect x="105.06" y="522.12" width="1.63" height="2.78" fill="#2e86ab" fill-opacity="0.6" stroke="#2e7fa3" stroke-width="0.2" stroke-opacity="0.55"/>
<rect x="106.69" y="523.18" width="1.63" height="1.72" fill="#2e86ab" fill-opacity="0.6" stroke="#2e7fa3" stroke-width="0.2" stroke-opacity="0.55"/>
<rect x="108.33" y="523.91" width="1.63" height="0.99" fill="#2e86ab" fill-opacity="0.6" stroke="#2e7fa3" stroke-width="0.2" stroke-opacity="0.55"/>
<rect x="109.96" y="524.16" width="1.63" height="0.74" fill="#2e86ab" fill-opacity="0.6" stroke="#2e7fa3" stroke-width="0.2" stroke-opacity="0.55"/>
<rect x="111.59" y="524.36" width="1.63" height="0.54" fill="#2e86ab" fill-opacity="0.6" stroke="#2e7fa3" stroke-width="0.2" stroke-opacity="0.55"/>
<rect x="113.22" y="524.50" width="1.63" height="0.40" fill="#2e86ab" fill-opacity="0.6" stroke="#2e7fa3" stroke-width="0.2" stroke-opacity="0.55"/>
<rect x="114.86" y="524.61" width="1.63" height="0.29" fill="#2e86ab" fill-opacity="0.6" stroke="#2e7fa3" stroke-width="0.2" stroke-opacity="0.55"/>
<polyline points="46.20,525.01 47.71,524.97 49.87,524.92 52.36,524.86 54.84,524.80 57.00,524.74 58.79,524.71 60.43,524.70 61.99,524.68 63.52,524.61 65.10,524.47 66.78,524.27 68.53,524.04 70.25,523.74 71.84,523.35 73.20,522.85 74.29,522.24 75.18,521.53 75.92,520.73 76.59,519.82 77.25,518.80 77.88,517.75 78.43,516.68 78.93,515.46 79.43,513.96 79.95,512.05 80.50,509.71 81.06,507.02 81.61,504.01 82.14,500.73 82.65,497.20 83.12,493.36 83.57,489.18 83.99,484.76 84.40,480.20 84.81,475.60 85.21,470.86 85.59,465.92 85.96,460.92 86.33,456.00 86.70,451.30 87.07,446.79 87.44,442.36 87.81,438.08 88.19,434.02 88.59,430.24 89.01,426.43 89.45,422.55 89.89,419.06 90.33,416.42 90.75,415.12 91.15,415.38 91.54,416.90 91.92,419.32 92.28,422.27 92.64,425.38 92.98,428.72 93.29,432.54 93.61,436.73 93.92,441.22 94.26,445.90 94.62,450.97 95.00,456.49 95.38,462.18 95.77,467.74 96.15,472.90 96.52,477.65 96.89,482.19 97.26,486.51 97.64,490.61 98.04,494.50 98.45,498.22 98.86,501.76 99.28,505.06 99.73,508.06 100.20,510.70 100.68,512.90 101.18,514.72 101.70,516.24 102.26,517.57 102.90,518.80 103.62,519.91 104.42,520.84 105.27,521.62 106.12,522.28 106.95,522.85 107.65,523.30 108.25,523.62 108.89,523.84 109.76,524.02 111.00,524.20 112.64,524.39 114.57,524.54 116.77,524.68 119.19,524.79 121.80,524.88 124.95,524.94 128.67,524.97 132.43,524.99 135.71,525.00 138.00,525.01" fill="none" stroke="#2e7fa3" stroke-width="0.8" stroke-linejoin="round" stroke-linecap="round" stroke-opacity="0.95"/>
<rect x="74.04" y="524.62" width="1.63" height="0.28" fill="#6e148c" fill-opacity="0.39" stroke="#9448b0" stroke-width="0.2" stroke-opacity="0.55"/>
<rect x="75.68" y="524.52" width="1.63" height="0.38" fill="#6e148c" fill-opacity="0.39" stroke="#9448b0" stroke-width="0.2" stroke-opacity="0.55"/>
<rect x="77.31" y="524.29" width="1.63" height="0.61" fill="#6e148c" fill-opacity="0.39" stroke="#9448b0" stroke-width="0.2" stroke-opacity="0.55"/>
<rect x="78.94" y="523.88" width="1.63" height="1.02" fill="#6e148c" fill-opacity="0.39" stroke="#9448b0" stroke-width="0.2" stroke-opacity="0.55"/>
<rect x="80.57" y="523.30" width="1.63" height="1.60" fill="#6e148c" fill-opacity="0.39" stroke="#9448b0" stroke-width="0.2" stroke-opacity="0.55"/>
<rect x="82.21" y="522.38" width="1.63" height="2.52" fill="#6e148c" fill-opacity="0.39" stroke="#9448b0" stroke-width="0.2" stroke-opacity="0.55"/>
<rect x="83.84" y="520.79" width="1.63" height="4.11" fill="#6e148c" fill-opacity="0.39" stroke="#9448b0" stroke-width="0.2" stroke-opacity="0.55"/>
<rect x="85.47" y="518.71" width="1.63" height="6.19" fill="#6e148c" fill-opacity="0.39" stroke="#9448b0" stroke-width="0.2" stroke-opacity="0.55"/>
<rect x="87.10" y="515.22" width="1.63" height="9.68" fill="#6e148c" fill-opacity="0.39" stroke="#9448b0" stroke-width="0.2" stroke-opacity="0.55"/>
<rect x="88.74" y="507.78" width="1.63" height="17.12" fill="#6e148c" fill-opacity="0.39" stroke="#9448b0" stroke-width="0.2" stroke-opacity="0.55"/>
<rect x="90.37" y="495.69" width="1.63" height="29.21" fill="#6e148c" fill-opacity="0.39" stroke="#9448b0" stroke-width="0.2" stroke-opacity="0.55"/>
<rect x="92.00" y="476.62" width="1.63" height="48.28" fill="#6e148c" fill-opacity="0.39" stroke="#9448b0" stroke-width="0.2" stroke-opacity="0.55"/>
<rect x="93.63" y="450.48" width="1.63" height="74.42" fill="#6e148c" fill-opacity="0.39" stroke="#9448b0" stroke-width="0.2" stroke-opacity="0.55"/>
<rect x="95.27" y="424.13" width="1.63" height="100.77" fill="#6e148c" fill-opacity="0.39" stroke="#9448b0" stroke-width="0.2" stroke-opacity="0.55"/>
<rect x="96.90" y="408.86" width="1.63" height="116.04" fill="#6e148c" fill-opacity="0.39" stroke="#9448b0" stroke-width="0.2" stroke-opacity="0.55"/>
<rect x="98.53" y="419.03" width="1.63" height="105.87" fill="#6e148c" fill-opacity="0.39" stroke="#9448b0" stroke-width="0.2" stroke-opacity="0.55"/>
<rect x="100.16" y="438.16" width="1.63" height="86.74" fill="#6e148c" fill-opacity="0.39" stroke="#9448b0" stroke-width="0.2" stroke-opacity="0.55"/>
<rect x="101.80" y="455.24" width="1.63" height="69.66" fill="#6e148c" fill-opacity="0.39" stroke="#9448b0" stroke-width="0.2" stroke-opacity="0.55"/>
<rect x="103.43" y="478.50" width="1.63" height="46.40" fill="#6e148c" fill-opacity="0.39" stroke="#9448b0" stroke-width="0.2" stroke-opacity="0.55"/>
<rect x="105.06" y="494.08" width="1.63" height="30.82" fill="#6e148c" fill-opacity="0.39" stroke="#9448b0" stroke-width="0.2" stroke-opacity="0.55"/>
<rect x="106.69" y="503.74" width="1.63" height="21.16" fill="#6e148c" fill-opacity="0.39" stroke="#9448b0" stroke-width="0.2" stroke-opacity="0.55"/>
<rect x="108.33" y="512.07" width="1.63" height="12.83" fill="#6e148c" fill-opacity="0.39" stroke="#9448b0" stroke-width="0.2" stroke-opacity="0.55"/>
<rect x="109.96" y="516.94" width="1.63" height="7.96" fill="#6e148c" fill-opacity="0.39" stroke="#9448b0" stroke-width="0.2" stroke-opacity="0.55"/>
<rect x="111.59" y="519.71" width="1.63" height="5.19" fill="#6e148c" fill-opacity="0.39" stroke="#9448b0" stroke-width="0.2" stroke-opacity="0.55"/>
<rect x="113.22" y="520.85" width="1.63" height="4.05" fill="#6e148c" fill-opacity="0.39" stroke="#9448b0" stroke-width="0.2" stroke-opacity="0.55"/>
<rect x="114.86" y="521.80" width="1.63" height="3.10" fill="#6e148c" fill-opacity="0.39" stroke="#9448b0" stroke-width="0.2" stroke-opacity="0.55"/>
<rect x="116.49" y="522.63" width="1.63" height="2.27" fill="#6e148c" fill-opacity="0.39" stroke="#9448b0" stroke-width="0.2" stroke-opacity="0.55"/>
<rect x="118.12" y="523.10" width="1.63" height="1.80" fill="#6e148c" fill-opacity="0.39" stroke="#9448b0" stroke-width="0.2" stroke-opacity="0.55"/>
<rect x="119.75" y="523.48" width="1.63" height="1.42" fill="#6e148c" fill-opacity="0.39" stroke="#9448b0" stroke-width="0.2" stroke-opacity="0.55"/>
<rect x="121.39" y="523.68" width="1.63" height="1.22" fill="#6e148c" fill-opacity="0.39" stroke="#9448b0" stroke-width="0.2" stroke-opacity="0.55"/>
<rect x="123.02" y="523.85" width="1.63" height="1.05" fill="#6e148c" fill-opacity="0.39" stroke="#9448b0" stroke-width="0.2" stroke-opacity="0.55"/>
<rect x="124.65" y="523.97" width="1.63" height="0.93" fill="#6e148c" fill-opacity="0.39" stroke="#9448b0" stroke-width="0.2" stroke-opacity="0.55"/>
<rect x="126.28" y="524.07" width="1.63" height="0.83" fill="#6e148c" fill-opacity="0.39" stroke="#9448b0" stroke-width="0.2" stroke-opacity="0.55"/>
<rect x="127.92" y="524.12" width="1.63" height="0.78" fill="#6e148c" fill-opacity="0.39" stroke="#9448b0" stroke-width="0.2" stroke-opacity="0.55"/>
<rect x="129.55" y="524.19" width="1.63" height="0.71" fill="#6e148c" fill-opacity="0.39" stroke="#9448b0" stroke-width="0.2" stroke-opacity="0.55"/>
<rect x="131.18" y="524.27" width="1.63" height="0.63" fill="#6e148c" fill-opacity="0.39" stroke="#9448b0" stroke-width="0.2" stroke-opacity="0.55"/>
<rect x="132.81" y="524.31" width="1.63" height="0.59" fill="#6e148c" fill-opacity="0.39" stroke="#9448b0" stroke-width="0.2" stroke-opacity="0.55"/>
<rect x="134.45" y="524.39" width="1.63" height="0.51" fill="#6e148c" fill-opacity="0.39" stroke="#9448b0" stroke-width="0.2" stroke-opacity="0.55"/>
<rect x="136.08" y="524.43" width="1.63" height="0.47" fill="#6e148c" fill-opacity="0.39" stroke="#9448b0" stroke-width="0.2" stroke-opacity="0.55"/>
<rect x="137.71" y="524.49" width="1.63" height="0.41" fill="#6e148c" fill-opacity="0.39" stroke="#9448b0" stroke-width="0.2" stroke-opacity="0.55"/>
<rect x="139.34" y="524.54" width="1.63" height="0.36" fill="#6e148c" fill-opacity="0.39" stroke="#9448b0" stroke-width="0.2" stroke-opacity="0.55"/>
<rect x="140.98" y="524.60" width="1.63" height="0.30" fill="#6e148c" fill-opacity="0.39" stroke="#9448b0" stroke-width="0.2" stroke-opacity="0.55"/>
<polyline points="62.40,525.01 63.50,524.98 65.06,524.93 66.87,524.88 68.75,524.82 70.50,524.74 72.16,524.68 73.87,524.65 75.55,524.58 77.15,524.45 78.60,524.20 79.87,523.86 81.02,523.47 82.07,522.98 83.05,522.33 84.00,521.50 84.92,520.54 85.78,519.48 86.59,518.23 87.35,516.68 88.05,514.75 88.69,512.41 89.27,509.72 89.79,506.71 90.28,503.43 90.75,499.90 91.18,496.06 91.58,491.88 91.94,487.46 92.29,482.90 92.64,478.30 92.98,473.66 93.31,468.90 93.62,464.04 93.94,459.08 94.26,454.00 94.58,448.59 94.91,442.85 95.23,437.11 95.56,431.72 95.88,427.00 96.20,422.74 96.52,418.71 96.83,415.25 97.16,412.68 97.50,411.34 97.86,411.46 98.24,412.82 98.62,415.07 99.01,417.84 99.39,420.79 99.76,423.96 100.13,427.59 100.50,431.60 100.88,435.93 101.28,440.50 101.69,445.48 102.12,450.90 102.56,456.54 103.00,462.16 103.44,467.50 103.86,472.66 104.28,477.80 104.70,482.79 105.13,487.50 105.60,491.80 106.11,495.67 106.64,499.19 107.19,502.39 107.75,505.32 108.30,508.00 108.82,510.41 109.32,512.53 109.82,514.38 110.37,516.01 111.00,517.45 111.68,518.64 112.39,519.55 113.17,520.28 114.05,520.90 115.05,521.50 116.08,522.07 117.10,522.56 118.29,522.98 119.80,523.34 121.80,523.66 124.48,523.91 127.73,524.10 131.26,524.24 134.78,524.36 138.00,524.47 140.92,524.58 143.72,524.67 146.42,524.75 149.02,524.82 151.50,524.88 154.01,524.92 156.53,524.95 158.89,524.98 160.87,525.00 162.30,525.01" fill="none" stroke="#9448b0" stroke-width="0.8" stroke-linejoin="round" stroke-linecap="round" stroke-opacity="0.95"/>
</g>
<line x1="97.20" y1="405.10" x2="97.20" y2="524.90" stroke="#111" stroke-width="0.6" stroke-dasharray="1.2 0.8"/>
<rect x="31.60" y="405.10" width="130.60" height="119.80" fill="none" stroke="#3c3c3c" stroke-width="0.65" rx="0"/>
<text x="96.90" y="402.20" font-size="6.4" text-anchor="middle" font-family="Liberation Serif" font-weight="normal" fill="#000">Phase Velocity Residual</text>
<text x="96.90" y="540.10" font-size="6.5" text-anchor="middle" font-family="Liberation Serif" font-weight="normal" fill="#000">Error (m/s)</text>
<rect x="33.50" y="545.20" width="125.90" height="8.00" fill="#fff" stroke="#d4d4d4" stroke-width="0.5" rx="1"/>
<rect x="35.90" y="547.30" width="8.30" height="3.10" fill="#82b6cd" stroke="#2e7fa3" stroke-width="0.2" rx="0"/>
<text x="47.10" y="550.60" font-size="3.9" text-anchor="start" font-family="Liberation Sans" font-weight="normal" fill="#555" textLength="3.9" lengthAdjust="spacingAndGlyphs">Ref:</text>
<text x="51.60" y="550.70" font-size="4.3" text-anchor="start" font-family="Liberation Sans" font-weight="bold" fill="#000" textLength="44.2" lengthAdjust="spacingAndGlyphs">μ = −28.0, σ = 29.0</text>
<rect x="104.50" y="547.30" width="8.30" height="3.10" fill="#c29ccf" stroke="#9448b0" stroke-width="0.2" rx="0"/>
<text x="116.00" y="550.60" font-size="3.9" text-anchor="start" font-family="Liberation Sans" font-weight="normal" fill="#555" textLength="4.3" lengthAdjust="spacingAndGlyphs">Inv:</text>
<text x="121.30" y="550.70" font-size="4.3" text-anchor="start" font-family="Liberation Sans" font-weight="bold" fill="#000" textLength="36.4" lengthAdjust="spacingAndGlyphs">μ = 6.1, σ = 29.2</text>
<line x1="213.23" y1="405.10" x2="213.23" y2="524.90" stroke="#c8c8c8" stroke-width="0.42" stroke-dasharray="0.9 0.9"/>
<line x1="234.97" y1="405.10" x2="234.97" y2="524.90" stroke="#c8c8c8" stroke-width="0.42" stroke-dasharray="0.9 0.9"/>
<line x1="278.43" y1="405.10" x2="278.43" y2="524.90" stroke="#c8c8c8" stroke-width="0.42" stroke-dasharray="0.9 0.9"/>
<line x1="300.17" y1="405.10" x2="300.17" y2="524.90" stroke="#c8c8c8" stroke-width="0.42" stroke-dasharray="0.9 0.9"/>
<line x1="191.60" y1="412.20" x2="322.00" y2="412.20" stroke="#c8c8c8" stroke-width="0.42" stroke-dasharray="0.9 0.9"/>
<line x1="190.00" y1="412.20" x2="191.60" y2="412.20" stroke="#222" stroke-width="0.45"/>
<text x="189.00" y="414.00" font-size="5.3" text-anchor="end" font-family="Liberation Serif" font-weight="normal" fill="#000">0.014</text>
<line x1="191.60" y1="428.30" x2="322.00" y2="428.30" stroke="#c8c8c8" stroke-width="0.42" stroke-dasharray="0.9 0.9"/>
<line x1="190.00" y1="428.30" x2="191.60" y2="428.30" stroke="#222" stroke-width="0.45"/>
<text x="189.00" y="430.10" font-size="5.3" text-anchor="end" font-family="Liberation Serif" font-weight="normal" fill="#000">0.012</text>
<line x1="191.60" y1="444.40" x2="322.00" y2="444.40" stroke="#c8c8c8" stroke-width="0.42" stroke-dasharray="0.9 0.9"/>
<line x1="190.00" y1="444.40" x2="191.60" y2="444.40" stroke="#222" stroke-width="0.45"/>
<text x="189.00" y="446.20" font-size="5.3" text-anchor="end" font-family="Liberation Serif" font-weight="normal" fill="#000">0.010</text>
<line x1="191.60" y1="460.50" x2="322.00" y2="460.50" stroke="#c8c8c8" stroke-width="0.42" stroke-dasharray="0.9 0.9"/>
<line x1="190.00" y1="460.50" x2="191.60" y2="460.50" stroke="#222" stroke-width="0.45"/>
<text x="189.00" y="462.30" font-size="5.3" text-anchor="end" font-family="Liberation Serif" font-weight="normal" fill="#000">0.008</text>
<line x1="191.60" y1="476.60" x2="322.00" y2="476.60" stroke="#c8c8c8" stroke-width="0.42" stroke-dasharray="0.9 0.9"/>
<line x1="190.00" y1="476.60" x2="191.60" y2="476.60" stroke="#222" stroke-width="0.45"/>
<text x="189.00" y="478.40" font-size="5.3" text-anchor="end" font-family="Liberation Serif" font-weight="normal" fill="#000">0.006</text>
<line x1="191.60" y1="492.70" x2="322.00" y2="492.70" stroke="#c8c8c8" stroke-width="0.42" stroke-dasharray="0.9 0.9"/>
<line x1="190.00" y1="492.70" x2="191.60" y2="492.70" stroke="#222" stroke-width="0.45"/>
<text x="189.00" y="494.50" font-size="5.3" text-anchor="end" font-family="Liberation Serif" font-weight="normal" fill="#000">0.004</text>
<line x1="191.60" y1="508.70" x2="322.00" y2="508.70" stroke="#c8c8c8" stroke-width="0.42" stroke-dasharray="0.9 0.9"/>
<line x1="190.00" y1="508.70" x2="191.60" y2="508.70" stroke="#222" stroke-width="0.45"/>
<text x="189.00" y="510.50" font-size="5.3" text-anchor="end" font-family="Liberation Serif" font-weight="normal" fill="#000">0.002</text>
<line x1="190.00" y1="524.70" x2="191.60" y2="524.70" stroke="#222" stroke-width="0.45"/>
<text x="189.00" y="526.50" font-size="5.3" text-anchor="end" font-family="Liberation Serif" font-weight="normal" fill="#000">0.000</text>
<line x1="191.50" y1="524.90" x2="191.50" y2="526.50" stroke="#222" stroke-width="0.45"/>
<text x="191.50" y="532.60" font-size="5.3" text-anchor="middle" font-family="Liberation Serif" font-weight="normal" fill="#000">−300</text>
<line x1="213.23" y1="524.90" x2="213.23" y2="526.50" stroke="#222" stroke-width="0.45"/>
<text x="213.23" y="532.60" font-size="5.3" text-anchor="middle" font-family="Liberation Serif" font-weight="normal" fill="#000">−200</text>
<line x1="234.97" y1="524.90" x2="234.97" y2="526.50" stroke="#222" stroke-width="0.45"/>
<text x="234.97" y="532.60" font-size="5.3" text-anchor="middle" font-family="Liberation Serif" font-weight="normal" fill="#000">−100</text>
<line x1="256.70" y1="524.90" x2="256.70" y2="526.50" stroke="#222" stroke-width="0.45"/>
<text x="256.70" y="532.60" font-size="5.3" text-anchor="middle" font-family="Liberation Serif" font-weight="normal" fill="#000">0</text>
<line x1="278.43" y1="524.90" x2="278.43" y2="526.50" stroke="#222" stroke-width="0.45"/>
<text x="278.43" y="532.60" font-size="5.3" text-anchor="middle" font-family="Liberation Serif" font-weight="normal" fill="#000">100</text>
<line x1="300.17" y1="524.90" x2="300.17" y2="526.50" stroke="#222" stroke-width="0.45"/>
<text x="300.17" y="532.60" font-size="5.3" text-anchor="middle" font-family="Liberation Serif" font-weight="normal" fill="#000">200</text>
<line x1="321.90" y1="524.90" x2="321.90" y2="526.50" stroke="#222" stroke-width="0.45"/>
<text x="321.90" y="532.60" font-size="5.3" text-anchor="middle" font-family="Liberation Serif" font-weight="normal" fill="#000">300</text>
<clipPath id="dclip1"><rect x="191.6" y="405.1" width="130.4" height="119.34999999999995"/></clipPath>
<g clip-path="url(#dclip1)">
<rect x="212.79" y="524.64" width="1.63" height="0.26" fill="#2e86ab" fill-opacity="0.6" stroke="#2e7fa3" stroke-width="0.2" stroke-opacity="0.55"/>
<rect x="214.42" y="524.50" width="1.63" height="0.40" fill="#2e86ab" fill-opacity="0.6" stroke="#2e7fa3" stroke-width="0.2" stroke-opacity="0.55"/>
<rect x="216.05" y="524.22" width="1.63" height="0.68" fill="#2e86ab" fill-opacity="0.6" stroke="#2e7fa3" stroke-width="0.2" stroke-opacity="0.55"/>
<rect x="217.68" y="523.83" width="1.63" height="1.07" fill="#2e86ab" fill-opacity="0.6" stroke="#2e7fa3" stroke-width="0.2" stroke-opacity="0.55"/>
<rect x="219.31" y="523.25" width="1.63" height="1.65" fill="#2e86ab" fill-opacity="0.6" stroke="#2e7fa3" stroke-width="0.2" stroke-opacity="0.55"/>
<rect x="220.94" y="522.62" width="1.63" height="2.28" fill="#2e86ab" fill-opacity="0.6" stroke="#2e7fa3" stroke-width="0.2" stroke-opacity="0.55"/>
<rect x="222.57" y="521.79" width="1.63" height="3.11" fill="#2e86ab" fill-opacity="0.6" stroke="#2e7fa3" stroke-width="0.2" stroke-opacity="0.55"/>
<rect x="224.20" y="520.73" width="1.63" height="4.17" fill="#2e86ab" fill-opacity="0.6" stroke="#2e7fa3" stroke-width="0.2" stroke-opacity="0.55"/>
<rect x="225.83" y="519.09" width="1.63" height="5.81" fill="#2e86ab" fill-opacity="0.6" stroke="#2e7fa3" stroke-width="0.2" stroke-opacity="0.55"/>
<rect x="227.46" y="517.44" width="1.63" height="7.46" fill="#2e86ab" fill-opacity="0.6" stroke="#2e7fa3" stroke-width="0.2" stroke-opacity="0.55"/>
<rect x="229.09" y="514.85" width="1.63" height="10.05" fill="#2e86ab" fill-opacity="0.6" stroke="#2e7fa3" stroke-width="0.2" stroke-opacity="0.55"/>
<rect x="230.72" y="511.65" width="1.63" height="13.25" fill="#2e86ab" fill-opacity="0.6" stroke="#2e7fa3" stroke-width="0.2" stroke-opacity="0.55"/>
<rect x="232.35" y="507.41" width="1.63" height="17.49" fill="#2e86ab" fill-opacity="0.6" stroke="#2e7fa3" stroke-width="0.2" stroke-opacity="0.55"/>
<rect x="233.98" y="503.47" width="1.63" height="21.43" fill="#2e86ab" fill-opacity="0.6" stroke="#2e7fa3" stroke-width="0.2" stroke-opacity="0.55"/>
<rect x="235.61" y="496.75" width="1.63" height="28.15" fill="#2e86ab" fill-opacity="0.6" stroke="#2e7fa3" stroke-width="0.2" stroke-opacity="0.55"/>
<rect x="237.24" y="488.78" width="1.63" height="36.12" fill="#2e86ab" fill-opacity="0.6" stroke="#2e7fa3" stroke-width="0.2" stroke-opacity="0.55"/>
<rect x="238.87" y="477.93" width="1.63" height="46.97" fill="#2e86ab" fill-opacity="0.6" stroke="#2e7fa3" stroke-width="0.2" stroke-opacity="0.55"/>
<rect x="240.50" y="463.03" width="1.63" height="61.87" fill="#2e86ab" fill-opacity="0.6" stroke="#2e7fa3" stroke-width="0.2" stroke-opacity="0.55"/>
<rect x="242.13" y="448.48" width="1.63" height="76.42" fill="#2e86ab" fill-opacity="0.6" stroke="#2e7fa3" stroke-width="0.2" stroke-opacity="0.55"/>
<rect x="243.76" y="441.80" width="1.63" height="83.10" fill="#2e86ab" fill-opacity="0.6" stroke="#2e7fa3" stroke-width="0.2" stroke-opacity="0.55"/>
<rect x="245.39" y="436.71" width="1.63" height="88.19" fill="#2e86ab" fill-opacity="0.6" stroke="#2e7fa3" stroke-width="0.2" stroke-opacity="0.55"/>
<rect x="247.02" y="438.32" width="1.63" height="86.58" fill="#2e86ab" fill-opacity="0.6" stroke="#2e7fa3" stroke-width="0.2" stroke-opacity="0.55"/>
<rect x="248.65" y="441.61" width="1.63" height="83.29" fill="#2e86ab" fill-opacity="0.6" stroke="#2e7fa3" stroke-width="0.2" stroke-opacity="0.55"/>
<rect x="250.28" y="449.80" width="1.63" height="75.10" fill="#2e86ab" fill-opacity="0.6" stroke="#2e7fa3" stroke-width="0.2" stroke-opacity="0.55"/>
<rect x="251.91" y="463.75" width="1.63" height="61.15" fill="#2e86ab" fill-opacity="0.6" stroke="#2e7fa3" stroke-width="0.2" stroke-opacity="0.55"/>
<rect x="253.54" y="476.00" width="1.63" height="48.90" fill="#2e86ab" fill-opacity="0.6" stroke="#2e7fa3" stroke-width="0.2" stroke-opacity="0.55"/>
<rect x="255.17" y="487.02" width="1.63" height="37.88" fill="#2e86ab" fill-opacity="0.6" stroke="#2e7fa3" stroke-width="0.2" stroke-opacity="0.55"/>
<rect x="256.80" y="496.95" width="1.63" height="27.95" fill="#2e86ab" fill-opacity="0.6" stroke="#2e7fa3" stroke-width="0.2" stroke-opacity="0.55"/>
<rect x="258.43" y="505.14" width="1.63" height="19.76" fill="#2e86ab" fill-opacity="0.6" stroke="#2e7fa3" stroke-width="0.2" stroke-opacity="0.55"/>
<rect x="260.06" y="511.86" width="1.63" height="13.04" fill="#2e86ab" fill-opacity="0.6" stroke="#2e7fa3" stroke-width="0.2" stroke-opacity="0.55"/>
<rect x="261.69" y="516.74" width="1.63" height="8.16" fill="#2e86ab" fill-opacity="0.6" stroke="#2e7fa3" stroke-width="0.2" stroke-opacity="0.55"/>
<rect x="263.32" y="519.45" width="1.63" height="5.45" fill="#2e86ab" fill-opacity="0.6" stroke="#2e7fa3" stroke-width="0.2" stroke-opacity="0.55"/>
<rect x="264.95" y="521.03" width="1.63" height="3.87" fill="#2e86ab" fill-opacity="0.6" stroke="#2e7fa3" stroke-width="0.2" stroke-opacity="0.55"/>
<rect x="266.58" y="522.45" width="1.63" height="2.45" fill="#2e86ab" fill-opacity="0.6" stroke="#2e7fa3" stroke-width="0.2" stroke-opacity="0.55"/>
<rect x="268.21" y="523.62" width="1.63" height="1.28" fill="#2e86ab" fill-opacity="0.6" stroke="#2e7fa3" stroke-width="0.2" stroke-opacity="0.55"/>
<rect x="269.84" y="524.10" width="1.63" height="0.80" fill="#2e86ab" fill-opacity="0.6" stroke="#2e7fa3" stroke-width="0.2" stroke-opacity="0.55"/>
<rect x="271.47" y="524.36" width="1.63" height="0.54" fill="#2e86ab" fill-opacity="0.6" stroke="#2e7fa3" stroke-width="0.2" stroke-opacity="0.55"/>
<rect x="273.10" y="524.50" width="1.63" height="0.40" fill="#2e86ab" fill-opacity="0.6" stroke="#2e7fa3" stroke-width="0.2" stroke-opacity="0.55"/>
<rect x="274.73" y="524.58" width="1.63" height="0.32" fill="#2e86ab" fill-opacity="0.6" stroke="#2e7fa3" stroke-width="0.2" stroke-opacity="0.55"/>
<rect x="276.36" y="524.63" width="1.63" height="0.27" fill="#2e86ab" fill-opacity="0.6" stroke="#2e7fa3" stroke-width="0.2" stroke-opacity="0.55"/>
<polyline points="192.70,525.01 194.58,524.98 197.26,524.93 200.35,524.88 203.46,524.82 206.20,524.74 208.57,524.71 210.82,524.71 212.97,524.68 215.02,524.54 217.00,524.20 218.91,523.68 220.75,523.03 222.50,522.23 224.14,521.28 225.64,520.15 226.99,518.85 228.19,517.40 229.28,515.78 230.31,513.99 231.31,512.05 232.27,509.99 233.16,507.81 234.01,505.44 234.82,502.83 235.63,499.90 236.44,496.60 237.25,492.96 238.02,489.08 238.75,485.06 239.41,481.00 239.99,476.77 240.49,472.30 240.95,467.78 241.39,463.42 241.84,459.40 242.28,455.67 242.70,452.10 243.11,448.78 243.54,445.78 244.00,443.20 244.51,440.94 245.04,438.94 245.59,437.35 246.15,436.29 246.70,435.91 247.24,436.31 247.78,437.41 248.32,439.04 248.86,441.02 249.40,443.20 249.94,445.60 250.48,448.34 251.02,451.36 251.56,454.61 252.10,458.05 252.64,461.80 253.18,465.89 253.72,470.14 254.26,474.34 254.80,478.30 255.34,482.05 255.88,485.71 256.42,489.25 256.96,492.64 257.50,495.85 258.04,498.90 258.58,501.80 259.12,504.53 259.66,507.06 260.20,509.35 260.72,511.37 261.22,513.15 261.72,514.72 262.27,516.14 262.90,517.45 263.62,518.63 264.42,519.66 265.27,520.55 266.12,521.33 266.95,522.04 267.65,522.65 268.25,523.16 268.89,523.57 269.76,523.91 271.00,524.20 272.64,524.42 274.57,524.55 276.77,524.62 279.19,524.68 281.80,524.74 284.95,524.82 288.67,524.88 292.43,524.93 295.71,524.98 298.00,525.01" fill="none" stroke="#2e7fa3" stroke-width="0.8" stroke-linejoin="round" stroke-linecap="round" stroke-opacity="0.95"/>
<rect x="233.98" y="524.66" width="1.63" height="0.24" fill="#6e148c" fill-opacity="0.39" stroke="#9448b0" stroke-width="0.2" stroke-opacity="0.55"/>
<rect x="235.61" y="524.54" width="1.63" height="0.36" fill="#6e148c" fill-opacity="0.39" stroke="#9448b0" stroke-width="0.2" stroke-opacity="0.55"/>
<rect x="237.24" y="524.31" width="1.63" height="0.59" fill="#6e148c" fill-opacity="0.39" stroke="#9448b0" stroke-width="0.2" stroke-opacity="0.55"/>
<rect x="238.87" y="523.80" width="1.63" height="1.10" fill="#6e148c" fill-opacity="0.39" stroke="#9448b0" stroke-width="0.2" stroke-opacity="0.55"/>
<rect x="240.50" y="523.16" width="1.63" height="1.74" fill="#6e148c" fill-opacity="0.39" stroke="#9448b0" stroke-width="0.2" stroke-opacity="0.55"/>
<rect x="242.13" y="522.28" width="1.63" height="2.62" fill="#6e148c" fill-opacity="0.39" stroke="#9448b0" stroke-width="0.2" stroke-opacity="0.55"/>
<rect x="243.76" y="520.50" width="1.63" height="4.40" fill="#6e148c" fill-opacity="0.39" stroke="#9448b0" stroke-width="0.2" stroke-opacity="0.55"/>
<rect x="245.39" y="517.52" width="1.63" height="7.38" fill="#6e148c" fill-opacity="0.39" stroke="#9448b0" stroke-width="0.2" stroke-opacity="0.55"/>
<rect x="247.02" y="512.37" width="1.63" height="12.53" fill="#6e148c" fill-opacity="0.39" stroke="#9448b0" stroke-width="0.2" stroke-opacity="0.55"/>
<rect x="248.65" y="504.95" width="1.63" height="19.95" fill="#6e148c" fill-opacity="0.39" stroke="#9448b0" stroke-width="0.2" stroke-opacity="0.55"/>
<rect x="250.28" y="491.67" width="1.63" height="33.23" fill="#6e148c" fill-opacity="0.39" stroke="#9448b0" stroke-width="0.2" stroke-opacity="0.55"/>
<rect x="251.91" y="475.31" width="1.63" height="49.59" fill="#6e148c" fill-opacity="0.39" stroke="#9448b0" stroke-width="0.2" stroke-opacity="0.55"/>
<rect x="253.54" y="457.64" width="1.63" height="67.26" fill="#6e148c" fill-opacity="0.39" stroke="#9448b0" stroke-width="0.2" stroke-opacity="0.55"/>
<rect x="255.17" y="440.07" width="1.63" height="84.83" fill="#6e148c" fill-opacity="0.39" stroke="#9448b0" stroke-width="0.2" stroke-opacity="0.55"/>
<rect x="256.80" y="426.39" width="1.63" height="98.51" fill="#6e148c" fill-opacity="0.39" stroke="#9448b0" stroke-width="0.2" stroke-opacity="0.55"/>
<rect x="258.43" y="417.95" width="1.63" height="106.95" fill="#6e148c" fill-opacity="0.39" stroke="#9448b0" stroke-width="0.2" stroke-opacity="0.55"/>
<rect x="260.06" y="414.06" width="1.63" height="110.84" fill="#6e148c" fill-opacity="0.39" stroke="#9448b0" stroke-width="0.2" stroke-opacity="0.55"/>
<rect x="261.69" y="414.13" width="1.63" height="110.77" fill="#6e148c" fill-opacity="0.39" stroke="#9448b0" stroke-width="0.2" stroke-opacity="0.55"/>
<rect x="263.32" y="414.75" width="1.63" height="110.15" fill="#6e148c" fill-opacity="0.39" stroke="#9448b0" stroke-width="0.2" stroke-opacity="0.55"/>
<rect x="264.95" y="426.48" width="1.63" height="98.42" fill="#6e148c" fill-opacity="0.39" stroke="#9448b0" stroke-width="0.2" stroke-opacity="0.55"/>
<rect x="266.58" y="438.92" width="1.63" height="85.98" fill="#6e148c" fill-opacity="0.39" stroke="#9448b0" stroke-width="0.2" stroke-opacity="0.55"/>
<rect x="268.21" y="464.20" width="1.63" height="60.70" fill="#6e148c" fill-opacity="0.39" stroke="#9448b0" stroke-width="0.2" stroke-opacity="0.55"/>
<rect x="269.84" y="485.78" width="1.63" height="39.12" fill="#6e148c" fill-opacity="0.39" stroke="#9448b0" stroke-width="0.2" stroke-opacity="0.55"/>
<rect x="271.47" y="499.82" width="1.63" height="25.08" fill="#6e148c" fill-opacity="0.39" stroke="#9448b0" stroke-width="0.2" stroke-opacity="0.55"/>
<rect x="273.10" y="507.64" width="1.63" height="17.26" fill="#6e148c" fill-opacity="0.39" stroke="#9448b0" stroke-width="0.2" stroke-opacity="0.55"/>
<rect x="274.73" y="512.75" width="1.63" height="12.15" fill="#6e148c" fill-opacity="0.39" stroke="#9448b0" stroke-width="0.2" stroke-opacity="0.55"/>
<rect x="276.36" y="516.53" width="1.63" height="8.37" fill="#6e148c" fill-opacity="0.39" stroke="#9448b0" stroke-width="0.2" stroke-opacity="0.55"/>
<rect x="277.99" y="518.70" width="1.63" height="6.20" fill="#6e148c" fill-opacity="0.39" stroke="#9448b0" stroke-width="0.2" stroke-opacity="0.55"/>
<rect x="279.62" y="520.36" width="1.63" height="4.54" fill="#6e148c" fill-opacity="0.39" stroke="#9448b0" stroke-width="0.2" stroke-opacity="0.55"/>
<rect x="281.25" y="521.64" width="1.63" height="3.26" fill="#6e148c" fill-opacity="0.39" stroke="#9448b0" stroke-width="0.2" stroke-opacity="0.55"/>
<rect x="282.88" y="522.40" width="1.63" height="2.50" fill="#6e148c" fill-opacity="0.39" stroke="#9448b0" stroke-width="0.2" stroke-opacity="0.55"/>
<rect x="284.51" y="522.93" width="1.63" height="1.97" fill="#6e148c" fill-opacity="0.39" stroke="#9448b0" stroke-width="0.2" stroke-opacity="0.55"/>
<rect x="286.14" y="523.24" width="1.63" height="1.66" fill="#6e148c" fill-opacity="0.39" stroke="#9448b0" stroke-width="0.2" stroke-opacity="0.55"/>
<rect x="287.77" y="523.47" width="1.63" height="1.43" fill="#6e148c" fill-opacity="0.39" stroke="#9448b0" stroke-width="0.2" stroke-opacity="0.55"/>
<rect x="289.40" y="523.72" width="1.63" height="1.18" fill="#6e148c" fill-opacity="0.39" stroke="#9448b0" stroke-width="0.2" stroke-opacity="0.55"/>
<rect x="291.03" y="523.89" width="1.63" height="1.01" fill="#6e148c" fill-opacity="0.39" stroke="#9448b0" stroke-width="0.2" stroke-opacity="0.55"/>
<rect x="292.66" y="524.05" width="1.63" height="0.85" fill="#6e148c" fill-opacity="0.39" stroke="#9448b0" stroke-width="0.2" stroke-opacity="0.55"/>
<rect x="294.29" y="524.13" width="1.63" height="0.77" fill="#6e148c" fill-opacity="0.39" stroke="#9448b0" stroke-width="0.2" stroke-opacity="0.55"/>
<rect x="295.92" y="524.14" width="1.63" height="0.76" fill="#6e148c" fill-opacity="0.39" stroke="#9448b0" stroke-width="0.2" stroke-opacity="0.55"/>
<rect x="297.55" y="524.21" width="1.63" height="0.69" fill="#6e148c" fill-opacity="0.39" stroke="#9448b0" stroke-width="0.2" stroke-opacity="0.55"/>
<rect x="299.18" y="524.27" width="1.63" height="0.63" fill="#6e148c" fill-opacity="0.39" stroke="#9448b0" stroke-width="0.2" stroke-opacity="0.55"/>
<rect x="300.81" y="524.29" width="1.63" height="0.61" fill="#6e148c" fill-opacity="0.39" stroke="#9448b0" stroke-width="0.2" stroke-opacity="0.55"/>
<rect x="302.44" y="524.34" width="1.63" height="0.56" fill="#6e148c" fill-opacity="0.39" stroke="#9448b0" stroke-width="0.2" stroke-opacity="0.55"/>
<rect x="304.07" y="524.35" width="1.63" height="0.55" fill="#6e148c" fill-opacity="0.39" stroke="#9448b0" stroke-width="0.2" stroke-opacity="0.55"/>
<rect x="305.70" y="524.36" width="1.63" height="0.54" fill="#6e148c" fill-opacity="0.39" stroke="#9448b0" stroke-width="0.2" stroke-opacity="0.55"/>
<rect x="307.33" y="524.39" width="1.63" height="0.51" fill="#6e148c" fill-opacity="0.39" stroke="#9448b0" stroke-width="0.2" stroke-opacity="0.55"/>
<rect x="308.96" y="524.43" width="1.63" height="0.47" fill="#6e148c" fill-opacity="0.39" stroke="#9448b0" stroke-width="0.2" stroke-opacity="0.55"/>
<rect x="310.59" y="524.47" width="1.63" height="0.43" fill="#6e148c" fill-opacity="0.39" stroke="#9448b0" stroke-width="0.2" stroke-opacity="0.55"/>
<rect x="312.22" y="524.52" width="1.63" height="0.38" fill="#6e148c" fill-opacity="0.39" stroke="#9448b0" stroke-width="0.2" stroke-opacity="0.55"/>
<rect x="313.85" y="524.58" width="1.63" height="0.32" fill="#6e148c" fill-opacity="0.39" stroke="#9448b0" stroke-width="0.2" stroke-opacity="0.55"/>
<rect x="315.48" y="524.63" width="1.63" height="0.27" fill="#6e148c" fill-opacity="0.39" stroke="#9448b0" stroke-width="0.2" stroke-opacity="0.55"/>
<polyline points="225.10,525.01 226.23,524.98 227.85,524.95 229.71,524.90 231.57,524.83 233.20,524.74 234.58,524.66 235.86,524.60 237.08,524.49 238.25,524.29 239.41,523.93 240.56,523.50 241.69,523.03 242.79,522.41 243.83,521.49 244.81,520.15 245.72,518.45 246.58,516.48 247.38,514.14 248.14,511.34 248.86,508.00 249.52,504.09 250.11,499.67 250.67,494.78 251.24,489.45 251.83,483.70 252.47,477.26 253.12,470.11 253.78,462.67 254.43,455.36 255.07,448.60 255.70,442.16 256.33,435.75 256.94,429.73 257.52,424.45 258.04,420.25 258.49,417.40 258.89,415.66 259.25,414.64 259.59,413.96 259.93,413.23 260.27,412.48 260.60,411.98 260.91,411.66 261.23,411.46 261.55,411.34 261.87,411.27 262.20,411.29 262.52,411.42 262.85,411.70 263.17,412.15 263.49,412.61 263.79,413.05 264.10,413.73 264.43,414.88 264.79,416.74 265.18,419.22 265.59,422.16 266.02,425.70 266.47,429.96 266.95,435.10 267.46,441.59 267.99,449.34 268.54,457.62 269.10,465.72 269.65,472.90 270.17,479.19 270.67,485.06 271.17,490.49 271.72,495.45 272.35,499.90 273.05,503.78 273.81,507.10 274.62,509.98 275.48,512.49 276.40,514.75 277.35,516.69 278.33,518.25 279.38,519.52 280.53,520.57 281.80,521.50 283.25,522.25 284.85,522.77 286.53,523.13 288.24,523.41 289.90,523.66 291.43,523.88 292.88,524.01 294.37,524.08 296.03,524.14 298.00,524.20 300.40,524.27 303.14,524.32 306.04,524.37 308.89,524.41 311.50,524.47 314.01,524.55 316.53,524.64 318.89,524.74 320.87,524.82 322.30,524.88" fill="none" stroke="#9448b0" stroke-width="0.8" stroke-linejoin="round" stroke-linecap="round" stroke-opacity="0.95"/>
</g>
<line x1="256.70" y1="405.10" x2="256.70" y2="524.90" stroke="#111" stroke-width="0.6" stroke-dasharray="1.2 0.8"/>
<rect x="191.60" y="405.10" width="130.40" height="119.80" fill="none" stroke="#3c3c3c" stroke-width="0.65" rx="0"/>
<text x="256.80" y="402.20" font-size="6.4" text-anchor="middle" font-family="Liberation Serif" font-weight="normal" fill="#000">Group Velocity Residual</text>
<text x="256.80" y="540.10" font-size="6.5" text-anchor="middle" font-family="Liberation Serif" font-weight="normal" fill="#000">Error (m/s)</text>
<rect x="192.00" y="545.20" width="129.60" height="8.00" fill="#fff" stroke="#d4d4d4" stroke-width="0.5" rx="1"/>
<rect x="194.00" y="547.30" width="8.30" height="3.10" fill="#82b6cd" stroke="#2e7fa3" stroke-width="0.2" rx="0"/>
<text x="206.00" y="550.60" font-size="3.9" text-anchor="start" font-family="Liberation Sans" font-weight="normal" fill="#555" textLength="3.9" lengthAdjust="spacingAndGlyphs">Ref:</text>
<text x="210.50" y="550.70" font-size="4.3" text-anchor="start" font-family="Liberation Sans" font-weight="bold" fill="#000" textLength="45.2" lengthAdjust="spacingAndGlyphs">μ = −44.0, σ = 42.1</text>
<rect x="264.00" y="547.30" width="8.30" height="3.10" fill="#c29ccf" stroke="#9448b0" stroke-width="0.2" rx="0"/>
<text x="275.20" y="550.60" font-size="3.9" text-anchor="start" font-family="Liberation Sans" font-weight="normal" fill="#555" textLength="4.3" lengthAdjust="spacingAndGlyphs">Inv:</text>
<text x="280.20" y="550.70" font-size="4.3" text-anchor="start" font-family="Liberation Sans" font-weight="bold" fill="#000" textLength="39.8" lengthAdjust="spacingAndGlyphs">μ = 18.7, σ = 33.7</text>
<line x1="372.57" y1="405.10" x2="372.57" y2="524.90" stroke="#c8c8c8" stroke-width="0.42" stroke-dasharray="0.9 0.9"/>
<line x1="394.28" y1="405.10" x2="394.28" y2="524.90" stroke="#c8c8c8" stroke-width="0.42" stroke-dasharray="0.9 0.9"/>
<line x1="437.72" y1="405.10" x2="437.72" y2="524.90" stroke="#c8c8c8" stroke-width="0.42" stroke-dasharray="0.9 0.9"/>
<line x1="459.43" y1="405.10" x2="459.43" y2="524.90" stroke="#c8c8c8" stroke-width="0.42" stroke-dasharray="0.9 0.9"/>
<line x1="351.30" y1="413.00" x2="481.60" y2="413.00" stroke="#c8c8c8" stroke-width="0.42" stroke-dasharray="0.9 0.9"/>
<line x1="349.70" y1="413.00" x2="351.30" y2="413.00" stroke="#222" stroke-width="0.45"/>
<text x="348.70" y="414.80" font-size="5.3" text-anchor="end" font-family="Liberation Serif" font-weight="normal" fill="#000">0.010</text>
<line x1="351.30" y1="435.10" x2="481.60" y2="435.10" stroke="#c8c8c8" stroke-width="0.42" stroke-dasharray="0.9 0.9"/>
<line x1="349.70" y1="435.10" x2="351.30" y2="435.10" stroke="#222" stroke-width="0.45"/>
<text x="348.70" y="436.90" font-size="5.3" text-anchor="end" font-family="Liberation Serif" font-weight="normal" fill="#000">0.008</text>
<line x1="351.30" y1="457.50" x2="481.60" y2="457.50" stroke="#c8c8c8" stroke-width="0.42" stroke-dasharray="0.9 0.9"/>
<line x1="349.70" y1="457.50" x2="351.30" y2="457.50" stroke="#222" stroke-width="0.45"/>
<text x="348.70" y="459.30" font-size="5.3" text-anchor="end" font-family="Liberation Serif" font-weight="normal" fill="#000">0.006</text>
<line x1="351.30" y1="480.20" x2="481.60" y2="480.20" stroke="#c8c8c8" stroke-width="0.42" stroke-dasharray="0.9 0.9"/>
<line x1="349.70" y1="480.20" x2="351.30" y2="480.20" stroke="#222" stroke-width="0.45"/>
<text x="348.70" y="482.00" font-size="5.3" text-anchor="end" font-family="Liberation Serif" font-weight="normal" fill="#000">0.004</text>
<line x1="351.30" y1="502.60" x2="481.60" y2="502.60" stroke="#c8c8c8" stroke-width="0.42" stroke-dasharray="0.9 0.9"/>
<line x1="349.70" y1="502.60" x2="351.30" y2="502.60" stroke="#222" stroke-width="0.45"/>
<text x="348.70" y="504.40" font-size="5.3" text-anchor="end" font-family="Liberation Serif" font-weight="normal" fill="#000">0.002</text>
<line x1="349.70" y1="524.70" x2="351.30" y2="524.70" stroke="#222" stroke-width="0.45"/>
<text x="348.70" y="526.50" font-size="5.3" text-anchor="end" font-family="Liberation Serif" font-weight="normal" fill="#000">0.000</text>
<line x1="350.85" y1="524.90" x2="350.85" y2="526.50" stroke="#222" stroke-width="0.45"/>
<text x="350.85" y="532.60" font-size="5.3" text-anchor="middle" font-family="Liberation Serif" font-weight="normal" fill="#000">−300</text>
<line x1="372.57" y1="524.90" x2="372.57" y2="526.50" stroke="#222" stroke-width="0.45"/>
<text x="372.57" y="532.60" font-size="5.3" text-anchor="middle" font-family="Liberation Serif" font-weight="normal" fill="#000">−200</text>
<line x1="394.28" y1="524.90" x2="394.28" y2="526.50" stroke="#222" stroke-width="0.45"/>
<text x="394.28" y="532.60" font-size="5.3" text-anchor="middle" font-family="Liberation Serif" font-weight="normal" fill="#000">−100</text>
<line x1="416.00" y1="524.90" x2="416.00" y2="526.50" stroke="#222" stroke-width="0.45"/>
<text x="416.00" y="532.60" font-size="5.3" text-anchor="middle" font-family="Liberation Serif" font-weight="normal" fill="#000">0</text>
<line x1="437.72" y1="524.90" x2="437.72" y2="526.50" stroke="#222" stroke-width="0.45"/>
<text x="437.72" y="532.60" font-size="5.3" text-anchor="middle" font-family="Liberation Serif" font-weight="normal" fill="#000">100</text>
<line x1="459.43" y1="524.90" x2="459.43" y2="526.50" stroke="#222" stroke-width="0.45"/>
<text x="459.43" y="532.60" font-size="5.3" text-anchor="middle" font-family="Liberation Serif" font-weight="normal" fill="#000">200</text>
<line x1="481.15" y1="524.90" x2="481.15" y2="526.50" stroke="#222" stroke-width="0.45"/>
<text x="481.15" y="532.60" font-size="5.3" text-anchor="middle" font-family="Liberation Serif" font-weight="normal" fill="#000">300</text>
<clipPath id="dclip2"><rect x="351.3" y="405.1" width="130.3" height="119.34999999999995"/></clipPath>
<g clip-path="url(#dclip2)">
<rect x="351.30" y="524.53" width="1.63" height="0.37" fill="#2e86ab" fill-opacity="0.6" stroke="#2e7fa3" stroke-width="0.2" stroke-opacity="0.55"/>
<rect x="352.93" y="524.13" width="1.63" height="0.77" fill="#2e86ab" fill-opacity="0.6" stroke="#2e7fa3" stroke-width="0.2" stroke-opacity="0.55"/>
<rect x="354.56" y="523.77" width="1.63" height="1.13" fill="#2e86ab" fill-opacity="0.6" stroke="#2e7fa3" stroke-width="0.2" stroke-opacity="0.55"/>
<rect x="356.19" y="523.37" width="1.63" height="1.53" fill="#2e86ab" fill-opacity="0.6" stroke="#2e7fa3" stroke-width="0.2" stroke-opacity="0.55"/>
<rect x="357.81" y="522.86" width="1.63" height="2.04" fill="#2e86ab" fill-opacity="0.6" stroke="#2e7fa3" stroke-width="0.2" stroke-opacity="0.55"/>
<rect x="359.44" y="522.37" width="1.63" height="2.53" fill="#2e86ab" fill-opacity="0.6" stroke="#2e7fa3" stroke-width="0.2" stroke-opacity="0.55"/>
<rect x="361.07" y="521.94" width="1.63" height="2.96" fill="#2e86ab" fill-opacity="0.6" stroke="#2e7fa3" stroke-width="0.2" stroke-opacity="0.55"/>
<rect x="362.70" y="521.47" width="1.63" height="3.43" fill="#2e86ab" fill-opacity="0.6" stroke="#2e7fa3" stroke-width="0.2" stroke-opacity="0.55"/>
<rect x="364.33" y="520.88" width="1.63" height="4.02" fill="#2e86ab" fill-opacity="0.6" stroke="#2e7fa3" stroke-width="0.2" stroke-opacity="0.55"/>
<rect x="365.96" y="520.14" width="1.63" height="4.76" fill="#2e86ab" fill-opacity="0.6" stroke="#2e7fa3" stroke-width="0.2" stroke-opacity="0.55"/>
<rect x="367.59" y="519.40" width="1.63" height="5.50" fill="#2e86ab" fill-opacity="0.6" stroke="#2e7fa3" stroke-width="0.2" stroke-opacity="0.55"/>
<rect x="369.22" y="518.25" width="1.63" height="6.65" fill="#2e86ab" fill-opacity="0.6" stroke="#2e7fa3" stroke-width="0.2" stroke-opacity="0.55"/>
<rect x="370.85" y="516.99" width="1.63" height="7.91" fill="#2e86ab" fill-opacity="0.6" stroke="#2e7fa3" stroke-width="0.2" stroke-opacity="0.55"/>
<rect x="372.47" y="515.45" width="1.63" height="9.45" fill="#2e86ab" fill-opacity="0.6" stroke="#2e7fa3" stroke-width="0.2" stroke-opacity="0.55"/>
<rect x="374.10" y="513.30" width="1.63" height="11.60" fill="#2e86ab" fill-opacity="0.6" stroke="#2e7fa3" stroke-width="0.2" stroke-opacity="0.55"/>
<rect x="375.73" y="510.53" width="1.63" height="14.37" fill="#2e86ab" fill-opacity="0.6" stroke="#2e7fa3" stroke-width="0.2" stroke-opacity="0.55"/>
<rect x="377.36" y="507.58" width="1.63" height="17.32" fill="#2e86ab" fill-opacity="0.6" stroke="#2e7fa3" stroke-width="0.2" stroke-opacity="0.55"/>
<rect x="378.99" y="503.68" width="1.63" height="21.22" fill="#2e86ab" fill-opacity="0.6" stroke="#2e7fa3" stroke-width="0.2" stroke-opacity="0.55"/>
<rect x="380.62" y="499.28" width="1.63" height="25.62" fill="#2e86ab" fill-opacity="0.6" stroke="#2e7fa3" stroke-width="0.2" stroke-opacity="0.55"/>
<rect x="382.25" y="495.22" width="1.63" height="29.68" fill="#2e86ab" fill-opacity="0.6" stroke="#2e7fa3" stroke-width="0.2" stroke-opacity="0.55"/>
<rect x="383.88" y="488.96" width="1.63" height="35.94" fill="#2e86ab" fill-opacity="0.6" stroke="#2e7fa3" stroke-width="0.2" stroke-opacity="0.55"/>
<rect x="385.50" y="483.68" width="1.63" height="41.22" fill="#2e86ab" fill-opacity="0.6" stroke="#2e7fa3" stroke-width="0.2" stroke-opacity="0.55"/>
<rect x="387.13" y="478.80" width="1.63" height="46.10" fill="#2e86ab" fill-opacity="0.6" stroke="#2e7fa3" stroke-width="0.2" stroke-opacity="0.55"/>
<rect x="388.76" y="475.57" width="1.63" height="49.33" fill="#2e86ab" fill-opacity="0.6" stroke="#2e7fa3" stroke-width="0.2" stroke-opacity="0.55"/>
<rect x="390.39" y="471.10" width="1.63" height="53.80" fill="#2e86ab" fill-opacity="0.6" stroke="#2e7fa3" stroke-width="0.2" stroke-opacity="0.55"/>
<rect x="392.02" y="465.71" width="1.63" height="59.19" fill="#2e86ab" fill-opacity="0.6" stroke="#2e7fa3" stroke-width="0.2" stroke-opacity="0.55"/>
<rect x="393.65" y="460.28" width="1.63" height="64.62" fill="#2e86ab" fill-opacity="0.6" stroke="#2e7fa3" stroke-width="0.2" stroke-opacity="0.55"/>
<rect x="395.28" y="455.33" width="1.63" height="69.57" fill="#2e86ab" fill-opacity="0.6" stroke="#2e7fa3" stroke-width="0.2" stroke-opacity="0.55"/>
<rect x="396.91" y="449.46" width="1.63" height="75.44" fill="#2e86ab" fill-opacity="0.6" stroke="#2e7fa3" stroke-width="0.2" stroke-opacity="0.55"/>
<rect x="398.53" y="444.90" width="1.63" height="80.00" fill="#2e86ab" fill-opacity="0.6" stroke="#2e7fa3" stroke-width="0.2" stroke-opacity="0.55"/>
<rect x="400.16" y="442.56" width="1.63" height="82.34" fill="#2e86ab" fill-opacity="0.6" stroke="#2e7fa3" stroke-width="0.2" stroke-opacity="0.55"/>
<rect x="401.79" y="443.14" width="1.63" height="81.76" fill="#2e86ab" fill-opacity="0.6" stroke="#2e7fa3" stroke-width="0.2" stroke-opacity="0.55"/>
<rect x="403.42" y="444.03" width="1.63" height="80.87" fill="#2e86ab" fill-opacity="0.6" stroke="#2e7fa3" stroke-width="0.2" stroke-opacity="0.55"/>
<rect x="405.05" y="447.76" width="1.63" height="77.14" fill="#2e86ab" fill-opacity="0.6" stroke="#2e7fa3" stroke-width="0.2" stroke-opacity="0.55"/>
<rect x="406.68" y="457.17" width="1.63" height="67.73" fill="#2e86ab" fill-opacity="0.6" stroke="#2e7fa3" stroke-width="0.2" stroke-opacity="0.55"/>
<rect x="408.31" y="461.71" width="1.63" height="63.19" fill="#2e86ab" fill-opacity="0.6" stroke="#2e7fa3" stroke-width="0.2" stroke-opacity="0.55"/>
<rect x="409.94" y="468.03" width="1.63" height="56.87" fill="#2e86ab" fill-opacity="0.6" stroke="#2e7fa3" stroke-width="0.2" stroke-opacity="0.55"/>
<rect x="411.56" y="475.68" width="1.63" height="49.22" fill="#2e86ab" fill-opacity="0.6" stroke="#2e7fa3" stroke-width="0.2" stroke-opacity="0.55"/>
<rect x="413.19" y="482.72" width="1.63" height="42.18" fill="#2e86ab" fill-opacity="0.6" stroke="#2e7fa3" stroke-width="0.2" stroke-opacity="0.55"/>
<rect x="414.82" y="490.01" width="1.63" height="34.89" fill="#2e86ab" fill-opacity="0.6" stroke="#2e7fa3" stroke-width="0.2" stroke-opacity="0.55"/>
<rect x="416.45" y="496.47" width="1.63" height="28.43" fill="#2e86ab" fill-opacity="0.6" stroke="#2e7fa3" stroke-width="0.2" stroke-opacity="0.55"/>
<rect x="418.08" y="500.70" width="1.63" height="24.20" fill="#2e86ab" fill-opacity="0.6" stroke="#2e7fa3" stroke-width="0.2" stroke-opacity="0.55"/>
<rect x="419.71" y="505.86" width="1.63" height="19.04" fill="#2e86ab" fill-opacity="0.6" stroke="#2e7fa3" stroke-width="0.2" stroke-opacity="0.55"/>
<rect x="421.34" y="509.34" width="1.63" height="15.56" fill="#2e86ab" fill-opacity="0.6" stroke="#2e7fa3" stroke-width="0.2" stroke-opacity="0.55"/>
<rect x="422.97" y="512.54" width="1.63" height="12.36" fill="#2e86ab" fill-opacity="0.6" stroke="#2e7fa3" stroke-width="0.2" stroke-opacity="0.55"/>
<rect x="424.59" y="515.41" width="1.63" height="9.49" fill="#2e86ab" fill-opacity="0.6" stroke="#2e7fa3" stroke-width="0.2" stroke-opacity="0.55"/>
<rect x="426.22" y="517.33" width="1.63" height="7.57" fill="#2e86ab" fill-opacity="0.6" stroke="#2e7fa3" stroke-width="0.2" stroke-opacity="0.55"/>
<rect x="427.85" y="518.64" width="1.63" height="6.26" fill="#2e86ab" fill-opacity="0.6" stroke="#2e7fa3" stroke-width="0.2" stroke-opacity="0.55"/>
<rect x="429.48" y="520.04" width="1.63" height="4.86" fill="#2e86ab" fill-opacity="0.6" stroke="#2e7fa3" stroke-width="0.2" stroke-opacity="0.55"/>
<rect x="431.11" y="521.33" width="1.63" height="3.57" fill="#2e86ab" fill-opacity="0.6" stroke="#2e7fa3" stroke-width="0.2" stroke-opacity="0.55"/>
<rect x="432.74" y="522.31" width="1.63" height="2.59" fill="#2e86ab" fill-opacity="0.6" stroke="#2e7fa3" stroke-width="0.2" stroke-opacity="0.55"/>
<rect x="434.37" y="523.06" width="1.63" height="1.84" fill="#2e86ab" fill-opacity="0.6" stroke="#2e7fa3" stroke-width="0.2" stroke-opacity="0.55"/>
<rect x="436.00" y="523.54" width="1.63" height="1.36" fill="#2e86ab" fill-opacity="0.6" stroke="#2e7fa3" stroke-width="0.2" stroke-opacity="0.55"/>
<rect x="437.62" y="523.92" width="1.63" height="0.98" fill="#2e86ab" fill-opacity="0.6" stroke="#2e7fa3" stroke-width="0.2" stroke-opacity="0.55"/>
<rect x="439.25" y="524.20" width="1.63" height="0.70" fill="#2e86ab" fill-opacity="0.6" stroke="#2e7fa3" stroke-width="0.2" stroke-opacity="0.55"/>
<rect x="440.88" y="524.35" width="1.63" height="0.55" fill="#2e86ab" fill-opacity="0.6" stroke="#2e7fa3" stroke-width="0.2" stroke-opacity="0.55"/>
<rect x="442.51" y="524.48" width="1.63" height="0.42" fill="#2e86ab" fill-opacity="0.6" stroke="#2e7fa3" stroke-width="0.2" stroke-opacity="0.55"/>
<rect x="444.14" y="524.58" width="1.63" height="0.32" fill="#2e86ab" fill-opacity="0.6" stroke="#2e7fa3" stroke-width="0.2" stroke-opacity="0.55"/>
<polyline points="351.24,524.74 352.26,524.50 353.69,524.16 355.37,523.76 357.13,523.31 358.80,522.85 360.41,522.41 362.07,521.96 363.73,521.46 365.36,520.88 366.90,520.15 368.34,519.35 369.70,518.51 371.01,517.53 372.32,516.31 373.65,514.75 375.02,512.82 376.41,510.57 377.80,508.08 379.14,505.40 380.40,502.60 381.57,499.62 382.66,496.41 383.70,493.07 384.74,489.70 385.80,486.40 386.88,483.18 387.96,479.98 389.04,476.78 390.12,473.53 391.20,470.20 392.28,466.65 393.36,462.89 394.44,459.15 395.52,455.66 396.60,452.65 397.71,450.03 398.86,447.64 400.00,445.62 401.06,444.10 402.00,443.20 402.78,442.99 403.44,443.39 404.03,444.30 404.61,445.62 405.24,447.25 405.92,449.28 406.60,451.78 407.29,454.60 408.01,457.64 408.75,460.75 409.53,464.02 410.33,467.54 411.15,471.18 411.98,474.81 412.80,478.30 413.61,481.69 414.42,485.07 415.23,488.38 416.04,491.54 416.85,494.50 417.66,497.25 418.47,499.85 419.28,502.28 420.09,504.54 420.90,506.65 421.69,508.57 422.46,510.31 423.23,511.90 424.05,513.37 424.95,514.75 425.92,516.03 426.95,517.20 428.03,518.26 429.16,519.23 430.35,520.15 431.55,521.01 432.76,521.81 434.04,522.52 435.47,523.14 437.10,523.66 438.96,524.04 441.00,524.31 443.19,524.48 445.50,524.61 447.90,524.74 450.64,524.85 453.75,524.92 456.84,524.96 459.52,524.99 461.40,525.01" fill="none" stroke="#2e7fa3" stroke-width="0.8" stroke-linejoin="round" stroke-linecap="round" stroke-opacity="0.95"/>
<rect x="388.76" y="524.61" width="1.63" height="0.29" fill="#6e148c" fill-opacity="0.39" stroke="#9448b0" stroke-width="0.2" stroke-opacity="0.55"/>
<rect x="390.39" y="524.20" width="1.63" height="0.70" fill="#6e148c" fill-opacity="0.39" stroke="#9448b0" stroke-width="0.2" stroke-opacity="0.55"/>
<rect x="392.02" y="523.53" width="1.63" height="1.37" fill="#6e148c" fill-opacity="0.39" stroke="#9448b0" stroke-width="0.2" stroke-opacity="0.55"/>
<rect x="393.65" y="522.72" width="1.63" height="2.18" fill="#6e148c" fill-opacity="0.39" stroke="#9448b0" stroke-width="0.2" stroke-opacity="0.55"/>
<rect x="395.28" y="521.55" width="1.63" height="3.35" fill="#6e148c" fill-opacity="0.39" stroke="#9448b0" stroke-width="0.2" stroke-opacity="0.55"/>
<rect x="396.91" y="520.31" width="1.63" height="4.59" fill="#6e148c" fill-opacity="0.39" stroke="#9448b0" stroke-width="0.2" stroke-opacity="0.55"/>
<rect x="398.53" y="518.60" width="1.63" height="6.30" fill="#6e148c" fill-opacity="0.39" stroke="#9448b0" stroke-width="0.2" stroke-opacity="0.55"/>
<rect x="400.16" y="515.70" width="1.63" height="9.20" fill="#6e148c" fill-opacity="0.39" stroke="#9448b0" stroke-width="0.2" stroke-opacity="0.55"/>
<rect x="401.79" y="511.61" width="1.63" height="13.29" fill="#6e148c" fill-opacity="0.39" stroke="#9448b0" stroke-width="0.2" stroke-opacity="0.55"/>
<rect x="403.42" y="505.26" width="1.63" height="19.64" fill="#6e148c" fill-opacity="0.39" stroke="#9448b0" stroke-width="0.2" stroke-opacity="0.55"/>
<rect x="405.05" y="497.62" width="1.63" height="27.28" fill="#6e148c" fill-opacity="0.39" stroke="#9448b0" stroke-width="0.2" stroke-opacity="0.55"/>
<rect x="406.68" y="489.09" width="1.63" height="35.81" fill="#6e148c" fill-opacity="0.39" stroke="#9448b0" stroke-width="0.2" stroke-opacity="0.55"/>
<rect x="408.31" y="477.86" width="1.63" height="47.04" fill="#6e148c" fill-opacity="0.39" stroke="#9448b0" stroke-width="0.2" stroke-opacity="0.55"/>
<rect x="409.94" y="466.28" width="1.63" height="58.62" fill="#6e148c" fill-opacity="0.39" stroke="#9448b0" stroke-width="0.2" stroke-opacity="0.55"/>
<rect x="411.56" y="454.59" width="1.63" height="70.31" fill="#6e148c" fill-opacity="0.39" stroke="#9448b0" stroke-width="0.2" stroke-opacity="0.55"/>
<rect x="413.19" y="441.09" width="1.63" height="83.81" fill="#6e148c" fill-opacity="0.39" stroke="#9448b0" stroke-width="0.2" stroke-opacity="0.55"/>
<rect x="414.82" y="431.87" width="1.63" height="93.03" fill="#6e148c" fill-opacity="0.39" stroke="#9448b0" stroke-width="0.2" stroke-opacity="0.55"/>
<rect x="416.45" y="421.53" width="1.63" height="103.37" fill="#6e148c" fill-opacity="0.39" stroke="#9448b0" stroke-width="0.2" stroke-opacity="0.55"/>
<rect x="418.08" y="417.49" width="1.63" height="107.41" fill="#6e148c" fill-opacity="0.39" stroke="#9448b0" stroke-width="0.2" stroke-opacity="0.55"/>
<rect x="419.71" y="410.36" width="1.63" height="114.54" fill="#6e148c" fill-opacity="0.39" stroke="#9448b0" stroke-width="0.2" stroke-opacity="0.55"/>
<rect x="421.34" y="414.01" width="1.63" height="110.89" fill="#6e148c" fill-opacity="0.39" stroke="#9448b0" stroke-width="0.2" stroke-opacity="0.55"/>
<rect x="422.97" y="415.82" width="1.63" height="109.08" fill="#6e148c" fill-opacity="0.39" stroke="#9448b0" stroke-width="0.2" stroke-opacity="0.55"/>
<rect x="424.59" y="420.89" width="1.63" height="104.01" fill="#6e148c" fill-opacity="0.39" stroke="#9448b0" stroke-width="0.2" stroke-opacity="0.55"/>
<rect x="426.22" y="428.28" width="1.63" height="96.62" fill="#6e148c" fill-opacity="0.39" stroke="#9448b0" stroke-width="0.2" stroke-opacity="0.55"/>
<rect x="427.85" y="445.07" width="1.63" height="79.83" fill="#6e148c" fill-opacity="0.39" stroke="#9448b0" stroke-width="0.2" stroke-opacity="0.55"/>
<rect x="429.48" y="459.96" width="1.63" height="64.94" fill="#6e148c" fill-opacity="0.39" stroke="#9448b0" stroke-width="0.2" stroke-opacity="0.55"/>
<rect x="431.11" y="477.29" width="1.63" height="47.61" fill="#6e148c" fill-opacity="0.39" stroke="#9448b0" stroke-width="0.2" stroke-opacity="0.55"/>
<rect x="432.74" y="489.71" width="1.63" height="35.19" fill="#6e148c" fill-opacity="0.39" stroke="#9448b0" stroke-width="0.2" stroke-opacity="0.55"/>
<rect x="434.37" y="499.23" width="1.63" height="25.67" fill="#6e148c" fill-opacity="0.39" stroke="#9448b0" stroke-width="0.2" stroke-opacity="0.55"/>
<rect x="436.00" y="506.69" width="1.63" height="18.21" fill="#6e148c" fill-opacity="0.39" stroke="#9448b0" stroke-width="0.2" stroke-opacity="0.55"/>
<rect x="437.62" y="511.04" width="1.63" height="13.86" fill="#6e148c" fill-opacity="0.39" stroke="#9448b0" stroke-width="0.2" stroke-opacity="0.55"/>
<rect x="439.25" y="514.60" width="1.63" height="10.30" fill="#6e148c" fill-opacity="0.39" stroke="#9448b0" stroke-width="0.2" stroke-opacity="0.55"/>
<rect x="440.88" y="517.07" width="1.63" height="7.83" fill="#6e148c" fill-opacity="0.39" stroke="#9448b0" stroke-width="0.2" stroke-opacity="0.55"/>
<rect x="442.51" y="518.64" width="1.63" height="6.26" fill="#6e148c" fill-opacity="0.39" stroke="#9448b0" stroke-width="0.2" stroke-opacity="0.55"/>
<rect x="444.14" y="520.13" width="1.63" height="4.77" fill="#6e148c" fill-opacity="0.39" stroke="#9448b0" stroke-width="0.2" stroke-opacity="0.55"/>
<rect x="445.77" y="520.94" width="1.63" height="3.96" fill="#6e148c" fill-opacity="0.39" stroke="#9448b0" stroke-width="0.2" stroke-opacity="0.55"/>
<rect x="447.40" y="521.55" width="1.63" height="3.35" fill="#6e148c" fill-opacity="0.39" stroke="#9448b0" stroke-width="0.2" stroke-opacity="0.55"/>
<rect x="449.03" y="522.08" width="1.63" height="2.82" fill="#6e148c" fill-opacity="0.39" stroke="#9448b0" stroke-width="0.2" stroke-opacity="0.55"/>
<rect x="450.65" y="522.48" width="1.63" height="2.42" fill="#6e148c" fill-opacity="0.39" stroke="#9448b0" stroke-width="0.2" stroke-opacity="0.55"/>
<rect x="452.28" y="522.75" width="1.63" height="2.15" fill="#6e148c" fill-opacity="0.39" stroke="#9448b0" stroke-width="0.2" stroke-opacity="0.55"/>
<rect x="453.91" y="522.98" width="1.63" height="1.92" fill="#6e148c" fill-opacity="0.39" stroke="#9448b0" stroke-width="0.2" stroke-opacity="0.55"/>
<rect x="455.54" y="523.15" width="1.63" height="1.75" fill="#6e148c" fill-opacity="0.39" stroke="#9448b0" stroke-width="0.2" stroke-opacity="0.55"/>
<rect x="457.17" y="523.39" width="1.63" height="1.51" fill="#6e148c" fill-opacity="0.39" stroke="#9448b0" stroke-width="0.2" stroke-opacity="0.55"/>
<rect x="458.80" y="523.50" width="1.63" height="1.40" fill="#6e148c" fill-opacity="0.39" stroke="#9448b0" stroke-width="0.2" stroke-opacity="0.55"/>
<rect x="460.43" y="523.66" width="1.63" height="1.24" fill="#6e148c" fill-opacity="0.39" stroke="#9448b0" stroke-width="0.2" stroke-opacity="0.55"/>
<rect x="462.06" y="523.76" width="1.63" height="1.14" fill="#6e148c" fill-opacity="0.39" stroke="#9448b0" stroke-width="0.2" stroke-opacity="0.55"/>
<rect x="463.68" y="523.83" width="1.63" height="1.07" fill="#6e148c" fill-opacity="0.39" stroke="#9448b0" stroke-width="0.2" stroke-opacity="0.55"/>
<rect x="465.31" y="523.91" width="1.63" height="0.99" fill="#6e148c" fill-opacity="0.39" stroke="#9448b0" stroke-width="0.2" stroke-opacity="0.55"/>
<rect x="466.94" y="523.96" width="1.63" height="0.94" fill="#6e148c" fill-opacity="0.39" stroke="#9448b0" stroke-width="0.2" stroke-opacity="0.55"/>
<rect x="468.57" y="524.00" width="1.63" height="0.90" fill="#6e148c" fill-opacity="0.39" stroke="#9448b0" stroke-width="0.2" stroke-opacity="0.55"/>
<rect x="470.20" y="524.03" width="1.63" height="0.87" fill="#6e148c" fill-opacity="0.39" stroke="#9448b0" stroke-width="0.2" stroke-opacity="0.55"/>
<rect x="471.83" y="524.08" width="1.63" height="0.82" fill="#6e148c" fill-opacity="0.39" stroke="#9448b0" stroke-width="0.2" stroke-opacity="0.55"/>
<rect x="473.46" y="524.10" width="1.63" height="0.80" fill="#6e148c" fill-opacity="0.39" stroke="#9448b0" stroke-width="0.2" stroke-opacity="0.55"/>
<rect x="475.09" y="524.13" width="1.63" height="0.77" fill="#6e148c" fill-opacity="0.39" stroke="#9448b0" stroke-width="0.2" stroke-opacity="0.55"/>
<rect x="476.71" y="524.15" width="1.63" height="0.75" fill="#6e148c" fill-opacity="0.39" stroke="#9448b0" stroke-width="0.2" stroke-opacity="0.55"/>
<rect x="478.34" y="524.17" width="1.63" height="0.73" fill="#6e148c" fill-opacity="0.39" stroke="#9448b0" stroke-width="0.2" stroke-opacity="0.55"/>
<rect x="479.97" y="524.20" width="1.63" height="0.70" fill="#6e148c" fill-opacity="0.39" stroke="#9448b0" stroke-width="0.2" stroke-opacity="0.55"/>
<polyline points="377.70,525.01 378.84,524.98 380.49,524.93 382.37,524.88 384.22,524.82 385.80,524.74 387.03,524.71 388.09,524.71 389.07,524.68 390.08,524.54 391.20,524.20 392.51,523.66 393.93,522.96 395.38,522.13 396.75,521.19 397.95,520.15 398.93,519.12 399.76,518.10 400.51,516.91 401.23,515.40 402.00,513.40 402.81,510.94 403.62,508.12 404.43,504.91 405.24,501.28 406.05,497.20 406.86,492.53 407.67,487.31 408.48,481.71 409.29,475.95 410.10,470.20 410.93,464.23 411.78,457.92 412.63,451.62 413.43,445.69 414.15,440.50 414.79,436.10 415.37,432.24 415.89,428.86 416.38,425.87 416.85,423.22 417.28,420.96 417.65,419.15 418.00,417.68 418.36,416.46 418.74,415.39 419.15,414.50 419.58,413.86 420.02,413.42 420.46,413.13 420.90,412.96 421.33,412.86 421.76,412.88 422.20,413.05 422.63,413.42 423.06,414.04 423.49,414.86 423.91,415.85 424.34,417.09 424.77,418.62 425.22,420.52 425.68,422.72 426.16,425.17 426.65,427.98 427.14,431.26 427.65,435.10 428.17,439.75 428.71,445.14 429.26,450.90 429.81,456.67 430.35,462.10 430.88,467.22 431.39,472.27 431.91,477.20 432.46,481.93 433.05,486.40 433.68,490.66 434.34,494.74 435.04,498.58 435.78,502.12 436.56,505.30 437.37,508.06 438.21,510.46 439.11,512.56 440.08,514.42 441.15,516.10 442.25,517.58 443.37,518.80 444.61,519.83 446.08,520.71 447.90,521.50 450.08,522.17 452.55,522.68 455.29,523.07 458.25,523.38 461.40,523.66 465.14,523.88 469.48,524.02 473.84,524.10 477.64,524.15 480.30,524.20" fill="none" stroke="#9448b0" stroke-width="0.8" stroke-linejoin="round" stroke-linecap="round" stroke-opacity="0.95"/>
</g>
<line x1="416.00" y1="405.10" x2="416.00" y2="524.90" stroke="#111" stroke-width="0.6" stroke-dasharray="1.2 0.8"/>
<rect x="351.30" y="405.10" width="130.30" height="119.80" fill="none" stroke="#3c3c3c" stroke-width="0.65" rx="0"/>
<text x="416.45" y="402.20" font-size="6.4" text-anchor="middle" font-family="Liberation Serif" font-weight="normal" fill="#000">Combined Residual</text>
<text x="416.45" y="540.10" font-size="6.5" text-anchor="middle" font-family="Liberation Serif" font-weight="normal" fill="#000">Error (m/s)</text>
<rect x="351.65" y="545.20" width="129.60" height="8.00" fill="#fff" stroke="#d4d4d4" stroke-width="0.5" rx="1"/>
<rect x="353.65" y="547.30" width="8.30" height="3.10" fill="#82b6cd" stroke="#2e7fa3" stroke-width="0.2" rx="0"/>
<text x="365.65" y="550.60" font-size="3.9" text-anchor="start" font-family="Liberation Sans" font-weight="normal" fill="#555" textLength="3.9" lengthAdjust="spacingAndGlyphs">Ref:</text>
<text x="370.15" y="550.70" font-size="4.3" text-anchor="start" font-family="Liberation Sans" font-weight="bold" fill="#000" textLength="45.2" lengthAdjust="spacingAndGlyphs">μ = −72.0, σ = 65.2</text>
<rect x="423.65" y="547.30" width="8.30" height="3.10" fill="#c29ccf" stroke="#9448b0" stroke-width="0.2" rx="0"/>
<text x="434.85" y="550.60" font-size="3.9" text-anchor="start" font-family="Liberation Sans" font-weight="normal" fill="#555" textLength="4.3" lengthAdjust="spacingAndGlyphs">Inv:</text>
<text x="439.85" y="550.70" font-size="4.3" text-anchor="start" font-family="Liberation Sans" font-weight="bold" fill="#000" textLength="39.8" lengthAdjust="spacingAndGlyphs">μ = 24.0, σ = 49.6</text>
<text x="9.70" y="465.50" font-size="6.6" text-anchor="middle" font-family="Liberation Serif" font-weight="normal" fill="#000" transform="rotate(-90 9.70 465.50)">Density</text>
<text x="9.20" y="403.20" font-size="7.0" text-anchor="start" font-family="Liberation Sans" font-weight="bold" fill="#000" textLength="10.6" lengthAdjust="spacingAndGlyphs">(d)</text>
</svg>
</body></html>
